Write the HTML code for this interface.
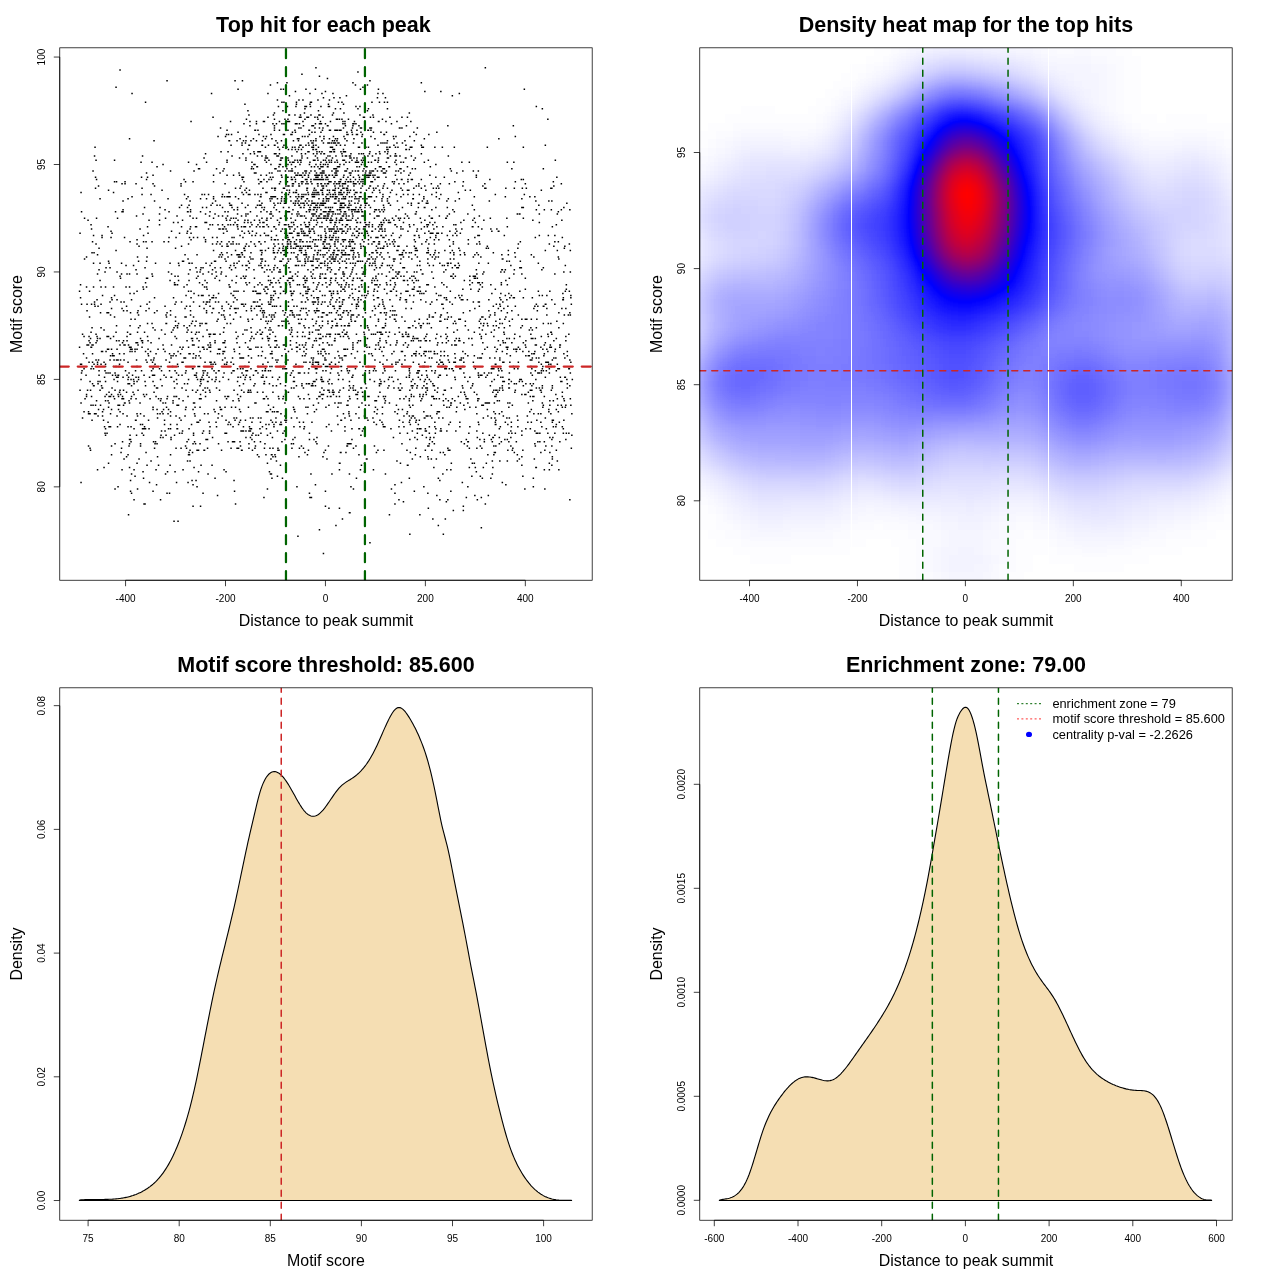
<!DOCTYPE html><html><head><meta charset="utf-8"><style>html,body{margin:0;padding:0;background:#fff}svg{display:block}text{font-family:"Liberation Sans",sans-serif}</style></head><body>
<svg width="1280" height="1280" viewBox="0 0 1280 1280" style="will-change:transform">
<defs>
<clipPath id="c0"><rect x="59.76" y="47.81" width="532.43" height="532.43"/></clipPath>
<clipPath id="c1"><rect x="699.76" y="47.81" width="532.43" height="532.43"/></clipPath>
<clipPath id="c2"><rect x="59.76" y="687.81" width="532.43" height="532.43"/></clipPath>
<clipPath id="c3"><rect x="699.76" y="687.81" width="532.43" height="532.43"/></clipPath>
<filter id="hm" x="0" y="0" width="1" height="1" color-interpolation-filters="sRGB"><feGaussianBlur stdDeviation="3.00"/><feComponentTransfer><feFuncR type="table" tableValues="1 0 1"/><feFuncG type="table" tableValues="1 0 0"/><feFuncB type="table" tableValues="1 1 0"/></feComponentTransfer></filter>
</defs>
<g clip-path="url(#c0)"><path d="M315.2 67.0h1.5v1.5h-1.5zM484.6 67.0h1.5v1.5h-1.5zM119.3 69.2h1.5v1.5h-1.5zM357.2 71.3h1.5v1.5h-1.5zM301.2 73.5h1.5v1.5h-1.5zM318.7 75.6h1.5v1.5h-1.5zM326.7 77.8h1.5v1.5h-1.5zM166.3 79.9h1.5v1.5h-1.5zM234.3 79.9h1.5v1.5h-1.5zM241.7 79.9h1.5v1.5h-1.5zM369.2 79.9h1.5v1.5h-1.5zM276.7 82.1h1.5v1.5h-1.5zM286.2 82.1h1.5v1.5h-1.5zM352.2 82.1h1.5v1.5h-1.5zM420.6 82.1h1.5v1.5h-1.5zM269.7 84.2h1.5v1.5h-1.5zM354.7 84.2h1.5v1.5h-1.5zM366.7 84.2h1.5v1.5h-1.5zM115.3 86.4h1.5v1.5h-1.5zM362.2 86.4h1.5v1.5h-1.5zM237.3 88.5h1.5v1.5h-1.5zM280.2 88.5h1.5v1.5h-1.5zM282.7 88.5h1.5v1.5h-1.5zM305.2 88.5h1.5v1.5h-1.5zM314.7 88.5h1.5v1.5h-1.5zM359.7 88.5h1.5v1.5h-1.5zM377.7 88.5h1.5v1.5h-1.5zM523.6 88.5h1.5v1.5h-1.5zM294.7 90.7h1.5v1.5h-1.5zM324.7 90.7h1.5v1.5h-1.5zM424.1 90.7h1.5v1.5h-1.5zM440.1 90.7h1.5v1.5h-1.5zM131.3 92.8h1.5v1.5h-1.5zM210.8 92.8h1.5v1.5h-1.5zM267.2 92.8h1.5v1.5h-1.5zM309.2 92.8h1.5v1.5h-1.5zM321.2 92.8h1.5v1.5h-1.5zM332.2 92.8h1.5v1.5h-1.5zM377.2 92.8h1.5v1.5h-1.5zM382.2 92.8h1.5v1.5h-1.5zM458.6 92.8h1.5v1.5h-1.5zM288.7 95.0h1.5v1.5h-1.5zM345.7 95.0h1.5v1.5h-1.5zM451.6 95.0h1.5v1.5h-1.5zM322.7 97.1h1.5v1.5h-1.5zM333.2 97.1h1.5v1.5h-1.5zM339.2 97.1h1.5v1.5h-1.5zM376.7 97.1h1.5v1.5h-1.5zM384.7 97.1h1.5v1.5h-1.5zM276.7 99.3h1.5v1.5h-1.5zM298.2 99.3h1.5v1.5h-1.5zM302.2 99.3h1.5v1.5h-1.5zM317.2 99.3h1.5v1.5h-1.5zM328.7 99.3h1.5v1.5h-1.5zM144.8 101.4h1.5v1.5h-1.5zM281.2 101.4h1.5v1.5h-1.5zM283.2 101.4h1.5v1.5h-1.5zM295.7 101.4h1.5v1.5h-1.5zM309.7 101.4h1.5v1.5h-1.5zM310.7 101.4h1.5v1.5h-1.5zM310.7 101.4h1.5v1.5h-1.5zM337.7 101.4h1.5v1.5h-1.5zM341.2 101.4h1.5v1.5h-1.5zM371.2 101.4h1.5v1.5h-1.5zM378.7 101.4h1.5v1.5h-1.5zM383.7 101.4h1.5v1.5h-1.5zM386.7 101.4h1.5v1.5h-1.5zM244.2 103.6h1.5v1.5h-1.5zM295.7 103.6h1.5v1.5h-1.5zM309.2 103.6h1.5v1.5h-1.5zM327.7 103.6h1.5v1.5h-1.5zM342.7 103.6h1.5v1.5h-1.5zM277.7 105.7h1.5v1.5h-1.5zM286.7 105.7h1.5v1.5h-1.5zM295.2 105.7h1.5v1.5h-1.5zM304.2 105.7h1.5v1.5h-1.5zM305.7 105.7h1.5v1.5h-1.5zM309.7 105.7h1.5v1.5h-1.5zM320.2 105.7h1.5v1.5h-1.5zM327.7 105.7h1.5v1.5h-1.5zM328.7 105.7h1.5v1.5h-1.5zM355.2 105.7h1.5v1.5h-1.5zM359.2 105.7h1.5v1.5h-1.5zM535.6 105.7h1.5v1.5h-1.5zM304.2 107.9h1.5v1.5h-1.5zM334.7 107.9h1.5v1.5h-1.5zM339.7 107.9h1.5v1.5h-1.5zM357.2 107.9h1.5v1.5h-1.5zM367.7 107.9h1.5v1.5h-1.5zM386.7 107.9h1.5v1.5h-1.5zM541.6 107.9h1.5v1.5h-1.5zM247.2 110.0h1.5v1.5h-1.5zM282.2 110.0h1.5v1.5h-1.5zM317.7 110.0h1.5v1.5h-1.5zM366.7 110.0h1.5v1.5h-1.5zM273.7 112.2h1.5v1.5h-1.5zM303.7 112.2h1.5v1.5h-1.5zM332.7 112.2h1.5v1.5h-1.5zM343.2 112.2h1.5v1.5h-1.5zM408.6 112.2h1.5v1.5h-1.5zM248.2 114.3h1.5v1.5h-1.5zM272.7 114.3h1.5v1.5h-1.5zM288.2 114.3h1.5v1.5h-1.5zM288.7 114.3h1.5v1.5h-1.5zM294.2 114.3h1.5v1.5h-1.5zM299.7 114.3h1.5v1.5h-1.5zM310.2 114.3h1.5v1.5h-1.5zM318.2 114.3h1.5v1.5h-1.5zM319.2 114.3h1.5v1.5h-1.5zM331.7 114.3h1.5v1.5h-1.5zM359.2 114.3h1.5v1.5h-1.5zM372.2 114.3h1.5v1.5h-1.5zM212.3 116.5h1.5v1.5h-1.5zM267.2 116.5h1.5v1.5h-1.5zM298.7 116.5h1.5v1.5h-1.5zM300.2 116.5h1.5v1.5h-1.5zM306.2 116.5h1.5v1.5h-1.5zM307.7 116.5h1.5v1.5h-1.5zM314.2 116.5h1.5v1.5h-1.5zM316.7 116.5h1.5v1.5h-1.5zM322.2 116.5h1.5v1.5h-1.5zM362.7 116.5h1.5v1.5h-1.5zM363.2 116.5h1.5v1.5h-1.5zM363.7 116.5h1.5v1.5h-1.5zM369.7 116.5h1.5v1.5h-1.5zM372.7 116.5h1.5v1.5h-1.5zM389.2 116.5h1.5v1.5h-1.5zM401.2 116.5h1.5v1.5h-1.5zM406.7 116.5h1.5v1.5h-1.5zM245.7 118.6h1.5v1.5h-1.5zM273.7 118.6h1.5v1.5h-1.5zM284.2 118.6h1.5v1.5h-1.5zM287.2 118.6h1.5v1.5h-1.5zM304.2 118.6h1.5v1.5h-1.5zM317.2 118.6h1.5v1.5h-1.5zM335.7 118.6h1.5v1.5h-1.5zM336.7 118.6h1.5v1.5h-1.5zM338.7 118.6h1.5v1.5h-1.5zM341.2 118.6h1.5v1.5h-1.5zM347.7 118.6h1.5v1.5h-1.5zM381.7 118.6h1.5v1.5h-1.5zM547.1 118.6h1.5v1.5h-1.5zM190.3 120.8h1.5v1.5h-1.5zM229.8 120.8h1.5v1.5h-1.5zM249.2 120.8h1.5v1.5h-1.5zM255.7 120.8h1.5v1.5h-1.5zM262.7 120.8h1.5v1.5h-1.5zM263.2 120.8h1.5v1.5h-1.5zM263.7 120.8h1.5v1.5h-1.5zM278.7 120.8h1.5v1.5h-1.5zM286.7 120.8h1.5v1.5h-1.5zM288.2 120.8h1.5v1.5h-1.5zM288.7 120.8h1.5v1.5h-1.5zM302.2 120.8h1.5v1.5h-1.5zM319.7 120.8h1.5v1.5h-1.5zM329.7 120.8h1.5v1.5h-1.5zM342.2 120.8h1.5v1.5h-1.5zM344.2 120.8h1.5v1.5h-1.5zM353.7 120.8h1.5v1.5h-1.5zM377.7 120.8h1.5v1.5h-1.5zM378.2 120.8h1.5v1.5h-1.5zM385.2 120.8h1.5v1.5h-1.5zM396.2 120.8h1.5v1.5h-1.5zM410.1 120.8h1.5v1.5h-1.5zM243.2 122.9h1.5v1.5h-1.5zM255.7 122.9h1.5v1.5h-1.5zM272.2 122.9h1.5v1.5h-1.5zM275.7 122.9h1.5v1.5h-1.5zM281.2 122.9h1.5v1.5h-1.5zM281.2 122.9h1.5v1.5h-1.5zM283.2 122.9h1.5v1.5h-1.5zM294.7 122.9h1.5v1.5h-1.5zM296.2 122.9h1.5v1.5h-1.5zM298.7 122.9h1.5v1.5h-1.5zM314.7 122.9h1.5v1.5h-1.5zM318.7 122.9h1.5v1.5h-1.5zM320.2 122.9h1.5v1.5h-1.5zM320.7 122.9h1.5v1.5h-1.5zM324.7 122.9h1.5v1.5h-1.5zM342.2 122.9h1.5v1.5h-1.5zM344.2 122.9h1.5v1.5h-1.5zM352.2 122.9h1.5v1.5h-1.5zM353.2 122.9h1.5v1.5h-1.5zM355.2 122.9h1.5v1.5h-1.5zM390.7 122.9h1.5v1.5h-1.5zM249.2 125.1h1.5v1.5h-1.5zM273.7 125.1h1.5v1.5h-1.5zM302.7 125.1h1.5v1.5h-1.5zM311.2 125.1h1.5v1.5h-1.5zM311.2 125.1h1.5v1.5h-1.5zM312.7 125.1h1.5v1.5h-1.5zM326.7 125.1h1.5v1.5h-1.5zM327.2 125.1h1.5v1.5h-1.5zM344.7 125.1h1.5v1.5h-1.5zM352.2 125.1h1.5v1.5h-1.5zM358.2 125.1h1.5v1.5h-1.5zM405.7 125.1h1.5v1.5h-1.5zM447.1 125.1h1.5v1.5h-1.5zM512.6 125.1h1.5v1.5h-1.5zM219.8 127.2h1.5v1.5h-1.5zM273.7 127.2h1.5v1.5h-1.5zM298.2 127.2h1.5v1.5h-1.5zM300.2 127.2h1.5v1.5h-1.5zM314.2 127.2h1.5v1.5h-1.5zM318.7 127.2h1.5v1.5h-1.5zM322.2 127.2h1.5v1.5h-1.5zM342.7 127.2h1.5v1.5h-1.5zM342.7 127.2h1.5v1.5h-1.5zM351.7 127.2h1.5v1.5h-1.5zM359.7 127.2h1.5v1.5h-1.5zM360.7 127.2h1.5v1.5h-1.5zM369.2 127.2h1.5v1.5h-1.5zM370.7 127.2h1.5v1.5h-1.5zM398.7 127.2h1.5v1.5h-1.5zM399.2 127.2h1.5v1.5h-1.5zM401.2 127.2h1.5v1.5h-1.5zM416.6 127.2h1.5v1.5h-1.5zM226.3 129.4h1.5v1.5h-1.5zM254.2 129.4h1.5v1.5h-1.5zM254.7 129.4h1.5v1.5h-1.5zM257.2 129.4h1.5v1.5h-1.5zM273.7 129.4h1.5v1.5h-1.5zM278.7 129.4h1.5v1.5h-1.5zM287.2 129.4h1.5v1.5h-1.5zM294.2 129.4h1.5v1.5h-1.5zM308.2 129.4h1.5v1.5h-1.5zM308.7 129.4h1.5v1.5h-1.5zM321.7 129.4h1.5v1.5h-1.5zM328.7 129.4h1.5v1.5h-1.5zM329.7 129.4h1.5v1.5h-1.5zM334.2 129.4h1.5v1.5h-1.5zM335.7 129.4h1.5v1.5h-1.5zM336.7 129.4h1.5v1.5h-1.5zM338.7 129.4h1.5v1.5h-1.5zM340.2 129.4h1.5v1.5h-1.5zM350.7 129.4h1.5v1.5h-1.5zM356.2 129.4h1.5v1.5h-1.5zM367.2 129.4h1.5v1.5h-1.5zM367.7 129.4h1.5v1.5h-1.5zM370.2 129.4h1.5v1.5h-1.5zM237.3 131.5h1.5v1.5h-1.5zM291.7 131.5h1.5v1.5h-1.5zM294.7 131.5h1.5v1.5h-1.5zM311.2 131.5h1.5v1.5h-1.5zM314.2 131.5h1.5v1.5h-1.5zM320.2 131.5h1.5v1.5h-1.5zM346.2 131.5h1.5v1.5h-1.5zM351.2 131.5h1.5v1.5h-1.5zM360.2 131.5h1.5v1.5h-1.5zM372.7 131.5h1.5v1.5h-1.5zM380.2 131.5h1.5v1.5h-1.5zM385.7 131.5h1.5v1.5h-1.5zM413.1 131.5h1.5v1.5h-1.5zM436.1 131.5h1.5v1.5h-1.5zM225.8 133.7h1.5v1.5h-1.5zM227.8 133.7h1.5v1.5h-1.5zM230.8 133.7h1.5v1.5h-1.5zM258.2 133.7h1.5v1.5h-1.5zM270.2 133.7h1.5v1.5h-1.5zM282.7 133.7h1.5v1.5h-1.5zM283.7 133.7h1.5v1.5h-1.5zM290.2 133.7h1.5v1.5h-1.5zM291.2 133.7h1.5v1.5h-1.5zM308.7 133.7h1.5v1.5h-1.5zM346.2 133.7h1.5v1.5h-1.5zM347.2 133.7h1.5v1.5h-1.5zM351.7 133.7h1.5v1.5h-1.5zM355.7 133.7h1.5v1.5h-1.5zM356.7 133.7h1.5v1.5h-1.5zM361.7 133.7h1.5v1.5h-1.5zM383.2 133.7h1.5v1.5h-1.5zM383.7 133.7h1.5v1.5h-1.5zM415.6 133.7h1.5v1.5h-1.5zM428.1 133.7h1.5v1.5h-1.5zM217.3 135.8h1.5v1.5h-1.5zM224.8 135.8h1.5v1.5h-1.5zM245.2 135.8h1.5v1.5h-1.5zM262.7 135.8h1.5v1.5h-1.5zM265.7 135.8h1.5v1.5h-1.5zM301.7 135.8h1.5v1.5h-1.5zM304.2 135.8h1.5v1.5h-1.5zM307.2 135.8h1.5v1.5h-1.5zM319.2 135.8h1.5v1.5h-1.5zM323.2 135.8h1.5v1.5h-1.5zM332.7 135.8h1.5v1.5h-1.5zM343.2 135.8h1.5v1.5h-1.5zM361.2 135.8h1.5v1.5h-1.5zM370.2 135.8h1.5v1.5h-1.5zM392.7 135.8h1.5v1.5h-1.5zM395.2 135.8h1.5v1.5h-1.5zM409.1 135.8h1.5v1.5h-1.5zM514.6 135.8h1.5v1.5h-1.5zM128.8 138.0h1.5v1.5h-1.5zM239.3 138.0h1.5v1.5h-1.5zM252.7 138.0h1.5v1.5h-1.5zM264.7 138.0h1.5v1.5h-1.5zM271.2 138.0h1.5v1.5h-1.5zM296.7 138.0h1.5v1.5h-1.5zM298.2 138.0h1.5v1.5h-1.5zM315.2 138.0h1.5v1.5h-1.5zM323.2 138.0h1.5v1.5h-1.5zM328.7 138.0h1.5v1.5h-1.5zM334.7 138.0h1.5v1.5h-1.5zM336.7 138.0h1.5v1.5h-1.5zM344.2 138.0h1.5v1.5h-1.5zM353.2 138.0h1.5v1.5h-1.5zM374.2 138.0h1.5v1.5h-1.5zM393.2 138.0h1.5v1.5h-1.5zM423.6 138.0h1.5v1.5h-1.5zM498.1 138.0h1.5v1.5h-1.5zM153.3 140.1h1.5v1.5h-1.5zM228.3 140.1h1.5v1.5h-1.5zM228.8 140.1h1.5v1.5h-1.5zM236.3 140.1h1.5v1.5h-1.5zM242.7 140.1h1.5v1.5h-1.5zM245.2 140.1h1.5v1.5h-1.5zM250.2 140.1h1.5v1.5h-1.5zM255.7 140.1h1.5v1.5h-1.5zM261.7 140.1h1.5v1.5h-1.5zM275.2 140.1h1.5v1.5h-1.5zM280.7 140.1h1.5v1.5h-1.5zM292.7 140.1h1.5v1.5h-1.5zM297.7 140.1h1.5v1.5h-1.5zM297.7 140.1h1.5v1.5h-1.5zM310.2 140.1h1.5v1.5h-1.5zM310.2 140.1h1.5v1.5h-1.5zM312.7 140.1h1.5v1.5h-1.5zM315.2 140.1h1.5v1.5h-1.5zM321.2 140.1h1.5v1.5h-1.5zM331.7 140.1h1.5v1.5h-1.5zM333.7 140.1h1.5v1.5h-1.5zM336.2 140.1h1.5v1.5h-1.5zM346.2 140.1h1.5v1.5h-1.5zM386.7 140.1h1.5v1.5h-1.5zM404.2 140.1h1.5v1.5h-1.5zM404.2 140.1h1.5v1.5h-1.5zM413.6 140.1h1.5v1.5h-1.5zM241.3 142.3h1.5v1.5h-1.5zM244.7 142.3h1.5v1.5h-1.5zM276.7 142.3h1.5v1.5h-1.5zM307.7 142.3h1.5v1.5h-1.5zM311.2 142.3h1.5v1.5h-1.5zM312.2 142.3h1.5v1.5h-1.5zM322.7 142.3h1.5v1.5h-1.5zM327.2 142.3h1.5v1.5h-1.5zM328.7 142.3h1.5v1.5h-1.5zM330.7 142.3h1.5v1.5h-1.5zM332.7 142.3h1.5v1.5h-1.5zM334.2 142.3h1.5v1.5h-1.5zM334.7 142.3h1.5v1.5h-1.5zM337.2 142.3h1.5v1.5h-1.5zM338.2 142.3h1.5v1.5h-1.5zM352.7 142.3h1.5v1.5h-1.5zM361.2 142.3h1.5v1.5h-1.5zM380.2 142.3h1.5v1.5h-1.5zM382.2 142.3h1.5v1.5h-1.5zM384.2 142.3h1.5v1.5h-1.5zM386.2 142.3h1.5v1.5h-1.5zM396.2 142.3h1.5v1.5h-1.5zM401.7 142.3h1.5v1.5h-1.5zM230.3 144.4h1.5v1.5h-1.5zM241.3 144.4h1.5v1.5h-1.5zM248.2 144.4h1.5v1.5h-1.5zM248.7 144.4h1.5v1.5h-1.5zM261.2 144.4h1.5v1.5h-1.5zM261.7 144.4h1.5v1.5h-1.5zM267.7 144.4h1.5v1.5h-1.5zM273.7 144.4h1.5v1.5h-1.5zM274.2 144.4h1.5v1.5h-1.5zM283.2 144.4h1.5v1.5h-1.5zM299.2 144.4h1.5v1.5h-1.5zM300.2 144.4h1.5v1.5h-1.5zM305.2 144.4h1.5v1.5h-1.5zM308.2 144.4h1.5v1.5h-1.5zM312.7 144.4h1.5v1.5h-1.5zM315.2 144.4h1.5v1.5h-1.5zM335.7 144.4h1.5v1.5h-1.5zM339.7 144.4h1.5v1.5h-1.5zM344.2 144.4h1.5v1.5h-1.5zM377.2 144.4h1.5v1.5h-1.5zM393.2 144.4h1.5v1.5h-1.5zM405.2 144.4h1.5v1.5h-1.5zM420.6 144.4h1.5v1.5h-1.5zM544.6 144.4h1.5v1.5h-1.5zM94.3 146.6h1.5v1.5h-1.5zM264.7 146.6h1.5v1.5h-1.5zM277.2 146.6h1.5v1.5h-1.5zM282.2 146.6h1.5v1.5h-1.5zM285.7 146.6h1.5v1.5h-1.5zM286.2 146.6h1.5v1.5h-1.5zM291.7 146.6h1.5v1.5h-1.5zM294.2 146.6h1.5v1.5h-1.5zM298.2 146.6h1.5v1.5h-1.5zM302.2 146.6h1.5v1.5h-1.5zM311.2 146.6h1.5v1.5h-1.5zM312.7 146.6h1.5v1.5h-1.5zM317.7 146.6h1.5v1.5h-1.5zM329.7 146.6h1.5v1.5h-1.5zM330.2 146.6h1.5v1.5h-1.5zM331.7 146.6h1.5v1.5h-1.5zM357.7 146.6h1.5v1.5h-1.5zM358.7 146.6h1.5v1.5h-1.5zM365.2 146.6h1.5v1.5h-1.5zM367.7 146.6h1.5v1.5h-1.5zM386.2 146.6h1.5v1.5h-1.5zM388.7 146.6h1.5v1.5h-1.5zM389.2 146.6h1.5v1.5h-1.5zM394.7 146.6h1.5v1.5h-1.5zM397.2 146.6h1.5v1.5h-1.5zM397.2 146.6h1.5v1.5h-1.5zM409.6 146.6h1.5v1.5h-1.5zM411.1 146.6h1.5v1.5h-1.5zM411.1 146.6h1.5v1.5h-1.5zM421.1 146.6h1.5v1.5h-1.5zM422.6 146.6h1.5v1.5h-1.5zM434.1 146.6h1.5v1.5h-1.5zM441.6 146.6h1.5v1.5h-1.5zM453.6 146.6h1.5v1.5h-1.5zM486.6 146.6h1.5v1.5h-1.5zM522.6 146.6h1.5v1.5h-1.5zM247.2 148.7h1.5v1.5h-1.5zM278.7 148.7h1.5v1.5h-1.5zM287.7 148.7h1.5v1.5h-1.5zM291.2 148.7h1.5v1.5h-1.5zM294.7 148.7h1.5v1.5h-1.5zM297.7 148.7h1.5v1.5h-1.5zM300.7 148.7h1.5v1.5h-1.5zM312.2 148.7h1.5v1.5h-1.5zM312.7 148.7h1.5v1.5h-1.5zM315.2 148.7h1.5v1.5h-1.5zM315.2 148.7h1.5v1.5h-1.5zM315.7 148.7h1.5v1.5h-1.5zM332.2 148.7h1.5v1.5h-1.5zM333.7 148.7h1.5v1.5h-1.5zM342.7 148.7h1.5v1.5h-1.5zM386.2 148.7h1.5v1.5h-1.5zM387.2 148.7h1.5v1.5h-1.5zM405.2 148.7h1.5v1.5h-1.5zM405.7 148.7h1.5v1.5h-1.5zM408.6 148.7h1.5v1.5h-1.5zM220.3 150.9h1.5v1.5h-1.5zM227.3 150.9h1.5v1.5h-1.5zM253.2 150.9h1.5v1.5h-1.5zM257.2 150.9h1.5v1.5h-1.5zM258.7 150.9h1.5v1.5h-1.5zM259.7 150.9h1.5v1.5h-1.5zM296.2 150.9h1.5v1.5h-1.5zM307.2 150.9h1.5v1.5h-1.5zM308.2 150.9h1.5v1.5h-1.5zM316.2 150.9h1.5v1.5h-1.5zM318.7 150.9h1.5v1.5h-1.5zM321.2 150.9h1.5v1.5h-1.5zM321.2 150.9h1.5v1.5h-1.5zM329.2 150.9h1.5v1.5h-1.5zM330.7 150.9h1.5v1.5h-1.5zM333.2 150.9h1.5v1.5h-1.5zM333.7 150.9h1.5v1.5h-1.5zM340.2 150.9h1.5v1.5h-1.5zM342.7 150.9h1.5v1.5h-1.5zM343.7 150.9h1.5v1.5h-1.5zM344.7 150.9h1.5v1.5h-1.5zM369.2 150.9h1.5v1.5h-1.5zM378.7 150.9h1.5v1.5h-1.5zM384.2 150.9h1.5v1.5h-1.5zM387.2 150.9h1.5v1.5h-1.5zM204.8 153.0h1.5v1.5h-1.5zM242.2 153.0h1.5v1.5h-1.5zM249.7 153.0h1.5v1.5h-1.5zM253.7 153.0h1.5v1.5h-1.5zM273.7 153.0h1.5v1.5h-1.5zM275.2 153.0h1.5v1.5h-1.5zM278.7 153.0h1.5v1.5h-1.5zM300.7 153.0h1.5v1.5h-1.5zM304.7 153.0h1.5v1.5h-1.5zM312.7 153.0h1.5v1.5h-1.5zM316.2 153.0h1.5v1.5h-1.5zM320.2 153.0h1.5v1.5h-1.5zM323.2 153.0h1.5v1.5h-1.5zM323.7 153.0h1.5v1.5h-1.5zM341.2 153.0h1.5v1.5h-1.5zM350.2 153.0h1.5v1.5h-1.5zM358.2 153.0h1.5v1.5h-1.5zM360.7 153.0h1.5v1.5h-1.5zM362.7 153.0h1.5v1.5h-1.5zM368.7 153.0h1.5v1.5h-1.5zM375.2 153.0h1.5v1.5h-1.5zM379.2 153.0h1.5v1.5h-1.5zM379.2 153.0h1.5v1.5h-1.5zM386.7 153.0h1.5v1.5h-1.5zM394.7 153.0h1.5v1.5h-1.5zM420.6 153.0h1.5v1.5h-1.5zM93.8 155.2h1.5v1.5h-1.5zM141.8 155.2h1.5v1.5h-1.5zM231.3 155.2h1.5v1.5h-1.5zM256.7 155.2h1.5v1.5h-1.5zM261.2 155.2h1.5v1.5h-1.5zM265.2 155.2h1.5v1.5h-1.5zM276.2 155.2h1.5v1.5h-1.5zM276.7 155.2h1.5v1.5h-1.5zM277.7 155.2h1.5v1.5h-1.5zM291.2 155.2h1.5v1.5h-1.5zM301.2 155.2h1.5v1.5h-1.5zM314.7 155.2h1.5v1.5h-1.5zM327.2 155.2h1.5v1.5h-1.5zM329.2 155.2h1.5v1.5h-1.5zM335.2 155.2h1.5v1.5h-1.5zM341.7 155.2h1.5v1.5h-1.5zM344.7 155.2h1.5v1.5h-1.5zM345.7 155.2h1.5v1.5h-1.5zM348.7 155.2h1.5v1.5h-1.5zM349.2 155.2h1.5v1.5h-1.5zM349.7 155.2h1.5v1.5h-1.5zM363.7 155.2h1.5v1.5h-1.5zM367.2 155.2h1.5v1.5h-1.5zM371.7 155.2h1.5v1.5h-1.5zM389.7 155.2h1.5v1.5h-1.5zM394.2 155.2h1.5v1.5h-1.5zM395.7 155.2h1.5v1.5h-1.5zM399.2 155.2h1.5v1.5h-1.5zM410.6 155.2h1.5v1.5h-1.5zM447.6 155.2h1.5v1.5h-1.5zM203.3 157.3h1.5v1.5h-1.5zM238.8 157.3h1.5v1.5h-1.5zM245.2 157.3h1.5v1.5h-1.5zM264.7 157.3h1.5v1.5h-1.5zM265.7 157.3h1.5v1.5h-1.5zM266.7 157.3h1.5v1.5h-1.5zM280.2 157.3h1.5v1.5h-1.5zM281.7 157.3h1.5v1.5h-1.5zM287.2 157.3h1.5v1.5h-1.5zM301.2 157.3h1.5v1.5h-1.5zM306.7 157.3h1.5v1.5h-1.5zM316.7 157.3h1.5v1.5h-1.5zM325.7 157.3h1.5v1.5h-1.5zM331.7 157.3h1.5v1.5h-1.5zM349.2 157.3h1.5v1.5h-1.5zM350.2 157.3h1.5v1.5h-1.5zM353.2 157.3h1.5v1.5h-1.5zM356.2 157.3h1.5v1.5h-1.5zM362.2 157.3h1.5v1.5h-1.5zM377.7 157.3h1.5v1.5h-1.5zM386.7 157.3h1.5v1.5h-1.5zM387.7 157.3h1.5v1.5h-1.5zM404.7 157.3h1.5v1.5h-1.5zM405.2 157.3h1.5v1.5h-1.5zM414.6 157.3h1.5v1.5h-1.5zM95.3 159.5h1.5v1.5h-1.5zM113.8 159.5h1.5v1.5h-1.5zM226.3 159.5h1.5v1.5h-1.5zM245.2 159.5h1.5v1.5h-1.5zM264.2 159.5h1.5v1.5h-1.5zM268.2 159.5h1.5v1.5h-1.5zM279.7 159.5h1.5v1.5h-1.5zM280.2 159.5h1.5v1.5h-1.5zM287.7 159.5h1.5v1.5h-1.5zM287.7 159.5h1.5v1.5h-1.5zM294.2 159.5h1.5v1.5h-1.5zM296.7 159.5h1.5v1.5h-1.5zM296.7 159.5h1.5v1.5h-1.5zM299.2 159.5h1.5v1.5h-1.5zM300.2 159.5h1.5v1.5h-1.5zM312.7 159.5h1.5v1.5h-1.5zM314.2 159.5h1.5v1.5h-1.5zM317.2 159.5h1.5v1.5h-1.5zM322.7 159.5h1.5v1.5h-1.5zM324.7 159.5h1.5v1.5h-1.5zM328.2 159.5h1.5v1.5h-1.5zM330.7 159.5h1.5v1.5h-1.5zM336.2 159.5h1.5v1.5h-1.5zM342.2 159.5h1.5v1.5h-1.5zM343.7 159.5h1.5v1.5h-1.5zM351.2 159.5h1.5v1.5h-1.5zM356.2 159.5h1.5v1.5h-1.5zM360.7 159.5h1.5v1.5h-1.5zM362.7 159.5h1.5v1.5h-1.5zM374.2 159.5h1.5v1.5h-1.5zM374.7 159.5h1.5v1.5h-1.5zM377.7 159.5h1.5v1.5h-1.5zM395.2 159.5h1.5v1.5h-1.5zM413.1 159.5h1.5v1.5h-1.5zM427.6 159.5h1.5v1.5h-1.5zM554.6 159.5h1.5v1.5h-1.5zM140.3 161.6h1.5v1.5h-1.5zM151.3 161.6h1.5v1.5h-1.5zM187.8 161.6h1.5v1.5h-1.5zM205.8 161.6h1.5v1.5h-1.5zM226.3 161.6h1.5v1.5h-1.5zM251.2 161.6h1.5v1.5h-1.5zM265.7 161.6h1.5v1.5h-1.5zM289.2 161.6h1.5v1.5h-1.5zM291.7 161.6h1.5v1.5h-1.5zM293.2 161.6h1.5v1.5h-1.5zM297.2 161.6h1.5v1.5h-1.5zM300.2 161.6h1.5v1.5h-1.5zM309.2 161.6h1.5v1.5h-1.5zM320.2 161.6h1.5v1.5h-1.5zM325.7 161.6h1.5v1.5h-1.5zM328.7 161.6h1.5v1.5h-1.5zM330.7 161.6h1.5v1.5h-1.5zM334.2 161.6h1.5v1.5h-1.5zM336.7 161.6h1.5v1.5h-1.5zM345.2 161.6h1.5v1.5h-1.5zM348.7 161.6h1.5v1.5h-1.5zM354.7 161.6h1.5v1.5h-1.5zM355.7 161.6h1.5v1.5h-1.5zM356.2 161.6h1.5v1.5h-1.5zM357.7 161.6h1.5v1.5h-1.5zM361.7 161.6h1.5v1.5h-1.5zM367.7 161.6h1.5v1.5h-1.5zM370.7 161.6h1.5v1.5h-1.5zM377.2 161.6h1.5v1.5h-1.5zM385.7 161.6h1.5v1.5h-1.5zM394.2 161.6h1.5v1.5h-1.5zM400.2 161.6h1.5v1.5h-1.5zM402.7 161.6h1.5v1.5h-1.5zM423.6 161.6h1.5v1.5h-1.5zM423.6 161.6h1.5v1.5h-1.5zM461.1 161.6h1.5v1.5h-1.5zM468.6 161.6h1.5v1.5h-1.5zM506.6 161.6h1.5v1.5h-1.5zM513.1 161.6h1.5v1.5h-1.5zM162.3 163.8h1.5v1.5h-1.5zM195.8 163.8h1.5v1.5h-1.5zM253.2 163.8h1.5v1.5h-1.5zM254.2 163.8h1.5v1.5h-1.5zM270.2 163.8h1.5v1.5h-1.5zM278.7 163.8h1.5v1.5h-1.5zM279.7 163.8h1.5v1.5h-1.5zM287.2 163.8h1.5v1.5h-1.5zM290.7 163.8h1.5v1.5h-1.5zM299.2 163.8h1.5v1.5h-1.5zM308.7 163.8h1.5v1.5h-1.5zM315.2 163.8h1.5v1.5h-1.5zM319.7 163.8h1.5v1.5h-1.5zM322.7 163.8h1.5v1.5h-1.5zM324.7 163.8h1.5v1.5h-1.5zM327.2 163.8h1.5v1.5h-1.5zM339.2 163.8h1.5v1.5h-1.5zM343.2 163.8h1.5v1.5h-1.5zM360.7 163.8h1.5v1.5h-1.5zM363.7 163.8h1.5v1.5h-1.5zM395.7 163.8h1.5v1.5h-1.5zM435.1 163.8h1.5v1.5h-1.5zM156.3 165.9h1.5v1.5h-1.5zM251.2 165.9h1.5v1.5h-1.5zM256.2 165.9h1.5v1.5h-1.5zM256.7 165.9h1.5v1.5h-1.5zM278.2 165.9h1.5v1.5h-1.5zM282.2 165.9h1.5v1.5h-1.5zM285.7 165.9h1.5v1.5h-1.5zM294.7 165.9h1.5v1.5h-1.5zM310.7 165.9h1.5v1.5h-1.5zM313.7 165.9h1.5v1.5h-1.5zM317.2 165.9h1.5v1.5h-1.5zM320.2 165.9h1.5v1.5h-1.5zM321.2 165.9h1.5v1.5h-1.5zM322.2 165.9h1.5v1.5h-1.5zM326.7 165.9h1.5v1.5h-1.5zM327.2 165.9h1.5v1.5h-1.5zM336.7 165.9h1.5v1.5h-1.5zM337.7 165.9h1.5v1.5h-1.5zM338.7 165.9h1.5v1.5h-1.5zM356.2 165.9h1.5v1.5h-1.5zM358.7 165.9h1.5v1.5h-1.5zM365.2 165.9h1.5v1.5h-1.5zM366.2 165.9h1.5v1.5h-1.5zM378.7 165.9h1.5v1.5h-1.5zM380.2 165.9h1.5v1.5h-1.5zM388.2 165.9h1.5v1.5h-1.5zM388.7 165.9h1.5v1.5h-1.5zM406.7 165.9h1.5v1.5h-1.5zM406.7 165.9h1.5v1.5h-1.5zM429.6 165.9h1.5v1.5h-1.5zM197.8 168.0h1.5v1.5h-1.5zM198.8 168.0h1.5v1.5h-1.5zM215.8 168.0h1.5v1.5h-1.5zM223.3 168.0h1.5v1.5h-1.5zM250.7 168.0h1.5v1.5h-1.5zM252.7 168.0h1.5v1.5h-1.5zM274.2 168.0h1.5v1.5h-1.5zM275.2 168.0h1.5v1.5h-1.5zM286.2 168.0h1.5v1.5h-1.5zM291.2 168.0h1.5v1.5h-1.5zM318.7 168.0h1.5v1.5h-1.5zM319.2 168.0h1.5v1.5h-1.5zM333.2 168.0h1.5v1.5h-1.5zM334.2 168.0h1.5v1.5h-1.5zM335.2 168.0h1.5v1.5h-1.5zM335.7 168.0h1.5v1.5h-1.5zM346.7 168.0h1.5v1.5h-1.5zM363.2 168.0h1.5v1.5h-1.5zM374.7 168.0h1.5v1.5h-1.5zM382.2 168.0h1.5v1.5h-1.5zM383.7 168.0h1.5v1.5h-1.5zM399.2 168.0h1.5v1.5h-1.5zM400.2 168.0h1.5v1.5h-1.5zM411.6 168.0h1.5v1.5h-1.5zM414.6 168.0h1.5v1.5h-1.5zM449.6 168.0h1.5v1.5h-1.5zM511.1 168.0h1.5v1.5h-1.5zM542.6 168.0h1.5v1.5h-1.5zM92.3 170.2h1.5v1.5h-1.5zM169.8 170.2h1.5v1.5h-1.5zM193.3 170.2h1.5v1.5h-1.5zM193.3 170.2h1.5v1.5h-1.5zM222.3 170.2h1.5v1.5h-1.5zM277.2 170.2h1.5v1.5h-1.5zM279.2 170.2h1.5v1.5h-1.5zM284.7 170.2h1.5v1.5h-1.5zM288.2 170.2h1.5v1.5h-1.5zM290.2 170.2h1.5v1.5h-1.5zM291.7 170.2h1.5v1.5h-1.5zM304.2 170.2h1.5v1.5h-1.5zM304.2 170.2h1.5v1.5h-1.5zM305.2 170.2h1.5v1.5h-1.5zM305.7 170.2h1.5v1.5h-1.5zM310.2 170.2h1.5v1.5h-1.5zM314.2 170.2h1.5v1.5h-1.5zM321.7 170.2h1.5v1.5h-1.5zM323.2 170.2h1.5v1.5h-1.5zM331.2 170.2h1.5v1.5h-1.5zM335.2 170.2h1.5v1.5h-1.5zM335.7 170.2h1.5v1.5h-1.5zM337.2 170.2h1.5v1.5h-1.5zM344.2 170.2h1.5v1.5h-1.5zM344.7 170.2h1.5v1.5h-1.5zM345.7 170.2h1.5v1.5h-1.5zM351.7 170.2h1.5v1.5h-1.5zM354.7 170.2h1.5v1.5h-1.5zM357.2 170.2h1.5v1.5h-1.5zM357.7 170.2h1.5v1.5h-1.5zM357.7 170.2h1.5v1.5h-1.5zM362.2 170.2h1.5v1.5h-1.5zM365.2 170.2h1.5v1.5h-1.5zM369.2 170.2h1.5v1.5h-1.5zM371.2 170.2h1.5v1.5h-1.5zM372.7 170.2h1.5v1.5h-1.5zM376.7 170.2h1.5v1.5h-1.5zM380.7 170.2h1.5v1.5h-1.5zM381.2 170.2h1.5v1.5h-1.5zM385.7 170.2h1.5v1.5h-1.5zM395.2 170.2h1.5v1.5h-1.5zM397.7 170.2h1.5v1.5h-1.5zM403.2 170.2h1.5v1.5h-1.5zM450.6 170.2h1.5v1.5h-1.5zM462.1 170.2h1.5v1.5h-1.5zM472.6 170.2h1.5v1.5h-1.5zM477.6 170.2h1.5v1.5h-1.5zM145.8 172.3h1.5v1.5h-1.5zM219.3 172.3h1.5v1.5h-1.5zM238.3 172.3h1.5v1.5h-1.5zM253.7 172.3h1.5v1.5h-1.5zM255.2 172.3h1.5v1.5h-1.5zM268.7 172.3h1.5v1.5h-1.5zM271.2 172.3h1.5v1.5h-1.5zM294.2 172.3h1.5v1.5h-1.5zM297.2 172.3h1.5v1.5h-1.5zM302.2 172.3h1.5v1.5h-1.5zM302.2 172.3h1.5v1.5h-1.5zM305.2 172.3h1.5v1.5h-1.5zM308.7 172.3h1.5v1.5h-1.5zM315.7 172.3h1.5v1.5h-1.5zM319.7 172.3h1.5v1.5h-1.5zM320.7 172.3h1.5v1.5h-1.5zM322.2 172.3h1.5v1.5h-1.5zM323.2 172.3h1.5v1.5h-1.5zM334.2 172.3h1.5v1.5h-1.5zM335.7 172.3h1.5v1.5h-1.5zM348.7 172.3h1.5v1.5h-1.5zM350.2 172.3h1.5v1.5h-1.5zM364.7 172.3h1.5v1.5h-1.5zM368.7 172.3h1.5v1.5h-1.5zM370.2 172.3h1.5v1.5h-1.5zM370.2 172.3h1.5v1.5h-1.5zM382.7 172.3h1.5v1.5h-1.5zM382.7 172.3h1.5v1.5h-1.5zM384.2 172.3h1.5v1.5h-1.5zM384.7 172.3h1.5v1.5h-1.5zM400.2 172.3h1.5v1.5h-1.5zM409.6 172.3h1.5v1.5h-1.5zM456.1 172.3h1.5v1.5h-1.5zM152.3 174.5h1.5v1.5h-1.5zM212.8 174.5h1.5v1.5h-1.5zM226.3 174.5h1.5v1.5h-1.5zM232.8 174.5h1.5v1.5h-1.5zM238.8 174.5h1.5v1.5h-1.5zM260.2 174.5h1.5v1.5h-1.5zM265.7 174.5h1.5v1.5h-1.5zM280.7 174.5h1.5v1.5h-1.5zM285.2 174.5h1.5v1.5h-1.5zM295.2 174.5h1.5v1.5h-1.5zM296.2 174.5h1.5v1.5h-1.5zM296.7 174.5h1.5v1.5h-1.5zM298.7 174.5h1.5v1.5h-1.5zM300.2 174.5h1.5v1.5h-1.5zM300.7 174.5h1.5v1.5h-1.5zM303.7 174.5h1.5v1.5h-1.5zM303.7 174.5h1.5v1.5h-1.5zM304.2 174.5h1.5v1.5h-1.5zM307.7 174.5h1.5v1.5h-1.5zM314.2 174.5h1.5v1.5h-1.5zM315.2 174.5h1.5v1.5h-1.5zM315.7 174.5h1.5v1.5h-1.5zM316.7 174.5h1.5v1.5h-1.5zM317.2 174.5h1.5v1.5h-1.5zM317.7 174.5h1.5v1.5h-1.5zM318.7 174.5h1.5v1.5h-1.5zM321.2 174.5h1.5v1.5h-1.5zM324.7 174.5h1.5v1.5h-1.5zM325.2 174.5h1.5v1.5h-1.5zM328.2 174.5h1.5v1.5h-1.5zM328.7 174.5h1.5v1.5h-1.5zM331.7 174.5h1.5v1.5h-1.5zM334.7 174.5h1.5v1.5h-1.5zM336.2 174.5h1.5v1.5h-1.5zM343.2 174.5h1.5v1.5h-1.5zM349.7 174.5h1.5v1.5h-1.5zM357.7 174.5h1.5v1.5h-1.5zM362.2 174.5h1.5v1.5h-1.5zM364.2 174.5h1.5v1.5h-1.5zM365.2 174.5h1.5v1.5h-1.5zM366.2 174.5h1.5v1.5h-1.5zM367.7 174.5h1.5v1.5h-1.5zM368.2 174.5h1.5v1.5h-1.5zM369.7 174.5h1.5v1.5h-1.5zM372.2 174.5h1.5v1.5h-1.5zM374.2 174.5h1.5v1.5h-1.5zM394.7 174.5h1.5v1.5h-1.5zM408.1 174.5h1.5v1.5h-1.5zM429.1 174.5h1.5v1.5h-1.5zM475.6 174.5h1.5v1.5h-1.5zM94.8 176.6h1.5v1.5h-1.5zM140.8 176.6h1.5v1.5h-1.5zM146.8 176.6h1.5v1.5h-1.5zM241.3 176.6h1.5v1.5h-1.5zM242.2 176.6h1.5v1.5h-1.5zM242.7 176.6h1.5v1.5h-1.5zM269.7 176.6h1.5v1.5h-1.5zM272.2 176.6h1.5v1.5h-1.5zM281.2 176.6h1.5v1.5h-1.5zM285.7 176.6h1.5v1.5h-1.5zM287.2 176.6h1.5v1.5h-1.5zM290.7 176.6h1.5v1.5h-1.5zM293.7 176.6h1.5v1.5h-1.5zM301.7 176.6h1.5v1.5h-1.5zM307.7 176.6h1.5v1.5h-1.5zM315.2 176.6h1.5v1.5h-1.5zM315.2 176.6h1.5v1.5h-1.5zM316.7 176.6h1.5v1.5h-1.5zM317.2 176.6h1.5v1.5h-1.5zM317.2 176.6h1.5v1.5h-1.5zM321.2 176.6h1.5v1.5h-1.5zM325.7 176.6h1.5v1.5h-1.5zM326.7 176.6h1.5v1.5h-1.5zM333.2 176.6h1.5v1.5h-1.5zM333.7 176.6h1.5v1.5h-1.5zM342.7 176.6h1.5v1.5h-1.5zM347.2 176.6h1.5v1.5h-1.5zM352.7 176.6h1.5v1.5h-1.5zM358.7 176.6h1.5v1.5h-1.5zM365.2 176.6h1.5v1.5h-1.5zM367.2 176.6h1.5v1.5h-1.5zM368.2 176.6h1.5v1.5h-1.5zM372.7 176.6h1.5v1.5h-1.5zM376.7 176.6h1.5v1.5h-1.5zM377.7 176.6h1.5v1.5h-1.5zM378.2 176.6h1.5v1.5h-1.5zM385.2 176.6h1.5v1.5h-1.5zM435.1 176.6h1.5v1.5h-1.5zM443.6 176.6h1.5v1.5h-1.5zM475.6 176.6h1.5v1.5h-1.5zM556.1 176.6h1.5v1.5h-1.5zM95.8 178.8h1.5v1.5h-1.5zM145.8 178.8h1.5v1.5h-1.5zM183.3 178.8h1.5v1.5h-1.5zM241.7 178.8h1.5v1.5h-1.5zM257.7 178.8h1.5v1.5h-1.5zM263.2 178.8h1.5v1.5h-1.5zM268.2 178.8h1.5v1.5h-1.5zM270.7 178.8h1.5v1.5h-1.5zM290.7 178.8h1.5v1.5h-1.5zM291.2 178.8h1.5v1.5h-1.5zM291.2 178.8h1.5v1.5h-1.5zM291.7 178.8h1.5v1.5h-1.5zM294.7 178.8h1.5v1.5h-1.5zM304.7 178.8h1.5v1.5h-1.5zM305.2 178.8h1.5v1.5h-1.5zM306.2 178.8h1.5v1.5h-1.5zM310.2 178.8h1.5v1.5h-1.5zM313.2 178.8h1.5v1.5h-1.5zM314.2 178.8h1.5v1.5h-1.5zM315.7 178.8h1.5v1.5h-1.5zM317.2 178.8h1.5v1.5h-1.5zM318.2 178.8h1.5v1.5h-1.5zM318.7 178.8h1.5v1.5h-1.5zM320.2 178.8h1.5v1.5h-1.5zM321.7 178.8h1.5v1.5h-1.5zM322.7 178.8h1.5v1.5h-1.5zM325.2 178.8h1.5v1.5h-1.5zM327.2 178.8h1.5v1.5h-1.5zM327.2 178.8h1.5v1.5h-1.5zM339.7 178.8h1.5v1.5h-1.5zM340.2 178.8h1.5v1.5h-1.5zM345.7 178.8h1.5v1.5h-1.5zM349.7 178.8h1.5v1.5h-1.5zM354.7 178.8h1.5v1.5h-1.5zM358.7 178.8h1.5v1.5h-1.5zM361.2 178.8h1.5v1.5h-1.5zM362.7 178.8h1.5v1.5h-1.5zM374.2 178.8h1.5v1.5h-1.5zM396.2 178.8h1.5v1.5h-1.5zM400.7 178.8h1.5v1.5h-1.5zM401.2 178.8h1.5v1.5h-1.5zM407.2 178.8h1.5v1.5h-1.5zM410.6 178.8h1.5v1.5h-1.5zM411.6 178.8h1.5v1.5h-1.5zM420.6 178.8h1.5v1.5h-1.5zM489.1 178.8h1.5v1.5h-1.5zM520.6 178.8h1.5v1.5h-1.5zM522.6 178.8h1.5v1.5h-1.5zM113.8 180.9h1.5v1.5h-1.5zM115.8 180.9h1.5v1.5h-1.5zM124.3 180.9h1.5v1.5h-1.5zM184.8 180.9h1.5v1.5h-1.5zM192.3 180.9h1.5v1.5h-1.5zM212.8 180.9h1.5v1.5h-1.5zM243.2 180.9h1.5v1.5h-1.5zM259.7 180.9h1.5v1.5h-1.5zM260.7 180.9h1.5v1.5h-1.5zM266.2 180.9h1.5v1.5h-1.5zM279.7 180.9h1.5v1.5h-1.5zM285.2 180.9h1.5v1.5h-1.5zM285.7 180.9h1.5v1.5h-1.5zM286.7 180.9h1.5v1.5h-1.5zM294.7 180.9h1.5v1.5h-1.5zM300.7 180.9h1.5v1.5h-1.5zM302.2 180.9h1.5v1.5h-1.5zM306.2 180.9h1.5v1.5h-1.5zM310.2 180.9h1.5v1.5h-1.5zM328.2 180.9h1.5v1.5h-1.5zM328.7 180.9h1.5v1.5h-1.5zM330.2 180.9h1.5v1.5h-1.5zM334.2 180.9h1.5v1.5h-1.5zM338.2 180.9h1.5v1.5h-1.5zM339.7 180.9h1.5v1.5h-1.5zM344.7 180.9h1.5v1.5h-1.5zM347.2 180.9h1.5v1.5h-1.5zM347.7 180.9h1.5v1.5h-1.5zM349.7 180.9h1.5v1.5h-1.5zM350.2 180.9h1.5v1.5h-1.5zM352.7 180.9h1.5v1.5h-1.5zM357.2 180.9h1.5v1.5h-1.5zM360.2 180.9h1.5v1.5h-1.5zM362.2 180.9h1.5v1.5h-1.5zM362.2 180.9h1.5v1.5h-1.5zM370.2 180.9h1.5v1.5h-1.5zM371.7 180.9h1.5v1.5h-1.5zM391.7 180.9h1.5v1.5h-1.5zM393.7 180.9h1.5v1.5h-1.5zM407.2 180.9h1.5v1.5h-1.5zM454.1 180.9h1.5v1.5h-1.5zM462.6 180.9h1.5v1.5h-1.5zM514.6 180.9h1.5v1.5h-1.5zM552.6 180.9h1.5v1.5h-1.5zM121.3 183.1h1.5v1.5h-1.5zM124.3 183.1h1.5v1.5h-1.5zM135.3 183.1h1.5v1.5h-1.5zM152.3 183.1h1.5v1.5h-1.5zM180.3 183.1h1.5v1.5h-1.5zM224.3 183.1h1.5v1.5h-1.5zM258.2 183.1h1.5v1.5h-1.5zM278.7 183.1h1.5v1.5h-1.5zM291.7 183.1h1.5v1.5h-1.5zM292.7 183.1h1.5v1.5h-1.5zM298.2 183.1h1.5v1.5h-1.5zM298.2 183.1h1.5v1.5h-1.5zM301.2 183.1h1.5v1.5h-1.5zM305.2 183.1h1.5v1.5h-1.5zM307.2 183.1h1.5v1.5h-1.5zM311.2 183.1h1.5v1.5h-1.5zM316.7 183.1h1.5v1.5h-1.5zM317.2 183.1h1.5v1.5h-1.5zM320.2 183.1h1.5v1.5h-1.5zM320.7 183.1h1.5v1.5h-1.5zM320.7 183.1h1.5v1.5h-1.5zM324.2 183.1h1.5v1.5h-1.5zM326.7 183.1h1.5v1.5h-1.5zM327.2 183.1h1.5v1.5h-1.5zM327.7 183.1h1.5v1.5h-1.5zM333.2 183.1h1.5v1.5h-1.5zM335.7 183.1h1.5v1.5h-1.5zM336.2 183.1h1.5v1.5h-1.5zM338.2 183.1h1.5v1.5h-1.5zM338.7 183.1h1.5v1.5h-1.5zM338.7 183.1h1.5v1.5h-1.5zM341.7 183.1h1.5v1.5h-1.5zM342.7 183.1h1.5v1.5h-1.5zM343.2 183.1h1.5v1.5h-1.5zM344.2 183.1h1.5v1.5h-1.5zM344.2 183.1h1.5v1.5h-1.5zM344.7 183.1h1.5v1.5h-1.5zM352.7 183.1h1.5v1.5h-1.5zM354.2 183.1h1.5v1.5h-1.5zM355.2 183.1h1.5v1.5h-1.5zM358.7 183.1h1.5v1.5h-1.5zM362.2 183.1h1.5v1.5h-1.5zM383.7 183.1h1.5v1.5h-1.5zM393.2 183.1h1.5v1.5h-1.5zM398.2 183.1h1.5v1.5h-1.5zM403.2 183.1h1.5v1.5h-1.5zM418.1 183.1h1.5v1.5h-1.5zM430.6 183.1h1.5v1.5h-1.5zM439.6 183.1h1.5v1.5h-1.5zM448.6 183.1h1.5v1.5h-1.5zM484.1 183.1h1.5v1.5h-1.5zM484.1 183.1h1.5v1.5h-1.5zM524.6 183.1h1.5v1.5h-1.5zM560.6 183.1h1.5v1.5h-1.5zM97.8 185.2h1.5v1.5h-1.5zM153.8 185.2h1.5v1.5h-1.5zM180.3 185.2h1.5v1.5h-1.5zM240.3 185.2h1.5v1.5h-1.5zM285.2 185.2h1.5v1.5h-1.5zM287.2 185.2h1.5v1.5h-1.5zM288.2 185.2h1.5v1.5h-1.5zM291.7 185.2h1.5v1.5h-1.5zM292.2 185.2h1.5v1.5h-1.5zM298.2 185.2h1.5v1.5h-1.5zM298.7 185.2h1.5v1.5h-1.5zM298.7 185.2h1.5v1.5h-1.5zM317.2 185.2h1.5v1.5h-1.5zM321.2 185.2h1.5v1.5h-1.5zM322.7 185.2h1.5v1.5h-1.5zM325.7 185.2h1.5v1.5h-1.5zM334.2 185.2h1.5v1.5h-1.5zM334.2 185.2h1.5v1.5h-1.5zM339.2 185.2h1.5v1.5h-1.5zM341.7 185.2h1.5v1.5h-1.5zM347.2 185.2h1.5v1.5h-1.5zM353.2 185.2h1.5v1.5h-1.5zM361.7 185.2h1.5v1.5h-1.5zM369.2 185.2h1.5v1.5h-1.5zM369.7 185.2h1.5v1.5h-1.5zM377.2 185.2h1.5v1.5h-1.5zM382.7 185.2h1.5v1.5h-1.5zM415.6 185.2h1.5v1.5h-1.5zM418.1 185.2h1.5v1.5h-1.5zM424.1 185.2h1.5v1.5h-1.5zM437.1 185.2h1.5v1.5h-1.5zM462.1 185.2h1.5v1.5h-1.5zM482.1 185.2h1.5v1.5h-1.5zM553.1 185.2h1.5v1.5h-1.5zM94.8 187.4h1.5v1.5h-1.5zM141.3 187.4h1.5v1.5h-1.5zM234.8 187.4h1.5v1.5h-1.5zM239.3 187.4h1.5v1.5h-1.5zM239.3 187.4h1.5v1.5h-1.5zM245.7 187.4h1.5v1.5h-1.5zM262.2 187.4h1.5v1.5h-1.5zM271.2 187.4h1.5v1.5h-1.5zM271.2 187.4h1.5v1.5h-1.5zM273.7 187.4h1.5v1.5h-1.5zM274.7 187.4h1.5v1.5h-1.5zM282.7 187.4h1.5v1.5h-1.5zM283.7 187.4h1.5v1.5h-1.5zM306.2 187.4h1.5v1.5h-1.5zM306.7 187.4h1.5v1.5h-1.5zM313.7 187.4h1.5v1.5h-1.5zM322.2 187.4h1.5v1.5h-1.5zM322.7 187.4h1.5v1.5h-1.5zM322.7 187.4h1.5v1.5h-1.5zM334.7 187.4h1.5v1.5h-1.5zM337.7 187.4h1.5v1.5h-1.5zM342.2 187.4h1.5v1.5h-1.5zM343.2 187.4h1.5v1.5h-1.5zM345.7 187.4h1.5v1.5h-1.5zM346.7 187.4h1.5v1.5h-1.5zM360.2 187.4h1.5v1.5h-1.5zM368.2 187.4h1.5v1.5h-1.5zM372.7 187.4h1.5v1.5h-1.5zM375.2 187.4h1.5v1.5h-1.5zM382.2 187.4h1.5v1.5h-1.5zM386.7 187.4h1.5v1.5h-1.5zM400.2 187.4h1.5v1.5h-1.5zM413.1 187.4h1.5v1.5h-1.5zM420.6 187.4h1.5v1.5h-1.5zM432.6 187.4h1.5v1.5h-1.5zM435.6 187.4h1.5v1.5h-1.5zM438.1 187.4h1.5v1.5h-1.5zM484.1 187.4h1.5v1.5h-1.5zM485.1 187.4h1.5v1.5h-1.5zM505.1 187.4h1.5v1.5h-1.5zM513.6 187.4h1.5v1.5h-1.5zM521.6 187.4h1.5v1.5h-1.5zM525.6 187.4h1.5v1.5h-1.5zM550.1 187.4h1.5v1.5h-1.5zM551.1 187.4h1.5v1.5h-1.5zM107.8 189.5h1.5v1.5h-1.5zM161.3 189.5h1.5v1.5h-1.5zM244.2 189.5h1.5v1.5h-1.5zM248.7 189.5h1.5v1.5h-1.5zM274.2 189.5h1.5v1.5h-1.5zM286.2 189.5h1.5v1.5h-1.5zM288.7 189.5h1.5v1.5h-1.5zM295.7 189.5h1.5v1.5h-1.5zM306.2 189.5h1.5v1.5h-1.5zM313.2 189.5h1.5v1.5h-1.5zM315.2 189.5h1.5v1.5h-1.5zM320.2 189.5h1.5v1.5h-1.5zM320.7 189.5h1.5v1.5h-1.5zM321.7 189.5h1.5v1.5h-1.5zM326.7 189.5h1.5v1.5h-1.5zM328.7 189.5h1.5v1.5h-1.5zM332.2 189.5h1.5v1.5h-1.5zM332.7 189.5h1.5v1.5h-1.5zM333.2 189.5h1.5v1.5h-1.5zM333.7 189.5h1.5v1.5h-1.5zM334.2 189.5h1.5v1.5h-1.5zM340.2 189.5h1.5v1.5h-1.5zM340.7 189.5h1.5v1.5h-1.5zM346.2 189.5h1.5v1.5h-1.5zM346.7 189.5h1.5v1.5h-1.5zM347.2 189.5h1.5v1.5h-1.5zM349.7 189.5h1.5v1.5h-1.5zM353.2 189.5h1.5v1.5h-1.5zM365.7 189.5h1.5v1.5h-1.5zM373.2 189.5h1.5v1.5h-1.5zM378.7 189.5h1.5v1.5h-1.5zM391.2 189.5h1.5v1.5h-1.5zM401.7 189.5h1.5v1.5h-1.5zM406.7 189.5h1.5v1.5h-1.5zM407.7 189.5h1.5v1.5h-1.5zM408.1 189.5h1.5v1.5h-1.5zM425.1 189.5h1.5v1.5h-1.5zM464.6 189.5h1.5v1.5h-1.5zM469.6 189.5h1.5v1.5h-1.5zM540.6 189.5h1.5v1.5h-1.5zM80.3 191.7h1.5v1.5h-1.5zM112.8 191.7h1.5v1.5h-1.5zM228.3 191.7h1.5v1.5h-1.5zM241.3 191.7h1.5v1.5h-1.5zM245.7 191.7h1.5v1.5h-1.5zM265.2 191.7h1.5v1.5h-1.5zM266.2 191.7h1.5v1.5h-1.5zM281.2 191.7h1.5v1.5h-1.5zM288.7 191.7h1.5v1.5h-1.5zM292.7 191.7h1.5v1.5h-1.5zM292.7 191.7h1.5v1.5h-1.5zM294.7 191.7h1.5v1.5h-1.5zM295.7 191.7h1.5v1.5h-1.5zM307.2 191.7h1.5v1.5h-1.5zM312.2 191.7h1.5v1.5h-1.5zM314.2 191.7h1.5v1.5h-1.5zM316.2 191.7h1.5v1.5h-1.5zM317.7 191.7h1.5v1.5h-1.5zM321.7 191.7h1.5v1.5h-1.5zM328.7 191.7h1.5v1.5h-1.5zM334.2 191.7h1.5v1.5h-1.5zM338.2 191.7h1.5v1.5h-1.5zM339.7 191.7h1.5v1.5h-1.5zM340.2 191.7h1.5v1.5h-1.5zM343.2 191.7h1.5v1.5h-1.5zM343.2 191.7h1.5v1.5h-1.5zM346.7 191.7h1.5v1.5h-1.5zM346.7 191.7h1.5v1.5h-1.5zM348.7 191.7h1.5v1.5h-1.5zM354.7 191.7h1.5v1.5h-1.5zM356.2 191.7h1.5v1.5h-1.5zM359.7 191.7h1.5v1.5h-1.5zM360.2 191.7h1.5v1.5h-1.5zM371.7 191.7h1.5v1.5h-1.5zM379.2 191.7h1.5v1.5h-1.5zM389.7 191.7h1.5v1.5h-1.5zM435.6 191.7h1.5v1.5h-1.5zM457.6 191.7h1.5v1.5h-1.5zM141.3 193.8h1.5v1.5h-1.5zM150.3 193.8h1.5v1.5h-1.5zM183.8 193.8h1.5v1.5h-1.5zM201.3 193.8h1.5v1.5h-1.5zM203.8 193.8h1.5v1.5h-1.5zM207.8 193.8h1.5v1.5h-1.5zM221.8 193.8h1.5v1.5h-1.5zM242.7 193.8h1.5v1.5h-1.5zM247.7 193.8h1.5v1.5h-1.5zM249.2 193.8h1.5v1.5h-1.5zM254.2 193.8h1.5v1.5h-1.5zM257.2 193.8h1.5v1.5h-1.5zM260.2 193.8h1.5v1.5h-1.5zM284.2 193.8h1.5v1.5h-1.5zM287.7 193.8h1.5v1.5h-1.5zM297.7 193.8h1.5v1.5h-1.5zM301.2 193.8h1.5v1.5h-1.5zM303.2 193.8h1.5v1.5h-1.5zM303.2 193.8h1.5v1.5h-1.5zM303.2 193.8h1.5v1.5h-1.5zM305.2 193.8h1.5v1.5h-1.5zM307.7 193.8h1.5v1.5h-1.5zM311.2 193.8h1.5v1.5h-1.5zM312.7 193.8h1.5v1.5h-1.5zM314.2 193.8h1.5v1.5h-1.5zM316.2 193.8h1.5v1.5h-1.5zM318.2 193.8h1.5v1.5h-1.5zM321.7 193.8h1.5v1.5h-1.5zM322.2 193.8h1.5v1.5h-1.5zM326.2 193.8h1.5v1.5h-1.5zM327.2 193.8h1.5v1.5h-1.5zM329.7 193.8h1.5v1.5h-1.5zM332.2 193.8h1.5v1.5h-1.5zM332.7 193.8h1.5v1.5h-1.5zM334.7 193.8h1.5v1.5h-1.5zM338.2 193.8h1.5v1.5h-1.5zM340.2 193.8h1.5v1.5h-1.5zM341.7 193.8h1.5v1.5h-1.5zM346.2 193.8h1.5v1.5h-1.5zM353.7 193.8h1.5v1.5h-1.5zM382.2 193.8h1.5v1.5h-1.5zM395.7 193.8h1.5v1.5h-1.5zM402.7 193.8h1.5v1.5h-1.5zM407.2 193.8h1.5v1.5h-1.5zM412.6 193.8h1.5v1.5h-1.5zM418.6 193.8h1.5v1.5h-1.5zM431.1 193.8h1.5v1.5h-1.5zM440.1 193.8h1.5v1.5h-1.5zM494.6 193.8h1.5v1.5h-1.5zM523.6 193.8h1.5v1.5h-1.5zM131.3 196.0h1.5v1.5h-1.5zM187.3 196.0h1.5v1.5h-1.5zM212.8 196.0h1.5v1.5h-1.5zM221.3 196.0h1.5v1.5h-1.5zM223.8 196.0h1.5v1.5h-1.5zM226.3 196.0h1.5v1.5h-1.5zM227.8 196.0h1.5v1.5h-1.5zM229.3 196.0h1.5v1.5h-1.5zM234.8 196.0h1.5v1.5h-1.5zM259.7 196.0h1.5v1.5h-1.5zM260.2 196.0h1.5v1.5h-1.5zM270.2 196.0h1.5v1.5h-1.5zM271.7 196.0h1.5v1.5h-1.5zM273.2 196.0h1.5v1.5h-1.5zM274.7 196.0h1.5v1.5h-1.5zM281.2 196.0h1.5v1.5h-1.5zM284.7 196.0h1.5v1.5h-1.5zM289.7 196.0h1.5v1.5h-1.5zM295.2 196.0h1.5v1.5h-1.5zM297.7 196.0h1.5v1.5h-1.5zM298.2 196.0h1.5v1.5h-1.5zM300.7 196.0h1.5v1.5h-1.5zM301.7 196.0h1.5v1.5h-1.5zM302.7 196.0h1.5v1.5h-1.5zM311.7 196.0h1.5v1.5h-1.5zM313.2 196.0h1.5v1.5h-1.5zM313.7 196.0h1.5v1.5h-1.5zM325.2 196.0h1.5v1.5h-1.5zM329.7 196.0h1.5v1.5h-1.5zM331.7 196.0h1.5v1.5h-1.5zM332.2 196.0h1.5v1.5h-1.5zM334.7 196.0h1.5v1.5h-1.5zM336.2 196.0h1.5v1.5h-1.5zM342.7 196.0h1.5v1.5h-1.5zM344.7 196.0h1.5v1.5h-1.5zM348.7 196.0h1.5v1.5h-1.5zM351.2 196.0h1.5v1.5h-1.5zM354.7 196.0h1.5v1.5h-1.5zM358.7 196.0h1.5v1.5h-1.5zM360.2 196.0h1.5v1.5h-1.5zM360.2 196.0h1.5v1.5h-1.5zM367.7 196.0h1.5v1.5h-1.5zM369.2 196.0h1.5v1.5h-1.5zM370.7 196.0h1.5v1.5h-1.5zM375.7 196.0h1.5v1.5h-1.5zM382.2 196.0h1.5v1.5h-1.5zM388.7 196.0h1.5v1.5h-1.5zM400.2 196.0h1.5v1.5h-1.5zM423.1 196.0h1.5v1.5h-1.5zM435.6 196.0h1.5v1.5h-1.5zM473.6 196.0h1.5v1.5h-1.5zM504.6 196.0h1.5v1.5h-1.5zM529.1 196.0h1.5v1.5h-1.5zM534.1 196.0h1.5v1.5h-1.5zM99.3 198.1h1.5v1.5h-1.5zM127.3 198.1h1.5v1.5h-1.5zM167.3 198.1h1.5v1.5h-1.5zM185.8 198.1h1.5v1.5h-1.5zM199.8 198.1h1.5v1.5h-1.5zM205.8 198.1h1.5v1.5h-1.5zM212.8 198.1h1.5v1.5h-1.5zM237.8 198.1h1.5v1.5h-1.5zM269.2 198.1h1.5v1.5h-1.5zM271.2 198.1h1.5v1.5h-1.5zM276.7 198.1h1.5v1.5h-1.5zM280.7 198.1h1.5v1.5h-1.5zM283.7 198.1h1.5v1.5h-1.5zM285.7 198.1h1.5v1.5h-1.5zM296.7 198.1h1.5v1.5h-1.5zM300.7 198.1h1.5v1.5h-1.5zM306.2 198.1h1.5v1.5h-1.5zM306.7 198.1h1.5v1.5h-1.5zM318.2 198.1h1.5v1.5h-1.5zM322.7 198.1h1.5v1.5h-1.5zM325.7 198.1h1.5v1.5h-1.5zM326.2 198.1h1.5v1.5h-1.5zM327.7 198.1h1.5v1.5h-1.5zM328.2 198.1h1.5v1.5h-1.5zM334.2 198.1h1.5v1.5h-1.5zM335.2 198.1h1.5v1.5h-1.5zM335.2 198.1h1.5v1.5h-1.5zM338.2 198.1h1.5v1.5h-1.5zM341.2 198.1h1.5v1.5h-1.5zM341.2 198.1h1.5v1.5h-1.5zM343.2 198.1h1.5v1.5h-1.5zM344.7 198.1h1.5v1.5h-1.5zM354.2 198.1h1.5v1.5h-1.5zM356.2 198.1h1.5v1.5h-1.5zM358.2 198.1h1.5v1.5h-1.5zM362.2 198.1h1.5v1.5h-1.5zM366.2 198.1h1.5v1.5h-1.5zM381.2 198.1h1.5v1.5h-1.5zM386.7 198.1h1.5v1.5h-1.5zM412.1 198.1h1.5v1.5h-1.5zM412.6 198.1h1.5v1.5h-1.5zM423.1 198.1h1.5v1.5h-1.5zM438.6 198.1h1.5v1.5h-1.5zM447.6 198.1h1.5v1.5h-1.5zM458.6 198.1h1.5v1.5h-1.5zM521.1 198.1h1.5v1.5h-1.5zM122.3 200.3h1.5v1.5h-1.5zM153.8 200.3h1.5v1.5h-1.5zM189.3 200.3h1.5v1.5h-1.5zM214.8 200.3h1.5v1.5h-1.5zM258.7 200.3h1.5v1.5h-1.5zM269.7 200.3h1.5v1.5h-1.5zM280.7 200.3h1.5v1.5h-1.5zM283.7 200.3h1.5v1.5h-1.5zM285.2 200.3h1.5v1.5h-1.5zM290.2 200.3h1.5v1.5h-1.5zM294.7 200.3h1.5v1.5h-1.5zM295.2 200.3h1.5v1.5h-1.5zM297.7 200.3h1.5v1.5h-1.5zM298.2 200.3h1.5v1.5h-1.5zM304.7 200.3h1.5v1.5h-1.5zM308.2 200.3h1.5v1.5h-1.5zM311.2 200.3h1.5v1.5h-1.5zM322.2 200.3h1.5v1.5h-1.5zM322.7 200.3h1.5v1.5h-1.5zM325.7 200.3h1.5v1.5h-1.5zM327.7 200.3h1.5v1.5h-1.5zM337.7 200.3h1.5v1.5h-1.5zM338.2 200.3h1.5v1.5h-1.5zM348.2 200.3h1.5v1.5h-1.5zM350.7 200.3h1.5v1.5h-1.5zM358.2 200.3h1.5v1.5h-1.5zM373.7 200.3h1.5v1.5h-1.5zM381.2 200.3h1.5v1.5h-1.5zM386.7 200.3h1.5v1.5h-1.5zM396.7 200.3h1.5v1.5h-1.5zM421.6 200.3h1.5v1.5h-1.5zM426.6 200.3h1.5v1.5h-1.5zM446.1 200.3h1.5v1.5h-1.5zM454.6 200.3h1.5v1.5h-1.5zM488.6 200.3h1.5v1.5h-1.5zM535.1 200.3h1.5v1.5h-1.5zM548.1 200.3h1.5v1.5h-1.5zM551.1 200.3h1.5v1.5h-1.5zM211.8 202.4h1.5v1.5h-1.5zM228.8 202.4h1.5v1.5h-1.5zM241.3 202.4h1.5v1.5h-1.5zM261.2 202.4h1.5v1.5h-1.5zM273.2 202.4h1.5v1.5h-1.5zM277.2 202.4h1.5v1.5h-1.5zM279.7 202.4h1.5v1.5h-1.5zM283.7 202.4h1.5v1.5h-1.5zM285.2 202.4h1.5v1.5h-1.5zM292.7 202.4h1.5v1.5h-1.5zM294.7 202.4h1.5v1.5h-1.5zM297.2 202.4h1.5v1.5h-1.5zM300.2 202.4h1.5v1.5h-1.5zM302.2 202.4h1.5v1.5h-1.5zM302.2 202.4h1.5v1.5h-1.5zM303.2 202.4h1.5v1.5h-1.5zM306.2 202.4h1.5v1.5h-1.5zM311.2 202.4h1.5v1.5h-1.5zM312.7 202.4h1.5v1.5h-1.5zM314.2 202.4h1.5v1.5h-1.5zM316.7 202.4h1.5v1.5h-1.5zM317.2 202.4h1.5v1.5h-1.5zM319.7 202.4h1.5v1.5h-1.5zM321.2 202.4h1.5v1.5h-1.5zM322.7 202.4h1.5v1.5h-1.5zM323.2 202.4h1.5v1.5h-1.5zM324.2 202.4h1.5v1.5h-1.5zM324.7 202.4h1.5v1.5h-1.5zM333.7 202.4h1.5v1.5h-1.5zM335.2 202.4h1.5v1.5h-1.5zM339.7 202.4h1.5v1.5h-1.5zM341.2 202.4h1.5v1.5h-1.5zM342.7 202.4h1.5v1.5h-1.5zM343.2 202.4h1.5v1.5h-1.5zM348.7 202.4h1.5v1.5h-1.5zM354.2 202.4h1.5v1.5h-1.5zM357.2 202.4h1.5v1.5h-1.5zM364.2 202.4h1.5v1.5h-1.5zM365.7 202.4h1.5v1.5h-1.5zM365.7 202.4h1.5v1.5h-1.5zM366.2 202.4h1.5v1.5h-1.5zM387.7 202.4h1.5v1.5h-1.5zM388.2 202.4h1.5v1.5h-1.5zM407.2 202.4h1.5v1.5h-1.5zM410.6 202.4h1.5v1.5h-1.5zM417.6 202.4h1.5v1.5h-1.5zM418.1 202.4h1.5v1.5h-1.5zM425.6 202.4h1.5v1.5h-1.5zM427.1 202.4h1.5v1.5h-1.5zM566.1 202.4h1.5v1.5h-1.5zM180.8 204.6h1.5v1.5h-1.5zM188.3 204.6h1.5v1.5h-1.5zM210.3 204.6h1.5v1.5h-1.5zM216.3 204.6h1.5v1.5h-1.5zM219.3 204.6h1.5v1.5h-1.5zM229.3 204.6h1.5v1.5h-1.5zM230.8 204.6h1.5v1.5h-1.5zM247.2 204.6h1.5v1.5h-1.5zM256.7 204.6h1.5v1.5h-1.5zM258.7 204.6h1.5v1.5h-1.5zM259.2 204.6h1.5v1.5h-1.5zM260.2 204.6h1.5v1.5h-1.5zM274.2 204.6h1.5v1.5h-1.5zM294.2 204.6h1.5v1.5h-1.5zM298.2 204.6h1.5v1.5h-1.5zM298.7 204.6h1.5v1.5h-1.5zM298.7 204.6h1.5v1.5h-1.5zM303.7 204.6h1.5v1.5h-1.5zM307.7 204.6h1.5v1.5h-1.5zM310.2 204.6h1.5v1.5h-1.5zM315.2 204.6h1.5v1.5h-1.5zM316.2 204.6h1.5v1.5h-1.5zM319.2 204.6h1.5v1.5h-1.5zM321.2 204.6h1.5v1.5h-1.5zM321.2 204.6h1.5v1.5h-1.5zM322.2 204.6h1.5v1.5h-1.5zM322.7 204.6h1.5v1.5h-1.5zM339.7 204.6h1.5v1.5h-1.5zM340.7 204.6h1.5v1.5h-1.5zM344.2 204.6h1.5v1.5h-1.5zM344.7 204.6h1.5v1.5h-1.5zM344.7 204.6h1.5v1.5h-1.5zM348.2 204.6h1.5v1.5h-1.5zM350.2 204.6h1.5v1.5h-1.5zM360.2 204.6h1.5v1.5h-1.5zM364.7 204.6h1.5v1.5h-1.5zM368.2 204.6h1.5v1.5h-1.5zM382.7 204.6h1.5v1.5h-1.5zM389.7 204.6h1.5v1.5h-1.5zM410.6 204.6h1.5v1.5h-1.5zM471.6 204.6h1.5v1.5h-1.5zM538.1 204.6h1.5v1.5h-1.5zM143.8 206.7h1.5v1.5h-1.5zM159.3 206.7h1.5v1.5h-1.5zM178.8 206.7h1.5v1.5h-1.5zM186.8 206.7h1.5v1.5h-1.5zM201.8 206.7h1.5v1.5h-1.5zM205.8 206.7h1.5v1.5h-1.5zM221.8 206.7h1.5v1.5h-1.5zM231.3 206.7h1.5v1.5h-1.5zM236.8 206.7h1.5v1.5h-1.5zM244.7 206.7h1.5v1.5h-1.5zM255.2 206.7h1.5v1.5h-1.5zM261.2 206.7h1.5v1.5h-1.5zM263.7 206.7h1.5v1.5h-1.5zM273.2 206.7h1.5v1.5h-1.5zM282.7 206.7h1.5v1.5h-1.5zM288.2 206.7h1.5v1.5h-1.5zM299.7 206.7h1.5v1.5h-1.5zM300.2 206.7h1.5v1.5h-1.5zM303.2 206.7h1.5v1.5h-1.5zM309.2 206.7h1.5v1.5h-1.5zM313.2 206.7h1.5v1.5h-1.5zM313.7 206.7h1.5v1.5h-1.5zM314.7 206.7h1.5v1.5h-1.5zM314.7 206.7h1.5v1.5h-1.5zM316.7 206.7h1.5v1.5h-1.5zM318.7 206.7h1.5v1.5h-1.5zM324.7 206.7h1.5v1.5h-1.5zM325.2 206.7h1.5v1.5h-1.5zM327.7 206.7h1.5v1.5h-1.5zM329.7 206.7h1.5v1.5h-1.5zM331.7 206.7h1.5v1.5h-1.5zM339.2 206.7h1.5v1.5h-1.5zM339.7 206.7h1.5v1.5h-1.5zM340.7 206.7h1.5v1.5h-1.5zM341.7 206.7h1.5v1.5h-1.5zM342.7 206.7h1.5v1.5h-1.5zM343.2 206.7h1.5v1.5h-1.5zM346.7 206.7h1.5v1.5h-1.5zM348.2 206.7h1.5v1.5h-1.5zM355.2 206.7h1.5v1.5h-1.5zM355.2 206.7h1.5v1.5h-1.5zM359.2 206.7h1.5v1.5h-1.5zM359.7 206.7h1.5v1.5h-1.5zM364.2 206.7h1.5v1.5h-1.5zM369.7 206.7h1.5v1.5h-1.5zM383.2 206.7h1.5v1.5h-1.5zM401.7 206.7h1.5v1.5h-1.5zM417.6 206.7h1.5v1.5h-1.5zM423.6 206.7h1.5v1.5h-1.5zM424.1 206.7h1.5v1.5h-1.5zM435.1 206.7h1.5v1.5h-1.5zM446.6 206.7h1.5v1.5h-1.5zM521.1 206.7h1.5v1.5h-1.5zM522.6 206.7h1.5v1.5h-1.5zM563.1 206.7h1.5v1.5h-1.5zM122.3 208.9h1.5v1.5h-1.5zM164.3 208.9h1.5v1.5h-1.5zM189.8 208.9h1.5v1.5h-1.5zM233.3 208.9h1.5v1.5h-1.5zM236.8 208.9h1.5v1.5h-1.5zM263.2 208.9h1.5v1.5h-1.5zM275.7 208.9h1.5v1.5h-1.5zM292.2 208.9h1.5v1.5h-1.5zM308.2 208.9h1.5v1.5h-1.5zM309.2 208.9h1.5v1.5h-1.5zM309.7 208.9h1.5v1.5h-1.5zM312.7 208.9h1.5v1.5h-1.5zM313.2 208.9h1.5v1.5h-1.5zM313.2 208.9h1.5v1.5h-1.5zM316.2 208.9h1.5v1.5h-1.5zM316.2 208.9h1.5v1.5h-1.5zM320.2 208.9h1.5v1.5h-1.5zM329.2 208.9h1.5v1.5h-1.5zM329.7 208.9h1.5v1.5h-1.5zM336.7 208.9h1.5v1.5h-1.5zM338.7 208.9h1.5v1.5h-1.5zM339.7 208.9h1.5v1.5h-1.5zM348.2 208.9h1.5v1.5h-1.5zM350.7 208.9h1.5v1.5h-1.5zM351.2 208.9h1.5v1.5h-1.5zM351.7 208.9h1.5v1.5h-1.5zM353.2 208.9h1.5v1.5h-1.5zM354.7 208.9h1.5v1.5h-1.5zM357.7 208.9h1.5v1.5h-1.5zM360.7 208.9h1.5v1.5h-1.5zM374.2 208.9h1.5v1.5h-1.5zM375.7 208.9h1.5v1.5h-1.5zM378.2 208.9h1.5v1.5h-1.5zM381.2 208.9h1.5v1.5h-1.5zM383.7 208.9h1.5v1.5h-1.5zM398.2 208.9h1.5v1.5h-1.5zM431.1 208.9h1.5v1.5h-1.5zM452.1 208.9h1.5v1.5h-1.5zM473.6 208.9h1.5v1.5h-1.5zM535.6 208.9h1.5v1.5h-1.5zM543.6 208.9h1.5v1.5h-1.5zM550.6 208.9h1.5v1.5h-1.5zM560.6 208.9h1.5v1.5h-1.5zM569.1 208.9h1.5v1.5h-1.5zM80.8 211.0h1.5v1.5h-1.5zM114.8 211.0h1.5v1.5h-1.5zM121.3 211.0h1.5v1.5h-1.5zM122.3 211.0h1.5v1.5h-1.5zM168.3 211.0h1.5v1.5h-1.5zM186.8 211.0h1.5v1.5h-1.5zM187.3 211.0h1.5v1.5h-1.5zM189.8 211.0h1.5v1.5h-1.5zM199.8 211.0h1.5v1.5h-1.5zM209.3 211.0h1.5v1.5h-1.5zM224.3 211.0h1.5v1.5h-1.5zM227.3 211.0h1.5v1.5h-1.5zM249.7 211.0h1.5v1.5h-1.5zM260.2 211.0h1.5v1.5h-1.5zM260.2 211.0h1.5v1.5h-1.5zM266.2 211.0h1.5v1.5h-1.5zM270.2 211.0h1.5v1.5h-1.5zM278.7 211.0h1.5v1.5h-1.5zM286.2 211.0h1.5v1.5h-1.5zM286.7 211.0h1.5v1.5h-1.5zM288.2 211.0h1.5v1.5h-1.5zM288.7 211.0h1.5v1.5h-1.5zM297.2 211.0h1.5v1.5h-1.5zM305.7 211.0h1.5v1.5h-1.5zM308.7 211.0h1.5v1.5h-1.5zM315.7 211.0h1.5v1.5h-1.5zM322.7 211.0h1.5v1.5h-1.5zM324.2 211.0h1.5v1.5h-1.5zM324.7 211.0h1.5v1.5h-1.5zM325.2 211.0h1.5v1.5h-1.5zM327.7 211.0h1.5v1.5h-1.5zM327.7 211.0h1.5v1.5h-1.5zM329.2 211.0h1.5v1.5h-1.5zM331.2 211.0h1.5v1.5h-1.5zM332.7 211.0h1.5v1.5h-1.5zM340.2 211.0h1.5v1.5h-1.5zM343.7 211.0h1.5v1.5h-1.5zM343.7 211.0h1.5v1.5h-1.5zM344.7 211.0h1.5v1.5h-1.5zM351.2 211.0h1.5v1.5h-1.5zM354.2 211.0h1.5v1.5h-1.5zM356.2 211.0h1.5v1.5h-1.5zM357.2 211.0h1.5v1.5h-1.5zM358.2 211.0h1.5v1.5h-1.5zM361.2 211.0h1.5v1.5h-1.5zM361.7 211.0h1.5v1.5h-1.5zM373.7 211.0h1.5v1.5h-1.5zM379.2 211.0h1.5v1.5h-1.5zM382.7 211.0h1.5v1.5h-1.5zM415.6 211.0h1.5v1.5h-1.5zM453.6 211.0h1.5v1.5h-1.5zM557.6 211.0h1.5v1.5h-1.5zM142.3 213.2h1.5v1.5h-1.5zM158.8 213.2h1.5v1.5h-1.5zM204.8 213.2h1.5v1.5h-1.5zM214.3 213.2h1.5v1.5h-1.5zM236.8 213.2h1.5v1.5h-1.5zM245.2 213.2h1.5v1.5h-1.5zM247.2 213.2h1.5v1.5h-1.5zM269.2 213.2h1.5v1.5h-1.5zM270.7 213.2h1.5v1.5h-1.5zM291.2 213.2h1.5v1.5h-1.5zM291.2 213.2h1.5v1.5h-1.5zM296.2 213.2h1.5v1.5h-1.5zM298.2 213.2h1.5v1.5h-1.5zM311.2 213.2h1.5v1.5h-1.5zM311.7 213.2h1.5v1.5h-1.5zM313.2 213.2h1.5v1.5h-1.5zM314.2 213.2h1.5v1.5h-1.5zM319.7 213.2h1.5v1.5h-1.5zM320.7 213.2h1.5v1.5h-1.5zM326.7 213.2h1.5v1.5h-1.5zM328.2 213.2h1.5v1.5h-1.5zM332.2 213.2h1.5v1.5h-1.5zM334.7 213.2h1.5v1.5h-1.5zM337.2 213.2h1.5v1.5h-1.5zM339.2 213.2h1.5v1.5h-1.5zM343.2 213.2h1.5v1.5h-1.5zM345.2 213.2h1.5v1.5h-1.5zM351.7 213.2h1.5v1.5h-1.5zM351.7 213.2h1.5v1.5h-1.5zM369.2 213.2h1.5v1.5h-1.5zM404.7 213.2h1.5v1.5h-1.5zM414.6 213.2h1.5v1.5h-1.5zM415.1 213.2h1.5v1.5h-1.5zM448.6 213.2h1.5v1.5h-1.5zM467.1 213.2h1.5v1.5h-1.5zM516.6 213.2h1.5v1.5h-1.5zM518.6 213.2h1.5v1.5h-1.5zM519.1 213.2h1.5v1.5h-1.5zM538.6 213.2h1.5v1.5h-1.5zM556.6 213.2h1.5v1.5h-1.5zM135.8 215.3h1.5v1.5h-1.5zM176.3 215.3h1.5v1.5h-1.5zM189.3 215.3h1.5v1.5h-1.5zM208.8 215.3h1.5v1.5h-1.5zM217.8 215.3h1.5v1.5h-1.5zM221.8 215.3h1.5v1.5h-1.5zM226.8 215.3h1.5v1.5h-1.5zM240.8 215.3h1.5v1.5h-1.5zM245.2 215.3h1.5v1.5h-1.5zM256.2 215.3h1.5v1.5h-1.5zM272.2 215.3h1.5v1.5h-1.5zM284.2 215.3h1.5v1.5h-1.5zM296.7 215.3h1.5v1.5h-1.5zM299.7 215.3h1.5v1.5h-1.5zM300.7 215.3h1.5v1.5h-1.5zM301.2 215.3h1.5v1.5h-1.5zM303.7 215.3h1.5v1.5h-1.5zM303.7 215.3h1.5v1.5h-1.5zM312.2 215.3h1.5v1.5h-1.5zM312.7 215.3h1.5v1.5h-1.5zM315.7 215.3h1.5v1.5h-1.5zM318.2 215.3h1.5v1.5h-1.5zM318.7 215.3h1.5v1.5h-1.5zM318.7 215.3h1.5v1.5h-1.5zM323.2 215.3h1.5v1.5h-1.5zM324.7 215.3h1.5v1.5h-1.5zM326.7 215.3h1.5v1.5h-1.5zM327.7 215.3h1.5v1.5h-1.5zM331.2 215.3h1.5v1.5h-1.5zM341.7 215.3h1.5v1.5h-1.5zM342.7 215.3h1.5v1.5h-1.5zM345.7 215.3h1.5v1.5h-1.5zM348.2 215.3h1.5v1.5h-1.5zM352.2 215.3h1.5v1.5h-1.5zM361.2 215.3h1.5v1.5h-1.5zM362.7 215.3h1.5v1.5h-1.5zM376.2 215.3h1.5v1.5h-1.5zM377.2 215.3h1.5v1.5h-1.5zM378.2 215.3h1.5v1.5h-1.5zM395.2 215.3h1.5v1.5h-1.5zM406.7 215.3h1.5v1.5h-1.5zM428.6 215.3h1.5v1.5h-1.5zM438.6 215.3h1.5v1.5h-1.5zM446.6 215.3h1.5v1.5h-1.5zM478.6 215.3h1.5v1.5h-1.5zM83.8 217.5h1.5v1.5h-1.5zM95.8 217.5h1.5v1.5h-1.5zM116.8 217.5h1.5v1.5h-1.5zM164.8 217.5h1.5v1.5h-1.5zM192.3 217.5h1.5v1.5h-1.5zM195.8 217.5h1.5v1.5h-1.5zM212.8 217.5h1.5v1.5h-1.5zM225.3 217.5h1.5v1.5h-1.5zM230.3 217.5h1.5v1.5h-1.5zM232.8 217.5h1.5v1.5h-1.5zM235.3 217.5h1.5v1.5h-1.5zM261.2 217.5h1.5v1.5h-1.5zM266.2 217.5h1.5v1.5h-1.5zM270.2 217.5h1.5v1.5h-1.5zM279.7 217.5h1.5v1.5h-1.5zM280.2 217.5h1.5v1.5h-1.5zM286.2 217.5h1.5v1.5h-1.5zM290.2 217.5h1.5v1.5h-1.5zM305.2 217.5h1.5v1.5h-1.5zM310.7 217.5h1.5v1.5h-1.5zM316.7 217.5h1.5v1.5h-1.5zM318.2 217.5h1.5v1.5h-1.5zM320.2 217.5h1.5v1.5h-1.5zM322.7 217.5h1.5v1.5h-1.5zM324.2 217.5h1.5v1.5h-1.5zM326.2 217.5h1.5v1.5h-1.5zM327.2 217.5h1.5v1.5h-1.5zM330.2 217.5h1.5v1.5h-1.5zM335.7 217.5h1.5v1.5h-1.5zM340.2 217.5h1.5v1.5h-1.5zM340.7 217.5h1.5v1.5h-1.5zM345.2 217.5h1.5v1.5h-1.5zM351.7 217.5h1.5v1.5h-1.5zM357.2 217.5h1.5v1.5h-1.5zM357.2 217.5h1.5v1.5h-1.5zM373.7 217.5h1.5v1.5h-1.5zM384.2 217.5h1.5v1.5h-1.5zM391.7 217.5h1.5v1.5h-1.5zM397.7 217.5h1.5v1.5h-1.5zM399.7 217.5h1.5v1.5h-1.5zM403.7 217.5h1.5v1.5h-1.5zM408.1 217.5h1.5v1.5h-1.5zM419.6 217.5h1.5v1.5h-1.5zM430.6 217.5h1.5v1.5h-1.5zM431.6 217.5h1.5v1.5h-1.5zM445.1 217.5h1.5v1.5h-1.5zM445.6 217.5h1.5v1.5h-1.5zM473.6 217.5h1.5v1.5h-1.5zM489.6 217.5h1.5v1.5h-1.5zM506.1 217.5h1.5v1.5h-1.5zM522.6 217.5h1.5v1.5h-1.5zM87.3 219.6h1.5v1.5h-1.5zM148.3 219.6h1.5v1.5h-1.5zM158.8 219.6h1.5v1.5h-1.5zM181.8 219.6h1.5v1.5h-1.5zM225.8 219.6h1.5v1.5h-1.5zM229.3 219.6h1.5v1.5h-1.5zM237.3 219.6h1.5v1.5h-1.5zM244.2 219.6h1.5v1.5h-1.5zM247.2 219.6h1.5v1.5h-1.5zM253.7 219.6h1.5v1.5h-1.5zM258.7 219.6h1.5v1.5h-1.5zM265.7 219.6h1.5v1.5h-1.5zM266.2 219.6h1.5v1.5h-1.5zM276.7 219.6h1.5v1.5h-1.5zM285.7 219.6h1.5v1.5h-1.5zM294.7 219.6h1.5v1.5h-1.5zM310.2 219.6h1.5v1.5h-1.5zM313.2 219.6h1.5v1.5h-1.5zM315.7 219.6h1.5v1.5h-1.5zM325.7 219.6h1.5v1.5h-1.5zM329.2 219.6h1.5v1.5h-1.5zM330.7 219.6h1.5v1.5h-1.5zM331.7 219.6h1.5v1.5h-1.5zM335.7 219.6h1.5v1.5h-1.5zM338.7 219.6h1.5v1.5h-1.5zM339.7 219.6h1.5v1.5h-1.5zM340.2 219.6h1.5v1.5h-1.5zM341.7 219.6h1.5v1.5h-1.5zM346.2 219.6h1.5v1.5h-1.5zM347.7 219.6h1.5v1.5h-1.5zM348.2 219.6h1.5v1.5h-1.5zM350.2 219.6h1.5v1.5h-1.5zM355.2 219.6h1.5v1.5h-1.5zM364.2 219.6h1.5v1.5h-1.5zM382.7 219.6h1.5v1.5h-1.5zM385.7 219.6h1.5v1.5h-1.5zM388.2 219.6h1.5v1.5h-1.5zM393.2 219.6h1.5v1.5h-1.5zM398.7 219.6h1.5v1.5h-1.5zM424.1 219.6h1.5v1.5h-1.5zM463.1 219.6h1.5v1.5h-1.5zM463.1 219.6h1.5v1.5h-1.5zM472.1 219.6h1.5v1.5h-1.5zM483.1 219.6h1.5v1.5h-1.5zM532.1 219.6h1.5v1.5h-1.5zM561.1 219.6h1.5v1.5h-1.5zM172.8 221.8h1.5v1.5h-1.5zM177.3 221.8h1.5v1.5h-1.5zM204.3 221.8h1.5v1.5h-1.5zM205.8 221.8h1.5v1.5h-1.5zM234.3 221.8h1.5v1.5h-1.5zM243.7 221.8h1.5v1.5h-1.5zM247.2 221.8h1.5v1.5h-1.5zM250.2 221.8h1.5v1.5h-1.5zM259.2 221.8h1.5v1.5h-1.5zM262.2 221.8h1.5v1.5h-1.5zM263.2 221.8h1.5v1.5h-1.5zM278.7 221.8h1.5v1.5h-1.5zM290.7 221.8h1.5v1.5h-1.5zM292.7 221.8h1.5v1.5h-1.5zM303.7 221.8h1.5v1.5h-1.5zM308.2 221.8h1.5v1.5h-1.5zM308.7 221.8h1.5v1.5h-1.5zM308.7 221.8h1.5v1.5h-1.5zM316.7 221.8h1.5v1.5h-1.5zM321.2 221.8h1.5v1.5h-1.5zM329.7 221.8h1.5v1.5h-1.5zM330.2 221.8h1.5v1.5h-1.5zM330.2 221.8h1.5v1.5h-1.5zM334.2 221.8h1.5v1.5h-1.5zM335.2 221.8h1.5v1.5h-1.5zM338.7 221.8h1.5v1.5h-1.5zM356.2 221.8h1.5v1.5h-1.5zM356.7 221.8h1.5v1.5h-1.5zM359.7 221.8h1.5v1.5h-1.5zM364.2 221.8h1.5v1.5h-1.5zM364.7 221.8h1.5v1.5h-1.5zM368.7 221.8h1.5v1.5h-1.5zM380.2 221.8h1.5v1.5h-1.5zM380.7 221.8h1.5v1.5h-1.5zM383.2 221.8h1.5v1.5h-1.5zM387.7 221.8h1.5v1.5h-1.5zM388.2 221.8h1.5v1.5h-1.5zM389.7 221.8h1.5v1.5h-1.5zM402.7 221.8h1.5v1.5h-1.5zM420.6 221.8h1.5v1.5h-1.5zM429.1 221.8h1.5v1.5h-1.5zM434.1 221.8h1.5v1.5h-1.5zM460.1 221.8h1.5v1.5h-1.5zM474.6 221.8h1.5v1.5h-1.5zM538.6 221.8h1.5v1.5h-1.5zM90.3 223.9h1.5v1.5h-1.5zM158.8 223.9h1.5v1.5h-1.5zM209.3 223.9h1.5v1.5h-1.5zM211.8 223.9h1.5v1.5h-1.5zM217.3 223.9h1.5v1.5h-1.5zM221.8 223.9h1.5v1.5h-1.5zM227.3 223.9h1.5v1.5h-1.5zM229.8 223.9h1.5v1.5h-1.5zM232.8 223.9h1.5v1.5h-1.5zM236.3 223.9h1.5v1.5h-1.5zM236.8 223.9h1.5v1.5h-1.5zM251.2 223.9h1.5v1.5h-1.5zM257.2 223.9h1.5v1.5h-1.5zM266.2 223.9h1.5v1.5h-1.5zM278.2 223.9h1.5v1.5h-1.5zM283.7 223.9h1.5v1.5h-1.5zM285.2 223.9h1.5v1.5h-1.5zM285.2 223.9h1.5v1.5h-1.5zM287.7 223.9h1.5v1.5h-1.5zM293.2 223.9h1.5v1.5h-1.5zM300.2 223.9h1.5v1.5h-1.5zM304.7 223.9h1.5v1.5h-1.5zM308.7 223.9h1.5v1.5h-1.5zM315.7 223.9h1.5v1.5h-1.5zM334.2 223.9h1.5v1.5h-1.5zM341.7 223.9h1.5v1.5h-1.5zM345.7 223.9h1.5v1.5h-1.5zM346.7 223.9h1.5v1.5h-1.5zM365.2 223.9h1.5v1.5h-1.5zM366.2 223.9h1.5v1.5h-1.5zM368.2 223.9h1.5v1.5h-1.5zM371.7 223.9h1.5v1.5h-1.5zM378.7 223.9h1.5v1.5h-1.5zM380.7 223.9h1.5v1.5h-1.5zM381.7 223.9h1.5v1.5h-1.5zM394.2 223.9h1.5v1.5h-1.5zM394.7 223.9h1.5v1.5h-1.5zM408.6 223.9h1.5v1.5h-1.5zM413.1 223.9h1.5v1.5h-1.5zM426.1 223.9h1.5v1.5h-1.5zM427.6 223.9h1.5v1.5h-1.5zM432.1 223.9h1.5v1.5h-1.5zM453.1 223.9h1.5v1.5h-1.5zM455.1 223.9h1.5v1.5h-1.5zM555.6 223.9h1.5v1.5h-1.5zM107.3 226.1h1.5v1.5h-1.5zM146.8 226.1h1.5v1.5h-1.5zM180.8 226.1h1.5v1.5h-1.5zM189.8 226.1h1.5v1.5h-1.5zM194.8 226.1h1.5v1.5h-1.5zM195.8 226.1h1.5v1.5h-1.5zM223.8 226.1h1.5v1.5h-1.5zM236.8 226.1h1.5v1.5h-1.5zM240.8 226.1h1.5v1.5h-1.5zM243.2 226.1h1.5v1.5h-1.5zM244.7 226.1h1.5v1.5h-1.5zM244.7 226.1h1.5v1.5h-1.5zM249.2 226.1h1.5v1.5h-1.5zM255.7 226.1h1.5v1.5h-1.5zM259.2 226.1h1.5v1.5h-1.5zM262.2 226.1h1.5v1.5h-1.5zM263.2 226.1h1.5v1.5h-1.5zM267.7 226.1h1.5v1.5h-1.5zM273.2 226.1h1.5v1.5h-1.5zM273.7 226.1h1.5v1.5h-1.5zM288.2 226.1h1.5v1.5h-1.5zM288.7 226.1h1.5v1.5h-1.5zM289.2 226.1h1.5v1.5h-1.5zM291.2 226.1h1.5v1.5h-1.5zM296.7 226.1h1.5v1.5h-1.5zM305.2 226.1h1.5v1.5h-1.5zM306.7 226.1h1.5v1.5h-1.5zM307.2 226.1h1.5v1.5h-1.5zM307.7 226.1h1.5v1.5h-1.5zM313.2 226.1h1.5v1.5h-1.5zM319.2 226.1h1.5v1.5h-1.5zM321.2 226.1h1.5v1.5h-1.5zM326.7 226.1h1.5v1.5h-1.5zM333.2 226.1h1.5v1.5h-1.5zM336.2 226.1h1.5v1.5h-1.5zM344.7 226.1h1.5v1.5h-1.5zM349.2 226.1h1.5v1.5h-1.5zM355.7 226.1h1.5v1.5h-1.5zM363.2 226.1h1.5v1.5h-1.5zM364.7 226.1h1.5v1.5h-1.5zM368.2 226.1h1.5v1.5h-1.5zM371.7 226.1h1.5v1.5h-1.5zM377.7 226.1h1.5v1.5h-1.5zM380.7 226.1h1.5v1.5h-1.5zM396.2 226.1h1.5v1.5h-1.5zM400.2 226.1h1.5v1.5h-1.5zM409.1 226.1h1.5v1.5h-1.5zM423.6 226.1h1.5v1.5h-1.5zM426.6 226.1h1.5v1.5h-1.5zM436.1 226.1h1.5v1.5h-1.5zM442.1 226.1h1.5v1.5h-1.5zM471.6 226.1h1.5v1.5h-1.5zM472.1 226.1h1.5v1.5h-1.5zM477.6 226.1h1.5v1.5h-1.5zM506.6 226.1h1.5v1.5h-1.5zM551.6 226.1h1.5v1.5h-1.5zM90.8 228.2h1.5v1.5h-1.5zM139.3 228.2h1.5v1.5h-1.5zM189.3 228.2h1.5v1.5h-1.5zM207.8 228.2h1.5v1.5h-1.5zM218.3 228.2h1.5v1.5h-1.5zM219.3 228.2h1.5v1.5h-1.5zM221.8 228.2h1.5v1.5h-1.5zM222.8 228.2h1.5v1.5h-1.5zM222.8 228.2h1.5v1.5h-1.5zM225.3 228.2h1.5v1.5h-1.5zM237.3 228.2h1.5v1.5h-1.5zM275.2 228.2h1.5v1.5h-1.5zM281.7 228.2h1.5v1.5h-1.5zM284.2 228.2h1.5v1.5h-1.5zM289.2 228.2h1.5v1.5h-1.5zM294.2 228.2h1.5v1.5h-1.5zM300.2 228.2h1.5v1.5h-1.5zM301.2 228.2h1.5v1.5h-1.5zM308.7 228.2h1.5v1.5h-1.5zM311.2 228.2h1.5v1.5h-1.5zM311.2 228.2h1.5v1.5h-1.5zM311.7 228.2h1.5v1.5h-1.5zM312.2 228.2h1.5v1.5h-1.5zM324.2 228.2h1.5v1.5h-1.5zM328.2 228.2h1.5v1.5h-1.5zM329.7 228.2h1.5v1.5h-1.5zM330.2 228.2h1.5v1.5h-1.5zM330.2 228.2h1.5v1.5h-1.5zM331.7 228.2h1.5v1.5h-1.5zM331.7 228.2h1.5v1.5h-1.5zM333.2 228.2h1.5v1.5h-1.5zM336.7 228.2h1.5v1.5h-1.5zM339.2 228.2h1.5v1.5h-1.5zM340.2 228.2h1.5v1.5h-1.5zM341.2 228.2h1.5v1.5h-1.5zM347.2 228.2h1.5v1.5h-1.5zM349.7 228.2h1.5v1.5h-1.5zM353.7 228.2h1.5v1.5h-1.5zM358.2 228.2h1.5v1.5h-1.5zM358.7 228.2h1.5v1.5h-1.5zM362.7 228.2h1.5v1.5h-1.5zM374.7 228.2h1.5v1.5h-1.5zM379.2 228.2h1.5v1.5h-1.5zM379.2 228.2h1.5v1.5h-1.5zM380.7 228.2h1.5v1.5h-1.5zM381.2 228.2h1.5v1.5h-1.5zM384.2 228.2h1.5v1.5h-1.5zM400.2 228.2h1.5v1.5h-1.5zM402.2 228.2h1.5v1.5h-1.5zM416.6 228.2h1.5v1.5h-1.5zM420.6 228.2h1.5v1.5h-1.5zM433.1 228.2h1.5v1.5h-1.5zM455.1 228.2h1.5v1.5h-1.5zM461.1 228.2h1.5v1.5h-1.5zM481.1 228.2h1.5v1.5h-1.5zM490.1 228.2h1.5v1.5h-1.5zM496.1 228.2h1.5v1.5h-1.5zM110.3 230.4h1.5v1.5h-1.5zM170.8 230.4h1.5v1.5h-1.5zM186.8 230.4h1.5v1.5h-1.5zM226.3 230.4h1.5v1.5h-1.5zM241.3 230.4h1.5v1.5h-1.5zM241.3 230.4h1.5v1.5h-1.5zM247.7 230.4h1.5v1.5h-1.5zM251.7 230.4h1.5v1.5h-1.5zM270.7 230.4h1.5v1.5h-1.5zM280.2 230.4h1.5v1.5h-1.5zM284.7 230.4h1.5v1.5h-1.5zM285.2 230.4h1.5v1.5h-1.5zM293.2 230.4h1.5v1.5h-1.5zM300.7 230.4h1.5v1.5h-1.5zM302.7 230.4h1.5v1.5h-1.5zM308.2 230.4h1.5v1.5h-1.5zM309.7 230.4h1.5v1.5h-1.5zM313.2 230.4h1.5v1.5h-1.5zM324.2 230.4h1.5v1.5h-1.5zM328.7 230.4h1.5v1.5h-1.5zM330.7 230.4h1.5v1.5h-1.5zM334.2 230.4h1.5v1.5h-1.5zM335.7 230.4h1.5v1.5h-1.5zM337.7 230.4h1.5v1.5h-1.5zM341.7 230.4h1.5v1.5h-1.5zM342.7 230.4h1.5v1.5h-1.5zM343.2 230.4h1.5v1.5h-1.5zM346.7 230.4h1.5v1.5h-1.5zM355.7 230.4h1.5v1.5h-1.5zM356.7 230.4h1.5v1.5h-1.5zM364.2 230.4h1.5v1.5h-1.5zM365.2 230.4h1.5v1.5h-1.5zM365.2 230.4h1.5v1.5h-1.5zM366.2 230.4h1.5v1.5h-1.5zM371.2 230.4h1.5v1.5h-1.5zM371.7 230.4h1.5v1.5h-1.5zM378.2 230.4h1.5v1.5h-1.5zM381.7 230.4h1.5v1.5h-1.5zM384.2 230.4h1.5v1.5h-1.5zM407.2 230.4h1.5v1.5h-1.5zM416.1 230.4h1.5v1.5h-1.5zM428.1 230.4h1.5v1.5h-1.5zM449.1 230.4h1.5v1.5h-1.5zM456.1 230.4h1.5v1.5h-1.5zM491.1 230.4h1.5v1.5h-1.5zM497.6 230.4h1.5v1.5h-1.5zM498.1 230.4h1.5v1.5h-1.5zM79.3 232.5h1.5v1.5h-1.5zM111.3 232.5h1.5v1.5h-1.5zM147.3 232.5h1.5v1.5h-1.5zM178.8 232.5h1.5v1.5h-1.5zM186.3 232.5h1.5v1.5h-1.5zM190.3 232.5h1.5v1.5h-1.5zM222.8 232.5h1.5v1.5h-1.5zM243.7 232.5h1.5v1.5h-1.5zM248.7 232.5h1.5v1.5h-1.5zM255.7 232.5h1.5v1.5h-1.5zM263.7 232.5h1.5v1.5h-1.5zM284.2 232.5h1.5v1.5h-1.5zM285.7 232.5h1.5v1.5h-1.5zM288.7 232.5h1.5v1.5h-1.5zM289.7 232.5h1.5v1.5h-1.5zM291.2 232.5h1.5v1.5h-1.5zM296.7 232.5h1.5v1.5h-1.5zM298.2 232.5h1.5v1.5h-1.5zM301.2 232.5h1.5v1.5h-1.5zM303.2 232.5h1.5v1.5h-1.5zM303.2 232.5h1.5v1.5h-1.5zM304.2 232.5h1.5v1.5h-1.5zM308.7 232.5h1.5v1.5h-1.5zM313.7 232.5h1.5v1.5h-1.5zM325.2 232.5h1.5v1.5h-1.5zM333.2 232.5h1.5v1.5h-1.5zM333.2 232.5h1.5v1.5h-1.5zM335.2 232.5h1.5v1.5h-1.5zM341.2 232.5h1.5v1.5h-1.5zM341.2 232.5h1.5v1.5h-1.5zM345.2 232.5h1.5v1.5h-1.5zM352.2 232.5h1.5v1.5h-1.5zM358.2 232.5h1.5v1.5h-1.5zM358.7 232.5h1.5v1.5h-1.5zM361.2 232.5h1.5v1.5h-1.5zM364.2 232.5h1.5v1.5h-1.5zM366.7 232.5h1.5v1.5h-1.5zM392.2 232.5h1.5v1.5h-1.5zM424.1 232.5h1.5v1.5h-1.5zM429.6 232.5h1.5v1.5h-1.5zM430.6 232.5h1.5v1.5h-1.5zM432.1 232.5h1.5v1.5h-1.5zM436.1 232.5h1.5v1.5h-1.5zM437.6 232.5h1.5v1.5h-1.5zM441.1 232.5h1.5v1.5h-1.5zM454.6 232.5h1.5v1.5h-1.5zM459.6 232.5h1.5v1.5h-1.5zM92.8 234.7h1.5v1.5h-1.5zM101.3 234.7h1.5v1.5h-1.5zM142.8 234.7h1.5v1.5h-1.5zM239.3 234.7h1.5v1.5h-1.5zM251.2 234.7h1.5v1.5h-1.5zM254.7 234.7h1.5v1.5h-1.5zM259.7 234.7h1.5v1.5h-1.5zM265.2 234.7h1.5v1.5h-1.5zM267.2 234.7h1.5v1.5h-1.5zM267.7 234.7h1.5v1.5h-1.5zM275.7 234.7h1.5v1.5h-1.5zM286.7 234.7h1.5v1.5h-1.5zM296.7 234.7h1.5v1.5h-1.5zM298.2 234.7h1.5v1.5h-1.5zM303.2 234.7h1.5v1.5h-1.5zM304.2 234.7h1.5v1.5h-1.5zM306.2 234.7h1.5v1.5h-1.5zM307.2 234.7h1.5v1.5h-1.5zM317.7 234.7h1.5v1.5h-1.5zM320.2 234.7h1.5v1.5h-1.5zM324.7 234.7h1.5v1.5h-1.5zM329.2 234.7h1.5v1.5h-1.5zM332.7 234.7h1.5v1.5h-1.5zM351.2 234.7h1.5v1.5h-1.5zM353.7 234.7h1.5v1.5h-1.5zM357.7 234.7h1.5v1.5h-1.5zM363.2 234.7h1.5v1.5h-1.5zM367.7 234.7h1.5v1.5h-1.5zM380.2 234.7h1.5v1.5h-1.5zM380.7 234.7h1.5v1.5h-1.5zM385.2 234.7h1.5v1.5h-1.5zM385.2 234.7h1.5v1.5h-1.5zM390.7 234.7h1.5v1.5h-1.5zM400.2 234.7h1.5v1.5h-1.5zM413.6 234.7h1.5v1.5h-1.5zM414.1 234.7h1.5v1.5h-1.5zM418.1 234.7h1.5v1.5h-1.5zM435.1 234.7h1.5v1.5h-1.5zM446.6 234.7h1.5v1.5h-1.5zM452.1 234.7h1.5v1.5h-1.5zM456.1 234.7h1.5v1.5h-1.5zM477.1 234.7h1.5v1.5h-1.5zM478.6 234.7h1.5v1.5h-1.5zM503.6 234.7h1.5v1.5h-1.5zM538.6 234.7h1.5v1.5h-1.5zM547.6 234.7h1.5v1.5h-1.5zM554.1 234.7h1.5v1.5h-1.5zM101.3 236.8h1.5v1.5h-1.5zM110.3 236.8h1.5v1.5h-1.5zM123.8 236.8h1.5v1.5h-1.5zM168.3 236.8h1.5v1.5h-1.5zM175.3 236.8h1.5v1.5h-1.5zM188.8 236.8h1.5v1.5h-1.5zM188.8 236.8h1.5v1.5h-1.5zM192.8 236.8h1.5v1.5h-1.5zM196.8 236.8h1.5v1.5h-1.5zM203.3 236.8h1.5v1.5h-1.5zM211.8 236.8h1.5v1.5h-1.5zM216.3 236.8h1.5v1.5h-1.5zM231.3 236.8h1.5v1.5h-1.5zM233.3 236.8h1.5v1.5h-1.5zM242.2 236.8h1.5v1.5h-1.5zM270.7 236.8h1.5v1.5h-1.5zM284.7 236.8h1.5v1.5h-1.5zM287.2 236.8h1.5v1.5h-1.5zM292.2 236.8h1.5v1.5h-1.5zM309.7 236.8h1.5v1.5h-1.5zM320.2 236.8h1.5v1.5h-1.5zM320.7 236.8h1.5v1.5h-1.5zM324.7 236.8h1.5v1.5h-1.5zM325.7 236.8h1.5v1.5h-1.5zM328.7 236.8h1.5v1.5h-1.5zM331.2 236.8h1.5v1.5h-1.5zM332.2 236.8h1.5v1.5h-1.5zM335.2 236.8h1.5v1.5h-1.5zM337.7 236.8h1.5v1.5h-1.5zM355.7 236.8h1.5v1.5h-1.5zM356.2 236.8h1.5v1.5h-1.5zM370.2 236.8h1.5v1.5h-1.5zM375.2 236.8h1.5v1.5h-1.5zM376.7 236.8h1.5v1.5h-1.5zM376.7 236.8h1.5v1.5h-1.5zM377.2 236.8h1.5v1.5h-1.5zM382.2 236.8h1.5v1.5h-1.5zM383.2 236.8h1.5v1.5h-1.5zM398.7 236.8h1.5v1.5h-1.5zM418.6 236.8h1.5v1.5h-1.5zM429.6 236.8h1.5v1.5h-1.5zM435.1 236.8h1.5v1.5h-1.5zM474.1 236.8h1.5v1.5h-1.5zM534.6 236.8h1.5v1.5h-1.5zM561.6 236.8h1.5v1.5h-1.5zM136.3 239.0h1.5v1.5h-1.5zM190.3 239.0h1.5v1.5h-1.5zM204.8 239.0h1.5v1.5h-1.5zM270.7 239.0h1.5v1.5h-1.5zM273.7 239.0h1.5v1.5h-1.5zM274.7 239.0h1.5v1.5h-1.5zM277.2 239.0h1.5v1.5h-1.5zM282.2 239.0h1.5v1.5h-1.5zM287.2 239.0h1.5v1.5h-1.5zM288.2 239.0h1.5v1.5h-1.5zM288.7 239.0h1.5v1.5h-1.5zM295.7 239.0h1.5v1.5h-1.5zM299.2 239.0h1.5v1.5h-1.5zM300.2 239.0h1.5v1.5h-1.5zM312.7 239.0h1.5v1.5h-1.5zM314.7 239.0h1.5v1.5h-1.5zM315.2 239.0h1.5v1.5h-1.5zM317.7 239.0h1.5v1.5h-1.5zM320.2 239.0h1.5v1.5h-1.5zM324.2 239.0h1.5v1.5h-1.5zM324.7 239.0h1.5v1.5h-1.5zM329.7 239.0h1.5v1.5h-1.5zM331.2 239.0h1.5v1.5h-1.5zM335.2 239.0h1.5v1.5h-1.5zM335.2 239.0h1.5v1.5h-1.5zM337.2 239.0h1.5v1.5h-1.5zM341.7 239.0h1.5v1.5h-1.5zM343.2 239.0h1.5v1.5h-1.5zM344.7 239.0h1.5v1.5h-1.5zM349.2 239.0h1.5v1.5h-1.5zM351.7 239.0h1.5v1.5h-1.5zM361.7 239.0h1.5v1.5h-1.5zM367.7 239.0h1.5v1.5h-1.5zM388.2 239.0h1.5v1.5h-1.5zM393.2 239.0h1.5v1.5h-1.5zM413.6 239.0h1.5v1.5h-1.5zM426.1 239.0h1.5v1.5h-1.5zM433.6 239.0h1.5v1.5h-1.5zM438.1 239.0h1.5v1.5h-1.5zM448.6 239.0h1.5v1.5h-1.5zM467.6 239.0h1.5v1.5h-1.5zM91.8 241.1h1.5v1.5h-1.5zM129.3 241.1h1.5v1.5h-1.5zM142.8 241.1h1.5v1.5h-1.5zM145.3 241.1h1.5v1.5h-1.5zM151.3 241.1h1.5v1.5h-1.5zM163.3 241.1h1.5v1.5h-1.5zM167.8 241.1h1.5v1.5h-1.5zM204.8 241.1h1.5v1.5h-1.5zM216.8 241.1h1.5v1.5h-1.5zM220.8 241.1h1.5v1.5h-1.5zM228.3 241.1h1.5v1.5h-1.5zM232.3 241.1h1.5v1.5h-1.5zM250.2 241.1h1.5v1.5h-1.5zM258.2 241.1h1.5v1.5h-1.5zM258.7 241.1h1.5v1.5h-1.5zM264.2 241.1h1.5v1.5h-1.5zM286.7 241.1h1.5v1.5h-1.5zM289.7 241.1h1.5v1.5h-1.5zM290.2 241.1h1.5v1.5h-1.5zM293.7 241.1h1.5v1.5h-1.5zM299.2 241.1h1.5v1.5h-1.5zM301.7 241.1h1.5v1.5h-1.5zM302.2 241.1h1.5v1.5h-1.5zM306.2 241.1h1.5v1.5h-1.5zM306.2 241.1h1.5v1.5h-1.5zM309.2 241.1h1.5v1.5h-1.5zM311.7 241.1h1.5v1.5h-1.5zM322.7 241.1h1.5v1.5h-1.5zM324.2 241.1h1.5v1.5h-1.5zM334.2 241.1h1.5v1.5h-1.5zM337.2 241.1h1.5v1.5h-1.5zM342.7 241.1h1.5v1.5h-1.5zM348.2 241.1h1.5v1.5h-1.5zM348.7 241.1h1.5v1.5h-1.5zM350.7 241.1h1.5v1.5h-1.5zM351.2 241.1h1.5v1.5h-1.5zM352.7 241.1h1.5v1.5h-1.5zM363.2 241.1h1.5v1.5h-1.5zM372.7 241.1h1.5v1.5h-1.5zM373.7 241.1h1.5v1.5h-1.5zM378.2 241.1h1.5v1.5h-1.5zM378.7 241.1h1.5v1.5h-1.5zM384.7 241.1h1.5v1.5h-1.5zM391.7 241.1h1.5v1.5h-1.5zM394.2 241.1h1.5v1.5h-1.5zM414.6 241.1h1.5v1.5h-1.5zM425.1 241.1h1.5v1.5h-1.5zM452.6 241.1h1.5v1.5h-1.5zM478.6 241.1h1.5v1.5h-1.5zM519.6 241.1h1.5v1.5h-1.5zM554.1 241.1h1.5v1.5h-1.5zM557.6 241.1h1.5v1.5h-1.5zM95.3 243.3h1.5v1.5h-1.5zM136.3 243.3h1.5v1.5h-1.5zM187.8 243.3h1.5v1.5h-1.5zM211.8 243.3h1.5v1.5h-1.5zM215.8 243.3h1.5v1.5h-1.5zM219.3 243.3h1.5v1.5h-1.5zM226.3 243.3h1.5v1.5h-1.5zM230.3 243.3h1.5v1.5h-1.5zM232.3 243.3h1.5v1.5h-1.5zM235.8 243.3h1.5v1.5h-1.5zM238.3 243.3h1.5v1.5h-1.5zM245.7 243.3h1.5v1.5h-1.5zM253.7 243.3h1.5v1.5h-1.5zM260.2 243.3h1.5v1.5h-1.5zM273.2 243.3h1.5v1.5h-1.5zM277.7 243.3h1.5v1.5h-1.5zM281.7 243.3h1.5v1.5h-1.5zM286.7 243.3h1.5v1.5h-1.5zM287.7 243.3h1.5v1.5h-1.5zM289.7 243.3h1.5v1.5h-1.5zM293.7 243.3h1.5v1.5h-1.5zM294.7 243.3h1.5v1.5h-1.5zM295.7 243.3h1.5v1.5h-1.5zM314.2 243.3h1.5v1.5h-1.5zM322.2 243.3h1.5v1.5h-1.5zM322.7 243.3h1.5v1.5h-1.5zM326.2 243.3h1.5v1.5h-1.5zM328.2 243.3h1.5v1.5h-1.5zM328.7 243.3h1.5v1.5h-1.5zM333.7 243.3h1.5v1.5h-1.5zM334.2 243.3h1.5v1.5h-1.5zM334.2 243.3h1.5v1.5h-1.5zM340.2 243.3h1.5v1.5h-1.5zM349.2 243.3h1.5v1.5h-1.5zM354.2 243.3h1.5v1.5h-1.5zM359.7 243.3h1.5v1.5h-1.5zM367.7 243.3h1.5v1.5h-1.5zM371.2 243.3h1.5v1.5h-1.5zM377.7 243.3h1.5v1.5h-1.5zM378.7 243.3h1.5v1.5h-1.5zM386.2 243.3h1.5v1.5h-1.5zM389.2 243.3h1.5v1.5h-1.5zM392.7 243.3h1.5v1.5h-1.5zM421.1 243.3h1.5v1.5h-1.5zM428.1 243.3h1.5v1.5h-1.5zM433.6 243.3h1.5v1.5h-1.5zM452.6 243.3h1.5v1.5h-1.5zM467.6 243.3h1.5v1.5h-1.5zM476.1 243.3h1.5v1.5h-1.5zM479.1 243.3h1.5v1.5h-1.5zM517.6 243.3h1.5v1.5h-1.5zM548.6 243.3h1.5v1.5h-1.5zM568.6 243.3h1.5v1.5h-1.5zM138.3 245.4h1.5v1.5h-1.5zM180.8 245.4h1.5v1.5h-1.5zM221.3 245.4h1.5v1.5h-1.5zM226.3 245.4h1.5v1.5h-1.5zM227.3 245.4h1.5v1.5h-1.5zM244.7 245.4h1.5v1.5h-1.5zM248.2 245.4h1.5v1.5h-1.5zM254.7 245.4h1.5v1.5h-1.5zM274.2 245.4h1.5v1.5h-1.5zM282.7 245.4h1.5v1.5h-1.5zM286.7 245.4h1.5v1.5h-1.5zM290.2 245.4h1.5v1.5h-1.5zM295.7 245.4h1.5v1.5h-1.5zM297.2 245.4h1.5v1.5h-1.5zM297.7 245.4h1.5v1.5h-1.5zM299.7 245.4h1.5v1.5h-1.5zM302.7 245.4h1.5v1.5h-1.5zM304.7 245.4h1.5v1.5h-1.5zM306.7 245.4h1.5v1.5h-1.5zM308.2 245.4h1.5v1.5h-1.5zM309.7 245.4h1.5v1.5h-1.5zM314.2 245.4h1.5v1.5h-1.5zM316.2 245.4h1.5v1.5h-1.5zM316.7 245.4h1.5v1.5h-1.5zM323.7 245.4h1.5v1.5h-1.5zM329.7 245.4h1.5v1.5h-1.5zM334.2 245.4h1.5v1.5h-1.5zM334.2 245.4h1.5v1.5h-1.5zM342.2 245.4h1.5v1.5h-1.5zM345.7 245.4h1.5v1.5h-1.5zM348.2 245.4h1.5v1.5h-1.5zM349.7 245.4h1.5v1.5h-1.5zM360.2 245.4h1.5v1.5h-1.5zM362.7 245.4h1.5v1.5h-1.5zM375.7 245.4h1.5v1.5h-1.5zM383.2 245.4h1.5v1.5h-1.5zM386.7 245.4h1.5v1.5h-1.5zM393.7 245.4h1.5v1.5h-1.5zM397.2 245.4h1.5v1.5h-1.5zM398.2 245.4h1.5v1.5h-1.5zM406.2 245.4h1.5v1.5h-1.5zM413.6 245.4h1.5v1.5h-1.5zM449.1 245.4h1.5v1.5h-1.5zM486.6 245.4h1.5v1.5h-1.5zM553.1 245.4h1.5v1.5h-1.5zM564.1 245.4h1.5v1.5h-1.5zM98.3 247.6h1.5v1.5h-1.5zM146.3 247.6h1.5v1.5h-1.5zM174.8 247.6h1.5v1.5h-1.5zM243.2 247.6h1.5v1.5h-1.5zM243.7 247.6h1.5v1.5h-1.5zM267.7 247.6h1.5v1.5h-1.5zM272.7 247.6h1.5v1.5h-1.5zM278.7 247.6h1.5v1.5h-1.5zM282.2 247.6h1.5v1.5h-1.5zM286.7 247.6h1.5v1.5h-1.5zM290.2 247.6h1.5v1.5h-1.5zM292.7 247.6h1.5v1.5h-1.5zM294.7 247.6h1.5v1.5h-1.5zM299.2 247.6h1.5v1.5h-1.5zM301.2 247.6h1.5v1.5h-1.5zM307.2 247.6h1.5v1.5h-1.5zM307.2 247.6h1.5v1.5h-1.5zM310.7 247.6h1.5v1.5h-1.5zM322.7 247.6h1.5v1.5h-1.5zM324.2 247.6h1.5v1.5h-1.5zM325.2 247.6h1.5v1.5h-1.5zM326.7 247.6h1.5v1.5h-1.5zM329.2 247.6h1.5v1.5h-1.5zM336.2 247.6h1.5v1.5h-1.5zM345.2 247.6h1.5v1.5h-1.5zM351.7 247.6h1.5v1.5h-1.5zM353.7 247.6h1.5v1.5h-1.5zM360.2 247.6h1.5v1.5h-1.5zM377.2 247.6h1.5v1.5h-1.5zM379.7 247.6h1.5v1.5h-1.5zM381.7 247.6h1.5v1.5h-1.5zM382.7 247.6h1.5v1.5h-1.5zM414.6 247.6h1.5v1.5h-1.5zM415.6 247.6h1.5v1.5h-1.5zM427.1 247.6h1.5v1.5h-1.5zM458.1 247.6h1.5v1.5h-1.5zM485.6 247.6h1.5v1.5h-1.5zM487.6 247.6h1.5v1.5h-1.5zM517.1 247.6h1.5v1.5h-1.5zM563.6 247.6h1.5v1.5h-1.5zM115.3 249.7h1.5v1.5h-1.5zM212.8 249.7h1.5v1.5h-1.5zM234.8 249.7h1.5v1.5h-1.5zM243.7 249.7h1.5v1.5h-1.5zM244.2 249.7h1.5v1.5h-1.5zM259.7 249.7h1.5v1.5h-1.5zM261.2 249.7h1.5v1.5h-1.5zM264.7 249.7h1.5v1.5h-1.5zM272.7 249.7h1.5v1.5h-1.5zM277.7 249.7h1.5v1.5h-1.5zM282.2 249.7h1.5v1.5h-1.5zM283.7 249.7h1.5v1.5h-1.5zM284.7 249.7h1.5v1.5h-1.5zM298.7 249.7h1.5v1.5h-1.5zM300.2 249.7h1.5v1.5h-1.5zM300.7 249.7h1.5v1.5h-1.5zM304.7 249.7h1.5v1.5h-1.5zM314.2 249.7h1.5v1.5h-1.5zM317.7 249.7h1.5v1.5h-1.5zM319.7 249.7h1.5v1.5h-1.5zM328.2 249.7h1.5v1.5h-1.5zM328.2 249.7h1.5v1.5h-1.5zM333.2 249.7h1.5v1.5h-1.5zM333.7 249.7h1.5v1.5h-1.5zM337.2 249.7h1.5v1.5h-1.5zM338.2 249.7h1.5v1.5h-1.5zM341.2 249.7h1.5v1.5h-1.5zM343.2 249.7h1.5v1.5h-1.5zM350.2 249.7h1.5v1.5h-1.5zM350.7 249.7h1.5v1.5h-1.5zM351.7 249.7h1.5v1.5h-1.5zM352.7 249.7h1.5v1.5h-1.5zM364.2 249.7h1.5v1.5h-1.5zM375.2 249.7h1.5v1.5h-1.5zM375.7 249.7h1.5v1.5h-1.5zM396.2 249.7h1.5v1.5h-1.5zM396.7 249.7h1.5v1.5h-1.5zM397.2 249.7h1.5v1.5h-1.5zM402.7 249.7h1.5v1.5h-1.5zM403.2 249.7h1.5v1.5h-1.5zM414.6 249.7h1.5v1.5h-1.5zM415.1 249.7h1.5v1.5h-1.5zM416.6 249.7h1.5v1.5h-1.5zM427.6 249.7h1.5v1.5h-1.5zM434.6 249.7h1.5v1.5h-1.5zM444.1 249.7h1.5v1.5h-1.5zM451.6 249.7h1.5v1.5h-1.5zM459.1 249.7h1.5v1.5h-1.5zM507.6 249.7h1.5v1.5h-1.5zM544.6 249.7h1.5v1.5h-1.5zM556.6 249.7h1.5v1.5h-1.5zM569.6 249.7h1.5v1.5h-1.5zM91.3 251.9h1.5v1.5h-1.5zM93.3 251.9h1.5v1.5h-1.5zM220.8 251.9h1.5v1.5h-1.5zM226.3 251.9h1.5v1.5h-1.5zM240.8 251.9h1.5v1.5h-1.5zM241.3 251.9h1.5v1.5h-1.5zM241.3 251.9h1.5v1.5h-1.5zM250.2 251.9h1.5v1.5h-1.5zM261.2 251.9h1.5v1.5h-1.5zM272.7 251.9h1.5v1.5h-1.5zM273.7 251.9h1.5v1.5h-1.5zM276.7 251.9h1.5v1.5h-1.5zM280.2 251.9h1.5v1.5h-1.5zM284.7 251.9h1.5v1.5h-1.5zM285.2 251.9h1.5v1.5h-1.5zM286.7 251.9h1.5v1.5h-1.5zM290.7 251.9h1.5v1.5h-1.5zM293.2 251.9h1.5v1.5h-1.5zM300.7 251.9h1.5v1.5h-1.5zM305.2 251.9h1.5v1.5h-1.5zM316.7 251.9h1.5v1.5h-1.5zM317.2 251.9h1.5v1.5h-1.5zM326.2 251.9h1.5v1.5h-1.5zM332.2 251.9h1.5v1.5h-1.5zM332.7 251.9h1.5v1.5h-1.5zM332.7 251.9h1.5v1.5h-1.5zM333.2 251.9h1.5v1.5h-1.5zM340.7 251.9h1.5v1.5h-1.5zM341.2 251.9h1.5v1.5h-1.5zM344.7 251.9h1.5v1.5h-1.5zM353.2 251.9h1.5v1.5h-1.5zM357.2 251.9h1.5v1.5h-1.5zM365.2 251.9h1.5v1.5h-1.5zM371.2 251.9h1.5v1.5h-1.5zM372.2 251.9h1.5v1.5h-1.5zM376.2 251.9h1.5v1.5h-1.5zM376.7 251.9h1.5v1.5h-1.5zM380.2 251.9h1.5v1.5h-1.5zM387.2 251.9h1.5v1.5h-1.5zM401.7 251.9h1.5v1.5h-1.5zM405.2 251.9h1.5v1.5h-1.5zM408.6 251.9h1.5v1.5h-1.5zM410.6 251.9h1.5v1.5h-1.5zM426.1 251.9h1.5v1.5h-1.5zM427.6 251.9h1.5v1.5h-1.5zM434.1 251.9h1.5v1.5h-1.5zM438.1 251.9h1.5v1.5h-1.5zM449.6 251.9h1.5v1.5h-1.5zM453.1 251.9h1.5v1.5h-1.5zM463.6 251.9h1.5v1.5h-1.5zM476.1 251.9h1.5v1.5h-1.5zM492.6 251.9h1.5v1.5h-1.5zM514.1 251.9h1.5v1.5h-1.5zM96.8 254.0h1.5v1.5h-1.5zM184.3 254.0h1.5v1.5h-1.5zM196.3 254.0h1.5v1.5h-1.5zM219.3 254.0h1.5v1.5h-1.5zM221.8 254.0h1.5v1.5h-1.5zM230.8 254.0h1.5v1.5h-1.5zM236.3 254.0h1.5v1.5h-1.5zM237.3 254.0h1.5v1.5h-1.5zM238.3 254.0h1.5v1.5h-1.5zM238.8 254.0h1.5v1.5h-1.5zM241.7 254.0h1.5v1.5h-1.5zM260.7 254.0h1.5v1.5h-1.5zM283.2 254.0h1.5v1.5h-1.5zM284.7 254.0h1.5v1.5h-1.5zM297.2 254.0h1.5v1.5h-1.5zM303.2 254.0h1.5v1.5h-1.5zM304.7 254.0h1.5v1.5h-1.5zM305.7 254.0h1.5v1.5h-1.5zM313.2 254.0h1.5v1.5h-1.5zM316.7 254.0h1.5v1.5h-1.5zM319.7 254.0h1.5v1.5h-1.5zM322.2 254.0h1.5v1.5h-1.5zM324.2 254.0h1.5v1.5h-1.5zM330.2 254.0h1.5v1.5h-1.5zM332.7 254.0h1.5v1.5h-1.5zM335.7 254.0h1.5v1.5h-1.5zM337.2 254.0h1.5v1.5h-1.5zM341.7 254.0h1.5v1.5h-1.5zM342.7 254.0h1.5v1.5h-1.5zM343.7 254.0h1.5v1.5h-1.5zM345.2 254.0h1.5v1.5h-1.5zM347.2 254.0h1.5v1.5h-1.5zM348.7 254.0h1.5v1.5h-1.5zM352.7 254.0h1.5v1.5h-1.5zM358.2 254.0h1.5v1.5h-1.5zM368.7 254.0h1.5v1.5h-1.5zM379.2 254.0h1.5v1.5h-1.5zM398.7 254.0h1.5v1.5h-1.5zM399.2 254.0h1.5v1.5h-1.5zM400.7 254.0h1.5v1.5h-1.5zM401.7 254.0h1.5v1.5h-1.5zM414.6 254.0h1.5v1.5h-1.5zM429.6 254.0h1.5v1.5h-1.5zM433.1 254.0h1.5v1.5h-1.5zM453.1 254.0h1.5v1.5h-1.5zM459.6 254.0h1.5v1.5h-1.5zM464.1 254.0h1.5v1.5h-1.5zM474.1 254.0h1.5v1.5h-1.5zM477.6 254.0h1.5v1.5h-1.5zM501.1 254.0h1.5v1.5h-1.5zM507.6 254.0h1.5v1.5h-1.5zM530.6 254.0h1.5v1.5h-1.5zM85.8 256.2h1.5v1.5h-1.5zM136.8 256.2h1.5v1.5h-1.5zM146.3 256.2h1.5v1.5h-1.5zM218.3 256.2h1.5v1.5h-1.5zM220.8 256.2h1.5v1.5h-1.5zM227.3 256.2h1.5v1.5h-1.5zM237.8 256.2h1.5v1.5h-1.5zM239.3 256.2h1.5v1.5h-1.5zM239.8 256.2h1.5v1.5h-1.5zM243.7 256.2h1.5v1.5h-1.5zM249.2 256.2h1.5v1.5h-1.5zM274.7 256.2h1.5v1.5h-1.5zM295.2 256.2h1.5v1.5h-1.5zM296.2 256.2h1.5v1.5h-1.5zM305.7 256.2h1.5v1.5h-1.5zM305.7 256.2h1.5v1.5h-1.5zM308.2 256.2h1.5v1.5h-1.5zM312.7 256.2h1.5v1.5h-1.5zM322.7 256.2h1.5v1.5h-1.5zM328.7 256.2h1.5v1.5h-1.5zM329.2 256.2h1.5v1.5h-1.5zM331.7 256.2h1.5v1.5h-1.5zM331.7 256.2h1.5v1.5h-1.5zM331.7 256.2h1.5v1.5h-1.5zM332.2 256.2h1.5v1.5h-1.5zM335.2 256.2h1.5v1.5h-1.5zM340.7 256.2h1.5v1.5h-1.5zM352.2 256.2h1.5v1.5h-1.5zM354.7 256.2h1.5v1.5h-1.5zM358.2 256.2h1.5v1.5h-1.5zM370.7 256.2h1.5v1.5h-1.5zM376.2 256.2h1.5v1.5h-1.5zM381.2 256.2h1.5v1.5h-1.5zM388.7 256.2h1.5v1.5h-1.5zM402.7 256.2h1.5v1.5h-1.5zM408.1 256.2h1.5v1.5h-1.5zM416.6 256.2h1.5v1.5h-1.5zM431.6 256.2h1.5v1.5h-1.5zM435.1 256.2h1.5v1.5h-1.5zM435.1 256.2h1.5v1.5h-1.5zM437.6 256.2h1.5v1.5h-1.5zM472.6 256.2h1.5v1.5h-1.5zM480.1 256.2h1.5v1.5h-1.5zM514.6 256.2h1.5v1.5h-1.5zM533.1 256.2h1.5v1.5h-1.5zM557.6 256.2h1.5v1.5h-1.5zM83.8 258.3h1.5v1.5h-1.5zM187.3 258.3h1.5v1.5h-1.5zM224.3 258.3h1.5v1.5h-1.5zM250.2 258.3h1.5v1.5h-1.5zM252.2 258.3h1.5v1.5h-1.5zM260.2 258.3h1.5v1.5h-1.5zM260.7 258.3h1.5v1.5h-1.5zM261.7 258.3h1.5v1.5h-1.5zM273.7 258.3h1.5v1.5h-1.5zM282.2 258.3h1.5v1.5h-1.5zM287.2 258.3h1.5v1.5h-1.5zM289.7 258.3h1.5v1.5h-1.5zM296.7 258.3h1.5v1.5h-1.5zM304.2 258.3h1.5v1.5h-1.5zM307.2 258.3h1.5v1.5h-1.5zM312.7 258.3h1.5v1.5h-1.5zM312.7 258.3h1.5v1.5h-1.5zM315.2 258.3h1.5v1.5h-1.5zM316.2 258.3h1.5v1.5h-1.5zM318.2 258.3h1.5v1.5h-1.5zM326.7 258.3h1.5v1.5h-1.5zM330.7 258.3h1.5v1.5h-1.5zM331.7 258.3h1.5v1.5h-1.5zM333.2 258.3h1.5v1.5h-1.5zM334.7 258.3h1.5v1.5h-1.5zM339.2 258.3h1.5v1.5h-1.5zM345.7 258.3h1.5v1.5h-1.5zM348.2 258.3h1.5v1.5h-1.5zM352.7 258.3h1.5v1.5h-1.5zM367.2 258.3h1.5v1.5h-1.5zM368.7 258.3h1.5v1.5h-1.5zM372.2 258.3h1.5v1.5h-1.5zM374.7 258.3h1.5v1.5h-1.5zM383.2 258.3h1.5v1.5h-1.5zM392.7 258.3h1.5v1.5h-1.5zM394.2 258.3h1.5v1.5h-1.5zM400.2 258.3h1.5v1.5h-1.5zM411.1 258.3h1.5v1.5h-1.5zM427.1 258.3h1.5v1.5h-1.5zM434.1 258.3h1.5v1.5h-1.5zM449.6 258.3h1.5v1.5h-1.5zM453.1 258.3h1.5v1.5h-1.5zM501.6 258.3h1.5v1.5h-1.5zM502.1 258.3h1.5v1.5h-1.5zM558.1 258.3h1.5v1.5h-1.5zM107.8 260.5h1.5v1.5h-1.5zM137.8 260.5h1.5v1.5h-1.5zM145.8 260.5h1.5v1.5h-1.5zM181.8 260.5h1.5v1.5h-1.5zM182.8 260.5h1.5v1.5h-1.5zM213.8 260.5h1.5v1.5h-1.5zM214.8 260.5h1.5v1.5h-1.5zM225.3 260.5h1.5v1.5h-1.5zM238.3 260.5h1.5v1.5h-1.5zM247.7 260.5h1.5v1.5h-1.5zM261.2 260.5h1.5v1.5h-1.5zM264.7 260.5h1.5v1.5h-1.5zM279.2 260.5h1.5v1.5h-1.5zM280.7 260.5h1.5v1.5h-1.5zM287.7 260.5h1.5v1.5h-1.5zM297.2 260.5h1.5v1.5h-1.5zM299.2 260.5h1.5v1.5h-1.5zM304.2 260.5h1.5v1.5h-1.5zM304.7 260.5h1.5v1.5h-1.5zM307.2 260.5h1.5v1.5h-1.5zM309.7 260.5h1.5v1.5h-1.5zM311.2 260.5h1.5v1.5h-1.5zM312.2 260.5h1.5v1.5h-1.5zM316.7 260.5h1.5v1.5h-1.5zM324.2 260.5h1.5v1.5h-1.5zM324.2 260.5h1.5v1.5h-1.5zM329.2 260.5h1.5v1.5h-1.5zM333.2 260.5h1.5v1.5h-1.5zM333.2 260.5h1.5v1.5h-1.5zM334.2 260.5h1.5v1.5h-1.5zM337.2 260.5h1.5v1.5h-1.5zM341.7 260.5h1.5v1.5h-1.5zM341.7 260.5h1.5v1.5h-1.5zM344.2 260.5h1.5v1.5h-1.5zM344.2 260.5h1.5v1.5h-1.5zM356.7 260.5h1.5v1.5h-1.5zM357.7 260.5h1.5v1.5h-1.5zM359.7 260.5h1.5v1.5h-1.5zM359.7 260.5h1.5v1.5h-1.5zM359.7 260.5h1.5v1.5h-1.5zM361.7 260.5h1.5v1.5h-1.5zM366.2 260.5h1.5v1.5h-1.5zM374.2 260.5h1.5v1.5h-1.5zM393.2 260.5h1.5v1.5h-1.5zM419.1 260.5h1.5v1.5h-1.5zM506.1 260.5h1.5v1.5h-1.5zM508.6 260.5h1.5v1.5h-1.5zM519.6 260.5h1.5v1.5h-1.5zM92.8 262.6h1.5v1.5h-1.5zM99.3 262.6h1.5v1.5h-1.5zM108.3 262.6h1.5v1.5h-1.5zM120.8 262.6h1.5v1.5h-1.5zM154.8 262.6h1.5v1.5h-1.5zM169.3 262.6h1.5v1.5h-1.5zM177.8 262.6h1.5v1.5h-1.5zM188.3 262.6h1.5v1.5h-1.5zM188.8 262.6h1.5v1.5h-1.5zM191.3 262.6h1.5v1.5h-1.5zM205.3 262.6h1.5v1.5h-1.5zM210.8 262.6h1.5v1.5h-1.5zM233.3 262.6h1.5v1.5h-1.5zM236.3 262.6h1.5v1.5h-1.5zM248.7 262.6h1.5v1.5h-1.5zM260.2 262.6h1.5v1.5h-1.5zM260.2 262.6h1.5v1.5h-1.5zM286.2 262.6h1.5v1.5h-1.5zM304.7 262.6h1.5v1.5h-1.5zM319.7 262.6h1.5v1.5h-1.5zM320.2 262.6h1.5v1.5h-1.5zM321.2 262.6h1.5v1.5h-1.5zM323.7 262.6h1.5v1.5h-1.5zM327.2 262.6h1.5v1.5h-1.5zM330.7 262.6h1.5v1.5h-1.5zM338.7 262.6h1.5v1.5h-1.5zM345.7 262.6h1.5v1.5h-1.5zM349.7 262.6h1.5v1.5h-1.5zM352.2 262.6h1.5v1.5h-1.5zM354.7 262.6h1.5v1.5h-1.5zM364.7 262.6h1.5v1.5h-1.5zM369.2 262.6h1.5v1.5h-1.5zM372.2 262.6h1.5v1.5h-1.5zM374.2 262.6h1.5v1.5h-1.5zM381.7 262.6h1.5v1.5h-1.5zM399.7 262.6h1.5v1.5h-1.5zM427.1 262.6h1.5v1.5h-1.5zM439.1 262.6h1.5v1.5h-1.5zM446.6 262.6h1.5v1.5h-1.5zM447.6 262.6h1.5v1.5h-1.5zM450.1 262.6h1.5v1.5h-1.5zM457.6 262.6h1.5v1.5h-1.5zM478.1 262.6h1.5v1.5h-1.5zM487.6 262.6h1.5v1.5h-1.5zM537.6 262.6h1.5v1.5h-1.5zM125.3 264.8h1.5v1.5h-1.5zM132.8 264.8h1.5v1.5h-1.5zM178.3 264.8h1.5v1.5h-1.5zM209.3 264.8h1.5v1.5h-1.5zM229.8 264.8h1.5v1.5h-1.5zM233.3 264.8h1.5v1.5h-1.5zM241.7 264.8h1.5v1.5h-1.5zM245.2 264.8h1.5v1.5h-1.5zM246.2 264.8h1.5v1.5h-1.5zM258.2 264.8h1.5v1.5h-1.5zM260.2 264.8h1.5v1.5h-1.5zM264.2 264.8h1.5v1.5h-1.5zM267.7 264.8h1.5v1.5h-1.5zM274.2 264.8h1.5v1.5h-1.5zM283.2 264.8h1.5v1.5h-1.5zM294.7 264.8h1.5v1.5h-1.5zM295.7 264.8h1.5v1.5h-1.5zM297.7 264.8h1.5v1.5h-1.5zM301.2 264.8h1.5v1.5h-1.5zM303.7 264.8h1.5v1.5h-1.5zM303.7 264.8h1.5v1.5h-1.5zM311.2 264.8h1.5v1.5h-1.5zM311.7 264.8h1.5v1.5h-1.5zM312.2 264.8h1.5v1.5h-1.5zM318.2 264.8h1.5v1.5h-1.5zM324.2 264.8h1.5v1.5h-1.5zM326.7 264.8h1.5v1.5h-1.5zM354.2 264.8h1.5v1.5h-1.5zM368.7 264.8h1.5v1.5h-1.5zM371.2 264.8h1.5v1.5h-1.5zM374.7 264.8h1.5v1.5h-1.5zM380.7 264.8h1.5v1.5h-1.5zM381.2 264.8h1.5v1.5h-1.5zM386.7 264.8h1.5v1.5h-1.5zM386.7 264.8h1.5v1.5h-1.5zM388.7 264.8h1.5v1.5h-1.5zM391.7 264.8h1.5v1.5h-1.5zM416.6 264.8h1.5v1.5h-1.5zM419.1 264.8h1.5v1.5h-1.5zM428.6 264.8h1.5v1.5h-1.5zM432.6 264.8h1.5v1.5h-1.5zM441.6 264.8h1.5v1.5h-1.5zM443.6 264.8h1.5v1.5h-1.5zM447.1 264.8h1.5v1.5h-1.5zM454.1 264.8h1.5v1.5h-1.5zM454.1 264.8h1.5v1.5h-1.5zM454.6 264.8h1.5v1.5h-1.5zM458.6 264.8h1.5v1.5h-1.5zM510.1 264.8h1.5v1.5h-1.5zM564.6 264.8h1.5v1.5h-1.5zM105.3 266.9h1.5v1.5h-1.5zM109.3 266.9h1.5v1.5h-1.5zM144.3 266.9h1.5v1.5h-1.5zM195.3 266.9h1.5v1.5h-1.5zM200.3 266.9h1.5v1.5h-1.5zM202.3 266.9h1.5v1.5h-1.5zM214.3 266.9h1.5v1.5h-1.5zM219.8 266.9h1.5v1.5h-1.5zM228.8 266.9h1.5v1.5h-1.5zM234.8 266.9h1.5v1.5h-1.5zM248.2 266.9h1.5v1.5h-1.5zM248.2 266.9h1.5v1.5h-1.5zM261.2 266.9h1.5v1.5h-1.5zM261.7 266.9h1.5v1.5h-1.5zM273.2 266.9h1.5v1.5h-1.5zM276.7 266.9h1.5v1.5h-1.5zM288.2 266.9h1.5v1.5h-1.5zM315.2 266.9h1.5v1.5h-1.5zM316.7 266.9h1.5v1.5h-1.5zM320.2 266.9h1.5v1.5h-1.5zM327.2 266.9h1.5v1.5h-1.5zM329.2 266.9h1.5v1.5h-1.5zM339.2 266.9h1.5v1.5h-1.5zM339.2 266.9h1.5v1.5h-1.5zM345.2 266.9h1.5v1.5h-1.5zM345.7 266.9h1.5v1.5h-1.5zM352.2 266.9h1.5v1.5h-1.5zM361.2 266.9h1.5v1.5h-1.5zM375.7 266.9h1.5v1.5h-1.5zM379.2 266.9h1.5v1.5h-1.5zM390.2 266.9h1.5v1.5h-1.5zM402.2 266.9h1.5v1.5h-1.5zM403.7 266.9h1.5v1.5h-1.5zM451.6 266.9h1.5v1.5h-1.5zM456.1 266.9h1.5v1.5h-1.5zM457.6 266.9h1.5v1.5h-1.5zM519.1 266.9h1.5v1.5h-1.5zM520.6 266.9h1.5v1.5h-1.5zM542.6 266.9h1.5v1.5h-1.5zM98.3 269.1h1.5v1.5h-1.5zM135.3 269.1h1.5v1.5h-1.5zM189.3 269.1h1.5v1.5h-1.5zM199.8 269.1h1.5v1.5h-1.5zM211.8 269.1h1.5v1.5h-1.5zM230.8 269.1h1.5v1.5h-1.5zM245.7 269.1h1.5v1.5h-1.5zM253.2 269.1h1.5v1.5h-1.5zM266.2 269.1h1.5v1.5h-1.5zM269.2 269.1h1.5v1.5h-1.5zM273.2 269.1h1.5v1.5h-1.5zM279.2 269.1h1.5v1.5h-1.5zM285.2 269.1h1.5v1.5h-1.5zM307.2 269.1h1.5v1.5h-1.5zM312.7 269.1h1.5v1.5h-1.5zM326.7 269.1h1.5v1.5h-1.5zM330.7 269.1h1.5v1.5h-1.5zM338.2 269.1h1.5v1.5h-1.5zM351.7 269.1h1.5v1.5h-1.5zM364.7 269.1h1.5v1.5h-1.5zM373.7 269.1h1.5v1.5h-1.5zM392.2 269.1h1.5v1.5h-1.5zM420.1 269.1h1.5v1.5h-1.5zM445.1 269.1h1.5v1.5h-1.5zM475.6 269.1h1.5v1.5h-1.5zM501.1 269.1h1.5v1.5h-1.5zM501.6 269.1h1.5v1.5h-1.5zM504.6 269.1h1.5v1.5h-1.5zM513.6 269.1h1.5v1.5h-1.5zM541.1 269.1h1.5v1.5h-1.5zM104.3 271.2h1.5v1.5h-1.5zM116.3 271.2h1.5v1.5h-1.5zM167.8 271.2h1.5v1.5h-1.5zM196.3 271.2h1.5v1.5h-1.5zM196.3 271.2h1.5v1.5h-1.5zM199.3 271.2h1.5v1.5h-1.5zM207.8 271.2h1.5v1.5h-1.5zM215.3 271.2h1.5v1.5h-1.5zM220.8 271.2h1.5v1.5h-1.5zM263.7 271.2h1.5v1.5h-1.5zM271.2 271.2h1.5v1.5h-1.5zM278.2 271.2h1.5v1.5h-1.5zM279.7 271.2h1.5v1.5h-1.5zM289.2 271.2h1.5v1.5h-1.5zM289.7 271.2h1.5v1.5h-1.5zM297.2 271.2h1.5v1.5h-1.5zM310.2 271.2h1.5v1.5h-1.5zM329.7 271.2h1.5v1.5h-1.5zM342.2 271.2h1.5v1.5h-1.5zM342.7 271.2h1.5v1.5h-1.5zM342.7 271.2h1.5v1.5h-1.5zM351.2 271.2h1.5v1.5h-1.5zM362.7 271.2h1.5v1.5h-1.5zM388.7 271.2h1.5v1.5h-1.5zM395.2 271.2h1.5v1.5h-1.5zM397.7 271.2h1.5v1.5h-1.5zM398.7 271.2h1.5v1.5h-1.5zM406.2 271.2h1.5v1.5h-1.5zM413.6 271.2h1.5v1.5h-1.5zM416.1 271.2h1.5v1.5h-1.5zM431.1 271.2h1.5v1.5h-1.5zM443.1 271.2h1.5v1.5h-1.5zM483.1 271.2h1.5v1.5h-1.5zM500.1 271.2h1.5v1.5h-1.5zM503.6 271.2h1.5v1.5h-1.5zM563.1 271.2h1.5v1.5h-1.5zM569.6 271.2h1.5v1.5h-1.5zM96.8 273.3h1.5v1.5h-1.5zM120.8 273.3h1.5v1.5h-1.5zM126.3 273.3h1.5v1.5h-1.5zM128.8 273.3h1.5v1.5h-1.5zM136.3 273.3h1.5v1.5h-1.5zM151.3 273.3h1.5v1.5h-1.5zM170.8 273.3h1.5v1.5h-1.5zM187.8 273.3h1.5v1.5h-1.5zM202.3 273.3h1.5v1.5h-1.5zM211.3 273.3h1.5v1.5h-1.5zM220.3 273.3h1.5v1.5h-1.5zM285.2 273.3h1.5v1.5h-1.5zM294.7 273.3h1.5v1.5h-1.5zM312.2 273.3h1.5v1.5h-1.5zM319.7 273.3h1.5v1.5h-1.5zM319.7 273.3h1.5v1.5h-1.5zM321.7 273.3h1.5v1.5h-1.5zM324.7 273.3h1.5v1.5h-1.5zM334.2 273.3h1.5v1.5h-1.5zM335.2 273.3h1.5v1.5h-1.5zM342.2 273.3h1.5v1.5h-1.5zM343.7 273.3h1.5v1.5h-1.5zM350.2 273.3h1.5v1.5h-1.5zM355.7 273.3h1.5v1.5h-1.5zM361.7 273.3h1.5v1.5h-1.5zM362.7 273.3h1.5v1.5h-1.5zM377.7 273.3h1.5v1.5h-1.5zM381.2 273.3h1.5v1.5h-1.5zM396.7 273.3h1.5v1.5h-1.5zM397.7 273.3h1.5v1.5h-1.5zM421.6 273.3h1.5v1.5h-1.5zM422.1 273.3h1.5v1.5h-1.5zM452.6 273.3h1.5v1.5h-1.5zM476.1 273.3h1.5v1.5h-1.5zM482.1 273.3h1.5v1.5h-1.5zM513.1 273.3h1.5v1.5h-1.5zM521.1 273.3h1.5v1.5h-1.5zM554.1 273.3h1.5v1.5h-1.5zM119.3 275.5h1.5v1.5h-1.5zM151.8 275.5h1.5v1.5h-1.5zM174.3 275.5h1.5v1.5h-1.5zM177.3 275.5h1.5v1.5h-1.5zM197.3 275.5h1.5v1.5h-1.5zM215.8 275.5h1.5v1.5h-1.5zM225.3 275.5h1.5v1.5h-1.5zM235.8 275.5h1.5v1.5h-1.5zM242.7 275.5h1.5v1.5h-1.5zM242.7 275.5h1.5v1.5h-1.5zM245.2 275.5h1.5v1.5h-1.5zM267.7 275.5h1.5v1.5h-1.5zM282.7 275.5h1.5v1.5h-1.5zM291.7 275.5h1.5v1.5h-1.5zM296.7 275.5h1.5v1.5h-1.5zM304.2 275.5h1.5v1.5h-1.5zM310.7 275.5h1.5v1.5h-1.5zM319.2 275.5h1.5v1.5h-1.5zM343.2 275.5h1.5v1.5h-1.5zM349.2 275.5h1.5v1.5h-1.5zM364.2 275.5h1.5v1.5h-1.5zM375.2 275.5h1.5v1.5h-1.5zM385.7 275.5h1.5v1.5h-1.5zM395.2 275.5h1.5v1.5h-1.5zM400.2 275.5h1.5v1.5h-1.5zM403.2 275.5h1.5v1.5h-1.5zM411.1 275.5h1.5v1.5h-1.5zM413.1 275.5h1.5v1.5h-1.5zM450.1 275.5h1.5v1.5h-1.5zM451.1 275.5h1.5v1.5h-1.5zM454.6 275.5h1.5v1.5h-1.5zM469.1 275.5h1.5v1.5h-1.5zM472.6 275.5h1.5v1.5h-1.5zM474.1 275.5h1.5v1.5h-1.5zM474.6 275.5h1.5v1.5h-1.5zM119.8 277.6h1.5v1.5h-1.5zM145.8 277.6h1.5v1.5h-1.5zM146.8 277.6h1.5v1.5h-1.5zM195.8 277.6h1.5v1.5h-1.5zM214.3 277.6h1.5v1.5h-1.5zM240.3 277.6h1.5v1.5h-1.5zM243.7 277.6h1.5v1.5h-1.5zM244.2 277.6h1.5v1.5h-1.5zM253.7 277.6h1.5v1.5h-1.5zM273.2 277.6h1.5v1.5h-1.5zM279.7 277.6h1.5v1.5h-1.5zM288.2 277.6h1.5v1.5h-1.5zM289.7 277.6h1.5v1.5h-1.5zM291.2 277.6h1.5v1.5h-1.5zM302.7 277.6h1.5v1.5h-1.5zM303.2 277.6h1.5v1.5h-1.5zM306.2 277.6h1.5v1.5h-1.5zM311.7 277.6h1.5v1.5h-1.5zM314.2 277.6h1.5v1.5h-1.5zM319.2 277.6h1.5v1.5h-1.5zM319.7 277.6h1.5v1.5h-1.5zM323.7 277.6h1.5v1.5h-1.5zM323.7 277.6h1.5v1.5h-1.5zM325.2 277.6h1.5v1.5h-1.5zM330.2 277.6h1.5v1.5h-1.5zM330.7 277.6h1.5v1.5h-1.5zM335.2 277.6h1.5v1.5h-1.5zM340.7 277.6h1.5v1.5h-1.5zM346.7 277.6h1.5v1.5h-1.5zM352.7 277.6h1.5v1.5h-1.5zM356.7 277.6h1.5v1.5h-1.5zM359.2 277.6h1.5v1.5h-1.5zM372.2 277.6h1.5v1.5h-1.5zM375.2 277.6h1.5v1.5h-1.5zM391.7 277.6h1.5v1.5h-1.5zM393.2 277.6h1.5v1.5h-1.5zM396.7 277.6h1.5v1.5h-1.5zM409.1 277.6h1.5v1.5h-1.5zM414.6 277.6h1.5v1.5h-1.5zM432.6 277.6h1.5v1.5h-1.5zM452.6 277.6h1.5v1.5h-1.5zM473.6 277.6h1.5v1.5h-1.5zM474.6 277.6h1.5v1.5h-1.5zM476.6 277.6h1.5v1.5h-1.5zM508.6 277.6h1.5v1.5h-1.5zM524.6 277.6h1.5v1.5h-1.5zM99.3 279.8h1.5v1.5h-1.5zM169.3 279.8h1.5v1.5h-1.5zM177.8 279.8h1.5v1.5h-1.5zM188.3 279.8h1.5v1.5h-1.5zM204.3 279.8h1.5v1.5h-1.5zM218.8 279.8h1.5v1.5h-1.5zM231.3 279.8h1.5v1.5h-1.5zM267.7 279.8h1.5v1.5h-1.5zM269.7 279.8h1.5v1.5h-1.5zM277.7 279.8h1.5v1.5h-1.5zM286.7 279.8h1.5v1.5h-1.5zM287.2 279.8h1.5v1.5h-1.5zM287.2 279.8h1.5v1.5h-1.5zM292.2 279.8h1.5v1.5h-1.5zM292.7 279.8h1.5v1.5h-1.5zM304.2 279.8h1.5v1.5h-1.5zM305.2 279.8h1.5v1.5h-1.5zM306.2 279.8h1.5v1.5h-1.5zM306.2 279.8h1.5v1.5h-1.5zM329.7 279.8h1.5v1.5h-1.5zM334.7 279.8h1.5v1.5h-1.5zM343.2 279.8h1.5v1.5h-1.5zM351.7 279.8h1.5v1.5h-1.5zM352.2 279.8h1.5v1.5h-1.5zM360.7 279.8h1.5v1.5h-1.5zM361.7 279.8h1.5v1.5h-1.5zM371.2 279.8h1.5v1.5h-1.5zM373.7 279.8h1.5v1.5h-1.5zM376.7 279.8h1.5v1.5h-1.5zM389.7 279.8h1.5v1.5h-1.5zM402.7 279.8h1.5v1.5h-1.5zM403.7 279.8h1.5v1.5h-1.5zM406.7 279.8h1.5v1.5h-1.5zM411.6 279.8h1.5v1.5h-1.5zM415.6 279.8h1.5v1.5h-1.5zM417.6 279.8h1.5v1.5h-1.5zM463.6 279.8h1.5v1.5h-1.5zM469.1 279.8h1.5v1.5h-1.5zM505.1 279.8h1.5v1.5h-1.5zM144.8 281.9h1.5v1.5h-1.5zM173.8 281.9h1.5v1.5h-1.5zM198.8 281.9h1.5v1.5h-1.5zM206.3 281.9h1.5v1.5h-1.5zM235.3 281.9h1.5v1.5h-1.5zM245.2 281.9h1.5v1.5h-1.5zM248.7 281.9h1.5v1.5h-1.5zM259.2 281.9h1.5v1.5h-1.5zM270.2 281.9h1.5v1.5h-1.5zM271.2 281.9h1.5v1.5h-1.5zM271.2 281.9h1.5v1.5h-1.5zM275.2 281.9h1.5v1.5h-1.5zM278.7 281.9h1.5v1.5h-1.5zM284.7 281.9h1.5v1.5h-1.5zM288.7 281.9h1.5v1.5h-1.5zM289.2 281.9h1.5v1.5h-1.5zM304.7 281.9h1.5v1.5h-1.5zM312.7 281.9h1.5v1.5h-1.5zM318.2 281.9h1.5v1.5h-1.5zM325.2 281.9h1.5v1.5h-1.5zM330.2 281.9h1.5v1.5h-1.5zM336.7 281.9h1.5v1.5h-1.5zM345.7 281.9h1.5v1.5h-1.5zM371.2 281.9h1.5v1.5h-1.5zM385.7 281.9h1.5v1.5h-1.5zM394.2 281.9h1.5v1.5h-1.5zM413.1 281.9h1.5v1.5h-1.5zM441.1 281.9h1.5v1.5h-1.5zM471.6 281.9h1.5v1.5h-1.5zM477.1 281.9h1.5v1.5h-1.5zM478.6 281.9h1.5v1.5h-1.5zM481.6 281.9h1.5v1.5h-1.5zM500.6 281.9h1.5v1.5h-1.5zM79.8 284.1h1.5v1.5h-1.5zM173.8 284.1h1.5v1.5h-1.5zM174.8 284.1h1.5v1.5h-1.5zM176.8 284.1h1.5v1.5h-1.5zM186.3 284.1h1.5v1.5h-1.5zM201.8 284.1h1.5v1.5h-1.5zM228.3 284.1h1.5v1.5h-1.5zM246.2 284.1h1.5v1.5h-1.5zM257.2 284.1h1.5v1.5h-1.5zM261.2 284.1h1.5v1.5h-1.5zM269.2 284.1h1.5v1.5h-1.5zM285.7 284.1h1.5v1.5h-1.5zM289.2 284.1h1.5v1.5h-1.5zM296.7 284.1h1.5v1.5h-1.5zM298.7 284.1h1.5v1.5h-1.5zM298.7 284.1h1.5v1.5h-1.5zM302.7 284.1h1.5v1.5h-1.5zM317.2 284.1h1.5v1.5h-1.5zM321.7 284.1h1.5v1.5h-1.5zM328.7 284.1h1.5v1.5h-1.5zM329.2 284.1h1.5v1.5h-1.5zM338.2 284.1h1.5v1.5h-1.5zM340.7 284.1h1.5v1.5h-1.5zM345.2 284.1h1.5v1.5h-1.5zM348.2 284.1h1.5v1.5h-1.5zM351.7 284.1h1.5v1.5h-1.5zM360.7 284.1h1.5v1.5h-1.5zM374.2 284.1h1.5v1.5h-1.5zM375.7 284.1h1.5v1.5h-1.5zM376.2 284.1h1.5v1.5h-1.5zM379.2 284.1h1.5v1.5h-1.5zM386.2 284.1h1.5v1.5h-1.5zM389.7 284.1h1.5v1.5h-1.5zM394.7 284.1h1.5v1.5h-1.5zM407.2 284.1h1.5v1.5h-1.5zM426.1 284.1h1.5v1.5h-1.5zM427.6 284.1h1.5v1.5h-1.5zM443.1 284.1h1.5v1.5h-1.5zM469.1 284.1h1.5v1.5h-1.5zM479.6 284.1h1.5v1.5h-1.5zM490.1 284.1h1.5v1.5h-1.5zM500.6 284.1h1.5v1.5h-1.5zM506.6 284.1h1.5v1.5h-1.5zM565.6 284.1h1.5v1.5h-1.5zM85.8 286.2h1.5v1.5h-1.5zM92.8 286.2h1.5v1.5h-1.5zM100.3 286.2h1.5v1.5h-1.5zM104.8 286.2h1.5v1.5h-1.5zM112.8 286.2h1.5v1.5h-1.5zM125.3 286.2h1.5v1.5h-1.5zM128.8 286.2h1.5v1.5h-1.5zM142.3 286.2h1.5v1.5h-1.5zM142.3 286.2h1.5v1.5h-1.5zM145.8 286.2h1.5v1.5h-1.5zM183.3 286.2h1.5v1.5h-1.5zM203.8 286.2h1.5v1.5h-1.5zM205.8 286.2h1.5v1.5h-1.5zM228.8 286.2h1.5v1.5h-1.5zM229.3 286.2h1.5v1.5h-1.5zM253.7 286.2h1.5v1.5h-1.5zM264.7 286.2h1.5v1.5h-1.5zM266.2 286.2h1.5v1.5h-1.5zM272.2 286.2h1.5v1.5h-1.5zM279.7 286.2h1.5v1.5h-1.5zM280.2 286.2h1.5v1.5h-1.5zM289.7 286.2h1.5v1.5h-1.5zM303.2 286.2h1.5v1.5h-1.5zM303.7 286.2h1.5v1.5h-1.5zM304.7 286.2h1.5v1.5h-1.5zM307.2 286.2h1.5v1.5h-1.5zM316.2 286.2h1.5v1.5h-1.5zM326.2 286.2h1.5v1.5h-1.5zM340.2 286.2h1.5v1.5h-1.5zM340.7 286.2h1.5v1.5h-1.5zM344.2 286.2h1.5v1.5h-1.5zM348.2 286.2h1.5v1.5h-1.5zM358.2 286.2h1.5v1.5h-1.5zM361.2 286.2h1.5v1.5h-1.5zM361.2 286.2h1.5v1.5h-1.5zM367.7 286.2h1.5v1.5h-1.5zM377.7 286.2h1.5v1.5h-1.5zM393.7 286.2h1.5v1.5h-1.5zM413.6 286.2h1.5v1.5h-1.5zM418.6 286.2h1.5v1.5h-1.5zM419.1 286.2h1.5v1.5h-1.5zM434.1 286.2h1.5v1.5h-1.5zM446.1 286.2h1.5v1.5h-1.5zM481.6 286.2h1.5v1.5h-1.5zM142.8 288.4h1.5v1.5h-1.5zM206.3 288.4h1.5v1.5h-1.5zM263.2 288.4h1.5v1.5h-1.5zM267.2 288.4h1.5v1.5h-1.5zM284.7 288.4h1.5v1.5h-1.5zM285.2 288.4h1.5v1.5h-1.5zM307.2 288.4h1.5v1.5h-1.5zM307.2 288.4h1.5v1.5h-1.5zM308.7 288.4h1.5v1.5h-1.5zM315.7 288.4h1.5v1.5h-1.5zM342.2 288.4h1.5v1.5h-1.5zM343.2 288.4h1.5v1.5h-1.5zM351.2 288.4h1.5v1.5h-1.5zM354.7 288.4h1.5v1.5h-1.5zM363.7 288.4h1.5v1.5h-1.5zM373.7 288.4h1.5v1.5h-1.5zM383.7 288.4h1.5v1.5h-1.5zM392.7 288.4h1.5v1.5h-1.5zM411.6 288.4h1.5v1.5h-1.5zM413.1 288.4h1.5v1.5h-1.5zM462.1 288.4h1.5v1.5h-1.5zM470.1 288.4h1.5v1.5h-1.5zM478.6 288.4h1.5v1.5h-1.5zM494.6 288.4h1.5v1.5h-1.5zM524.6 288.4h1.5v1.5h-1.5zM565.6 288.4h1.5v1.5h-1.5zM78.8 290.5h1.5v1.5h-1.5zM88.8 290.5h1.5v1.5h-1.5zM136.3 290.5h1.5v1.5h-1.5zM187.8 290.5h1.5v1.5h-1.5zM190.3 290.5h1.5v1.5h-1.5zM233.3 290.5h1.5v1.5h-1.5zM235.3 290.5h1.5v1.5h-1.5zM237.3 290.5h1.5v1.5h-1.5zM243.2 290.5h1.5v1.5h-1.5zM252.2 290.5h1.5v1.5h-1.5zM252.7 290.5h1.5v1.5h-1.5zM254.7 290.5h1.5v1.5h-1.5zM255.2 290.5h1.5v1.5h-1.5zM255.2 290.5h1.5v1.5h-1.5zM264.2 290.5h1.5v1.5h-1.5zM273.2 290.5h1.5v1.5h-1.5zM274.2 290.5h1.5v1.5h-1.5zM282.7 290.5h1.5v1.5h-1.5zM283.2 290.5h1.5v1.5h-1.5zM289.7 290.5h1.5v1.5h-1.5zM290.2 290.5h1.5v1.5h-1.5zM293.2 290.5h1.5v1.5h-1.5zM305.2 290.5h1.5v1.5h-1.5zM307.2 290.5h1.5v1.5h-1.5zM312.7 290.5h1.5v1.5h-1.5zM319.2 290.5h1.5v1.5h-1.5zM328.7 290.5h1.5v1.5h-1.5zM329.7 290.5h1.5v1.5h-1.5zM332.7 290.5h1.5v1.5h-1.5zM336.7 290.5h1.5v1.5h-1.5zM340.2 290.5h1.5v1.5h-1.5zM344.2 290.5h1.5v1.5h-1.5zM358.2 290.5h1.5v1.5h-1.5zM358.7 290.5h1.5v1.5h-1.5zM367.2 290.5h1.5v1.5h-1.5zM373.2 290.5h1.5v1.5h-1.5zM376.7 290.5h1.5v1.5h-1.5zM389.7 290.5h1.5v1.5h-1.5zM390.2 290.5h1.5v1.5h-1.5zM390.7 290.5h1.5v1.5h-1.5zM395.7 290.5h1.5v1.5h-1.5zM405.2 290.5h1.5v1.5h-1.5zM405.7 290.5h1.5v1.5h-1.5zM407.2 290.5h1.5v1.5h-1.5zM416.6 290.5h1.5v1.5h-1.5zM417.6 290.5h1.5v1.5h-1.5zM419.6 290.5h1.5v1.5h-1.5zM425.1 290.5h1.5v1.5h-1.5zM449.6 290.5h1.5v1.5h-1.5zM477.6 290.5h1.5v1.5h-1.5zM519.1 290.5h1.5v1.5h-1.5zM537.6 290.5h1.5v1.5h-1.5zM549.1 290.5h1.5v1.5h-1.5zM564.6 290.5h1.5v1.5h-1.5zM568.6 290.5h1.5v1.5h-1.5zM129.3 292.7h1.5v1.5h-1.5zM133.3 292.7h1.5v1.5h-1.5zM193.3 292.7h1.5v1.5h-1.5zM217.8 292.7h1.5v1.5h-1.5zM230.3 292.7h1.5v1.5h-1.5zM256.2 292.7h1.5v1.5h-1.5zM256.7 292.7h1.5v1.5h-1.5zM258.2 292.7h1.5v1.5h-1.5zM258.7 292.7h1.5v1.5h-1.5zM259.7 292.7h1.5v1.5h-1.5zM265.7 292.7h1.5v1.5h-1.5zM266.2 292.7h1.5v1.5h-1.5zM274.7 292.7h1.5v1.5h-1.5zM279.7 292.7h1.5v1.5h-1.5zM284.7 292.7h1.5v1.5h-1.5zM290.7 292.7h1.5v1.5h-1.5zM292.2 292.7h1.5v1.5h-1.5zM299.7 292.7h1.5v1.5h-1.5zM305.2 292.7h1.5v1.5h-1.5zM306.7 292.7h1.5v1.5h-1.5zM330.7 292.7h1.5v1.5h-1.5zM332.7 292.7h1.5v1.5h-1.5zM336.7 292.7h1.5v1.5h-1.5zM337.2 292.7h1.5v1.5h-1.5zM351.7 292.7h1.5v1.5h-1.5zM367.2 292.7h1.5v1.5h-1.5zM386.2 292.7h1.5v1.5h-1.5zM400.2 292.7h1.5v1.5h-1.5zM419.1 292.7h1.5v1.5h-1.5zM421.1 292.7h1.5v1.5h-1.5zM423.1 292.7h1.5v1.5h-1.5zM435.6 292.7h1.5v1.5h-1.5zM491.1 292.7h1.5v1.5h-1.5zM500.1 292.7h1.5v1.5h-1.5zM508.1 292.7h1.5v1.5h-1.5zM562.1 292.7h1.5v1.5h-1.5zM101.8 294.8h1.5v1.5h-1.5zM113.8 294.8h1.5v1.5h-1.5zM185.3 294.8h1.5v1.5h-1.5zM197.8 294.8h1.5v1.5h-1.5zM200.8 294.8h1.5v1.5h-1.5zM202.3 294.8h1.5v1.5h-1.5zM208.3 294.8h1.5v1.5h-1.5zM212.8 294.8h1.5v1.5h-1.5zM232.3 294.8h1.5v1.5h-1.5zM232.8 294.8h1.5v1.5h-1.5zM270.2 294.8h1.5v1.5h-1.5zM270.2 294.8h1.5v1.5h-1.5zM272.7 294.8h1.5v1.5h-1.5zM290.7 294.8h1.5v1.5h-1.5zM302.2 294.8h1.5v1.5h-1.5zM310.7 294.8h1.5v1.5h-1.5zM321.7 294.8h1.5v1.5h-1.5zM324.2 294.8h1.5v1.5h-1.5zM330.7 294.8h1.5v1.5h-1.5zM349.2 294.8h1.5v1.5h-1.5zM361.2 294.8h1.5v1.5h-1.5zM363.7 294.8h1.5v1.5h-1.5zM365.7 294.8h1.5v1.5h-1.5zM372.7 294.8h1.5v1.5h-1.5zM395.7 294.8h1.5v1.5h-1.5zM409.1 294.8h1.5v1.5h-1.5zM413.1 294.8h1.5v1.5h-1.5zM438.1 294.8h1.5v1.5h-1.5zM440.1 294.8h1.5v1.5h-1.5zM458.1 294.8h1.5v1.5h-1.5zM461.1 294.8h1.5v1.5h-1.5zM504.6 294.8h1.5v1.5h-1.5zM510.6 294.8h1.5v1.5h-1.5zM538.6 294.8h1.5v1.5h-1.5zM541.6 294.8h1.5v1.5h-1.5zM546.1 294.8h1.5v1.5h-1.5zM570.1 294.8h1.5v1.5h-1.5zM79.8 297.0h1.5v1.5h-1.5zM110.8 297.0h1.5v1.5h-1.5zM153.8 297.0h1.5v1.5h-1.5zM172.8 297.0h1.5v1.5h-1.5zM190.3 297.0h1.5v1.5h-1.5zM211.3 297.0h1.5v1.5h-1.5zM212.8 297.0h1.5v1.5h-1.5zM215.3 297.0h1.5v1.5h-1.5zM234.3 297.0h1.5v1.5h-1.5zM270.2 297.0h1.5v1.5h-1.5zM271.2 297.0h1.5v1.5h-1.5zM277.7 297.0h1.5v1.5h-1.5zM306.2 297.0h1.5v1.5h-1.5zM313.2 297.0h1.5v1.5h-1.5zM316.2 297.0h1.5v1.5h-1.5zM317.2 297.0h1.5v1.5h-1.5zM317.2 297.0h1.5v1.5h-1.5zM317.7 297.0h1.5v1.5h-1.5zM331.7 297.0h1.5v1.5h-1.5zM338.7 297.0h1.5v1.5h-1.5zM348.2 297.0h1.5v1.5h-1.5zM352.2 297.0h1.5v1.5h-1.5zM357.7 297.0h1.5v1.5h-1.5zM364.7 297.0h1.5v1.5h-1.5zM376.7 297.0h1.5v1.5h-1.5zM377.7 297.0h1.5v1.5h-1.5zM399.7 297.0h1.5v1.5h-1.5zM443.6 297.0h1.5v1.5h-1.5zM445.6 297.0h1.5v1.5h-1.5zM454.6 297.0h1.5v1.5h-1.5zM459.1 297.0h1.5v1.5h-1.5zM499.1 297.0h1.5v1.5h-1.5zM509.1 297.0h1.5v1.5h-1.5zM512.6 297.0h1.5v1.5h-1.5zM513.6 297.0h1.5v1.5h-1.5zM522.6 297.0h1.5v1.5h-1.5zM531.6 297.0h1.5v1.5h-1.5zM562.6 297.0h1.5v1.5h-1.5zM570.1 297.0h1.5v1.5h-1.5zM96.3 299.1h1.5v1.5h-1.5zM111.3 299.1h1.5v1.5h-1.5zM116.3 299.1h1.5v1.5h-1.5zM130.8 299.1h1.5v1.5h-1.5zM209.3 299.1h1.5v1.5h-1.5zM236.3 299.1h1.5v1.5h-1.5zM259.2 299.1h1.5v1.5h-1.5zM270.2 299.1h1.5v1.5h-1.5zM272.7 299.1h1.5v1.5h-1.5zM291.7 299.1h1.5v1.5h-1.5zM307.2 299.1h1.5v1.5h-1.5zM317.2 299.1h1.5v1.5h-1.5zM330.2 299.1h1.5v1.5h-1.5zM336.2 299.1h1.5v1.5h-1.5zM342.2 299.1h1.5v1.5h-1.5zM343.2 299.1h1.5v1.5h-1.5zM353.7 299.1h1.5v1.5h-1.5zM357.2 299.1h1.5v1.5h-1.5zM360.2 299.1h1.5v1.5h-1.5zM373.2 299.1h1.5v1.5h-1.5zM381.7 299.1h1.5v1.5h-1.5zM389.2 299.1h1.5v1.5h-1.5zM399.2 299.1h1.5v1.5h-1.5zM404.7 299.1h1.5v1.5h-1.5zM405.2 299.1h1.5v1.5h-1.5zM405.7 299.1h1.5v1.5h-1.5zM420.1 299.1h1.5v1.5h-1.5zM436.1 299.1h1.5v1.5h-1.5zM445.6 299.1h1.5v1.5h-1.5zM446.1 299.1h1.5v1.5h-1.5zM460.6 299.1h1.5v1.5h-1.5zM462.1 299.1h1.5v1.5h-1.5zM466.6 299.1h1.5v1.5h-1.5zM488.1 299.1h1.5v1.5h-1.5zM500.1 299.1h1.5v1.5h-1.5zM506.1 299.1h1.5v1.5h-1.5zM551.1 299.1h1.5v1.5h-1.5zM562.1 299.1h1.5v1.5h-1.5zM562.6 299.1h1.5v1.5h-1.5zM93.8 301.3h1.5v1.5h-1.5zM109.3 301.3h1.5v1.5h-1.5zM120.3 301.3h1.5v1.5h-1.5zM123.3 301.3h1.5v1.5h-1.5zM148.8 301.3h1.5v1.5h-1.5zM175.3 301.3h1.5v1.5h-1.5zM180.8 301.3h1.5v1.5h-1.5zM192.8 301.3h1.5v1.5h-1.5zM202.8 301.3h1.5v1.5h-1.5zM205.8 301.3h1.5v1.5h-1.5zM206.8 301.3h1.5v1.5h-1.5zM208.8 301.3h1.5v1.5h-1.5zM214.8 301.3h1.5v1.5h-1.5zM217.8 301.3h1.5v1.5h-1.5zM225.8 301.3h1.5v1.5h-1.5zM232.8 301.3h1.5v1.5h-1.5zM252.7 301.3h1.5v1.5h-1.5zM254.2 301.3h1.5v1.5h-1.5zM256.7 301.3h1.5v1.5h-1.5zM256.7 301.3h1.5v1.5h-1.5zM267.7 301.3h1.5v1.5h-1.5zM270.2 301.3h1.5v1.5h-1.5zM287.7 301.3h1.5v1.5h-1.5zM300.7 301.3h1.5v1.5h-1.5zM301.2 301.3h1.5v1.5h-1.5zM301.2 301.3h1.5v1.5h-1.5zM304.7 301.3h1.5v1.5h-1.5zM311.7 301.3h1.5v1.5h-1.5zM313.2 301.3h1.5v1.5h-1.5zM314.7 301.3h1.5v1.5h-1.5zM317.7 301.3h1.5v1.5h-1.5zM321.7 301.3h1.5v1.5h-1.5zM324.2 301.3h1.5v1.5h-1.5zM329.2 301.3h1.5v1.5h-1.5zM335.2 301.3h1.5v1.5h-1.5zM338.7 301.3h1.5v1.5h-1.5zM341.7 301.3h1.5v1.5h-1.5zM357.7 301.3h1.5v1.5h-1.5zM363.2 301.3h1.5v1.5h-1.5zM382.2 301.3h1.5v1.5h-1.5zM405.7 301.3h1.5v1.5h-1.5zM412.6 301.3h1.5v1.5h-1.5zM425.1 301.3h1.5v1.5h-1.5zM431.1 301.3h1.5v1.5h-1.5zM449.1 301.3h1.5v1.5h-1.5zM472.6 301.3h1.5v1.5h-1.5zM477.6 301.3h1.5v1.5h-1.5zM478.6 301.3h1.5v1.5h-1.5zM502.1 301.3h1.5v1.5h-1.5zM80.8 303.4h1.5v1.5h-1.5zM86.3 303.4h1.5v1.5h-1.5zM90.8 303.4h1.5v1.5h-1.5zM93.8 303.4h1.5v1.5h-1.5zM100.3 303.4h1.5v1.5h-1.5zM146.3 303.4h1.5v1.5h-1.5zM174.3 303.4h1.5v1.5h-1.5zM205.3 303.4h1.5v1.5h-1.5zM227.8 303.4h1.5v1.5h-1.5zM240.8 303.4h1.5v1.5h-1.5zM241.3 303.4h1.5v1.5h-1.5zM242.2 303.4h1.5v1.5h-1.5zM242.2 303.4h1.5v1.5h-1.5zM244.7 303.4h1.5v1.5h-1.5zM261.2 303.4h1.5v1.5h-1.5zM268.2 303.4h1.5v1.5h-1.5zM269.7 303.4h1.5v1.5h-1.5zM312.7 303.4h1.5v1.5h-1.5zM317.2 303.4h1.5v1.5h-1.5zM317.2 303.4h1.5v1.5h-1.5zM320.7 303.4h1.5v1.5h-1.5zM329.7 303.4h1.5v1.5h-1.5zM329.7 303.4h1.5v1.5h-1.5zM341.7 303.4h1.5v1.5h-1.5zM351.2 303.4h1.5v1.5h-1.5zM355.7 303.4h1.5v1.5h-1.5zM356.7 303.4h1.5v1.5h-1.5zM378.7 303.4h1.5v1.5h-1.5zM382.2 303.4h1.5v1.5h-1.5zM429.6 303.4h1.5v1.5h-1.5zM441.1 303.4h1.5v1.5h-1.5zM442.1 303.4h1.5v1.5h-1.5zM451.6 303.4h1.5v1.5h-1.5zM495.6 303.4h1.5v1.5h-1.5zM499.1 303.4h1.5v1.5h-1.5zM535.6 303.4h1.5v1.5h-1.5zM544.6 303.4h1.5v1.5h-1.5zM545.1 303.4h1.5v1.5h-1.5zM554.1 303.4h1.5v1.5h-1.5zM570.6 303.4h1.5v1.5h-1.5zM94.3 305.6h1.5v1.5h-1.5zM97.3 305.6h1.5v1.5h-1.5zM125.8 305.6h1.5v1.5h-1.5zM139.8 305.6h1.5v1.5h-1.5zM164.3 305.6h1.5v1.5h-1.5zM185.8 305.6h1.5v1.5h-1.5zM189.3 305.6h1.5v1.5h-1.5zM198.8 305.6h1.5v1.5h-1.5zM209.3 305.6h1.5v1.5h-1.5zM221.3 305.6h1.5v1.5h-1.5zM230.3 305.6h1.5v1.5h-1.5zM243.2 305.6h1.5v1.5h-1.5zM250.7 305.6h1.5v1.5h-1.5zM255.7 305.6h1.5v1.5h-1.5zM257.7 305.6h1.5v1.5h-1.5zM259.2 305.6h1.5v1.5h-1.5zM271.7 305.6h1.5v1.5h-1.5zM273.7 305.6h1.5v1.5h-1.5zM275.7 305.6h1.5v1.5h-1.5zM279.7 305.6h1.5v1.5h-1.5zM287.7 305.6h1.5v1.5h-1.5zM293.2 305.6h1.5v1.5h-1.5zM296.2 305.6h1.5v1.5h-1.5zM327.2 305.6h1.5v1.5h-1.5zM332.2 305.6h1.5v1.5h-1.5zM333.2 305.6h1.5v1.5h-1.5zM338.7 305.6h1.5v1.5h-1.5zM340.2 305.6h1.5v1.5h-1.5zM355.7 305.6h1.5v1.5h-1.5zM357.7 305.6h1.5v1.5h-1.5zM357.7 305.6h1.5v1.5h-1.5zM373.7 305.6h1.5v1.5h-1.5zM377.7 305.6h1.5v1.5h-1.5zM383.2 305.6h1.5v1.5h-1.5zM391.7 305.6h1.5v1.5h-1.5zM478.6 305.6h1.5v1.5h-1.5zM492.6 305.6h1.5v1.5h-1.5zM499.6 305.6h1.5v1.5h-1.5zM507.1 305.6h1.5v1.5h-1.5zM514.6 305.6h1.5v1.5h-1.5zM534.1 305.6h1.5v1.5h-1.5zM537.1 305.6h1.5v1.5h-1.5zM542.6 305.6h1.5v1.5h-1.5zM543.1 305.6h1.5v1.5h-1.5zM110.8 307.7h1.5v1.5h-1.5zM121.3 307.7h1.5v1.5h-1.5zM148.3 307.7h1.5v1.5h-1.5zM184.3 307.7h1.5v1.5h-1.5zM203.3 307.7h1.5v1.5h-1.5zM212.3 307.7h1.5v1.5h-1.5zM212.8 307.7h1.5v1.5h-1.5zM221.3 307.7h1.5v1.5h-1.5zM229.3 307.7h1.5v1.5h-1.5zM233.8 307.7h1.5v1.5h-1.5zM235.3 307.7h1.5v1.5h-1.5zM237.3 307.7h1.5v1.5h-1.5zM250.2 307.7h1.5v1.5h-1.5zM253.7 307.7h1.5v1.5h-1.5zM260.7 307.7h1.5v1.5h-1.5zM300.7 307.7h1.5v1.5h-1.5zM302.7 307.7h1.5v1.5h-1.5zM305.2 307.7h1.5v1.5h-1.5zM316.2 307.7h1.5v1.5h-1.5zM333.7 307.7h1.5v1.5h-1.5zM338.7 307.7h1.5v1.5h-1.5zM339.2 307.7h1.5v1.5h-1.5zM355.7 307.7h1.5v1.5h-1.5zM363.2 307.7h1.5v1.5h-1.5zM374.7 307.7h1.5v1.5h-1.5zM383.7 307.7h1.5v1.5h-1.5zM384.2 307.7h1.5v1.5h-1.5zM405.2 307.7h1.5v1.5h-1.5zM410.6 307.7h1.5v1.5h-1.5zM442.6 307.7h1.5v1.5h-1.5zM474.1 307.7h1.5v1.5h-1.5zM497.6 307.7h1.5v1.5h-1.5zM503.1 307.7h1.5v1.5h-1.5zM533.1 307.7h1.5v1.5h-1.5zM546.1 307.7h1.5v1.5h-1.5zM561.1 307.7h1.5v1.5h-1.5zM565.1 307.7h1.5v1.5h-1.5zM86.3 309.9h1.5v1.5h-1.5zM122.8 309.9h1.5v1.5h-1.5zM126.3 309.9h1.5v1.5h-1.5zM137.3 309.9h1.5v1.5h-1.5zM145.3 309.9h1.5v1.5h-1.5zM156.3 309.9h1.5v1.5h-1.5zM169.8 309.9h1.5v1.5h-1.5zM189.8 309.9h1.5v1.5h-1.5zM205.8 309.9h1.5v1.5h-1.5zM223.3 309.9h1.5v1.5h-1.5zM245.7 309.9h1.5v1.5h-1.5zM250.7 309.9h1.5v1.5h-1.5zM259.7 309.9h1.5v1.5h-1.5zM262.2 309.9h1.5v1.5h-1.5zM263.2 309.9h1.5v1.5h-1.5zM282.2 309.9h1.5v1.5h-1.5zM289.7 309.9h1.5v1.5h-1.5zM291.2 309.9h1.5v1.5h-1.5zM299.7 309.9h1.5v1.5h-1.5zM308.2 309.9h1.5v1.5h-1.5zM313.7 309.9h1.5v1.5h-1.5zM315.7 309.9h1.5v1.5h-1.5zM316.7 309.9h1.5v1.5h-1.5zM318.2 309.9h1.5v1.5h-1.5zM336.7 309.9h1.5v1.5h-1.5zM343.2 309.9h1.5v1.5h-1.5zM345.7 309.9h1.5v1.5h-1.5zM346.2 309.9h1.5v1.5h-1.5zM349.7 309.9h1.5v1.5h-1.5zM371.7 309.9h1.5v1.5h-1.5zM389.7 309.9h1.5v1.5h-1.5zM392.2 309.9h1.5v1.5h-1.5zM394.2 309.9h1.5v1.5h-1.5zM469.1 309.9h1.5v1.5h-1.5zM488.1 309.9h1.5v1.5h-1.5zM500.6 309.9h1.5v1.5h-1.5zM511.1 309.9h1.5v1.5h-1.5zM536.6 309.9h1.5v1.5h-1.5zM99.8 312.0h1.5v1.5h-1.5zM106.3 312.0h1.5v1.5h-1.5zM107.8 312.0h1.5v1.5h-1.5zM129.8 312.0h1.5v1.5h-1.5zM136.8 312.0h1.5v1.5h-1.5zM153.8 312.0h1.5v1.5h-1.5zM166.3 312.0h1.5v1.5h-1.5zM205.8 312.0h1.5v1.5h-1.5zM211.3 312.0h1.5v1.5h-1.5zM218.3 312.0h1.5v1.5h-1.5zM234.8 312.0h1.5v1.5h-1.5zM235.3 312.0h1.5v1.5h-1.5zM261.7 312.0h1.5v1.5h-1.5zM263.7 312.0h1.5v1.5h-1.5zM274.7 312.0h1.5v1.5h-1.5zM284.7 312.0h1.5v1.5h-1.5zM291.7 312.0h1.5v1.5h-1.5zM305.7 312.0h1.5v1.5h-1.5zM314.7 312.0h1.5v1.5h-1.5zM321.7 312.0h1.5v1.5h-1.5zM323.2 312.0h1.5v1.5h-1.5zM328.7 312.0h1.5v1.5h-1.5zM330.7 312.0h1.5v1.5h-1.5zM335.7 312.0h1.5v1.5h-1.5zM342.2 312.0h1.5v1.5h-1.5zM342.2 312.0h1.5v1.5h-1.5zM342.7 312.0h1.5v1.5h-1.5zM347.7 312.0h1.5v1.5h-1.5zM364.7 312.0h1.5v1.5h-1.5zM379.7 312.0h1.5v1.5h-1.5zM380.2 312.0h1.5v1.5h-1.5zM383.7 312.0h1.5v1.5h-1.5zM385.7 312.0h1.5v1.5h-1.5zM434.6 312.0h1.5v1.5h-1.5zM446.6 312.0h1.5v1.5h-1.5zM462.6 312.0h1.5v1.5h-1.5zM494.1 312.0h1.5v1.5h-1.5zM506.6 312.0h1.5v1.5h-1.5zM558.1 312.0h1.5v1.5h-1.5zM569.1 312.0h1.5v1.5h-1.5zM109.8 314.2h1.5v1.5h-1.5zM137.8 314.2h1.5v1.5h-1.5zM165.3 314.2h1.5v1.5h-1.5zM169.8 314.2h1.5v1.5h-1.5zM189.8 314.2h1.5v1.5h-1.5zM220.8 314.2h1.5v1.5h-1.5zM222.8 314.2h1.5v1.5h-1.5zM229.3 314.2h1.5v1.5h-1.5zM256.2 314.2h1.5v1.5h-1.5zM262.7 314.2h1.5v1.5h-1.5zM268.7 314.2h1.5v1.5h-1.5zM271.2 314.2h1.5v1.5h-1.5zM273.2 314.2h1.5v1.5h-1.5zM283.7 314.2h1.5v1.5h-1.5zM289.2 314.2h1.5v1.5h-1.5zM291.7 314.2h1.5v1.5h-1.5zM293.2 314.2h1.5v1.5h-1.5zM296.2 314.2h1.5v1.5h-1.5zM298.2 314.2h1.5v1.5h-1.5zM299.2 314.2h1.5v1.5h-1.5zM306.7 314.2h1.5v1.5h-1.5zM325.7 314.2h1.5v1.5h-1.5zM326.7 314.2h1.5v1.5h-1.5zM337.7 314.2h1.5v1.5h-1.5zM339.7 314.2h1.5v1.5h-1.5zM347.2 314.2h1.5v1.5h-1.5zM350.7 314.2h1.5v1.5h-1.5zM351.7 314.2h1.5v1.5h-1.5zM352.7 314.2h1.5v1.5h-1.5zM357.7 314.2h1.5v1.5h-1.5zM358.2 314.2h1.5v1.5h-1.5zM358.2 314.2h1.5v1.5h-1.5zM374.2 314.2h1.5v1.5h-1.5zM385.2 314.2h1.5v1.5h-1.5zM391.7 314.2h1.5v1.5h-1.5zM393.7 314.2h1.5v1.5h-1.5zM395.7 314.2h1.5v1.5h-1.5zM428.6 314.2h1.5v1.5h-1.5zM440.1 314.2h1.5v1.5h-1.5zM440.6 314.2h1.5v1.5h-1.5zM489.6 314.2h1.5v1.5h-1.5zM494.1 314.2h1.5v1.5h-1.5zM517.6 314.2h1.5v1.5h-1.5zM546.1 314.2h1.5v1.5h-1.5zM563.6 314.2h1.5v1.5h-1.5zM567.6 314.2h1.5v1.5h-1.5zM569.6 314.2h1.5v1.5h-1.5zM88.8 316.3h1.5v1.5h-1.5zM113.8 316.3h1.5v1.5h-1.5zM165.8 316.3h1.5v1.5h-1.5zM165.8 316.3h1.5v1.5h-1.5zM174.8 316.3h1.5v1.5h-1.5zM184.3 316.3h1.5v1.5h-1.5zM185.3 316.3h1.5v1.5h-1.5zM192.8 316.3h1.5v1.5h-1.5zM223.8 316.3h1.5v1.5h-1.5zM239.8 316.3h1.5v1.5h-1.5zM262.7 316.3h1.5v1.5h-1.5zM265.7 316.3h1.5v1.5h-1.5zM270.7 316.3h1.5v1.5h-1.5zM273.7 316.3h1.5v1.5h-1.5zM286.7 316.3h1.5v1.5h-1.5zM293.7 316.3h1.5v1.5h-1.5zM317.7 316.3h1.5v1.5h-1.5zM320.7 316.3h1.5v1.5h-1.5zM321.2 316.3h1.5v1.5h-1.5zM321.7 316.3h1.5v1.5h-1.5zM341.2 316.3h1.5v1.5h-1.5zM350.2 316.3h1.5v1.5h-1.5zM356.2 316.3h1.5v1.5h-1.5zM362.2 316.3h1.5v1.5h-1.5zM369.7 316.3h1.5v1.5h-1.5zM389.2 316.3h1.5v1.5h-1.5zM401.2 316.3h1.5v1.5h-1.5zM428.6 316.3h1.5v1.5h-1.5zM431.6 316.3h1.5v1.5h-1.5zM432.6 316.3h1.5v1.5h-1.5zM439.6 316.3h1.5v1.5h-1.5zM447.6 316.3h1.5v1.5h-1.5zM450.6 316.3h1.5v1.5h-1.5zM481.1 316.3h1.5v1.5h-1.5zM482.1 316.3h1.5v1.5h-1.5zM488.6 316.3h1.5v1.5h-1.5zM505.1 316.3h1.5v1.5h-1.5zM130.3 318.5h1.5v1.5h-1.5zM134.3 318.5h1.5v1.5h-1.5zM217.3 318.5h1.5v1.5h-1.5zM224.3 318.5h1.5v1.5h-1.5zM232.8 318.5h1.5v1.5h-1.5zM247.2 318.5h1.5v1.5h-1.5zM251.7 318.5h1.5v1.5h-1.5zM260.2 318.5h1.5v1.5h-1.5zM271.7 318.5h1.5v1.5h-1.5zM297.7 318.5h1.5v1.5h-1.5zM300.7 318.5h1.5v1.5h-1.5zM304.7 318.5h1.5v1.5h-1.5zM304.7 318.5h1.5v1.5h-1.5zM311.7 318.5h1.5v1.5h-1.5zM334.7 318.5h1.5v1.5h-1.5zM339.2 318.5h1.5v1.5h-1.5zM340.2 318.5h1.5v1.5h-1.5zM350.2 318.5h1.5v1.5h-1.5zM377.7 318.5h1.5v1.5h-1.5zM385.2 318.5h1.5v1.5h-1.5zM393.7 318.5h1.5v1.5h-1.5zM394.2 318.5h1.5v1.5h-1.5zM418.6 318.5h1.5v1.5h-1.5zM426.6 318.5h1.5v1.5h-1.5zM444.1 318.5h1.5v1.5h-1.5zM446.6 318.5h1.5v1.5h-1.5zM458.1 318.5h1.5v1.5h-1.5zM459.6 318.5h1.5v1.5h-1.5zM479.6 318.5h1.5v1.5h-1.5zM484.6 318.5h1.5v1.5h-1.5zM499.1 318.5h1.5v1.5h-1.5zM504.1 318.5h1.5v1.5h-1.5zM511.6 318.5h1.5v1.5h-1.5zM521.1 318.5h1.5v1.5h-1.5zM524.6 318.5h1.5v1.5h-1.5zM526.1 318.5h1.5v1.5h-1.5zM530.6 318.5h1.5v1.5h-1.5zM530.6 318.5h1.5v1.5h-1.5zM536.1 318.5h1.5v1.5h-1.5zM536.1 318.5h1.5v1.5h-1.5zM174.8 320.6h1.5v1.5h-1.5zM191.8 320.6h1.5v1.5h-1.5zM195.3 320.6h1.5v1.5h-1.5zM216.3 320.6h1.5v1.5h-1.5zM247.7 320.6h1.5v1.5h-1.5zM265.2 320.6h1.5v1.5h-1.5zM267.7 320.6h1.5v1.5h-1.5zM270.2 320.6h1.5v1.5h-1.5zM281.2 320.6h1.5v1.5h-1.5zM283.2 320.6h1.5v1.5h-1.5zM287.2 320.6h1.5v1.5h-1.5zM315.7 320.6h1.5v1.5h-1.5zM321.7 320.6h1.5v1.5h-1.5zM327.2 320.6h1.5v1.5h-1.5zM331.2 320.6h1.5v1.5h-1.5zM331.7 320.6h1.5v1.5h-1.5zM350.7 320.6h1.5v1.5h-1.5zM354.2 320.6h1.5v1.5h-1.5zM354.7 320.6h1.5v1.5h-1.5zM377.7 320.6h1.5v1.5h-1.5zM395.2 320.6h1.5v1.5h-1.5zM404.2 320.6h1.5v1.5h-1.5zM414.1 320.6h1.5v1.5h-1.5zM439.1 320.6h1.5v1.5h-1.5zM440.1 320.6h1.5v1.5h-1.5zM454.1 320.6h1.5v1.5h-1.5zM464.6 320.6h1.5v1.5h-1.5zM478.6 320.6h1.5v1.5h-1.5zM495.1 320.6h1.5v1.5h-1.5zM508.6 320.6h1.5v1.5h-1.5zM556.1 320.6h1.5v1.5h-1.5zM146.8 322.8h1.5v1.5h-1.5zM151.3 322.8h1.5v1.5h-1.5zM165.3 322.8h1.5v1.5h-1.5zM165.8 322.8h1.5v1.5h-1.5zM177.8 322.8h1.5v1.5h-1.5zM190.8 322.8h1.5v1.5h-1.5zM199.3 322.8h1.5v1.5h-1.5zM199.3 322.8h1.5v1.5h-1.5zM201.3 322.8h1.5v1.5h-1.5zM204.8 322.8h1.5v1.5h-1.5zM205.8 322.8h1.5v1.5h-1.5zM226.3 322.8h1.5v1.5h-1.5zM229.8 322.8h1.5v1.5h-1.5zM266.7 322.8h1.5v1.5h-1.5zM288.2 322.8h1.5v1.5h-1.5zM298.2 322.8h1.5v1.5h-1.5zM299.2 322.8h1.5v1.5h-1.5zM315.2 322.8h1.5v1.5h-1.5zM327.2 322.8h1.5v1.5h-1.5zM336.2 322.8h1.5v1.5h-1.5zM348.2 322.8h1.5v1.5h-1.5zM384.7 322.8h1.5v1.5h-1.5zM418.1 322.8h1.5v1.5h-1.5zM422.6 322.8h1.5v1.5h-1.5zM422.6 322.8h1.5v1.5h-1.5zM426.6 322.8h1.5v1.5h-1.5zM428.6 322.8h1.5v1.5h-1.5zM452.6 322.8h1.5v1.5h-1.5zM452.6 322.8h1.5v1.5h-1.5zM455.1 322.8h1.5v1.5h-1.5zM480.1 322.8h1.5v1.5h-1.5zM483.1 322.8h1.5v1.5h-1.5zM486.6 322.8h1.5v1.5h-1.5zM499.1 322.8h1.5v1.5h-1.5zM501.6 322.8h1.5v1.5h-1.5zM542.6 322.8h1.5v1.5h-1.5zM547.6 322.8h1.5v1.5h-1.5zM550.1 322.8h1.5v1.5h-1.5zM562.6 322.8h1.5v1.5h-1.5zM115.8 324.9h1.5v1.5h-1.5zM129.3 324.9h1.5v1.5h-1.5zM139.3 324.9h1.5v1.5h-1.5zM174.8 324.9h1.5v1.5h-1.5zM176.8 324.9h1.5v1.5h-1.5zM183.3 324.9h1.5v1.5h-1.5zM188.8 324.9h1.5v1.5h-1.5zM194.3 324.9h1.5v1.5h-1.5zM199.3 324.9h1.5v1.5h-1.5zM277.7 324.9h1.5v1.5h-1.5zM278.2 324.9h1.5v1.5h-1.5zM281.7 324.9h1.5v1.5h-1.5zM303.2 324.9h1.5v1.5h-1.5zM312.7 324.9h1.5v1.5h-1.5zM318.7 324.9h1.5v1.5h-1.5zM321.7 324.9h1.5v1.5h-1.5zM331.7 324.9h1.5v1.5h-1.5zM335.2 324.9h1.5v1.5h-1.5zM336.7 324.9h1.5v1.5h-1.5zM340.7 324.9h1.5v1.5h-1.5zM343.7 324.9h1.5v1.5h-1.5zM344.2 324.9h1.5v1.5h-1.5zM347.2 324.9h1.5v1.5h-1.5zM347.7 324.9h1.5v1.5h-1.5zM348.7 324.9h1.5v1.5h-1.5zM360.2 324.9h1.5v1.5h-1.5zM366.7 324.9h1.5v1.5h-1.5zM375.2 324.9h1.5v1.5h-1.5zM384.7 324.9h1.5v1.5h-1.5zM412.1 324.9h1.5v1.5h-1.5zM419.6 324.9h1.5v1.5h-1.5zM420.6 324.9h1.5v1.5h-1.5zM464.6 324.9h1.5v1.5h-1.5zM482.6 324.9h1.5v1.5h-1.5zM487.1 324.9h1.5v1.5h-1.5zM492.6 324.9h1.5v1.5h-1.5zM495.6 324.9h1.5v1.5h-1.5zM509.1 324.9h1.5v1.5h-1.5zM521.6 324.9h1.5v1.5h-1.5zM91.3 327.1h1.5v1.5h-1.5zM100.3 327.1h1.5v1.5h-1.5zM137.8 327.1h1.5v1.5h-1.5zM152.3 327.1h1.5v1.5h-1.5zM173.3 327.1h1.5v1.5h-1.5zM176.8 327.1h1.5v1.5h-1.5zM186.3 327.1h1.5v1.5h-1.5zM223.3 327.1h1.5v1.5h-1.5zM250.2 327.1h1.5v1.5h-1.5zM264.7 327.1h1.5v1.5h-1.5zM269.2 327.1h1.5v1.5h-1.5zM290.7 327.1h1.5v1.5h-1.5zM304.2 327.1h1.5v1.5h-1.5zM308.2 327.1h1.5v1.5h-1.5zM320.2 327.1h1.5v1.5h-1.5zM330.7 327.1h1.5v1.5h-1.5zM367.2 327.1h1.5v1.5h-1.5zM381.7 327.1h1.5v1.5h-1.5zM383.2 327.1h1.5v1.5h-1.5zM398.2 327.1h1.5v1.5h-1.5zM407.7 327.1h1.5v1.5h-1.5zM409.1 327.1h1.5v1.5h-1.5zM415.1 327.1h1.5v1.5h-1.5zM420.1 327.1h1.5v1.5h-1.5zM420.1 327.1h1.5v1.5h-1.5zM430.6 327.1h1.5v1.5h-1.5zM446.6 327.1h1.5v1.5h-1.5zM478.6 327.1h1.5v1.5h-1.5zM498.1 327.1h1.5v1.5h-1.5zM503.6 327.1h1.5v1.5h-1.5zM520.1 327.1h1.5v1.5h-1.5zM530.1 327.1h1.5v1.5h-1.5zM535.6 327.1h1.5v1.5h-1.5zM558.1 327.1h1.5v1.5h-1.5zM103.3 329.2h1.5v1.5h-1.5zM154.3 329.2h1.5v1.5h-1.5zM160.8 329.2h1.5v1.5h-1.5zM172.3 329.2h1.5v1.5h-1.5zM187.3 329.2h1.5v1.5h-1.5zM206.3 329.2h1.5v1.5h-1.5zM244.2 329.2h1.5v1.5h-1.5zM246.2 329.2h1.5v1.5h-1.5zM259.2 329.2h1.5v1.5h-1.5zM268.2 329.2h1.5v1.5h-1.5zM270.2 329.2h1.5v1.5h-1.5zM288.7 329.2h1.5v1.5h-1.5zM291.2 329.2h1.5v1.5h-1.5zM315.2 329.2h1.5v1.5h-1.5zM317.2 329.2h1.5v1.5h-1.5zM318.2 329.2h1.5v1.5h-1.5zM343.2 329.2h1.5v1.5h-1.5zM368.2 329.2h1.5v1.5h-1.5zM456.6 329.2h1.5v1.5h-1.5zM467.6 329.2h1.5v1.5h-1.5zM481.6 329.2h1.5v1.5h-1.5zM493.6 329.2h1.5v1.5h-1.5zM528.6 329.2h1.5v1.5h-1.5zM531.6 329.2h1.5v1.5h-1.5zM90.3 331.4h1.5v1.5h-1.5zM115.3 331.4h1.5v1.5h-1.5zM126.8 331.4h1.5v1.5h-1.5zM136.8 331.4h1.5v1.5h-1.5zM143.8 331.4h1.5v1.5h-1.5zM170.8 331.4h1.5v1.5h-1.5zM186.3 331.4h1.5v1.5h-1.5zM190.8 331.4h1.5v1.5h-1.5zM195.8 331.4h1.5v1.5h-1.5zM198.3 331.4h1.5v1.5h-1.5zM198.3 331.4h1.5v1.5h-1.5zM222.8 331.4h1.5v1.5h-1.5zM235.3 331.4h1.5v1.5h-1.5zM250.7 331.4h1.5v1.5h-1.5zM256.7 331.4h1.5v1.5h-1.5zM261.7 331.4h1.5v1.5h-1.5zM272.2 331.4h1.5v1.5h-1.5zM290.7 331.4h1.5v1.5h-1.5zM296.7 331.4h1.5v1.5h-1.5zM302.2 331.4h1.5v1.5h-1.5zM308.7 331.4h1.5v1.5h-1.5zM311.7 331.4h1.5v1.5h-1.5zM341.7 331.4h1.5v1.5h-1.5zM346.2 331.4h1.5v1.5h-1.5zM363.2 331.4h1.5v1.5h-1.5zM376.7 331.4h1.5v1.5h-1.5zM378.7 331.4h1.5v1.5h-1.5zM380.2 331.4h1.5v1.5h-1.5zM385.2 331.4h1.5v1.5h-1.5zM388.7 331.4h1.5v1.5h-1.5zM398.7 331.4h1.5v1.5h-1.5zM405.2 331.4h1.5v1.5h-1.5zM453.1 331.4h1.5v1.5h-1.5zM473.6 331.4h1.5v1.5h-1.5zM490.6 331.4h1.5v1.5h-1.5zM503.1 331.4h1.5v1.5h-1.5zM550.1 331.4h1.5v1.5h-1.5zM550.6 331.4h1.5v1.5h-1.5zM550.6 331.4h1.5v1.5h-1.5zM81.8 333.5h1.5v1.5h-1.5zM95.3 333.5h1.5v1.5h-1.5zM129.3 333.5h1.5v1.5h-1.5zM129.8 333.5h1.5v1.5h-1.5zM164.3 333.5h1.5v1.5h-1.5zM194.8 333.5h1.5v1.5h-1.5zM208.3 333.5h1.5v1.5h-1.5zM209.8 333.5h1.5v1.5h-1.5zM212.8 333.5h1.5v1.5h-1.5zM214.3 333.5h1.5v1.5h-1.5zM219.3 333.5h1.5v1.5h-1.5zM242.2 333.5h1.5v1.5h-1.5zM255.2 333.5h1.5v1.5h-1.5zM259.7 333.5h1.5v1.5h-1.5zM260.7 333.5h1.5v1.5h-1.5zM269.2 333.5h1.5v1.5h-1.5zM289.7 333.5h1.5v1.5h-1.5zM308.7 333.5h1.5v1.5h-1.5zM317.7 333.5h1.5v1.5h-1.5zM317.7 333.5h1.5v1.5h-1.5zM319.7 333.5h1.5v1.5h-1.5zM326.2 333.5h1.5v1.5h-1.5zM328.2 333.5h1.5v1.5h-1.5zM329.7 333.5h1.5v1.5h-1.5zM334.7 333.5h1.5v1.5h-1.5zM337.2 333.5h1.5v1.5h-1.5zM338.7 333.5h1.5v1.5h-1.5zM344.2 333.5h1.5v1.5h-1.5zM345.7 333.5h1.5v1.5h-1.5zM355.7 333.5h1.5v1.5h-1.5zM363.7 333.5h1.5v1.5h-1.5zM370.7 333.5h1.5v1.5h-1.5zM372.7 333.5h1.5v1.5h-1.5zM374.7 333.5h1.5v1.5h-1.5zM380.2 333.5h1.5v1.5h-1.5zM381.7 333.5h1.5v1.5h-1.5zM394.2 333.5h1.5v1.5h-1.5zM401.7 333.5h1.5v1.5h-1.5zM405.2 333.5h1.5v1.5h-1.5zM407.7 333.5h1.5v1.5h-1.5zM426.1 333.5h1.5v1.5h-1.5zM436.1 333.5h1.5v1.5h-1.5zM445.1 333.5h1.5v1.5h-1.5zM479.1 333.5h1.5v1.5h-1.5zM485.1 333.5h1.5v1.5h-1.5zM503.6 333.5h1.5v1.5h-1.5zM514.1 333.5h1.5v1.5h-1.5zM530.1 333.5h1.5v1.5h-1.5zM547.1 333.5h1.5v1.5h-1.5zM551.1 333.5h1.5v1.5h-1.5zM568.1 333.5h1.5v1.5h-1.5zM83.3 335.7h1.5v1.5h-1.5zM88.3 335.7h1.5v1.5h-1.5zM96.3 335.7h1.5v1.5h-1.5zM106.3 335.7h1.5v1.5h-1.5zM107.8 335.7h1.5v1.5h-1.5zM112.8 335.7h1.5v1.5h-1.5zM126.3 335.7h1.5v1.5h-1.5zM146.8 335.7h1.5v1.5h-1.5zM174.3 335.7h1.5v1.5h-1.5zM202.3 335.7h1.5v1.5h-1.5zM208.8 335.7h1.5v1.5h-1.5zM237.3 335.7h1.5v1.5h-1.5zM251.2 335.7h1.5v1.5h-1.5zM266.7 335.7h1.5v1.5h-1.5zM274.7 335.7h1.5v1.5h-1.5zM291.7 335.7h1.5v1.5h-1.5zM296.7 335.7h1.5v1.5h-1.5zM301.7 335.7h1.5v1.5h-1.5zM304.2 335.7h1.5v1.5h-1.5zM322.2 335.7h1.5v1.5h-1.5zM325.2 335.7h1.5v1.5h-1.5zM329.2 335.7h1.5v1.5h-1.5zM339.7 335.7h1.5v1.5h-1.5zM342.7 335.7h1.5v1.5h-1.5zM347.2 335.7h1.5v1.5h-1.5zM363.7 335.7h1.5v1.5h-1.5zM387.7 335.7h1.5v1.5h-1.5zM401.7 335.7h1.5v1.5h-1.5zM402.7 335.7h1.5v1.5h-1.5zM406.7 335.7h1.5v1.5h-1.5zM408.1 335.7h1.5v1.5h-1.5zM412.6 335.7h1.5v1.5h-1.5zM425.1 335.7h1.5v1.5h-1.5zM440.1 335.7h1.5v1.5h-1.5zM446.6 335.7h1.5v1.5h-1.5zM480.6 335.7h1.5v1.5h-1.5zM493.1 335.7h1.5v1.5h-1.5zM519.1 335.7h1.5v1.5h-1.5zM540.6 335.7h1.5v1.5h-1.5zM547.6 335.7h1.5v1.5h-1.5zM565.1 335.7h1.5v1.5h-1.5zM89.8 337.8h1.5v1.5h-1.5zM96.8 337.8h1.5v1.5h-1.5zM99.3 337.8h1.5v1.5h-1.5zM109.8 337.8h1.5v1.5h-1.5zM139.8 337.8h1.5v1.5h-1.5zM158.3 337.8h1.5v1.5h-1.5zM175.8 337.8h1.5v1.5h-1.5zM190.8 337.8h1.5v1.5h-1.5zM191.8 337.8h1.5v1.5h-1.5zM196.3 337.8h1.5v1.5h-1.5zM235.8 337.8h1.5v1.5h-1.5zM250.2 337.8h1.5v1.5h-1.5zM253.2 337.8h1.5v1.5h-1.5zM261.7 337.8h1.5v1.5h-1.5zM261.7 337.8h1.5v1.5h-1.5zM267.2 337.8h1.5v1.5h-1.5zM268.7 337.8h1.5v1.5h-1.5zM307.7 337.8h1.5v1.5h-1.5zM308.7 337.8h1.5v1.5h-1.5zM315.2 337.8h1.5v1.5h-1.5zM318.7 337.8h1.5v1.5h-1.5zM320.2 337.8h1.5v1.5h-1.5zM334.2 337.8h1.5v1.5h-1.5zM348.2 337.8h1.5v1.5h-1.5zM366.7 337.8h1.5v1.5h-1.5zM379.2 337.8h1.5v1.5h-1.5zM412.1 337.8h1.5v1.5h-1.5zM414.1 337.8h1.5v1.5h-1.5zM416.1 337.8h1.5v1.5h-1.5zM417.1 337.8h1.5v1.5h-1.5zM423.6 337.8h1.5v1.5h-1.5zM435.1 337.8h1.5v1.5h-1.5zM445.6 337.8h1.5v1.5h-1.5zM455.6 337.8h1.5v1.5h-1.5zM458.6 337.8h1.5v1.5h-1.5zM468.1 337.8h1.5v1.5h-1.5zM471.1 337.8h1.5v1.5h-1.5zM480.6 337.8h1.5v1.5h-1.5zM506.1 337.8h1.5v1.5h-1.5zM508.6 337.8h1.5v1.5h-1.5zM513.6 337.8h1.5v1.5h-1.5zM530.6 337.8h1.5v1.5h-1.5zM532.1 337.8h1.5v1.5h-1.5zM534.6 337.8h1.5v1.5h-1.5zM555.6 337.8h1.5v1.5h-1.5zM88.3 340.0h1.5v1.5h-1.5zM96.3 340.0h1.5v1.5h-1.5zM115.8 340.0h1.5v1.5h-1.5zM118.3 340.0h1.5v1.5h-1.5zM122.8 340.0h1.5v1.5h-1.5zM126.3 340.0h1.5v1.5h-1.5zM140.8 340.0h1.5v1.5h-1.5zM141.8 340.0h1.5v1.5h-1.5zM147.3 340.0h1.5v1.5h-1.5zM186.3 340.0h1.5v1.5h-1.5zM191.8 340.0h1.5v1.5h-1.5zM198.3 340.0h1.5v1.5h-1.5zM214.3 340.0h1.5v1.5h-1.5zM214.3 340.0h1.5v1.5h-1.5zM224.3 340.0h1.5v1.5h-1.5zM249.2 340.0h1.5v1.5h-1.5zM267.7 340.0h1.5v1.5h-1.5zM274.2 340.0h1.5v1.5h-1.5zM275.7 340.0h1.5v1.5h-1.5zM289.7 340.0h1.5v1.5h-1.5zM313.7 340.0h1.5v1.5h-1.5zM315.7 340.0h1.5v1.5h-1.5zM333.7 340.0h1.5v1.5h-1.5zM334.2 340.0h1.5v1.5h-1.5zM357.7 340.0h1.5v1.5h-1.5zM359.7 340.0h1.5v1.5h-1.5zM379.2 340.0h1.5v1.5h-1.5zM385.2 340.0h1.5v1.5h-1.5zM396.2 340.0h1.5v1.5h-1.5zM410.6 340.0h1.5v1.5h-1.5zM412.6 340.0h1.5v1.5h-1.5zM418.1 340.0h1.5v1.5h-1.5zM420.1 340.0h1.5v1.5h-1.5zM424.6 340.0h1.5v1.5h-1.5zM425.6 340.0h1.5v1.5h-1.5zM429.1 340.0h1.5v1.5h-1.5zM447.6 340.0h1.5v1.5h-1.5zM454.1 340.0h1.5v1.5h-1.5zM458.1 340.0h1.5v1.5h-1.5zM459.1 340.0h1.5v1.5h-1.5zM497.6 340.0h1.5v1.5h-1.5zM502.1 340.0h1.5v1.5h-1.5zM525.1 340.0h1.5v1.5h-1.5zM553.1 340.0h1.5v1.5h-1.5zM565.1 340.0h1.5v1.5h-1.5zM89.3 342.1h1.5v1.5h-1.5zM95.3 342.1h1.5v1.5h-1.5zM121.8 342.1h1.5v1.5h-1.5zM135.3 342.1h1.5v1.5h-1.5zM136.8 342.1h1.5v1.5h-1.5zM141.8 342.1h1.5v1.5h-1.5zM150.3 342.1h1.5v1.5h-1.5zM209.3 342.1h1.5v1.5h-1.5zM214.3 342.1h1.5v1.5h-1.5zM222.3 342.1h1.5v1.5h-1.5zM223.8 342.1h1.5v1.5h-1.5zM236.3 342.1h1.5v1.5h-1.5zM244.7 342.1h1.5v1.5h-1.5zM295.7 342.1h1.5v1.5h-1.5zM305.2 342.1h1.5v1.5h-1.5zM322.2 342.1h1.5v1.5h-1.5zM326.7 342.1h1.5v1.5h-1.5zM352.2 342.1h1.5v1.5h-1.5zM356.7 342.1h1.5v1.5h-1.5zM377.7 342.1h1.5v1.5h-1.5zM385.7 342.1h1.5v1.5h-1.5zM396.2 342.1h1.5v1.5h-1.5zM404.7 342.1h1.5v1.5h-1.5zM437.1 342.1h1.5v1.5h-1.5zM441.6 342.1h1.5v1.5h-1.5zM445.6 342.1h1.5v1.5h-1.5zM463.1 342.1h1.5v1.5h-1.5zM482.1 342.1h1.5v1.5h-1.5zM502.6 342.1h1.5v1.5h-1.5zM504.6 342.1h1.5v1.5h-1.5zM511.1 342.1h1.5v1.5h-1.5zM522.6 342.1h1.5v1.5h-1.5zM544.6 342.1h1.5v1.5h-1.5zM86.3 344.3h1.5v1.5h-1.5zM87.8 344.3h1.5v1.5h-1.5zM91.3 344.3h1.5v1.5h-1.5zM92.3 344.3h1.5v1.5h-1.5zM119.3 344.3h1.5v1.5h-1.5zM123.3 344.3h1.5v1.5h-1.5zM124.3 344.3h1.5v1.5h-1.5zM127.8 344.3h1.5v1.5h-1.5zM137.3 344.3h1.5v1.5h-1.5zM162.3 344.3h1.5v1.5h-1.5zM170.8 344.3h1.5v1.5h-1.5zM191.8 344.3h1.5v1.5h-1.5zM193.3 344.3h1.5v1.5h-1.5zM207.3 344.3h1.5v1.5h-1.5zM209.8 344.3h1.5v1.5h-1.5zM268.2 344.3h1.5v1.5h-1.5zM276.2 344.3h1.5v1.5h-1.5zM276.2 344.3h1.5v1.5h-1.5zM282.7 344.3h1.5v1.5h-1.5zM284.2 344.3h1.5v1.5h-1.5zM289.7 344.3h1.5v1.5h-1.5zM298.7 344.3h1.5v1.5h-1.5zM301.7 344.3h1.5v1.5h-1.5zM304.7 344.3h1.5v1.5h-1.5zM312.2 344.3h1.5v1.5h-1.5zM318.7 344.3h1.5v1.5h-1.5zM328.2 344.3h1.5v1.5h-1.5zM328.7 344.3h1.5v1.5h-1.5zM331.2 344.3h1.5v1.5h-1.5zM352.2 344.3h1.5v1.5h-1.5zM365.7 344.3h1.5v1.5h-1.5zM375.2 344.3h1.5v1.5h-1.5zM377.7 344.3h1.5v1.5h-1.5zM389.7 344.3h1.5v1.5h-1.5zM395.2 344.3h1.5v1.5h-1.5zM402.7 344.3h1.5v1.5h-1.5zM407.7 344.3h1.5v1.5h-1.5zM436.6 344.3h1.5v1.5h-1.5zM451.1 344.3h1.5v1.5h-1.5zM454.1 344.3h1.5v1.5h-1.5zM455.6 344.3h1.5v1.5h-1.5zM471.6 344.3h1.5v1.5h-1.5zM471.6 344.3h1.5v1.5h-1.5zM499.6 344.3h1.5v1.5h-1.5zM524.6 344.3h1.5v1.5h-1.5zM534.6 344.3h1.5v1.5h-1.5zM535.6 344.3h1.5v1.5h-1.5zM543.6 344.3h1.5v1.5h-1.5zM543.6 344.3h1.5v1.5h-1.5zM549.6 344.3h1.5v1.5h-1.5zM559.1 344.3h1.5v1.5h-1.5zM559.6 344.3h1.5v1.5h-1.5zM78.8 346.4h1.5v1.5h-1.5zM90.3 346.4h1.5v1.5h-1.5zM90.8 346.4h1.5v1.5h-1.5zM128.8 346.4h1.5v1.5h-1.5zM130.3 346.4h1.5v1.5h-1.5zM141.3 346.4h1.5v1.5h-1.5zM179.3 346.4h1.5v1.5h-1.5zM182.3 346.4h1.5v1.5h-1.5zM182.3 346.4h1.5v1.5h-1.5zM187.8 346.4h1.5v1.5h-1.5zM197.8 346.4h1.5v1.5h-1.5zM201.8 346.4h1.5v1.5h-1.5zM202.8 346.4h1.5v1.5h-1.5zM208.3 346.4h1.5v1.5h-1.5zM209.8 346.4h1.5v1.5h-1.5zM224.8 346.4h1.5v1.5h-1.5zM238.8 346.4h1.5v1.5h-1.5zM247.2 346.4h1.5v1.5h-1.5zM255.2 346.4h1.5v1.5h-1.5zM257.2 346.4h1.5v1.5h-1.5zM260.7 346.4h1.5v1.5h-1.5zM269.7 346.4h1.5v1.5h-1.5zM274.2 346.4h1.5v1.5h-1.5zM275.2 346.4h1.5v1.5h-1.5zM278.2 346.4h1.5v1.5h-1.5zM295.7 346.4h1.5v1.5h-1.5zM295.7 346.4h1.5v1.5h-1.5zM296.7 346.4h1.5v1.5h-1.5zM303.2 346.4h1.5v1.5h-1.5zM311.7 346.4h1.5v1.5h-1.5zM352.2 346.4h1.5v1.5h-1.5zM366.2 346.4h1.5v1.5h-1.5zM368.7 346.4h1.5v1.5h-1.5zM379.7 346.4h1.5v1.5h-1.5zM383.2 346.4h1.5v1.5h-1.5zM406.7 346.4h1.5v1.5h-1.5zM419.6 346.4h1.5v1.5h-1.5zM486.6 346.4h1.5v1.5h-1.5zM494.1 346.4h1.5v1.5h-1.5zM505.6 346.4h1.5v1.5h-1.5zM506.6 346.4h1.5v1.5h-1.5zM507.1 346.4h1.5v1.5h-1.5zM517.6 346.4h1.5v1.5h-1.5zM525.1 346.4h1.5v1.5h-1.5zM540.1 346.4h1.5v1.5h-1.5zM549.1 346.4h1.5v1.5h-1.5zM549.6 346.4h1.5v1.5h-1.5zM550.6 346.4h1.5v1.5h-1.5zM559.1 346.4h1.5v1.5h-1.5zM106.8 348.6h1.5v1.5h-1.5zM107.8 348.6h1.5v1.5h-1.5zM110.8 348.6h1.5v1.5h-1.5zM116.3 348.6h1.5v1.5h-1.5zM129.8 348.6h1.5v1.5h-1.5zM130.3 348.6h1.5v1.5h-1.5zM131.3 348.6h1.5v1.5h-1.5zM134.3 348.6h1.5v1.5h-1.5zM136.3 348.6h1.5v1.5h-1.5zM147.3 348.6h1.5v1.5h-1.5zM157.3 348.6h1.5v1.5h-1.5zM162.8 348.6h1.5v1.5h-1.5zM181.3 348.6h1.5v1.5h-1.5zM203.3 348.6h1.5v1.5h-1.5zM206.3 348.6h1.5v1.5h-1.5zM217.8 348.6h1.5v1.5h-1.5zM219.3 348.6h1.5v1.5h-1.5zM233.3 348.6h1.5v1.5h-1.5zM248.7 348.6h1.5v1.5h-1.5zM250.2 348.6h1.5v1.5h-1.5zM284.2 348.6h1.5v1.5h-1.5zM291.2 348.6h1.5v1.5h-1.5zM299.2 348.6h1.5v1.5h-1.5zM305.7 348.6h1.5v1.5h-1.5zM321.7 348.6h1.5v1.5h-1.5zM323.2 348.6h1.5v1.5h-1.5zM343.2 348.6h1.5v1.5h-1.5zM344.2 348.6h1.5v1.5h-1.5zM344.7 348.6h1.5v1.5h-1.5zM346.7 348.6h1.5v1.5h-1.5zM352.2 348.6h1.5v1.5h-1.5zM374.7 348.6h1.5v1.5h-1.5zM378.7 348.6h1.5v1.5h-1.5zM484.1 348.6h1.5v1.5h-1.5zM496.6 348.6h1.5v1.5h-1.5zM506.6 348.6h1.5v1.5h-1.5zM513.1 348.6h1.5v1.5h-1.5zM515.1 348.6h1.5v1.5h-1.5zM516.1 348.6h1.5v1.5h-1.5zM519.1 348.6h1.5v1.5h-1.5zM542.1 348.6h1.5v1.5h-1.5zM546.1 348.6h1.5v1.5h-1.5zM554.6 348.6h1.5v1.5h-1.5zM100.8 350.7h1.5v1.5h-1.5zM101.8 350.7h1.5v1.5h-1.5zM105.3 350.7h1.5v1.5h-1.5zM129.3 350.7h1.5v1.5h-1.5zM131.3 350.7h1.5v1.5h-1.5zM134.3 350.7h1.5v1.5h-1.5zM144.8 350.7h1.5v1.5h-1.5zM149.8 350.7h1.5v1.5h-1.5zM164.3 350.7h1.5v1.5h-1.5zM164.3 350.7h1.5v1.5h-1.5zM177.3 350.7h1.5v1.5h-1.5zM199.3 350.7h1.5v1.5h-1.5zM209.8 350.7h1.5v1.5h-1.5zM222.3 350.7h1.5v1.5h-1.5zM223.8 350.7h1.5v1.5h-1.5zM233.8 350.7h1.5v1.5h-1.5zM261.7 350.7h1.5v1.5h-1.5zM271.2 350.7h1.5v1.5h-1.5zM287.7 350.7h1.5v1.5h-1.5zM296.2 350.7h1.5v1.5h-1.5zM303.2 350.7h1.5v1.5h-1.5zM317.2 350.7h1.5v1.5h-1.5zM320.2 350.7h1.5v1.5h-1.5zM324.2 350.7h1.5v1.5h-1.5zM337.2 350.7h1.5v1.5h-1.5zM356.7 350.7h1.5v1.5h-1.5zM363.7 350.7h1.5v1.5h-1.5zM381.2 350.7h1.5v1.5h-1.5zM393.2 350.7h1.5v1.5h-1.5zM400.7 350.7h1.5v1.5h-1.5zM401.7 350.7h1.5v1.5h-1.5zM415.6 350.7h1.5v1.5h-1.5zM423.6 350.7h1.5v1.5h-1.5zM425.1 350.7h1.5v1.5h-1.5zM425.6 350.7h1.5v1.5h-1.5zM428.1 350.7h1.5v1.5h-1.5zM430.1 350.7h1.5v1.5h-1.5zM433.6 350.7h1.5v1.5h-1.5zM440.1 350.7h1.5v1.5h-1.5zM443.6 350.7h1.5v1.5h-1.5zM462.1 350.7h1.5v1.5h-1.5zM495.6 350.7h1.5v1.5h-1.5zM501.6 350.7h1.5v1.5h-1.5zM515.6 350.7h1.5v1.5h-1.5zM522.1 350.7h1.5v1.5h-1.5zM528.1 350.7h1.5v1.5h-1.5zM534.1 350.7h1.5v1.5h-1.5zM547.1 350.7h1.5v1.5h-1.5zM554.1 350.7h1.5v1.5h-1.5zM566.6 350.7h1.5v1.5h-1.5zM82.8 352.9h1.5v1.5h-1.5zM91.8 352.9h1.5v1.5h-1.5zM111.8 352.9h1.5v1.5h-1.5zM118.8 352.9h1.5v1.5h-1.5zM123.3 352.9h1.5v1.5h-1.5zM147.3 352.9h1.5v1.5h-1.5zM155.3 352.9h1.5v1.5h-1.5zM168.8 352.9h1.5v1.5h-1.5zM173.3 352.9h1.5v1.5h-1.5zM179.8 352.9h1.5v1.5h-1.5zM188.3 352.9h1.5v1.5h-1.5zM189.3 352.9h1.5v1.5h-1.5zM192.8 352.9h1.5v1.5h-1.5zM216.8 352.9h1.5v1.5h-1.5zM218.8 352.9h1.5v1.5h-1.5zM222.3 352.9h1.5v1.5h-1.5zM238.8 352.9h1.5v1.5h-1.5zM269.7 352.9h1.5v1.5h-1.5zM271.2 352.9h1.5v1.5h-1.5zM285.2 352.9h1.5v1.5h-1.5zM305.2 352.9h1.5v1.5h-1.5zM317.7 352.9h1.5v1.5h-1.5zM320.2 352.9h1.5v1.5h-1.5zM325.2 352.9h1.5v1.5h-1.5zM328.2 352.9h1.5v1.5h-1.5zM350.7 352.9h1.5v1.5h-1.5zM368.2 352.9h1.5v1.5h-1.5zM370.7 352.9h1.5v1.5h-1.5zM391.2 352.9h1.5v1.5h-1.5zM413.1 352.9h1.5v1.5h-1.5zM414.6 352.9h1.5v1.5h-1.5zM415.1 352.9h1.5v1.5h-1.5zM418.6 352.9h1.5v1.5h-1.5zM423.1 352.9h1.5v1.5h-1.5zM433.6 352.9h1.5v1.5h-1.5zM434.1 352.9h1.5v1.5h-1.5zM436.6 352.9h1.5v1.5h-1.5zM454.1 352.9h1.5v1.5h-1.5zM464.6 352.9h1.5v1.5h-1.5zM481.6 352.9h1.5v1.5h-1.5zM506.1 352.9h1.5v1.5h-1.5zM531.1 352.9h1.5v1.5h-1.5zM533.1 352.9h1.5v1.5h-1.5zM533.6 352.9h1.5v1.5h-1.5zM543.6 352.9h1.5v1.5h-1.5zM563.1 352.9h1.5v1.5h-1.5zM563.1 352.9h1.5v1.5h-1.5zM109.8 355.0h1.5v1.5h-1.5zM111.8 355.0h1.5v1.5h-1.5zM113.3 355.0h1.5v1.5h-1.5zM147.8 355.0h1.5v1.5h-1.5zM170.3 355.0h1.5v1.5h-1.5zM172.3 355.0h1.5v1.5h-1.5zM175.3 355.0h1.5v1.5h-1.5zM195.3 355.0h1.5v1.5h-1.5zM198.3 355.0h1.5v1.5h-1.5zM247.7 355.0h1.5v1.5h-1.5zM257.7 355.0h1.5v1.5h-1.5zM260.7 355.0h1.5v1.5h-1.5zM281.2 355.0h1.5v1.5h-1.5zM301.7 355.0h1.5v1.5h-1.5zM304.2 355.0h1.5v1.5h-1.5zM322.2 355.0h1.5v1.5h-1.5zM338.2 355.0h1.5v1.5h-1.5zM343.7 355.0h1.5v1.5h-1.5zM345.2 355.0h1.5v1.5h-1.5zM371.7 355.0h1.5v1.5h-1.5zM382.7 355.0h1.5v1.5h-1.5zM404.2 355.0h1.5v1.5h-1.5zM411.1 355.0h1.5v1.5h-1.5zM415.1 355.0h1.5v1.5h-1.5zM420.6 355.0h1.5v1.5h-1.5zM424.6 355.0h1.5v1.5h-1.5zM440.1 355.0h1.5v1.5h-1.5zM443.6 355.0h1.5v1.5h-1.5zM447.1 355.0h1.5v1.5h-1.5zM467.1 355.0h1.5v1.5h-1.5zM473.6 355.0h1.5v1.5h-1.5zM509.6 355.0h1.5v1.5h-1.5zM525.1 355.0h1.5v1.5h-1.5zM527.6 355.0h1.5v1.5h-1.5zM528.6 355.0h1.5v1.5h-1.5zM543.1 355.0h1.5v1.5h-1.5zM566.6 355.0h1.5v1.5h-1.5zM85.8 357.2h1.5v1.5h-1.5zM153.3 357.2h1.5v1.5h-1.5zM170.3 357.2h1.5v1.5h-1.5zM183.3 357.2h1.5v1.5h-1.5zM184.8 357.2h1.5v1.5h-1.5zM192.3 357.2h1.5v1.5h-1.5zM194.8 357.2h1.5v1.5h-1.5zM199.8 357.2h1.5v1.5h-1.5zM224.3 357.2h1.5v1.5h-1.5zM231.8 357.2h1.5v1.5h-1.5zM239.3 357.2h1.5v1.5h-1.5zM239.8 357.2h1.5v1.5h-1.5zM241.3 357.2h1.5v1.5h-1.5zM242.7 357.2h1.5v1.5h-1.5zM250.7 357.2h1.5v1.5h-1.5zM264.7 357.2h1.5v1.5h-1.5zM271.7 357.2h1.5v1.5h-1.5zM310.7 357.2h1.5v1.5h-1.5zM312.7 357.2h1.5v1.5h-1.5zM324.2 357.2h1.5v1.5h-1.5zM334.2 357.2h1.5v1.5h-1.5zM339.2 357.2h1.5v1.5h-1.5zM341.2 357.2h1.5v1.5h-1.5zM354.2 357.2h1.5v1.5h-1.5zM428.6 357.2h1.5v1.5h-1.5zM431.1 357.2h1.5v1.5h-1.5zM454.6 357.2h1.5v1.5h-1.5zM460.6 357.2h1.5v1.5h-1.5zM462.6 357.2h1.5v1.5h-1.5zM477.1 357.2h1.5v1.5h-1.5zM479.1 357.2h1.5v1.5h-1.5zM480.6 357.2h1.5v1.5h-1.5zM489.1 357.2h1.5v1.5h-1.5zM494.1 357.2h1.5v1.5h-1.5zM499.1 357.2h1.5v1.5h-1.5zM531.6 357.2h1.5v1.5h-1.5zM535.6 357.2h1.5v1.5h-1.5zM538.1 357.2h1.5v1.5h-1.5zM553.1 357.2h1.5v1.5h-1.5zM553.1 357.2h1.5v1.5h-1.5zM555.1 357.2h1.5v1.5h-1.5zM564.1 357.2h1.5v1.5h-1.5zM95.3 359.3h1.5v1.5h-1.5zM97.8 359.3h1.5v1.5h-1.5zM109.3 359.3h1.5v1.5h-1.5zM113.3 359.3h1.5v1.5h-1.5zM115.8 359.3h1.5v1.5h-1.5zM117.3 359.3h1.5v1.5h-1.5zM119.8 359.3h1.5v1.5h-1.5zM123.3 359.3h1.5v1.5h-1.5zM135.8 359.3h1.5v1.5h-1.5zM145.3 359.3h1.5v1.5h-1.5zM150.3 359.3h1.5v1.5h-1.5zM152.8 359.3h1.5v1.5h-1.5zM165.3 359.3h1.5v1.5h-1.5zM221.8 359.3h1.5v1.5h-1.5zM275.2 359.3h1.5v1.5h-1.5zM277.2 359.3h1.5v1.5h-1.5zM287.2 359.3h1.5v1.5h-1.5zM312.2 359.3h1.5v1.5h-1.5zM324.2 359.3h1.5v1.5h-1.5zM325.2 359.3h1.5v1.5h-1.5zM341.7 359.3h1.5v1.5h-1.5zM374.2 359.3h1.5v1.5h-1.5zM386.2 359.3h1.5v1.5h-1.5zM398.7 359.3h1.5v1.5h-1.5zM404.2 359.3h1.5v1.5h-1.5zM439.1 359.3h1.5v1.5h-1.5zM447.6 359.3h1.5v1.5h-1.5zM459.1 359.3h1.5v1.5h-1.5zM460.6 359.3h1.5v1.5h-1.5zM499.1 359.3h1.5v1.5h-1.5zM529.6 359.3h1.5v1.5h-1.5zM531.1 359.3h1.5v1.5h-1.5zM551.6 359.3h1.5v1.5h-1.5zM569.1 359.3h1.5v1.5h-1.5zM88.3 361.5h1.5v1.5h-1.5zM91.8 361.5h1.5v1.5h-1.5zM96.8 361.5h1.5v1.5h-1.5zM103.3 361.5h1.5v1.5h-1.5zM127.3 361.5h1.5v1.5h-1.5zM146.3 361.5h1.5v1.5h-1.5zM151.8 361.5h1.5v1.5h-1.5zM168.8 361.5h1.5v1.5h-1.5zM181.3 361.5h1.5v1.5h-1.5zM182.3 361.5h1.5v1.5h-1.5zM204.3 361.5h1.5v1.5h-1.5zM209.3 361.5h1.5v1.5h-1.5zM210.3 361.5h1.5v1.5h-1.5zM213.8 361.5h1.5v1.5h-1.5zM226.3 361.5h1.5v1.5h-1.5zM230.3 361.5h1.5v1.5h-1.5zM248.2 361.5h1.5v1.5h-1.5zM267.2 361.5h1.5v1.5h-1.5zM276.2 361.5h1.5v1.5h-1.5zM284.7 361.5h1.5v1.5h-1.5zM303.2 361.5h1.5v1.5h-1.5zM305.2 361.5h1.5v1.5h-1.5zM309.2 361.5h1.5v1.5h-1.5zM312.2 361.5h1.5v1.5h-1.5zM312.2 361.5h1.5v1.5h-1.5zM314.7 361.5h1.5v1.5h-1.5zM316.2 361.5h1.5v1.5h-1.5zM317.7 361.5h1.5v1.5h-1.5zM330.7 361.5h1.5v1.5h-1.5zM338.2 361.5h1.5v1.5h-1.5zM359.2 361.5h1.5v1.5h-1.5zM379.2 361.5h1.5v1.5h-1.5zM395.2 361.5h1.5v1.5h-1.5zM397.2 361.5h1.5v1.5h-1.5zM412.6 361.5h1.5v1.5h-1.5zM424.1 361.5h1.5v1.5h-1.5zM436.1 361.5h1.5v1.5h-1.5zM440.1 361.5h1.5v1.5h-1.5zM440.1 361.5h1.5v1.5h-1.5zM441.6 361.5h1.5v1.5h-1.5zM448.6 361.5h1.5v1.5h-1.5zM453.1 361.5h1.5v1.5h-1.5zM454.6 361.5h1.5v1.5h-1.5zM463.1 361.5h1.5v1.5h-1.5zM472.6 361.5h1.5v1.5h-1.5zM502.1 361.5h1.5v1.5h-1.5zM503.1 361.5h1.5v1.5h-1.5zM509.1 361.5h1.5v1.5h-1.5zM517.6 361.5h1.5v1.5h-1.5zM538.1 361.5h1.5v1.5h-1.5zM545.1 361.5h1.5v1.5h-1.5zM546.6 361.5h1.5v1.5h-1.5zM547.6 361.5h1.5v1.5h-1.5zM570.1 361.5h1.5v1.5h-1.5zM570.1 361.5h1.5v1.5h-1.5zM79.8 363.6h1.5v1.5h-1.5zM80.3 363.6h1.5v1.5h-1.5zM80.8 363.6h1.5v1.5h-1.5zM93.3 363.6h1.5v1.5h-1.5zM96.8 363.6h1.5v1.5h-1.5zM100.3 363.6h1.5v1.5h-1.5zM104.8 363.6h1.5v1.5h-1.5zM118.8 363.6h1.5v1.5h-1.5zM154.3 363.6h1.5v1.5h-1.5zM176.8 363.6h1.5v1.5h-1.5zM210.3 363.6h1.5v1.5h-1.5zM212.3 363.6h1.5v1.5h-1.5zM214.8 363.6h1.5v1.5h-1.5zM223.8 363.6h1.5v1.5h-1.5zM225.8 363.6h1.5v1.5h-1.5zM232.8 363.6h1.5v1.5h-1.5zM262.2 363.6h1.5v1.5h-1.5zM295.2 363.6h1.5v1.5h-1.5zM311.7 363.6h1.5v1.5h-1.5zM312.2 363.6h1.5v1.5h-1.5zM317.7 363.6h1.5v1.5h-1.5zM322.7 363.6h1.5v1.5h-1.5zM328.7 363.6h1.5v1.5h-1.5zM329.2 363.6h1.5v1.5h-1.5zM334.7 363.6h1.5v1.5h-1.5zM382.2 363.6h1.5v1.5h-1.5zM391.2 363.6h1.5v1.5h-1.5zM395.2 363.6h1.5v1.5h-1.5zM401.2 363.6h1.5v1.5h-1.5zM418.1 363.6h1.5v1.5h-1.5zM438.1 363.6h1.5v1.5h-1.5zM442.6 363.6h1.5v1.5h-1.5zM494.6 363.6h1.5v1.5h-1.5zM495.1 363.6h1.5v1.5h-1.5zM540.6 363.6h1.5v1.5h-1.5zM548.1 363.6h1.5v1.5h-1.5zM550.1 363.6h1.5v1.5h-1.5zM556.6 363.6h1.5v1.5h-1.5zM91.3 365.8h1.5v1.5h-1.5zM104.8 365.8h1.5v1.5h-1.5zM112.8 365.8h1.5v1.5h-1.5zM115.3 365.8h1.5v1.5h-1.5zM118.3 365.8h1.5v1.5h-1.5zM118.3 365.8h1.5v1.5h-1.5zM136.3 365.8h1.5v1.5h-1.5zM153.3 365.8h1.5v1.5h-1.5zM160.3 365.8h1.5v1.5h-1.5zM171.8 365.8h1.5v1.5h-1.5zM177.3 365.8h1.5v1.5h-1.5zM197.3 365.8h1.5v1.5h-1.5zM198.8 365.8h1.5v1.5h-1.5zM244.2 365.8h1.5v1.5h-1.5zM257.2 365.8h1.5v1.5h-1.5zM269.2 365.8h1.5v1.5h-1.5zM271.2 365.8h1.5v1.5h-1.5zM279.7 365.8h1.5v1.5h-1.5zM282.7 365.8h1.5v1.5h-1.5zM294.2 365.8h1.5v1.5h-1.5zM298.2 365.8h1.5v1.5h-1.5zM312.7 365.8h1.5v1.5h-1.5zM314.2 365.8h1.5v1.5h-1.5zM320.7 365.8h1.5v1.5h-1.5zM324.7 365.8h1.5v1.5h-1.5zM326.2 365.8h1.5v1.5h-1.5zM327.2 365.8h1.5v1.5h-1.5zM327.2 365.8h1.5v1.5h-1.5zM340.2 365.8h1.5v1.5h-1.5zM340.2 365.8h1.5v1.5h-1.5zM340.7 365.8h1.5v1.5h-1.5zM362.2 365.8h1.5v1.5h-1.5zM367.7 365.8h1.5v1.5h-1.5zM422.1 365.8h1.5v1.5h-1.5zM423.6 365.8h1.5v1.5h-1.5zM430.1 365.8h1.5v1.5h-1.5zM440.6 365.8h1.5v1.5h-1.5zM441.6 365.8h1.5v1.5h-1.5zM444.6 365.8h1.5v1.5h-1.5zM455.6 365.8h1.5v1.5h-1.5zM462.1 365.8h1.5v1.5h-1.5zM473.6 365.8h1.5v1.5h-1.5zM512.6 365.8h1.5v1.5h-1.5zM530.1 365.8h1.5v1.5h-1.5zM542.1 365.8h1.5v1.5h-1.5zM547.6 365.8h1.5v1.5h-1.5zM550.6 365.8h1.5v1.5h-1.5zM83.3 367.9h1.5v1.5h-1.5zM90.3 367.9h1.5v1.5h-1.5zM92.8 367.9h1.5v1.5h-1.5zM152.3 367.9h1.5v1.5h-1.5zM158.8 367.9h1.5v1.5h-1.5zM191.8 367.9h1.5v1.5h-1.5zM192.3 367.9h1.5v1.5h-1.5zM211.3 367.9h1.5v1.5h-1.5zM236.8 367.9h1.5v1.5h-1.5zM239.8 367.9h1.5v1.5h-1.5zM242.2 367.9h1.5v1.5h-1.5zM250.2 367.9h1.5v1.5h-1.5zM250.2 367.9h1.5v1.5h-1.5zM264.7 367.9h1.5v1.5h-1.5zM282.2 367.9h1.5v1.5h-1.5zM284.2 367.9h1.5v1.5h-1.5zM285.7 367.9h1.5v1.5h-1.5zM308.2 367.9h1.5v1.5h-1.5zM314.7 367.9h1.5v1.5h-1.5zM316.2 367.9h1.5v1.5h-1.5zM330.7 367.9h1.5v1.5h-1.5zM346.2 367.9h1.5v1.5h-1.5zM354.7 367.9h1.5v1.5h-1.5zM373.7 367.9h1.5v1.5h-1.5zM383.7 367.9h1.5v1.5h-1.5zM408.6 367.9h1.5v1.5h-1.5zM444.1 367.9h1.5v1.5h-1.5zM445.6 367.9h1.5v1.5h-1.5zM448.6 367.9h1.5v1.5h-1.5zM451.1 367.9h1.5v1.5h-1.5zM451.6 367.9h1.5v1.5h-1.5zM459.1 367.9h1.5v1.5h-1.5zM460.1 367.9h1.5v1.5h-1.5zM474.6 367.9h1.5v1.5h-1.5zM490.6 367.9h1.5v1.5h-1.5zM491.6 367.9h1.5v1.5h-1.5zM493.1 367.9h1.5v1.5h-1.5zM497.6 367.9h1.5v1.5h-1.5zM500.1 367.9h1.5v1.5h-1.5zM513.6 367.9h1.5v1.5h-1.5zM517.1 367.9h1.5v1.5h-1.5zM531.1 367.9h1.5v1.5h-1.5zM541.6 367.9h1.5v1.5h-1.5zM548.6 367.9h1.5v1.5h-1.5zM557.1 367.9h1.5v1.5h-1.5zM558.6 367.9h1.5v1.5h-1.5zM568.1 367.9h1.5v1.5h-1.5zM568.6 367.9h1.5v1.5h-1.5zM81.3 370.1h1.5v1.5h-1.5zM98.3 370.1h1.5v1.5h-1.5zM104.3 370.1h1.5v1.5h-1.5zM124.8 370.1h1.5v1.5h-1.5zM134.8 370.1h1.5v1.5h-1.5zM140.8 370.1h1.5v1.5h-1.5zM150.8 370.1h1.5v1.5h-1.5zM160.8 370.1h1.5v1.5h-1.5zM168.8 370.1h1.5v1.5h-1.5zM174.3 370.1h1.5v1.5h-1.5zM185.3 370.1h1.5v1.5h-1.5zM202.3 370.1h1.5v1.5h-1.5zM204.3 370.1h1.5v1.5h-1.5zM213.3 370.1h1.5v1.5h-1.5zM217.8 370.1h1.5v1.5h-1.5zM218.3 370.1h1.5v1.5h-1.5zM232.3 370.1h1.5v1.5h-1.5zM233.3 370.1h1.5v1.5h-1.5zM245.2 370.1h1.5v1.5h-1.5zM246.7 370.1h1.5v1.5h-1.5zM254.7 370.1h1.5v1.5h-1.5zM255.7 370.1h1.5v1.5h-1.5zM261.7 370.1h1.5v1.5h-1.5zM264.2 370.1h1.5v1.5h-1.5zM264.7 370.1h1.5v1.5h-1.5zM267.7 370.1h1.5v1.5h-1.5zM269.7 370.1h1.5v1.5h-1.5zM292.2 370.1h1.5v1.5h-1.5zM322.2 370.1h1.5v1.5h-1.5zM325.2 370.1h1.5v1.5h-1.5zM340.7 370.1h1.5v1.5h-1.5zM346.7 370.1h1.5v1.5h-1.5zM348.7 370.1h1.5v1.5h-1.5zM364.7 370.1h1.5v1.5h-1.5zM368.7 370.1h1.5v1.5h-1.5zM372.7 370.1h1.5v1.5h-1.5zM375.2 370.1h1.5v1.5h-1.5zM384.2 370.1h1.5v1.5h-1.5zM394.7 370.1h1.5v1.5h-1.5zM408.6 370.1h1.5v1.5h-1.5zM417.1 370.1h1.5v1.5h-1.5zM418.6 370.1h1.5v1.5h-1.5zM425.6 370.1h1.5v1.5h-1.5zM431.1 370.1h1.5v1.5h-1.5zM434.6 370.1h1.5v1.5h-1.5zM452.6 370.1h1.5v1.5h-1.5zM498.1 370.1h1.5v1.5h-1.5zM501.1 370.1h1.5v1.5h-1.5zM534.6 370.1h1.5v1.5h-1.5zM540.6 370.1h1.5v1.5h-1.5zM542.6 370.1h1.5v1.5h-1.5zM545.6 370.1h1.5v1.5h-1.5zM555.6 370.1h1.5v1.5h-1.5zM80.8 372.2h1.5v1.5h-1.5zM105.3 372.2h1.5v1.5h-1.5zM107.3 372.2h1.5v1.5h-1.5zM109.3 372.2h1.5v1.5h-1.5zM114.3 372.2h1.5v1.5h-1.5zM128.3 372.2h1.5v1.5h-1.5zM175.8 372.2h1.5v1.5h-1.5zM184.8 372.2h1.5v1.5h-1.5zM195.8 372.2h1.5v1.5h-1.5zM202.8 372.2h1.5v1.5h-1.5zM206.8 372.2h1.5v1.5h-1.5zM215.3 372.2h1.5v1.5h-1.5zM223.3 372.2h1.5v1.5h-1.5zM230.8 372.2h1.5v1.5h-1.5zM241.3 372.2h1.5v1.5h-1.5zM257.2 372.2h1.5v1.5h-1.5zM286.2 372.2h1.5v1.5h-1.5zM290.7 372.2h1.5v1.5h-1.5zM297.7 372.2h1.5v1.5h-1.5zM298.2 372.2h1.5v1.5h-1.5zM299.2 372.2h1.5v1.5h-1.5zM303.7 372.2h1.5v1.5h-1.5zM307.7 372.2h1.5v1.5h-1.5zM307.7 372.2h1.5v1.5h-1.5zM315.7 372.2h1.5v1.5h-1.5zM329.7 372.2h1.5v1.5h-1.5zM337.2 372.2h1.5v1.5h-1.5zM347.7 372.2h1.5v1.5h-1.5zM368.7 372.2h1.5v1.5h-1.5zM382.2 372.2h1.5v1.5h-1.5zM409.1 372.2h1.5v1.5h-1.5zM416.1 372.2h1.5v1.5h-1.5zM417.6 372.2h1.5v1.5h-1.5zM434.1 372.2h1.5v1.5h-1.5zM463.1 372.2h1.5v1.5h-1.5zM477.6 372.2h1.5v1.5h-1.5zM483.6 372.2h1.5v1.5h-1.5zM488.1 372.2h1.5v1.5h-1.5zM488.1 372.2h1.5v1.5h-1.5zM490.6 372.2h1.5v1.5h-1.5zM508.6 372.2h1.5v1.5h-1.5zM530.1 372.2h1.5v1.5h-1.5zM537.1 372.2h1.5v1.5h-1.5zM537.6 372.2h1.5v1.5h-1.5zM538.6 372.2h1.5v1.5h-1.5zM540.6 372.2h1.5v1.5h-1.5zM548.6 372.2h1.5v1.5h-1.5zM569.6 372.2h1.5v1.5h-1.5zM85.3 374.4h1.5v1.5h-1.5zM98.3 374.4h1.5v1.5h-1.5zM111.8 374.4h1.5v1.5h-1.5zM114.8 374.4h1.5v1.5h-1.5zM117.3 374.4h1.5v1.5h-1.5zM117.3 374.4h1.5v1.5h-1.5zM117.8 374.4h1.5v1.5h-1.5zM126.3 374.4h1.5v1.5h-1.5zM131.8 374.4h1.5v1.5h-1.5zM143.3 374.4h1.5v1.5h-1.5zM151.8 374.4h1.5v1.5h-1.5zM152.8 374.4h1.5v1.5h-1.5zM153.8 374.4h1.5v1.5h-1.5zM163.3 374.4h1.5v1.5h-1.5zM177.8 374.4h1.5v1.5h-1.5zM181.3 374.4h1.5v1.5h-1.5zM193.8 374.4h1.5v1.5h-1.5zM195.3 374.4h1.5v1.5h-1.5zM202.3 374.4h1.5v1.5h-1.5zM206.3 374.4h1.5v1.5h-1.5zM242.7 374.4h1.5v1.5h-1.5zM245.7 374.4h1.5v1.5h-1.5zM252.7 374.4h1.5v1.5h-1.5zM262.2 374.4h1.5v1.5h-1.5zM289.7 374.4h1.5v1.5h-1.5zM338.2 374.4h1.5v1.5h-1.5zM352.2 374.4h1.5v1.5h-1.5zM362.2 374.4h1.5v1.5h-1.5zM408.6 374.4h1.5v1.5h-1.5zM421.1 374.4h1.5v1.5h-1.5zM426.1 374.4h1.5v1.5h-1.5zM438.6 374.4h1.5v1.5h-1.5zM439.6 374.4h1.5v1.5h-1.5zM446.1 374.4h1.5v1.5h-1.5zM477.6 374.4h1.5v1.5h-1.5zM479.6 374.4h1.5v1.5h-1.5zM481.1 374.4h1.5v1.5h-1.5zM486.6 374.4h1.5v1.5h-1.5zM497.1 374.4h1.5v1.5h-1.5zM531.6 374.4h1.5v1.5h-1.5zM103.8 376.5h1.5v1.5h-1.5zM103.8 376.5h1.5v1.5h-1.5zM115.8 376.5h1.5v1.5h-1.5zM117.3 376.5h1.5v1.5h-1.5zM122.3 376.5h1.5v1.5h-1.5zM127.8 376.5h1.5v1.5h-1.5zM135.3 376.5h1.5v1.5h-1.5zM137.8 376.5h1.5v1.5h-1.5zM148.8 376.5h1.5v1.5h-1.5zM165.3 376.5h1.5v1.5h-1.5zM170.3 376.5h1.5v1.5h-1.5zM170.8 376.5h1.5v1.5h-1.5zM195.8 376.5h1.5v1.5h-1.5zM201.3 376.5h1.5v1.5h-1.5zM208.3 376.5h1.5v1.5h-1.5zM215.3 376.5h1.5v1.5h-1.5zM222.3 376.5h1.5v1.5h-1.5zM237.3 376.5h1.5v1.5h-1.5zM239.8 376.5h1.5v1.5h-1.5zM244.7 376.5h1.5v1.5h-1.5zM249.2 376.5h1.5v1.5h-1.5zM260.7 376.5h1.5v1.5h-1.5zM261.2 376.5h1.5v1.5h-1.5zM262.2 376.5h1.5v1.5h-1.5zM265.7 376.5h1.5v1.5h-1.5zM271.7 376.5h1.5v1.5h-1.5zM278.7 376.5h1.5v1.5h-1.5zM293.2 376.5h1.5v1.5h-1.5zM320.7 376.5h1.5v1.5h-1.5zM351.2 376.5h1.5v1.5h-1.5zM351.7 376.5h1.5v1.5h-1.5zM388.7 376.5h1.5v1.5h-1.5zM391.2 376.5h1.5v1.5h-1.5zM405.7 376.5h1.5v1.5h-1.5zM408.6 376.5h1.5v1.5h-1.5zM417.6 376.5h1.5v1.5h-1.5zM426.6 376.5h1.5v1.5h-1.5zM437.6 376.5h1.5v1.5h-1.5zM454.1 376.5h1.5v1.5h-1.5zM464.1 376.5h1.5v1.5h-1.5zM469.1 376.5h1.5v1.5h-1.5zM478.1 376.5h1.5v1.5h-1.5zM485.1 376.5h1.5v1.5h-1.5zM500.1 376.5h1.5v1.5h-1.5zM502.1 376.5h1.5v1.5h-1.5zM544.6 376.5h1.5v1.5h-1.5zM559.6 376.5h1.5v1.5h-1.5zM564.1 376.5h1.5v1.5h-1.5zM564.6 376.5h1.5v1.5h-1.5zM80.3 378.7h1.5v1.5h-1.5zM113.3 378.7h1.5v1.5h-1.5zM127.3 378.7h1.5v1.5h-1.5zM130.3 378.7h1.5v1.5h-1.5zM132.8 378.7h1.5v1.5h-1.5zM137.8 378.7h1.5v1.5h-1.5zM159.8 378.7h1.5v1.5h-1.5zM175.8 378.7h1.5v1.5h-1.5zM187.8 378.7h1.5v1.5h-1.5zM196.8 378.7h1.5v1.5h-1.5zM199.8 378.7h1.5v1.5h-1.5zM200.8 378.7h1.5v1.5h-1.5zM202.8 378.7h1.5v1.5h-1.5zM211.3 378.7h1.5v1.5h-1.5zM215.3 378.7h1.5v1.5h-1.5zM227.8 378.7h1.5v1.5h-1.5zM244.2 378.7h1.5v1.5h-1.5zM249.7 378.7h1.5v1.5h-1.5zM277.2 378.7h1.5v1.5h-1.5zM315.7 378.7h1.5v1.5h-1.5zM320.2 378.7h1.5v1.5h-1.5zM321.2 378.7h1.5v1.5h-1.5zM328.7 378.7h1.5v1.5h-1.5zM337.7 378.7h1.5v1.5h-1.5zM342.2 378.7h1.5v1.5h-1.5zM369.2 378.7h1.5v1.5h-1.5zM379.2 378.7h1.5v1.5h-1.5zM387.7 378.7h1.5v1.5h-1.5zM397.2 378.7h1.5v1.5h-1.5zM412.1 378.7h1.5v1.5h-1.5zM419.6 378.7h1.5v1.5h-1.5zM424.6 378.7h1.5v1.5h-1.5zM428.6 378.7h1.5v1.5h-1.5zM454.6 378.7h1.5v1.5h-1.5zM493.6 378.7h1.5v1.5h-1.5zM508.1 378.7h1.5v1.5h-1.5zM508.6 378.7h1.5v1.5h-1.5zM519.1 378.7h1.5v1.5h-1.5zM520.6 378.7h1.5v1.5h-1.5zM535.1 378.7h1.5v1.5h-1.5zM566.1 378.7h1.5v1.5h-1.5zM571.6 378.7h1.5v1.5h-1.5zM89.3 380.8h1.5v1.5h-1.5zM97.3 380.8h1.5v1.5h-1.5zM99.3 380.8h1.5v1.5h-1.5zM104.8 380.8h1.5v1.5h-1.5zM116.8 380.8h1.5v1.5h-1.5zM133.3 380.8h1.5v1.5h-1.5zM136.3 380.8h1.5v1.5h-1.5zM144.3 380.8h1.5v1.5h-1.5zM152.3 380.8h1.5v1.5h-1.5zM173.3 380.8h1.5v1.5h-1.5zM199.8 380.8h1.5v1.5h-1.5zM206.8 380.8h1.5v1.5h-1.5zM207.3 380.8h1.5v1.5h-1.5zM214.3 380.8h1.5v1.5h-1.5zM218.8 380.8h1.5v1.5h-1.5zM236.8 380.8h1.5v1.5h-1.5zM263.7 380.8h1.5v1.5h-1.5zM292.7 380.8h1.5v1.5h-1.5zM293.7 380.8h1.5v1.5h-1.5zM312.7 380.8h1.5v1.5h-1.5zM314.2 380.8h1.5v1.5h-1.5zM321.2 380.8h1.5v1.5h-1.5zM322.7 380.8h1.5v1.5h-1.5zM327.2 380.8h1.5v1.5h-1.5zM348.7 380.8h1.5v1.5h-1.5zM373.7 380.8h1.5v1.5h-1.5zM380.2 380.8h1.5v1.5h-1.5zM383.7 380.8h1.5v1.5h-1.5zM392.7 380.8h1.5v1.5h-1.5zM410.6 380.8h1.5v1.5h-1.5zM423.6 380.8h1.5v1.5h-1.5zM430.1 380.8h1.5v1.5h-1.5zM467.1 380.8h1.5v1.5h-1.5zM491.1 380.8h1.5v1.5h-1.5zM502.1 380.8h1.5v1.5h-1.5zM503.6 380.8h1.5v1.5h-1.5zM510.6 380.8h1.5v1.5h-1.5zM518.6 380.8h1.5v1.5h-1.5zM521.6 380.8h1.5v1.5h-1.5zM560.1 380.8h1.5v1.5h-1.5zM561.1 380.8h1.5v1.5h-1.5zM91.8 382.9h1.5v1.5h-1.5zM97.3 382.9h1.5v1.5h-1.5zM97.3 382.9h1.5v1.5h-1.5zM127.3 382.9h1.5v1.5h-1.5zM128.3 382.9h1.5v1.5h-1.5zM128.8 382.9h1.5v1.5h-1.5zM133.3 382.9h1.5v1.5h-1.5zM176.3 382.9h1.5v1.5h-1.5zM183.8 382.9h1.5v1.5h-1.5zM186.8 382.9h1.5v1.5h-1.5zM200.3 382.9h1.5v1.5h-1.5zM242.7 382.9h1.5v1.5h-1.5zM254.2 382.9h1.5v1.5h-1.5zM263.2 382.9h1.5v1.5h-1.5zM263.7 382.9h1.5v1.5h-1.5zM268.7 382.9h1.5v1.5h-1.5zM279.7 382.9h1.5v1.5h-1.5zM301.2 382.9h1.5v1.5h-1.5zM305.7 382.9h1.5v1.5h-1.5zM307.7 382.9h1.5v1.5h-1.5zM308.7 382.9h1.5v1.5h-1.5zM311.7 382.9h1.5v1.5h-1.5zM311.7 382.9h1.5v1.5h-1.5zM328.2 382.9h1.5v1.5h-1.5zM331.2 382.9h1.5v1.5h-1.5zM364.7 382.9h1.5v1.5h-1.5zM378.7 382.9h1.5v1.5h-1.5zM380.2 382.9h1.5v1.5h-1.5zM399.7 382.9h1.5v1.5h-1.5zM414.1 382.9h1.5v1.5h-1.5zM426.1 382.9h1.5v1.5h-1.5zM432.1 382.9h1.5v1.5h-1.5zM472.1 382.9h1.5v1.5h-1.5zM508.1 382.9h1.5v1.5h-1.5zM513.6 382.9h1.5v1.5h-1.5zM515.6 382.9h1.5v1.5h-1.5zM525.1 382.9h1.5v1.5h-1.5zM529.6 382.9h1.5v1.5h-1.5zM532.6 382.9h1.5v1.5h-1.5zM566.6 382.9h1.5v1.5h-1.5zM92.8 385.1h1.5v1.5h-1.5zM93.3 385.1h1.5v1.5h-1.5zM100.8 385.1h1.5v1.5h-1.5zM130.8 385.1h1.5v1.5h-1.5zM144.8 385.1h1.5v1.5h-1.5zM153.8 385.1h1.5v1.5h-1.5zM161.3 385.1h1.5v1.5h-1.5zM199.3 385.1h1.5v1.5h-1.5zM238.8 385.1h1.5v1.5h-1.5zM253.2 385.1h1.5v1.5h-1.5zM272.2 385.1h1.5v1.5h-1.5zM275.7 385.1h1.5v1.5h-1.5zM284.7 385.1h1.5v1.5h-1.5zM295.7 385.1h1.5v1.5h-1.5zM301.2 385.1h1.5v1.5h-1.5zM310.7 385.1h1.5v1.5h-1.5zM310.7 385.1h1.5v1.5h-1.5zM312.2 385.1h1.5v1.5h-1.5zM314.7 385.1h1.5v1.5h-1.5zM348.7 385.1h1.5v1.5h-1.5zM352.7 385.1h1.5v1.5h-1.5zM378.7 385.1h1.5v1.5h-1.5zM388.2 385.1h1.5v1.5h-1.5zM410.6 385.1h1.5v1.5h-1.5zM412.1 385.1h1.5v1.5h-1.5zM416.6 385.1h1.5v1.5h-1.5zM423.1 385.1h1.5v1.5h-1.5zM432.6 385.1h1.5v1.5h-1.5zM433.6 385.1h1.5v1.5h-1.5zM433.6 385.1h1.5v1.5h-1.5zM461.6 385.1h1.5v1.5h-1.5zM471.6 385.1h1.5v1.5h-1.5zM489.6 385.1h1.5v1.5h-1.5zM501.6 385.1h1.5v1.5h-1.5zM522.6 385.1h1.5v1.5h-1.5zM531.1 385.1h1.5v1.5h-1.5zM541.6 385.1h1.5v1.5h-1.5zM551.6 385.1h1.5v1.5h-1.5zM569.1 385.1h1.5v1.5h-1.5zM101.3 387.2h1.5v1.5h-1.5zM101.8 387.2h1.5v1.5h-1.5zM111.3 387.2h1.5v1.5h-1.5zM155.8 387.2h1.5v1.5h-1.5zM156.8 387.2h1.5v1.5h-1.5zM173.8 387.2h1.5v1.5h-1.5zM181.3 387.2h1.5v1.5h-1.5zM204.3 387.2h1.5v1.5h-1.5zM206.8 387.2h1.5v1.5h-1.5zM215.8 387.2h1.5v1.5h-1.5zM290.7 387.2h1.5v1.5h-1.5zM293.2 387.2h1.5v1.5h-1.5zM302.7 387.2h1.5v1.5h-1.5zM321.2 387.2h1.5v1.5h-1.5zM342.7 387.2h1.5v1.5h-1.5zM349.7 387.2h1.5v1.5h-1.5zM352.2 387.2h1.5v1.5h-1.5zM360.2 387.2h1.5v1.5h-1.5zM360.7 387.2h1.5v1.5h-1.5zM365.7 387.2h1.5v1.5h-1.5zM387.2 387.2h1.5v1.5h-1.5zM393.2 387.2h1.5v1.5h-1.5zM397.7 387.2h1.5v1.5h-1.5zM401.2 387.2h1.5v1.5h-1.5zM411.6 387.2h1.5v1.5h-1.5zM416.1 387.2h1.5v1.5h-1.5zM421.6 387.2h1.5v1.5h-1.5zM421.6 387.2h1.5v1.5h-1.5zM425.1 387.2h1.5v1.5h-1.5zM426.6 387.2h1.5v1.5h-1.5zM437.1 387.2h1.5v1.5h-1.5zM450.6 387.2h1.5v1.5h-1.5zM462.1 387.2h1.5v1.5h-1.5zM470.1 387.2h1.5v1.5h-1.5zM499.1 387.2h1.5v1.5h-1.5zM501.6 387.2h1.5v1.5h-1.5zM508.1 387.2h1.5v1.5h-1.5zM508.6 387.2h1.5v1.5h-1.5zM535.6 387.2h1.5v1.5h-1.5zM538.6 387.2h1.5v1.5h-1.5zM541.6 387.2h1.5v1.5h-1.5zM551.6 387.2h1.5v1.5h-1.5zM566.6 387.2h1.5v1.5h-1.5zM79.3 389.4h1.5v1.5h-1.5zM86.8 389.4h1.5v1.5h-1.5zM89.8 389.4h1.5v1.5h-1.5zM99.3 389.4h1.5v1.5h-1.5zM114.3 389.4h1.5v1.5h-1.5zM119.3 389.4h1.5v1.5h-1.5zM122.8 389.4h1.5v1.5h-1.5zM137.3 389.4h1.5v1.5h-1.5zM185.3 389.4h1.5v1.5h-1.5zM191.8 389.4h1.5v1.5h-1.5zM196.8 389.4h1.5v1.5h-1.5zM202.3 389.4h1.5v1.5h-1.5zM208.8 389.4h1.5v1.5h-1.5zM218.8 389.4h1.5v1.5h-1.5zM233.3 389.4h1.5v1.5h-1.5zM240.8 389.4h1.5v1.5h-1.5zM247.7 389.4h1.5v1.5h-1.5zM249.7 389.4h1.5v1.5h-1.5zM284.7 389.4h1.5v1.5h-1.5zM323.2 389.4h1.5v1.5h-1.5zM327.2 389.4h1.5v1.5h-1.5zM328.2 389.4h1.5v1.5h-1.5zM332.2 389.4h1.5v1.5h-1.5zM339.2 389.4h1.5v1.5h-1.5zM348.2 389.4h1.5v1.5h-1.5zM352.7 389.4h1.5v1.5h-1.5zM354.7 389.4h1.5v1.5h-1.5zM398.7 389.4h1.5v1.5h-1.5zM399.7 389.4h1.5v1.5h-1.5zM399.7 389.4h1.5v1.5h-1.5zM409.1 389.4h1.5v1.5h-1.5zM426.6 389.4h1.5v1.5h-1.5zM434.1 389.4h1.5v1.5h-1.5zM443.6 389.4h1.5v1.5h-1.5zM444.6 389.4h1.5v1.5h-1.5zM493.1 389.4h1.5v1.5h-1.5zM495.1 389.4h1.5v1.5h-1.5zM496.1 389.4h1.5v1.5h-1.5zM498.6 389.4h1.5v1.5h-1.5zM502.1 389.4h1.5v1.5h-1.5zM514.6 389.4h1.5v1.5h-1.5zM529.6 389.4h1.5v1.5h-1.5zM531.1 389.4h1.5v1.5h-1.5zM539.6 389.4h1.5v1.5h-1.5zM540.1 389.4h1.5v1.5h-1.5zM550.6 389.4h1.5v1.5h-1.5zM108.3 391.5h1.5v1.5h-1.5zM118.8 391.5h1.5v1.5h-1.5zM125.8 391.5h1.5v1.5h-1.5zM132.3 391.5h1.5v1.5h-1.5zM132.3 391.5h1.5v1.5h-1.5zM153.3 391.5h1.5v1.5h-1.5zM195.3 391.5h1.5v1.5h-1.5zM204.8 391.5h1.5v1.5h-1.5zM209.3 391.5h1.5v1.5h-1.5zM243.2 391.5h1.5v1.5h-1.5zM247.2 391.5h1.5v1.5h-1.5zM248.2 391.5h1.5v1.5h-1.5zM250.2 391.5h1.5v1.5h-1.5zM256.7 391.5h1.5v1.5h-1.5zM262.2 391.5h1.5v1.5h-1.5zM272.2 391.5h1.5v1.5h-1.5zM285.7 391.5h1.5v1.5h-1.5zM287.7 391.5h1.5v1.5h-1.5zM319.2 391.5h1.5v1.5h-1.5zM328.7 391.5h1.5v1.5h-1.5zM331.7 391.5h1.5v1.5h-1.5zM333.2 391.5h1.5v1.5h-1.5zM338.2 391.5h1.5v1.5h-1.5zM357.2 391.5h1.5v1.5h-1.5zM361.7 391.5h1.5v1.5h-1.5zM379.2 391.5h1.5v1.5h-1.5zM425.1 391.5h1.5v1.5h-1.5zM436.6 391.5h1.5v1.5h-1.5zM460.1 391.5h1.5v1.5h-1.5zM463.6 391.5h1.5v1.5h-1.5zM473.6 391.5h1.5v1.5h-1.5zM492.1 391.5h1.5v1.5h-1.5zM497.1 391.5h1.5v1.5h-1.5zM514.1 391.5h1.5v1.5h-1.5zM527.6 391.5h1.5v1.5h-1.5zM540.6 391.5h1.5v1.5h-1.5zM561.6 391.5h1.5v1.5h-1.5zM85.8 393.7h1.5v1.5h-1.5zM105.8 393.7h1.5v1.5h-1.5zM110.8 393.7h1.5v1.5h-1.5zM117.3 393.7h1.5v1.5h-1.5zM119.8 393.7h1.5v1.5h-1.5zM133.3 393.7h1.5v1.5h-1.5zM142.8 393.7h1.5v1.5h-1.5zM142.8 393.7h1.5v1.5h-1.5zM145.8 393.7h1.5v1.5h-1.5zM199.8 393.7h1.5v1.5h-1.5zM236.8 393.7h1.5v1.5h-1.5zM284.7 393.7h1.5v1.5h-1.5zM307.7 393.7h1.5v1.5h-1.5zM320.7 393.7h1.5v1.5h-1.5zM322.2 393.7h1.5v1.5h-1.5zM322.7 393.7h1.5v1.5h-1.5zM332.7 393.7h1.5v1.5h-1.5zM355.2 393.7h1.5v1.5h-1.5zM356.7 393.7h1.5v1.5h-1.5zM364.2 393.7h1.5v1.5h-1.5zM410.6 393.7h1.5v1.5h-1.5zM419.1 393.7h1.5v1.5h-1.5zM422.6 393.7h1.5v1.5h-1.5zM425.6 393.7h1.5v1.5h-1.5zM442.6 393.7h1.5v1.5h-1.5zM464.1 393.7h1.5v1.5h-1.5zM476.1 393.7h1.5v1.5h-1.5zM495.6 393.7h1.5v1.5h-1.5zM521.1 393.7h1.5v1.5h-1.5zM524.1 393.7h1.5v1.5h-1.5zM524.1 393.7h1.5v1.5h-1.5zM525.1 393.7h1.5v1.5h-1.5zM555.1 393.7h1.5v1.5h-1.5zM85.8 395.8h1.5v1.5h-1.5zM90.8 395.8h1.5v1.5h-1.5zM104.3 395.8h1.5v1.5h-1.5zM108.3 395.8h1.5v1.5h-1.5zM109.8 395.8h1.5v1.5h-1.5zM112.8 395.8h1.5v1.5h-1.5zM117.8 395.8h1.5v1.5h-1.5zM121.8 395.8h1.5v1.5h-1.5zM121.8 395.8h1.5v1.5h-1.5zM130.8 395.8h1.5v1.5h-1.5zM143.8 395.8h1.5v1.5h-1.5zM155.3 395.8h1.5v1.5h-1.5zM166.8 395.8h1.5v1.5h-1.5zM173.3 395.8h1.5v1.5h-1.5zM175.3 395.8h1.5v1.5h-1.5zM175.8 395.8h1.5v1.5h-1.5zM187.3 395.8h1.5v1.5h-1.5zM204.8 395.8h1.5v1.5h-1.5zM224.3 395.8h1.5v1.5h-1.5zM226.8 395.8h1.5v1.5h-1.5zM227.8 395.8h1.5v1.5h-1.5zM239.8 395.8h1.5v1.5h-1.5zM265.7 395.8h1.5v1.5h-1.5zM277.7 395.8h1.5v1.5h-1.5zM282.7 395.8h1.5v1.5h-1.5zM297.7 395.8h1.5v1.5h-1.5zM318.2 395.8h1.5v1.5h-1.5zM319.2 395.8h1.5v1.5h-1.5zM326.7 395.8h1.5v1.5h-1.5zM329.7 395.8h1.5v1.5h-1.5zM330.2 395.8h1.5v1.5h-1.5zM335.7 395.8h1.5v1.5h-1.5zM338.7 395.8h1.5v1.5h-1.5zM348.7 395.8h1.5v1.5h-1.5zM362.2 395.8h1.5v1.5h-1.5zM367.2 395.8h1.5v1.5h-1.5zM368.2 395.8h1.5v1.5h-1.5zM377.7 395.8h1.5v1.5h-1.5zM382.7 395.8h1.5v1.5h-1.5zM384.7 395.8h1.5v1.5h-1.5zM405.2 395.8h1.5v1.5h-1.5zM410.6 395.8h1.5v1.5h-1.5zM413.1 395.8h1.5v1.5h-1.5zM419.1 395.8h1.5v1.5h-1.5zM422.1 395.8h1.5v1.5h-1.5zM431.1 395.8h1.5v1.5h-1.5zM432.6 395.8h1.5v1.5h-1.5zM457.6 395.8h1.5v1.5h-1.5zM465.1 395.8h1.5v1.5h-1.5zM494.1 395.8h1.5v1.5h-1.5zM495.1 395.8h1.5v1.5h-1.5zM529.6 395.8h1.5v1.5h-1.5zM532.1 395.8h1.5v1.5h-1.5zM533.1 395.8h1.5v1.5h-1.5zM543.6 395.8h1.5v1.5h-1.5zM561.6 395.8h1.5v1.5h-1.5zM84.3 398.0h1.5v1.5h-1.5zM113.8 398.0h1.5v1.5h-1.5zM121.3 398.0h1.5v1.5h-1.5zM122.3 398.0h1.5v1.5h-1.5zM122.8 398.0h1.5v1.5h-1.5zM130.3 398.0h1.5v1.5h-1.5zM135.3 398.0h1.5v1.5h-1.5zM149.3 398.0h1.5v1.5h-1.5zM157.8 398.0h1.5v1.5h-1.5zM160.3 398.0h1.5v1.5h-1.5zM166.3 398.0h1.5v1.5h-1.5zM178.3 398.0h1.5v1.5h-1.5zM198.8 398.0h1.5v1.5h-1.5zM200.3 398.0h1.5v1.5h-1.5zM225.8 398.0h1.5v1.5h-1.5zM237.8 398.0h1.5v1.5h-1.5zM262.7 398.0h1.5v1.5h-1.5zM263.7 398.0h1.5v1.5h-1.5zM267.2 398.0h1.5v1.5h-1.5zM278.2 398.0h1.5v1.5h-1.5zM282.2 398.0h1.5v1.5h-1.5zM299.2 398.0h1.5v1.5h-1.5zM303.2 398.0h1.5v1.5h-1.5zM308.7 398.0h1.5v1.5h-1.5zM316.2 398.0h1.5v1.5h-1.5zM321.7 398.0h1.5v1.5h-1.5zM349.2 398.0h1.5v1.5h-1.5zM356.7 398.0h1.5v1.5h-1.5zM383.7 398.0h1.5v1.5h-1.5zM399.2 398.0h1.5v1.5h-1.5zM403.2 398.0h1.5v1.5h-1.5zM408.6 398.0h1.5v1.5h-1.5zM421.1 398.0h1.5v1.5h-1.5zM433.1 398.0h1.5v1.5h-1.5zM433.6 398.0h1.5v1.5h-1.5zM435.6 398.0h1.5v1.5h-1.5zM438.6 398.0h1.5v1.5h-1.5zM445.1 398.0h1.5v1.5h-1.5zM451.6 398.0h1.5v1.5h-1.5zM465.6 398.0h1.5v1.5h-1.5zM467.1 398.0h1.5v1.5h-1.5zM477.1 398.0h1.5v1.5h-1.5zM478.1 398.0h1.5v1.5h-1.5zM556.6 398.0h1.5v1.5h-1.5zM563.1 398.0h1.5v1.5h-1.5zM569.6 398.0h1.5v1.5h-1.5zM95.8 400.1h1.5v1.5h-1.5zM104.8 400.1h1.5v1.5h-1.5zM107.3 400.1h1.5v1.5h-1.5zM107.3 400.1h1.5v1.5h-1.5zM128.3 400.1h1.5v1.5h-1.5zM159.8 400.1h1.5v1.5h-1.5zM172.3 400.1h1.5v1.5h-1.5zM182.3 400.1h1.5v1.5h-1.5zM215.8 400.1h1.5v1.5h-1.5zM232.3 400.1h1.5v1.5h-1.5zM238.3 400.1h1.5v1.5h-1.5zM347.2 400.1h1.5v1.5h-1.5zM374.2 400.1h1.5v1.5h-1.5zM374.7 400.1h1.5v1.5h-1.5zM374.7 400.1h1.5v1.5h-1.5zM375.7 400.1h1.5v1.5h-1.5zM384.7 400.1h1.5v1.5h-1.5zM408.6 400.1h1.5v1.5h-1.5zM420.1 400.1h1.5v1.5h-1.5zM442.6 400.1h1.5v1.5h-1.5zM447.6 400.1h1.5v1.5h-1.5zM454.1 400.1h1.5v1.5h-1.5zM477.1 400.1h1.5v1.5h-1.5zM496.6 400.1h1.5v1.5h-1.5zM498.6 400.1h1.5v1.5h-1.5zM532.1 400.1h1.5v1.5h-1.5zM549.1 400.1h1.5v1.5h-1.5zM552.6 400.1h1.5v1.5h-1.5zM563.6 400.1h1.5v1.5h-1.5zM80.3 402.3h1.5v1.5h-1.5zM108.3 402.3h1.5v1.5h-1.5zM123.8 402.3h1.5v1.5h-1.5zM124.3 402.3h1.5v1.5h-1.5zM128.8 402.3h1.5v1.5h-1.5zM139.3 402.3h1.5v1.5h-1.5zM162.3 402.3h1.5v1.5h-1.5zM164.8 402.3h1.5v1.5h-1.5zM172.3 402.3h1.5v1.5h-1.5zM192.8 402.3h1.5v1.5h-1.5zM193.8 402.3h1.5v1.5h-1.5zM254.2 402.3h1.5v1.5h-1.5zM255.2 402.3h1.5v1.5h-1.5zM284.2 402.3h1.5v1.5h-1.5zM317.7 402.3h1.5v1.5h-1.5zM334.2 402.3h1.5v1.5h-1.5zM337.7 402.3h1.5v1.5h-1.5zM338.2 402.3h1.5v1.5h-1.5zM340.2 402.3h1.5v1.5h-1.5zM361.2 402.3h1.5v1.5h-1.5zM384.2 402.3h1.5v1.5h-1.5zM388.7 402.3h1.5v1.5h-1.5zM450.1 402.3h1.5v1.5h-1.5zM450.6 402.3h1.5v1.5h-1.5zM459.6 402.3h1.5v1.5h-1.5zM467.1 402.3h1.5v1.5h-1.5zM484.6 402.3h1.5v1.5h-1.5zM486.1 402.3h1.5v1.5h-1.5zM487.1 402.3h1.5v1.5h-1.5zM488.6 402.3h1.5v1.5h-1.5zM493.6 402.3h1.5v1.5h-1.5zM507.1 402.3h1.5v1.5h-1.5zM509.1 402.3h1.5v1.5h-1.5zM527.6 402.3h1.5v1.5h-1.5zM541.6 402.3h1.5v1.5h-1.5zM90.3 404.4h1.5v1.5h-1.5zM92.3 404.4h1.5v1.5h-1.5zM94.8 404.4h1.5v1.5h-1.5zM99.8 404.4h1.5v1.5h-1.5zM117.3 404.4h1.5v1.5h-1.5zM118.8 404.4h1.5v1.5h-1.5zM122.8 404.4h1.5v1.5h-1.5zM122.8 404.4h1.5v1.5h-1.5zM176.3 404.4h1.5v1.5h-1.5zM177.8 404.4h1.5v1.5h-1.5zM267.7 404.4h1.5v1.5h-1.5zM312.7 404.4h1.5v1.5h-1.5zM328.2 404.4h1.5v1.5h-1.5zM346.2 404.4h1.5v1.5h-1.5zM347.2 404.4h1.5v1.5h-1.5zM364.7 404.4h1.5v1.5h-1.5zM364.7 404.4h1.5v1.5h-1.5zM368.2 404.4h1.5v1.5h-1.5zM395.7 404.4h1.5v1.5h-1.5zM408.6 404.4h1.5v1.5h-1.5zM412.1 404.4h1.5v1.5h-1.5zM430.6 404.4h1.5v1.5h-1.5zM443.1 404.4h1.5v1.5h-1.5zM450.1 404.4h1.5v1.5h-1.5zM463.1 404.4h1.5v1.5h-1.5zM481.1 404.4h1.5v1.5h-1.5zM482.6 404.4h1.5v1.5h-1.5zM511.6 404.4h1.5v1.5h-1.5zM542.6 404.4h1.5v1.5h-1.5zM549.1 404.4h1.5v1.5h-1.5zM557.1 404.4h1.5v1.5h-1.5zM560.6 404.4h1.5v1.5h-1.5zM565.1 404.4h1.5v1.5h-1.5zM570.1 404.4h1.5v1.5h-1.5zM107.8 406.6h1.5v1.5h-1.5zM107.8 406.6h1.5v1.5h-1.5zM152.3 406.6h1.5v1.5h-1.5zM165.8 406.6h1.5v1.5h-1.5zM185.3 406.6h1.5v1.5h-1.5zM194.3 406.6h1.5v1.5h-1.5zM199.3 406.6h1.5v1.5h-1.5zM219.3 406.6h1.5v1.5h-1.5zM224.3 406.6h1.5v1.5h-1.5zM230.8 406.6h1.5v1.5h-1.5zM234.8 406.6h1.5v1.5h-1.5zM247.7 406.6h1.5v1.5h-1.5zM272.7 406.6h1.5v1.5h-1.5zM292.7 406.6h1.5v1.5h-1.5zM305.2 406.6h1.5v1.5h-1.5zM307.2 406.6h1.5v1.5h-1.5zM325.2 406.6h1.5v1.5h-1.5zM337.2 406.6h1.5v1.5h-1.5zM358.2 406.6h1.5v1.5h-1.5zM374.7 406.6h1.5v1.5h-1.5zM381.7 406.6h1.5v1.5h-1.5zM409.6 406.6h1.5v1.5h-1.5zM446.1 406.6h1.5v1.5h-1.5zM448.6 406.6h1.5v1.5h-1.5zM456.1 406.6h1.5v1.5h-1.5zM469.1 406.6h1.5v1.5h-1.5zM475.1 406.6h1.5v1.5h-1.5zM508.1 406.6h1.5v1.5h-1.5zM542.1 406.6h1.5v1.5h-1.5zM561.6 406.6h1.5v1.5h-1.5zM564.6 406.6h1.5v1.5h-1.5zM97.8 408.7h1.5v1.5h-1.5zM102.8 408.7h1.5v1.5h-1.5zM110.8 408.7h1.5v1.5h-1.5zM117.8 408.7h1.5v1.5h-1.5zM152.3 408.7h1.5v1.5h-1.5zM156.3 408.7h1.5v1.5h-1.5zM162.8 408.7h1.5v1.5h-1.5zM167.8 408.7h1.5v1.5h-1.5zM167.8 408.7h1.5v1.5h-1.5zM184.8 408.7h1.5v1.5h-1.5zM192.3 408.7h1.5v1.5h-1.5zM213.3 408.7h1.5v1.5h-1.5zM219.8 408.7h1.5v1.5h-1.5zM220.8 408.7h1.5v1.5h-1.5zM238.8 408.7h1.5v1.5h-1.5zM269.7 408.7h1.5v1.5h-1.5zM293.2 408.7h1.5v1.5h-1.5zM293.7 408.7h1.5v1.5h-1.5zM315.7 408.7h1.5v1.5h-1.5zM376.7 408.7h1.5v1.5h-1.5zM397.7 408.7h1.5v1.5h-1.5zM401.7 408.7h1.5v1.5h-1.5zM464.1 408.7h1.5v1.5h-1.5zM486.6 408.7h1.5v1.5h-1.5zM530.6 408.7h1.5v1.5h-1.5zM548.1 408.7h1.5v1.5h-1.5zM555.6 408.7h1.5v1.5h-1.5zM83.3 410.9h1.5v1.5h-1.5zM87.8 410.9h1.5v1.5h-1.5zM101.8 410.9h1.5v1.5h-1.5zM119.3 410.9h1.5v1.5h-1.5zM161.3 410.9h1.5v1.5h-1.5zM169.8 410.9h1.5v1.5h-1.5zM214.3 410.9h1.5v1.5h-1.5zM239.8 410.9h1.5v1.5h-1.5zM265.7 410.9h1.5v1.5h-1.5zM267.2 410.9h1.5v1.5h-1.5zM271.7 410.9h1.5v1.5h-1.5zM273.7 410.9h1.5v1.5h-1.5zM276.2 410.9h1.5v1.5h-1.5zM277.2 410.9h1.5v1.5h-1.5zM294.2 410.9h1.5v1.5h-1.5zM313.7 410.9h1.5v1.5h-1.5zM348.2 410.9h1.5v1.5h-1.5zM373.7 410.9h1.5v1.5h-1.5zM394.2 410.9h1.5v1.5h-1.5zM406.7 410.9h1.5v1.5h-1.5zM423.1 410.9h1.5v1.5h-1.5zM436.6 410.9h1.5v1.5h-1.5zM437.6 410.9h1.5v1.5h-1.5zM438.6 410.9h1.5v1.5h-1.5zM438.6 410.9h1.5v1.5h-1.5zM455.6 410.9h1.5v1.5h-1.5zM493.1 410.9h1.5v1.5h-1.5zM501.1 410.9h1.5v1.5h-1.5zM529.1 410.9h1.5v1.5h-1.5zM548.1 410.9h1.5v1.5h-1.5zM557.6 410.9h1.5v1.5h-1.5zM87.8 413.0h1.5v1.5h-1.5zM89.3 413.0h1.5v1.5h-1.5zM93.8 413.0h1.5v1.5h-1.5zM95.3 413.0h1.5v1.5h-1.5zM109.8 413.0h1.5v1.5h-1.5zM122.3 413.0h1.5v1.5h-1.5zM136.3 413.0h1.5v1.5h-1.5zM139.8 413.0h1.5v1.5h-1.5zM156.8 413.0h1.5v1.5h-1.5zM159.3 413.0h1.5v1.5h-1.5zM162.3 413.0h1.5v1.5h-1.5zM167.3 413.0h1.5v1.5h-1.5zM193.8 413.0h1.5v1.5h-1.5zM203.8 413.0h1.5v1.5h-1.5zM207.3 413.0h1.5v1.5h-1.5zM217.8 413.0h1.5v1.5h-1.5zM280.2 413.0h1.5v1.5h-1.5zM306.7 413.0h1.5v1.5h-1.5zM342.7 413.0h1.5v1.5h-1.5zM348.2 413.0h1.5v1.5h-1.5zM355.2 413.0h1.5v1.5h-1.5zM376.2 413.0h1.5v1.5h-1.5zM381.7 413.0h1.5v1.5h-1.5zM396.7 413.0h1.5v1.5h-1.5zM406.2 413.0h1.5v1.5h-1.5zM436.1 413.0h1.5v1.5h-1.5zM476.1 413.0h1.5v1.5h-1.5zM494.6 413.0h1.5v1.5h-1.5zM498.6 413.0h1.5v1.5h-1.5zM533.1 413.0h1.5v1.5h-1.5zM537.6 413.0h1.5v1.5h-1.5zM540.1 413.0h1.5v1.5h-1.5zM550.1 413.0h1.5v1.5h-1.5zM571.1 413.0h1.5v1.5h-1.5zM97.3 415.2h1.5v1.5h-1.5zM101.8 415.2h1.5v1.5h-1.5zM116.3 415.2h1.5v1.5h-1.5zM126.3 415.2h1.5v1.5h-1.5zM136.8 415.2h1.5v1.5h-1.5zM143.3 415.2h1.5v1.5h-1.5zM169.8 415.2h1.5v1.5h-1.5zM175.3 415.2h1.5v1.5h-1.5zM184.3 415.2h1.5v1.5h-1.5zM194.3 415.2h1.5v1.5h-1.5zM221.3 415.2h1.5v1.5h-1.5zM284.2 415.2h1.5v1.5h-1.5zM336.7 415.2h1.5v1.5h-1.5zM348.7 415.2h1.5v1.5h-1.5zM363.7 415.2h1.5v1.5h-1.5zM403.2 415.2h1.5v1.5h-1.5zM408.6 415.2h1.5v1.5h-1.5zM411.6 415.2h1.5v1.5h-1.5zM412.6 415.2h1.5v1.5h-1.5zM425.6 415.2h1.5v1.5h-1.5zM427.1 415.2h1.5v1.5h-1.5zM429.6 415.2h1.5v1.5h-1.5zM487.1 415.2h1.5v1.5h-1.5zM502.6 415.2h1.5v1.5h-1.5zM516.6 415.2h1.5v1.5h-1.5zM526.6 415.2h1.5v1.5h-1.5zM81.8 417.3h1.5v1.5h-1.5zM156.8 417.3h1.5v1.5h-1.5zM178.8 417.3h1.5v1.5h-1.5zM217.3 417.3h1.5v1.5h-1.5zM233.3 417.3h1.5v1.5h-1.5zM235.8 417.3h1.5v1.5h-1.5zM249.7 417.3h1.5v1.5h-1.5zM252.2 417.3h1.5v1.5h-1.5zM257.7 417.3h1.5v1.5h-1.5zM260.2 417.3h1.5v1.5h-1.5zM275.2 417.3h1.5v1.5h-1.5zM290.7 417.3h1.5v1.5h-1.5zM296.2 417.3h1.5v1.5h-1.5zM344.2 417.3h1.5v1.5h-1.5zM358.2 417.3h1.5v1.5h-1.5zM366.2 417.3h1.5v1.5h-1.5zM366.2 417.3h1.5v1.5h-1.5zM372.2 417.3h1.5v1.5h-1.5zM410.6 417.3h1.5v1.5h-1.5zM414.1 417.3h1.5v1.5h-1.5zM423.6 417.3h1.5v1.5h-1.5zM424.1 417.3h1.5v1.5h-1.5zM431.1 417.3h1.5v1.5h-1.5zM438.1 417.3h1.5v1.5h-1.5zM442.1 417.3h1.5v1.5h-1.5zM482.6 417.3h1.5v1.5h-1.5zM490.6 417.3h1.5v1.5h-1.5zM494.1 417.3h1.5v1.5h-1.5zM506.1 417.3h1.5v1.5h-1.5zM508.6 417.3h1.5v1.5h-1.5zM544.6 417.3h1.5v1.5h-1.5zM91.3 419.5h1.5v1.5h-1.5zM102.8 419.5h1.5v1.5h-1.5zM134.8 419.5h1.5v1.5h-1.5zM135.3 419.5h1.5v1.5h-1.5zM147.8 419.5h1.5v1.5h-1.5zM163.8 419.5h1.5v1.5h-1.5zM180.3 419.5h1.5v1.5h-1.5zM199.3 419.5h1.5v1.5h-1.5zM225.3 419.5h1.5v1.5h-1.5zM234.3 419.5h1.5v1.5h-1.5zM239.8 419.5h1.5v1.5h-1.5zM244.7 419.5h1.5v1.5h-1.5zM270.2 419.5h1.5v1.5h-1.5zM284.2 419.5h1.5v1.5h-1.5zM285.7 419.5h1.5v1.5h-1.5zM340.2 419.5h1.5v1.5h-1.5zM340.7 419.5h1.5v1.5h-1.5zM350.2 419.5h1.5v1.5h-1.5zM367.2 419.5h1.5v1.5h-1.5zM379.2 419.5h1.5v1.5h-1.5zM398.7 419.5h1.5v1.5h-1.5zM409.1 419.5h1.5v1.5h-1.5zM415.6 419.5h1.5v1.5h-1.5zM418.6 419.5h1.5v1.5h-1.5zM495.1 419.5h1.5v1.5h-1.5zM517.1 419.5h1.5v1.5h-1.5zM536.1 419.5h1.5v1.5h-1.5zM551.6 419.5h1.5v1.5h-1.5zM552.6 419.5h1.5v1.5h-1.5zM563.1 419.5h1.5v1.5h-1.5zM107.3 421.6h1.5v1.5h-1.5zM196.3 421.6h1.5v1.5h-1.5zM197.8 421.6h1.5v1.5h-1.5zM208.3 421.6h1.5v1.5h-1.5zM215.3 421.6h1.5v1.5h-1.5zM228.3 421.6h1.5v1.5h-1.5zM238.8 421.6h1.5v1.5h-1.5zM251.2 421.6h1.5v1.5h-1.5zM259.7 421.6h1.5v1.5h-1.5zM271.7 421.6h1.5v1.5h-1.5zM275.2 421.6h1.5v1.5h-1.5zM280.2 421.6h1.5v1.5h-1.5zM285.2 421.6h1.5v1.5h-1.5zM298.7 421.6h1.5v1.5h-1.5zM302.7 421.6h1.5v1.5h-1.5zM311.2 421.6h1.5v1.5h-1.5zM373.2 421.6h1.5v1.5h-1.5zM381.2 421.6h1.5v1.5h-1.5zM402.2 421.6h1.5v1.5h-1.5zM408.6 421.6h1.5v1.5h-1.5zM415.1 421.6h1.5v1.5h-1.5zM434.1 421.6h1.5v1.5h-1.5zM449.6 421.6h1.5v1.5h-1.5zM459.1 421.6h1.5v1.5h-1.5zM477.6 421.6h1.5v1.5h-1.5zM494.6 421.6h1.5v1.5h-1.5zM504.6 421.6h1.5v1.5h-1.5zM510.6 421.6h1.5v1.5h-1.5zM527.1 421.6h1.5v1.5h-1.5zM530.6 421.6h1.5v1.5h-1.5zM540.1 421.6h1.5v1.5h-1.5zM551.6 421.6h1.5v1.5h-1.5zM558.6 421.6h1.5v1.5h-1.5zM119.3 423.8h1.5v1.5h-1.5zM139.8 423.8h1.5v1.5h-1.5zM141.8 423.8h1.5v1.5h-1.5zM163.8 423.8h1.5v1.5h-1.5zM169.8 423.8h1.5v1.5h-1.5zM176.3 423.8h1.5v1.5h-1.5zM190.8 423.8h1.5v1.5h-1.5zM227.3 423.8h1.5v1.5h-1.5zM229.8 423.8h1.5v1.5h-1.5zM237.8 423.8h1.5v1.5h-1.5zM265.2 423.8h1.5v1.5h-1.5zM268.2 423.8h1.5v1.5h-1.5zM273.2 423.8h1.5v1.5h-1.5zM279.2 423.8h1.5v1.5h-1.5zM280.7 423.8h1.5v1.5h-1.5zM328.2 423.8h1.5v1.5h-1.5zM337.2 423.8h1.5v1.5h-1.5zM375.7 423.8h1.5v1.5h-1.5zM382.2 423.8h1.5v1.5h-1.5zM409.6 423.8h1.5v1.5h-1.5zM417.6 423.8h1.5v1.5h-1.5zM448.1 423.8h1.5v1.5h-1.5zM478.1 423.8h1.5v1.5h-1.5zM494.6 423.8h1.5v1.5h-1.5zM495.1 423.8h1.5v1.5h-1.5zM507.1 423.8h1.5v1.5h-1.5zM555.6 423.8h1.5v1.5h-1.5zM103.8 425.9h1.5v1.5h-1.5zM108.3 425.9h1.5v1.5h-1.5zM109.8 425.9h1.5v1.5h-1.5zM116.8 425.9h1.5v1.5h-1.5zM127.3 425.9h1.5v1.5h-1.5zM130.3 425.9h1.5v1.5h-1.5zM143.8 425.9h1.5v1.5h-1.5zM209.3 425.9h1.5v1.5h-1.5zM215.8 425.9h1.5v1.5h-1.5zM232.3 425.9h1.5v1.5h-1.5zM242.7 425.9h1.5v1.5h-1.5zM248.7 425.9h1.5v1.5h-1.5zM261.7 425.9h1.5v1.5h-1.5zM273.2 425.9h1.5v1.5h-1.5zM293.2 425.9h1.5v1.5h-1.5zM299.2 425.9h1.5v1.5h-1.5zM303.7 425.9h1.5v1.5h-1.5zM325.7 425.9h1.5v1.5h-1.5zM344.2 425.9h1.5v1.5h-1.5zM382.7 425.9h1.5v1.5h-1.5zM384.2 425.9h1.5v1.5h-1.5zM398.2 425.9h1.5v1.5h-1.5zM403.2 425.9h1.5v1.5h-1.5zM428.6 425.9h1.5v1.5h-1.5zM434.1 425.9h1.5v1.5h-1.5zM459.1 425.9h1.5v1.5h-1.5zM469.1 425.9h1.5v1.5h-1.5zM499.6 425.9h1.5v1.5h-1.5zM510.6 425.9h1.5v1.5h-1.5zM517.1 425.9h1.5v1.5h-1.5zM541.1 425.9h1.5v1.5h-1.5zM552.6 425.9h1.5v1.5h-1.5zM555.1 425.9h1.5v1.5h-1.5zM561.6 425.9h1.5v1.5h-1.5zM104.8 428.1h1.5v1.5h-1.5zM133.3 428.1h1.5v1.5h-1.5zM141.8 428.1h1.5v1.5h-1.5zM143.3 428.1h1.5v1.5h-1.5zM144.8 428.1h1.5v1.5h-1.5zM148.3 428.1h1.5v1.5h-1.5zM167.8 428.1h1.5v1.5h-1.5zM169.8 428.1h1.5v1.5h-1.5zM176.3 428.1h1.5v1.5h-1.5zM176.8 428.1h1.5v1.5h-1.5zM188.3 428.1h1.5v1.5h-1.5zM249.2 428.1h1.5v1.5h-1.5zM250.7 428.1h1.5v1.5h-1.5zM259.2 428.1h1.5v1.5h-1.5zM265.7 428.1h1.5v1.5h-1.5zM303.2 428.1h1.5v1.5h-1.5zM351.2 428.1h1.5v1.5h-1.5zM358.2 428.1h1.5v1.5h-1.5zM358.7 428.1h1.5v1.5h-1.5zM362.7 428.1h1.5v1.5h-1.5zM390.2 428.1h1.5v1.5h-1.5zM416.6 428.1h1.5v1.5h-1.5zM418.6 428.1h1.5v1.5h-1.5zM420.1 428.1h1.5v1.5h-1.5zM424.6 428.1h1.5v1.5h-1.5zM435.1 428.1h1.5v1.5h-1.5zM440.1 428.1h1.5v1.5h-1.5zM498.6 428.1h1.5v1.5h-1.5zM525.1 428.1h1.5v1.5h-1.5zM529.6 428.1h1.5v1.5h-1.5zM545.6 428.1h1.5v1.5h-1.5zM562.6 428.1h1.5v1.5h-1.5zM160.8 430.2h1.5v1.5h-1.5zM164.3 430.2h1.5v1.5h-1.5zM181.8 430.2h1.5v1.5h-1.5zM202.8 430.2h1.5v1.5h-1.5zM208.8 430.2h1.5v1.5h-1.5zM240.3 430.2h1.5v1.5h-1.5zM241.3 430.2h1.5v1.5h-1.5zM242.7 430.2h1.5v1.5h-1.5zM245.2 430.2h1.5v1.5h-1.5zM248.2 430.2h1.5v1.5h-1.5zM249.7 430.2h1.5v1.5h-1.5zM276.7 430.2h1.5v1.5h-1.5zM283.7 430.2h1.5v1.5h-1.5zM330.7 430.2h1.5v1.5h-1.5zM344.2 430.2h1.5v1.5h-1.5zM361.7 430.2h1.5v1.5h-1.5zM411.6 430.2h1.5v1.5h-1.5zM424.6 430.2h1.5v1.5h-1.5zM425.6 430.2h1.5v1.5h-1.5zM439.6 430.2h1.5v1.5h-1.5zM440.6 430.2h1.5v1.5h-1.5zM446.1 430.2h1.5v1.5h-1.5zM455.1 430.2h1.5v1.5h-1.5zM476.1 430.2h1.5v1.5h-1.5zM510.1 430.2h1.5v1.5h-1.5zM521.1 430.2h1.5v1.5h-1.5zM534.1 430.2h1.5v1.5h-1.5zM104.3 432.4h1.5v1.5h-1.5zM106.3 432.4h1.5v1.5h-1.5zM141.3 432.4h1.5v1.5h-1.5zM178.8 432.4h1.5v1.5h-1.5zM181.3 432.4h1.5v1.5h-1.5zM192.8 432.4h1.5v1.5h-1.5zM201.8 432.4h1.5v1.5h-1.5zM208.8 432.4h1.5v1.5h-1.5zM224.3 432.4h1.5v1.5h-1.5zM225.8 432.4h1.5v1.5h-1.5zM252.2 432.4h1.5v1.5h-1.5zM260.2 432.4h1.5v1.5h-1.5zM269.7 432.4h1.5v1.5h-1.5zM282.2 432.4h1.5v1.5h-1.5zM308.7 432.4h1.5v1.5h-1.5zM364.2 432.4h1.5v1.5h-1.5zM399.2 432.4h1.5v1.5h-1.5zM406.7 432.4h1.5v1.5h-1.5zM416.6 432.4h1.5v1.5h-1.5zM428.6 432.4h1.5v1.5h-1.5zM434.6 432.4h1.5v1.5h-1.5zM468.1 432.4h1.5v1.5h-1.5zM482.1 432.4h1.5v1.5h-1.5zM508.1 432.4h1.5v1.5h-1.5zM511.1 432.4h1.5v1.5h-1.5zM514.6 432.4h1.5v1.5h-1.5zM535.6 432.4h1.5v1.5h-1.5zM536.6 432.4h1.5v1.5h-1.5zM537.1 432.4h1.5v1.5h-1.5zM539.1 432.4h1.5v1.5h-1.5zM547.1 432.4h1.5v1.5h-1.5zM554.1 432.4h1.5v1.5h-1.5zM562.6 432.4h1.5v1.5h-1.5zM565.6 432.4h1.5v1.5h-1.5zM568.1 432.4h1.5v1.5h-1.5zM104.8 434.5h1.5v1.5h-1.5zM129.3 434.5h1.5v1.5h-1.5zM135.8 434.5h1.5v1.5h-1.5zM142.8 434.5h1.5v1.5h-1.5zM160.3 434.5h1.5v1.5h-1.5zM165.3 434.5h1.5v1.5h-1.5zM173.8 434.5h1.5v1.5h-1.5zM192.8 434.5h1.5v1.5h-1.5zM251.2 434.5h1.5v1.5h-1.5zM255.2 434.5h1.5v1.5h-1.5zM257.7 434.5h1.5v1.5h-1.5zM266.7 434.5h1.5v1.5h-1.5zM360.2 434.5h1.5v1.5h-1.5zM421.6 434.5h1.5v1.5h-1.5zM488.6 434.5h1.5v1.5h-1.5zM494.1 434.5h1.5v1.5h-1.5zM521.1 434.5h1.5v1.5h-1.5zM571.1 434.5h1.5v1.5h-1.5zM159.8 436.7h1.5v1.5h-1.5zM162.3 436.7h1.5v1.5h-1.5zM170.3 436.7h1.5v1.5h-1.5zM211.8 436.7h1.5v1.5h-1.5zM245.2 436.7h1.5v1.5h-1.5zM249.7 436.7h1.5v1.5h-1.5zM271.7 436.7h1.5v1.5h-1.5zM294.2 436.7h1.5v1.5h-1.5zM316.2 436.7h1.5v1.5h-1.5zM392.7 436.7h1.5v1.5h-1.5zM414.1 436.7h1.5v1.5h-1.5zM425.6 436.7h1.5v1.5h-1.5zM429.6 436.7h1.5v1.5h-1.5zM433.1 436.7h1.5v1.5h-1.5zM476.6 436.7h1.5v1.5h-1.5zM492.1 436.7h1.5v1.5h-1.5zM492.6 436.7h1.5v1.5h-1.5zM498.6 436.7h1.5v1.5h-1.5zM510.1 436.7h1.5v1.5h-1.5zM549.1 436.7h1.5v1.5h-1.5zM552.1 436.7h1.5v1.5h-1.5zM128.8 438.8h1.5v1.5h-1.5zM129.8 438.8h1.5v1.5h-1.5zM170.3 438.8h1.5v1.5h-1.5zM187.8 438.8h1.5v1.5h-1.5zM205.3 438.8h1.5v1.5h-1.5zM206.8 438.8h1.5v1.5h-1.5zM251.2 438.8h1.5v1.5h-1.5zM284.2 438.8h1.5v1.5h-1.5zM292.2 438.8h1.5v1.5h-1.5zM308.7 438.8h1.5v1.5h-1.5zM313.2 438.8h1.5v1.5h-1.5zM351.2 438.8h1.5v1.5h-1.5zM409.1 438.8h1.5v1.5h-1.5zM416.6 438.8h1.5v1.5h-1.5zM429.1 438.8h1.5v1.5h-1.5zM465.6 438.8h1.5v1.5h-1.5zM479.1 438.8h1.5v1.5h-1.5zM483.6 438.8h1.5v1.5h-1.5zM490.6 438.8h1.5v1.5h-1.5zM504.1 438.8h1.5v1.5h-1.5zM506.6 438.8h1.5v1.5h-1.5zM551.1 438.8h1.5v1.5h-1.5zM565.1 438.8h1.5v1.5h-1.5zM121.8 441.0h1.5v1.5h-1.5zM130.3 441.0h1.5v1.5h-1.5zM152.8 441.0h1.5v1.5h-1.5zM154.8 441.0h1.5v1.5h-1.5zM186.3 441.0h1.5v1.5h-1.5zM193.8 441.0h1.5v1.5h-1.5zM227.3 441.0h1.5v1.5h-1.5zM231.8 441.0h1.5v1.5h-1.5zM233.3 441.0h1.5v1.5h-1.5zM233.8 441.0h1.5v1.5h-1.5zM239.3 441.0h1.5v1.5h-1.5zM253.7 441.0h1.5v1.5h-1.5zM259.7 441.0h1.5v1.5h-1.5zM281.2 441.0h1.5v1.5h-1.5zM315.2 441.0h1.5v1.5h-1.5zM431.6 441.0h1.5v1.5h-1.5zM460.6 441.0h1.5v1.5h-1.5zM467.1 441.0h1.5v1.5h-1.5zM467.6 441.0h1.5v1.5h-1.5zM483.6 441.0h1.5v1.5h-1.5zM491.6 441.0h1.5v1.5h-1.5zM500.6 441.0h1.5v1.5h-1.5zM508.1 441.0h1.5v1.5h-1.5zM515.6 441.0h1.5v1.5h-1.5zM537.1 441.0h1.5v1.5h-1.5zM539.1 441.0h1.5v1.5h-1.5zM543.6 441.0h1.5v1.5h-1.5zM559.1 441.0h1.5v1.5h-1.5zM114.3 443.1h1.5v1.5h-1.5zM128.8 443.1h1.5v1.5h-1.5zM139.8 443.1h1.5v1.5h-1.5zM154.3 443.1h1.5v1.5h-1.5zM156.3 443.1h1.5v1.5h-1.5zM192.3 443.1h1.5v1.5h-1.5zM194.8 443.1h1.5v1.5h-1.5zM199.3 443.1h1.5v1.5h-1.5zM217.8 443.1h1.5v1.5h-1.5zM248.2 443.1h1.5v1.5h-1.5zM264.2 443.1h1.5v1.5h-1.5zM290.7 443.1h1.5v1.5h-1.5zM292.7 443.1h1.5v1.5h-1.5zM316.2 443.1h1.5v1.5h-1.5zM346.7 443.1h1.5v1.5h-1.5zM347.7 443.1h1.5v1.5h-1.5zM349.2 443.1h1.5v1.5h-1.5zM350.2 443.1h1.5v1.5h-1.5zM401.2 443.1h1.5v1.5h-1.5zM428.6 443.1h1.5v1.5h-1.5zM433.6 443.1h1.5v1.5h-1.5zM463.6 443.1h1.5v1.5h-1.5zM498.6 443.1h1.5v1.5h-1.5zM534.1 443.1h1.5v1.5h-1.5zM87.8 445.3h1.5v1.5h-1.5zM110.8 445.3h1.5v1.5h-1.5zM128.3 445.3h1.5v1.5h-1.5zM139.8 445.3h1.5v1.5h-1.5zM184.8 445.3h1.5v1.5h-1.5zM239.8 445.3h1.5v1.5h-1.5zM254.7 445.3h1.5v1.5h-1.5zM300.7 445.3h1.5v1.5h-1.5zM327.7 445.3h1.5v1.5h-1.5zM346.2 445.3h1.5v1.5h-1.5zM346.7 445.3h1.5v1.5h-1.5zM355.2 445.3h1.5v1.5h-1.5zM373.7 445.3h1.5v1.5h-1.5zM427.1 445.3h1.5v1.5h-1.5zM428.1 445.3h1.5v1.5h-1.5zM466.6 445.3h1.5v1.5h-1.5zM479.6 445.3h1.5v1.5h-1.5zM493.1 445.3h1.5v1.5h-1.5zM495.1 445.3h1.5v1.5h-1.5zM510.1 445.3h1.5v1.5h-1.5zM534.6 445.3h1.5v1.5h-1.5zM545.1 445.3h1.5v1.5h-1.5zM551.1 445.3h1.5v1.5h-1.5zM89.3 447.4h1.5v1.5h-1.5zM120.8 447.4h1.5v1.5h-1.5zM153.8 447.4h1.5v1.5h-1.5zM175.3 447.4h1.5v1.5h-1.5zM180.3 447.4h1.5v1.5h-1.5zM185.8 447.4h1.5v1.5h-1.5zM206.8 447.4h1.5v1.5h-1.5zM230.3 447.4h1.5v1.5h-1.5zM236.3 447.4h1.5v1.5h-1.5zM237.8 447.4h1.5v1.5h-1.5zM248.2 447.4h1.5v1.5h-1.5zM254.2 447.4h1.5v1.5h-1.5zM263.7 447.4h1.5v1.5h-1.5zM269.2 447.4h1.5v1.5h-1.5zM272.2 447.4h1.5v1.5h-1.5zM277.2 447.4h1.5v1.5h-1.5zM291.2 447.4h1.5v1.5h-1.5zM298.7 447.4h1.5v1.5h-1.5zM302.7 447.4h1.5v1.5h-1.5zM352.7 447.4h1.5v1.5h-1.5zM415.1 447.4h1.5v1.5h-1.5zM447.1 447.4h1.5v1.5h-1.5zM468.6 447.4h1.5v1.5h-1.5zM476.1 447.4h1.5v1.5h-1.5zM481.1 447.4h1.5v1.5h-1.5zM512.1 447.4h1.5v1.5h-1.5zM570.6 447.4h1.5v1.5h-1.5zM89.8 449.6h1.5v1.5h-1.5zM189.3 449.6h1.5v1.5h-1.5zM196.3 449.6h1.5v1.5h-1.5zM197.8 449.6h1.5v1.5h-1.5zM203.3 449.6h1.5v1.5h-1.5zM203.8 449.6h1.5v1.5h-1.5zM220.8 449.6h1.5v1.5h-1.5zM240.8 449.6h1.5v1.5h-1.5zM241.3 449.6h1.5v1.5h-1.5zM251.7 449.6h1.5v1.5h-1.5zM277.2 449.6h1.5v1.5h-1.5zM278.2 449.6h1.5v1.5h-1.5zM307.7 449.6h1.5v1.5h-1.5zM324.7 449.6h1.5v1.5h-1.5zM377.2 449.6h1.5v1.5h-1.5zM383.2 449.6h1.5v1.5h-1.5zM406.2 449.6h1.5v1.5h-1.5zM424.6 449.6h1.5v1.5h-1.5zM431.1 449.6h1.5v1.5h-1.5zM447.6 449.6h1.5v1.5h-1.5zM449.1 449.6h1.5v1.5h-1.5zM507.1 449.6h1.5v1.5h-1.5zM511.6 449.6h1.5v1.5h-1.5zM522.1 449.6h1.5v1.5h-1.5zM544.1 449.6h1.5v1.5h-1.5zM555.6 449.6h1.5v1.5h-1.5zM120.3 451.7h1.5v1.5h-1.5zM145.3 451.7h1.5v1.5h-1.5zM188.3 451.7h1.5v1.5h-1.5zM191.8 451.7h1.5v1.5h-1.5zM304.2 451.7h1.5v1.5h-1.5zM304.2 451.7h1.5v1.5h-1.5zM323.2 451.7h1.5v1.5h-1.5zM339.7 451.7h1.5v1.5h-1.5zM340.2 451.7h1.5v1.5h-1.5zM345.2 451.7h1.5v1.5h-1.5zM375.7 451.7h1.5v1.5h-1.5zM409.6 451.7h1.5v1.5h-1.5zM439.6 451.7h1.5v1.5h-1.5zM442.6 451.7h1.5v1.5h-1.5zM493.6 451.7h1.5v1.5h-1.5zM494.6 451.7h1.5v1.5h-1.5zM513.6 451.7h1.5v1.5h-1.5zM540.1 451.7h1.5v1.5h-1.5zM549.1 451.7h1.5v1.5h-1.5zM110.8 453.9h1.5v1.5h-1.5zM127.3 453.9h1.5v1.5h-1.5zM169.8 453.9h1.5v1.5h-1.5zM187.8 453.9h1.5v1.5h-1.5zM188.8 453.9h1.5v1.5h-1.5zM256.7 453.9h1.5v1.5h-1.5zM265.2 453.9h1.5v1.5h-1.5zM270.7 453.9h1.5v1.5h-1.5zM271.2 453.9h1.5v1.5h-1.5zM274.2 453.9h1.5v1.5h-1.5zM306.7 453.9h1.5v1.5h-1.5zM358.2 453.9h1.5v1.5h-1.5zM364.2 453.9h1.5v1.5h-1.5zM414.6 453.9h1.5v1.5h-1.5zM444.1 453.9h1.5v1.5h-1.5zM487.1 453.9h1.5v1.5h-1.5zM493.1 453.9h1.5v1.5h-1.5zM516.6 453.9h1.5v1.5h-1.5zM125.8 456.0h1.5v1.5h-1.5zM156.8 456.0h1.5v1.5h-1.5zM258.2 456.0h1.5v1.5h-1.5zM272.2 456.0h1.5v1.5h-1.5zM274.7 456.0h1.5v1.5h-1.5zM298.2 456.0h1.5v1.5h-1.5zM322.2 456.0h1.5v1.5h-1.5zM419.6 456.0h1.5v1.5h-1.5zM427.1 456.0h1.5v1.5h-1.5zM521.1 456.0h1.5v1.5h-1.5zM551.6 456.0h1.5v1.5h-1.5zM123.3 458.2h1.5v1.5h-1.5zM138.3 458.2h1.5v1.5h-1.5zM270.2 458.2h1.5v1.5h-1.5zM326.2 458.2h1.5v1.5h-1.5zM365.7 458.2h1.5v1.5h-1.5zM366.2 458.2h1.5v1.5h-1.5zM411.6 458.2h1.5v1.5h-1.5zM427.6 458.2h1.5v1.5h-1.5zM430.6 458.2h1.5v1.5h-1.5zM435.6 458.2h1.5v1.5h-1.5zM470.1 458.2h1.5v1.5h-1.5zM518.6 458.2h1.5v1.5h-1.5zM533.6 458.2h1.5v1.5h-1.5zM551.6 458.2h1.5v1.5h-1.5zM150.3 460.3h1.5v1.5h-1.5zM186.8 460.3h1.5v1.5h-1.5zM189.3 460.3h1.5v1.5h-1.5zM275.7 460.3h1.5v1.5h-1.5zM396.2 460.3h1.5v1.5h-1.5zM491.6 460.3h1.5v1.5h-1.5zM499.1 460.3h1.5v1.5h-1.5zM506.6 460.3h1.5v1.5h-1.5zM516.6 460.3h1.5v1.5h-1.5zM556.6 460.3h1.5v1.5h-1.5zM107.8 462.5h1.5v1.5h-1.5zM136.3 462.5h1.5v1.5h-1.5zM266.7 462.5h1.5v1.5h-1.5zM338.7 462.5h1.5v1.5h-1.5zM339.2 462.5h1.5v1.5h-1.5zM363.7 462.5h1.5v1.5h-1.5zM399.7 462.5h1.5v1.5h-1.5zM450.6 462.5h1.5v1.5h-1.5zM471.6 462.5h1.5v1.5h-1.5zM473.6 462.5h1.5v1.5h-1.5zM485.6 462.5h1.5v1.5h-1.5zM548.6 462.5h1.5v1.5h-1.5zM146.3 464.6h1.5v1.5h-1.5zM157.8 464.6h1.5v1.5h-1.5zM169.3 464.6h1.5v1.5h-1.5zM200.3 464.6h1.5v1.5h-1.5zM211.3 464.6h1.5v1.5h-1.5zM279.7 464.6h1.5v1.5h-1.5zM360.7 464.6h1.5v1.5h-1.5zM406.7 464.6h1.5v1.5h-1.5zM407.2 464.6h1.5v1.5h-1.5zM521.1 464.6h1.5v1.5h-1.5zM551.1 464.6h1.5v1.5h-1.5zM103.3 466.8h1.5v1.5h-1.5zM128.8 466.8h1.5v1.5h-1.5zM193.3 466.8h1.5v1.5h-1.5zM433.1 466.8h1.5v1.5h-1.5zM468.6 466.8h1.5v1.5h-1.5zM474.6 466.8h1.5v1.5h-1.5zM482.6 466.8h1.5v1.5h-1.5zM492.1 466.8h1.5v1.5h-1.5zM535.1 466.8h1.5v1.5h-1.5zM535.6 466.8h1.5v1.5h-1.5zM96.8 468.9h1.5v1.5h-1.5zM121.3 468.9h1.5v1.5h-1.5zM133.3 468.9h1.5v1.5h-1.5zM155.3 468.9h1.5v1.5h-1.5zM182.3 468.9h1.5v1.5h-1.5zM223.3 468.9h1.5v1.5h-1.5zM338.7 468.9h1.5v1.5h-1.5zM359.7 468.9h1.5v1.5h-1.5zM372.7 468.9h1.5v1.5h-1.5zM446.1 468.9h1.5v1.5h-1.5zM450.1 468.9h1.5v1.5h-1.5zM543.6 468.9h1.5v1.5h-1.5zM548.6 468.9h1.5v1.5h-1.5zM558.1 468.9h1.5v1.5h-1.5zM142.3 471.1h1.5v1.5h-1.5zM166.8 471.1h1.5v1.5h-1.5zM174.3 471.1h1.5v1.5h-1.5zM197.8 471.1h1.5v1.5h-1.5zM225.3 471.1h1.5v1.5h-1.5zM268.7 471.1h1.5v1.5h-1.5zM363.7 471.1h1.5v1.5h-1.5zM475.6 471.1h1.5v1.5h-1.5zM130.8 473.2h1.5v1.5h-1.5zM164.8 473.2h1.5v1.5h-1.5zM207.3 473.2h1.5v1.5h-1.5zM269.7 473.2h1.5v1.5h-1.5zM270.7 473.2h1.5v1.5h-1.5zM310.2 473.2h1.5v1.5h-1.5zM331.2 473.2h1.5v1.5h-1.5zM348.7 473.2h1.5v1.5h-1.5zM384.7 473.2h1.5v1.5h-1.5zM442.1 473.2h1.5v1.5h-1.5zM491.6 473.2h1.5v1.5h-1.5zM134.3 475.4h1.5v1.5h-1.5zM276.7 475.4h1.5v1.5h-1.5zM471.1 475.4h1.5v1.5h-1.5zM479.6 475.4h1.5v1.5h-1.5zM522.1 475.4h1.5v1.5h-1.5zM142.8 477.5h1.5v1.5h-1.5zM214.3 477.5h1.5v1.5h-1.5zM271.2 477.5h1.5v1.5h-1.5zM281.7 477.5h1.5v1.5h-1.5zM355.7 477.5h1.5v1.5h-1.5zM408.6 477.5h1.5v1.5h-1.5zM437.6 477.5h1.5v1.5h-1.5zM481.6 477.5h1.5v1.5h-1.5zM490.1 477.5h1.5v1.5h-1.5zM532.6 477.5h1.5v1.5h-1.5zM129.8 479.7h1.5v1.5h-1.5zM191.3 479.7h1.5v1.5h-1.5zM195.3 479.7h1.5v1.5h-1.5zM233.3 479.7h1.5v1.5h-1.5zM439.1 479.7h1.5v1.5h-1.5zM80.3 481.8h1.5v1.5h-1.5zM148.8 481.8h1.5v1.5h-1.5zM175.8 481.8h1.5v1.5h-1.5zM187.3 481.8h1.5v1.5h-1.5zM400.7 481.8h1.5v1.5h-1.5zM461.6 481.8h1.5v1.5h-1.5zM501.6 481.8h1.5v1.5h-1.5zM155.8 484.0h1.5v1.5h-1.5zM192.3 484.0h1.5v1.5h-1.5zM314.7 484.0h1.5v1.5h-1.5zM394.2 484.0h1.5v1.5h-1.5zM505.1 484.0h1.5v1.5h-1.5zM117.3 486.1h1.5v1.5h-1.5zM196.3 486.1h1.5v1.5h-1.5zM296.2 486.1h1.5v1.5h-1.5zM350.2 486.1h1.5v1.5h-1.5zM423.1 486.1h1.5v1.5h-1.5zM467.1 486.1h1.5v1.5h-1.5zM532.6 486.1h1.5v1.5h-1.5zM114.3 488.2h1.5v1.5h-1.5zM136.8 488.2h1.5v1.5h-1.5zM266.7 488.2h1.5v1.5h-1.5zM352.7 488.2h1.5v1.5h-1.5zM390.7 488.2h1.5v1.5h-1.5zM524.1 488.2h1.5v1.5h-1.5zM544.1 488.2h1.5v1.5h-1.5zM129.8 490.4h1.5v1.5h-1.5zM152.3 490.4h1.5v1.5h-1.5zM233.8 490.4h1.5v1.5h-1.5zM324.7 490.4h1.5v1.5h-1.5zM413.6 490.4h1.5v1.5h-1.5zM450.1 490.4h1.5v1.5h-1.5zM130.8 492.5h1.5v1.5h-1.5zM166.3 492.5h1.5v1.5h-1.5zM168.8 492.5h1.5v1.5h-1.5zM202.3 492.5h1.5v1.5h-1.5zM308.7 492.5h1.5v1.5h-1.5zM394.2 492.5h1.5v1.5h-1.5zM427.1 492.5h1.5v1.5h-1.5zM427.1 492.5h1.5v1.5h-1.5zM216.8 494.7h1.5v1.5h-1.5zM436.1 494.7h1.5v1.5h-1.5zM474.1 494.7h1.5v1.5h-1.5zM487.6 494.7h1.5v1.5h-1.5zM263.2 496.8h1.5v1.5h-1.5zM309.2 496.8h1.5v1.5h-1.5zM310.7 496.8h1.5v1.5h-1.5zM465.6 496.8h1.5v1.5h-1.5zM480.6 496.8h1.5v1.5h-1.5zM133.3 499.0h1.5v1.5h-1.5zM159.8 499.0h1.5v1.5h-1.5zM398.2 499.0h1.5v1.5h-1.5zM439.1 499.0h1.5v1.5h-1.5zM447.1 499.0h1.5v1.5h-1.5zM476.6 499.0h1.5v1.5h-1.5zM569.1 499.0h1.5v1.5h-1.5zM402.7 501.1h1.5v1.5h-1.5zM445.6 501.1h1.5v1.5h-1.5zM143.3 503.3h1.5v1.5h-1.5zM144.3 503.3h1.5v1.5h-1.5zM234.8 503.3h1.5v1.5h-1.5zM394.2 503.3h1.5v1.5h-1.5zM484.6 503.3h1.5v1.5h-1.5zM192.3 505.4h1.5v1.5h-1.5zM199.8 505.4h1.5v1.5h-1.5zM324.7 505.4h1.5v1.5h-1.5zM462.6 505.4h1.5v1.5h-1.5zM328.2 507.6h1.5v1.5h-1.5zM338.7 507.6h1.5v1.5h-1.5zM427.6 507.6h1.5v1.5h-1.5zM452.6 509.7h1.5v1.5h-1.5zM462.6 509.7h1.5v1.5h-1.5zM348.7 511.9h1.5v1.5h-1.5zM349.2 511.9h1.5v1.5h-1.5zM127.8 514.0h1.5v1.5h-1.5zM388.7 514.0h1.5v1.5h-1.5zM419.1 514.0h1.5v1.5h-1.5zM341.7 518.3h1.5v1.5h-1.5zM432.1 518.3h1.5v1.5h-1.5zM444.6 518.3h1.5v1.5h-1.5zM173.3 520.5h1.5v1.5h-1.5zM177.3 520.5h1.5v1.5h-1.5zM335.2 524.8h1.5v1.5h-1.5zM437.6 524.8h1.5v1.5h-1.5zM480.6 526.9h1.5v1.5h-1.5zM318.7 529.1h1.5v1.5h-1.5zM409.1 533.4h1.5v1.5h-1.5zM442.6 533.4h1.5v1.5h-1.5zM297.2 535.5h1.5v1.5h-1.5zM369.2 542.0h1.5v1.5h-1.5zM322.7 552.7h1.5v1.5h-1.5z" fill="#000"/>
<path d="M59.76 366.51H592.19" stroke="#CD2626" stroke-width="2.25" stroke-dasharray="9 9" stroke-linecap="round" fill="none"/>
<path d="M285.97 580.24V47.81" stroke="#006400" stroke-width="2.25" stroke-dasharray="9 9" stroke-linecap="round" fill="none"/>
<path d="M364.93 580.24V47.81" stroke="#006400" stroke-width="2.25" stroke-dasharray="9 9" stroke-linecap="round" fill="none"/>
</g>
<rect x="59.76" y="47.81" width="532.43" height="532.43" fill="none" stroke="#000" stroke-width="0.75"/>
<path d="M125.57 580.24v5.98M225.51 580.24v5.98M325.45 580.24v5.98M425.39 580.24v5.98M525.33 580.24v5.98M125.57 580.24H525.33" stroke="#000" stroke-width="0.75" fill="none"/>
<text x="125.57" y="601.80" font-size="10" text-anchor="middle">-400</text>
<text x="225.51" y="601.80" font-size="10" text-anchor="middle">-200</text>
<text x="325.45" y="601.80" font-size="10" text-anchor="middle">0</text>
<text x="425.39" y="601.80" font-size="10" text-anchor="middle">200</text>
<text x="525.33" y="601.80" font-size="10" text-anchor="middle">400</text>
<path d="M59.76 486.85h-5.98M59.76 379.40h-5.98M59.76 271.95h-5.98M59.76 164.50h-5.98M59.76 57.05h-5.98M59.76 486.85V57.05" stroke="#000" stroke-width="0.75" fill="none"/>
<text transform="translate(44.60 486.85) rotate(-90)" font-size="10" text-anchor="middle">80</text>
<text transform="translate(44.60 379.40) rotate(-90)" font-size="10" text-anchor="middle">85</text>
<text transform="translate(44.60 271.95) rotate(-90)" font-size="10" text-anchor="middle">90</text>
<text transform="translate(44.60 164.50) rotate(-90)" font-size="10" text-anchor="middle">95</text>
<text transform="translate(44.60 57.05) rotate(-90)" font-size="10" text-anchor="middle">100</text>
<text x="216.10" y="31.70" font-size="21.5" font-weight="bold">Top hit for each peak</text>
<text x="325.98" y="625.90" font-size="15.95" text-anchor="middle">Distance to peak summit</text>
<text transform="translate(22.00 314.02) rotate(-90)" font-size="15.95" text-anchor="middle">Motif score</text>
<g clip-path="url(#c1)"><g filter="url(#hm)"><g transform="translate(683.122 31.172) scale(8.3192 8.3192)" shape-rendering="crispEdges">
<path fill="#000000" d="M0 0h25v1h-25zM52 0h16v1h-16zM0 1h24v1h-24zM53 1h15v1h-15zM0 2h23v1h-23zM54 2h14v1h-14zM0 3h22v1h-22zM55 3h13v1h-13zM0 4h20v1h-20zM55 4h13v1h-13zM0 5h19v1h-19zM55 5h13v1h-13zM0 6h18v1h-18zM55 6h13v1h-13zM0 7h17v1h-17zM55 7h13v1h-13zM0 8h16v1h-16zM55 8h13v1h-13zM0 9h7v1h-7zM11 9h4v1h-4zM55 9h13v1h-13zM0 10h5v1h-5zM57 10h1v1h-1zM63 10h5v1h-5zM0 11h3v1h-3zM66 11h2v1h-2zM0 12h2v1h-2zM67 12h1v1h-1zM0 13h1v1h-1zM0 57h1v1h-1zM0 58h2v1h-2zM67 58h1v1h-1zM0 59h2v1h-2zM66 59h2v1h-2zM0 60h3v1h-3zM64 60h4v1h-4zM0 61h4v1h-4zM22 61h3v1h-3zM63 61h5v1h-5zM0 62h6v1h-6zM20 62h6v1h-6zM60 62h8v1h-8zM0 63h8v1h-8zM13 63h13v1h-13zM42 63h2v1h-2zM56 63h12v1h-12zM0 64h26v1h-26zM42 64h5v1h-5zM53 64h15v1h-15zM0 65h26v1h-26zM41 65h27v1h-27zM0 66h27v1h-27zM41 66h27v1h-27zM0 67h28v1h-28zM40 67h28v1h-28z"/>
<path fill="#010101" d="M25 0h3v1h-3zM40 0h12v1h-12zM24 1h2v1h-2zM44 1h3v1h-3zM49 1h4v1h-4zM23 2h2v1h-2zM52 2h2v1h-2zM22 3h2v1h-2zM53 3h2v1h-2zM20 4h2v1h-2zM53 4h2v1h-2zM19 5h2v1h-2zM53 5h2v1h-2zM18 6h2v1h-2zM53 6h2v1h-2zM17 7h2v1h-2zM53 7h2v1h-2zM16 8h2v1h-2zM53 8h2v1h-2zM7 9h4v1h-4zM15 9h2v1h-2zM53 9h2v1h-2zM5 10h11v1h-11zM54 10h3v1h-3zM58 10h5v1h-5zM3 11h3v1h-3zM55 11h11v1h-11zM2 12h2v1h-2zM65 12h2v1h-2zM1 13h2v1h-2zM66 13h2v1h-2zM0 14h2v1h-2zM67 14h1v1h-1zM0 15h1v1h-1zM0 55h1v1h-1zM0 56h2v1h-2zM67 56h1v1h-1zM1 57h2v1h-2zM66 57h2v1h-2zM2 58h2v1h-2zM65 58h2v1h-2zM2 59h2v1h-2zM23 59h1v1h-1zM63 59h3v1h-3zM3 60h2v1h-2zM20 60h7v1h-7zM41 60h1v1h-1zM61 60h3v1h-3zM4 61h3v1h-3zM18 61h4v1h-4zM25 61h3v1h-3zM40 61h4v1h-4zM58 61h5v1h-5zM6 62h14v1h-14zM26 62h2v1h-2zM40 62h5v1h-5zM54 62h6v1h-6zM8 63h5v1h-5zM26 63h2v1h-2zM40 63h2v1h-2zM44 63h12v1h-12zM26 64h2v1h-2zM40 64h2v1h-2zM47 64h6v1h-6zM26 65h2v1h-2zM39 65h2v1h-2zM27 66h2v1h-2zM39 66h2v1h-2zM28 67h2v1h-2zM38 67h2v1h-2z"/>
<path fill="#020202" d="M28 0h4v1h-4zM33 0h7v1h-7zM26 1h1v1h-1zM42 1h2v1h-2zM47 1h2v1h-2zM25 2h1v1h-1zM45 2h2v1h-2zM49 2h3v1h-3zM24 3h1v1h-1zM51 3h2v1h-2zM22 4h1v1h-1zM52 4h1v1h-1zM21 5h1v1h-1zM52 5h1v1h-1zM20 6h1v1h-1zM52 6h1v1h-1zM52 7h1v1h-1zM52 8h1v1h-1zM17 9h1v1h-1zM52 9h1v1h-1zM16 10h1v1h-1zM53 10h1v1h-1zM6 11h10v1h-10zM54 11h1v1h-1zM4 12h2v1h-2zM56 12h3v1h-3zM63 12h2v1h-2zM3 13h1v1h-1zM65 13h1v1h-1zM2 14h1v1h-1zM66 14h1v1h-1zM1 15h1v1h-1zM67 15h1v1h-1zM0 16h1v1h-1zM67 16h1v1h-1zM1 55h1v1h-1zM67 55h1v1h-1zM2 56h1v1h-1zM66 56h1v1h-1zM3 57h1v1h-1zM65 57h1v1h-1zM4 58h1v1h-1zM63 58h2v1h-2zM4 59h2v1h-2zM20 59h3v1h-3zM24 59h3v1h-3zM40 59h2v1h-2zM61 59h2v1h-2zM5 60h2v1h-2zM18 60h2v1h-2zM27 60h2v1h-2zM39 60h2v1h-2zM42 60h2v1h-2zM58 60h3v1h-3zM7 61h11v1h-11zM28 61h1v1h-1zM39 61h1v1h-1zM44 61h1v1h-1zM55 61h3v1h-3zM28 62h1v1h-1zM39 62h1v1h-1zM45 62h3v1h-3zM51 62h3v1h-3zM28 63h1v1h-1zM39 63h1v1h-1zM28 64h1v1h-1zM38 64h2v1h-2zM28 65h2v1h-2zM38 65h1v1h-1zM29 66h1v1h-1zM37 66h2v1h-2zM30 67h3v1h-3zM35 67h3v1h-3z"/>
<path fill="#030303" d="M32 0h1v1h-1zM27 1h2v1h-2zM39 1h3v1h-3zM26 2h1v1h-1zM43 2h2v1h-2zM47 2h2v1h-2zM49 3h2v1h-2zM23 4h1v1h-1zM51 4h1v1h-1zM22 5h1v1h-1zM51 5h1v1h-1zM51 6h1v1h-1zM19 7h1v1h-1zM51 7h1v1h-1zM18 8h1v1h-1zM51 8h1v1h-1zM51 9h1v1h-1zM52 10h1v1h-1zM16 11h1v1h-1zM53 11h1v1h-1zM6 12h1v1h-1zM12 12h3v1h-3zM55 12h1v1h-1zM59 12h4v1h-4zM4 13h1v1h-1zM64 13h1v1h-1zM3 14h1v1h-1zM65 14h1v1h-1zM2 15h1v1h-1zM66 15h1v1h-1zM1 16h1v1h-1zM0 17h1v1h-1zM67 17h1v1h-1zM0 54h1v1h-1zM2 55h1v1h-1zM3 56h1v1h-1zM65 56h1v1h-1zM4 57h1v1h-1zM64 57h1v1h-1zM21 58h5v1h-5zM40 58h2v1h-2zM62 58h1v1h-1zM6 59h1v1h-1zM19 59h1v1h-1zM27 59h3v1h-3zM38 59h2v1h-2zM42 59h2v1h-2zM59 59h2v1h-2zM7 60h1v1h-1zM13 60h5v1h-5zM29 60h2v1h-2zM38 60h1v1h-1zM44 60h1v1h-1zM56 60h2v1h-2zM29 61h2v1h-2zM37 61h2v1h-2zM45 61h2v1h-2zM53 61h2v1h-2zM29 62h1v1h-1zM37 62h2v1h-2zM48 62h3v1h-3zM29 63h1v1h-1zM38 63h1v1h-1zM29 64h1v1h-1zM37 64h1v1h-1zM30 65h1v1h-1zM37 65h1v1h-1zM30 66h2v1h-2zM36 66h1v1h-1zM33 67h2v1h-2z"/>
<path fill="#040404" d="M29 1h1v1h-1zM36 1h3v1h-3zM42 2h1v1h-1zM25 3h1v1h-1zM44 3h5v1h-5zM24 4h1v1h-1zM49 4h2v1h-2zM50 5h1v1h-1zM21 6h1v1h-1zM50 6h1v1h-1zM20 7h1v1h-1zM50 7h1v1h-1zM19 8h1v1h-1zM50 8h1v1h-1zM18 9h1v1h-1zM17 10h1v1h-1zM7 12h5v1h-5zM15 12h1v1h-1zM54 12h1v1h-1zM5 13h1v1h-1zM55 13h5v1h-5zM63 13h1v1h-1zM4 14h1v1h-1zM3 15h1v1h-1zM2 16h1v1h-1zM66 16h1v1h-1zM1 17h1v1h-1zM67 18h1v1h-1zM0 53h1v1h-1zM1 54h1v1h-1zM67 54h1v1h-1zM66 55h1v1h-1zM22 57h1v1h-1zM63 57h1v1h-1zM5 58h1v1h-1zM20 58h1v1h-1zM26 58h2v1h-2zM38 58h2v1h-2zM42 58h1v1h-1zM61 58h1v1h-1zM7 59h1v1h-1zM17 59h2v1h-2zM30 59h1v1h-1zM37 59h1v1h-1zM44 59h1v1h-1zM57 59h2v1h-2zM8 60h5v1h-5zM31 60h1v1h-1zM36 60h2v1h-2zM45 60h1v1h-1zM54 60h2v1h-2zM31 61h1v1h-1zM36 61h1v1h-1zM47 61h6v1h-6zM30 62h1v1h-1zM36 62h1v1h-1zM30 63h1v1h-1zM37 63h1v1h-1zM30 64h1v1h-1zM31 65h1v1h-1zM36 65h1v1h-1zM32 66h4v1h-4z"/>
<path fill="#050505" d="M30 1h6v1h-6zM27 2h1v1h-1zM40 2h2v1h-2zM43 3h1v1h-1zM45 4h4v1h-4zM23 5h1v1h-1zM47 5h3v1h-3zM48 6h2v1h-2zM49 7h1v1h-1zM49 8h1v1h-1zM50 9h1v1h-1zM51 10h1v1h-1zM17 11h1v1h-1zM52 11h1v1h-1zM16 12h1v1h-1zM53 12h1v1h-1zM6 13h1v1h-1zM13 13h1v1h-1zM60 13h3v1h-3zM5 14h1v1h-1zM64 14h1v1h-1zM65 15h1v1h-1zM66 17h1v1h-1zM0 18h1v1h-1zM67 19h1v1h-1zM67 20h1v1h-1zM3 55h1v1h-1zM65 55h1v1h-1zM4 56h1v1h-1zM64 56h1v1h-1zM5 57h1v1h-1zM20 57h2v1h-2zM23 57h2v1h-2zM39 57h3v1h-3zM62 57h1v1h-1zM6 58h1v1h-1zM19 58h1v1h-1zM28 58h3v1h-3zM37 58h1v1h-1zM43 58h1v1h-1zM59 58h2v1h-2zM8 59h1v1h-1zM12 59h5v1h-5zM31 59h2v1h-2zM36 59h1v1h-1zM56 59h1v1h-1zM32 60h4v1h-4zM46 60h1v1h-1zM53 60h1v1h-1zM32 61h4v1h-4zM31 62h2v1h-2zM35 62h1v1h-1zM31 63h1v1h-1zM36 63h1v1h-1zM31 64h1v1h-1zM35 64h2v1h-2zM32 65h4v1h-4z"/>
<path fill="#060606" d="M28 2h1v1h-1zM39 2h1v1h-1zM26 3h1v1h-1zM42 3h1v1h-1zM25 4h1v1h-1zM44 4h1v1h-1zM46 5h1v1h-1zM22 6h1v1h-1zM47 6h1v1h-1zM48 7h1v1h-1zM18 10h1v1h-1zM7 13h6v1h-6zM14 13h2v1h-2zM54 13h1v1h-1zM56 14h3v1h-3zM63 14h1v1h-1zM4 15h1v1h-1zM3 16h1v1h-1zM65 16h1v1h-1zM2 17h1v1h-1zM66 18h1v1h-1zM0 19h1v1h-1zM67 21h1v1h-1zM0 52h1v1h-1zM1 53h1v1h-1zM67 53h1v1h-1zM2 54h1v1h-1zM66 54h1v1h-1zM63 56h1v1h-1zM6 57h1v1h-1zM19 57h1v1h-1zM25 57h2v1h-2zM38 57h1v1h-1zM42 57h1v1h-1zM61 57h1v1h-1zM7 58h1v1h-1zM17 58h2v1h-2zM31 58h2v1h-2zM36 58h1v1h-1zM44 58h1v1h-1zM57 58h2v1h-2zM9 59h3v1h-3zM33 59h3v1h-3zM45 59h1v1h-1zM54 59h2v1h-2zM47 60h6v1h-6zM33 62h2v1h-2zM32 63h4v1h-4zM32 64h3v1h-3z"/>
<path fill="#070707" d="M37 2h2v1h-2zM43 4h1v1h-1zM24 5h1v1h-1zM45 5h1v1h-1zM46 6h1v1h-1zM21 7h1v1h-1zM20 8h1v1h-1zM48 8h1v1h-1zM19 9h1v1h-1zM49 9h1v1h-1zM50 10h1v1h-1zM51 11h1v1h-1zM52 12h1v1h-1zM6 14h1v1h-1zM55 14h1v1h-1zM59 14h1v1h-1zM62 14h1v1h-1zM5 15h1v1h-1zM64 15h1v1h-1zM65 17h1v1h-1zM1 18h1v1h-1zM66 19h1v1h-1zM67 22h1v1h-1zM67 23h1v1h-1zM0 25h1v1h-1zM0 26h1v1h-1zM0 27h1v1h-1zM4 55h1v1h-1zM64 55h1v1h-1zM5 56h1v1h-1zM21 56h3v1h-3zM39 56h3v1h-3zM27 57h4v1h-4zM37 57h1v1h-1zM43 57h1v1h-1zM59 57h2v1h-2zM8 58h1v1h-1zM12 58h5v1h-5zM33 58h3v1h-3zM56 58h1v1h-1zM46 59h1v1h-1zM53 59h1v1h-1z"/>
<path fill="#080808" d="M29 2h1v1h-1zM36 2h1v1h-1zM27 3h1v1h-1zM41 3h1v1h-1zM23 6h1v1h-1zM47 7h1v1h-1zM17 12h1v1h-1zM16 13h1v1h-1zM53 13h1v1h-1zM7 14h1v1h-1zM12 14h2v1h-2zM54 14h1v1h-1zM60 14h2v1h-2zM56 15h2v1h-2zM63 15h1v1h-1zM4 16h1v1h-1zM3 17h1v1h-1zM0 20h1v1h-1zM66 20h1v1h-1zM0 24h1v1h-1zM67 24h1v1h-1zM67 25h1v1h-1zM67 52h1v1h-1zM3 54h1v1h-1zM65 54h1v1h-1zM20 56h1v1h-1zM24 56h1v1h-1zM38 56h1v1h-1zM42 56h1v1h-1zM62 56h1v1h-1zM7 57h1v1h-1zM18 57h1v1h-1zM31 57h3v1h-3zM35 57h2v1h-2zM57 57h2v1h-2zM9 58h3v1h-3zM45 58h1v1h-1zM54 58h2v1h-2zM47 59h2v1h-2zM51 59h2v1h-2z"/>
<path fill="#090909" d="M30 2h2v1h-2zM34 2h2v1h-2zM40 3h1v1h-1zM26 4h1v1h-1zM42 4h1v1h-1zM44 5h1v1h-1zM45 6h1v1h-1zM49 10h1v1h-1zM18 11h1v1h-1zM50 11h1v1h-1zM8 14h4v1h-4zM14 14h1v1h-1zM6 15h1v1h-1zM55 15h1v1h-1zM58 15h1v1h-1zM64 16h1v1h-1zM2 18h1v1h-1zM65 18h1v1h-1zM1 19h1v1h-1zM0 21h1v1h-1zM66 21h1v1h-1zM0 22h1v1h-1zM0 23h1v1h-1zM1 26h1v1h-1zM67 26h1v1h-1zM0 28h1v1h-1zM0 51h1v1h-1zM1 52h1v1h-1zM2 53h1v1h-1zM66 53h1v1h-1zM5 55h1v1h-1zM63 55h1v1h-1zM6 56h1v1h-1zM19 56h1v1h-1zM25 56h1v1h-1zM37 56h1v1h-1zM61 56h1v1h-1zM8 57h1v1h-1zM13 57h5v1h-5zM34 57h1v1h-1zM44 57h1v1h-1zM56 57h1v1h-1zM46 58h1v1h-1zM53 58h1v1h-1zM49 59h2v1h-2z"/>
<path fill="#0a0a0a" d="M32 2h2v1h-2zM28 3h1v1h-1zM39 3h1v1h-1zM25 5h1v1h-1zM22 7h1v1h-1zM46 7h1v1h-1zM47 8h1v1h-1zM48 9h1v1h-1zM19 10h1v1h-1zM51 12h1v1h-1zM52 13h1v1h-1zM15 14h1v1h-1zM59 15h2v1h-2zM62 15h1v1h-1zM5 16h1v1h-1zM4 17h1v1h-1zM64 17h1v1h-1zM65 19h1v1h-1zM66 22h1v1h-1zM1 25h1v1h-1zM1 27h1v1h-1zM67 27h1v1h-1zM4 54h1v1h-1zM21 55h2v1h-2zM39 55h3v1h-3zM7 56h1v1h-1zM18 56h1v1h-1zM26 56h8v1h-8zM35 56h2v1h-2zM43 56h1v1h-1zM59 56h2v1h-2zM9 57h4v1h-4zM45 57h1v1h-1zM54 57h2v1h-2zM47 58h1v1h-1zM52 58h1v1h-1z"/>
<path fill="#0b0b0b" d="M38 3h1v1h-1zM43 5h1v1h-1zM21 8h1v1h-1zM20 9h1v1h-1zM18 12h1v1h-1zM17 13h1v1h-1zM16 14h1v1h-1zM53 14h1v1h-1zM7 15h1v1h-1zM54 15h1v1h-1zM61 15h1v1h-1zM6 16h1v1h-1zM56 16h3v1h-3zM63 16h1v1h-1zM3 18h1v1h-1zM1 20h1v1h-1zM66 23h1v1h-1zM1 24h1v1h-1zM66 24h1v1h-1zM66 25h1v1h-1zM0 29h1v1h-1zM0 50h1v1h-1zM67 51h1v1h-1zM3 53h1v1h-1zM64 54h1v1h-1zM6 55h1v1h-1zM20 55h1v1h-1zM23 55h1v1h-1zM38 55h1v1h-1zM42 55h1v1h-1zM62 55h1v1h-1zM17 56h1v1h-1zM34 56h1v1h-1zM56 56h3v1h-3zM53 57h1v1h-1zM48 58h4v1h-4z"/>
<path fill="#0c0c0c" d="M27 4h1v1h-1zM41 4h1v1h-1zM24 6h1v1h-1zM44 6h1v1h-1zM8 15h7v1h-7zM55 16h1v1h-1zM59 16h1v1h-1zM5 17h1v1h-1zM64 18h1v1h-1zM2 19h1v1h-1zM65 20h1v1h-1zM1 21h1v1h-1zM1 23h1v1h-1zM66 26h1v1h-1zM67 28h1v1h-1zM66 52h1v1h-1zM65 53h1v1h-1zM19 55h1v1h-1zM24 55h1v1h-1zM31 55h2v1h-2zM36 55h2v1h-2zM61 55h1v1h-1zM8 56h1v1h-1zM12 56h5v1h-5zM44 56h1v1h-1zM55 56h1v1h-1zM46 57h1v1h-1zM52 57h1v1h-1z"/>
<path fill="#0d0d0d" d="M29 3h1v1h-1zM36 3h2v1h-2zM45 7h1v1h-1zM48 10h1v1h-1zM19 11h1v1h-1zM49 11h1v1h-1zM50 12h1v1h-1zM15 15h1v1h-1zM7 16h1v1h-1zM60 16h1v1h-1zM62 16h1v1h-1zM56 17h2v1h-2zM63 17h1v1h-1zM4 18h1v1h-1zM65 21h1v1h-1zM1 22h1v1h-1zM65 22h1v1h-1zM2 25h1v1h-1zM2 26h1v1h-1zM1 28h1v1h-1zM1 51h1v1h-1zM2 52h1v1h-1zM5 54h1v1h-1zM39 54h2v1h-2zM63 54h1v1h-1zM7 55h1v1h-1zM25 55h1v1h-1zM29 55h2v1h-2zM33 55h3v1h-3zM43 55h1v1h-1zM60 55h1v1h-1zM9 56h3v1h-3zM45 56h1v1h-1zM54 56h1v1h-1zM47 57h2v1h-2zM50 57h2v1h-2z"/>
<path fill="#0e0e0e" d="M30 3h1v1h-1zM35 3h1v1h-1zM40 4h1v1h-1zM26 5h1v1h-1zM42 5h1v1h-1zM23 7h1v1h-1zM46 8h1v1h-1zM47 9h1v1h-1zM51 13h1v1h-1zM17 14h1v1h-1zM52 14h1v1h-1zM8 16h2v1h-2zM61 16h1v1h-1zM6 17h1v1h-1zM58 17h1v1h-1zM3 19h1v1h-1zM64 19h1v1h-1zM2 20h1v1h-1zM65 23h1v1h-1zM2 24h1v1h-1zM65 24h1v1h-1zM65 25h1v1h-1zM2 27h1v1h-1zM66 27h1v1h-1zM67 29h1v1h-1zM0 30h1v1h-1zM0 49h1v1h-1zM67 50h1v1h-1zM4 53h1v1h-1zM21 54h2v1h-2zM37 54h2v1h-2zM41 54h1v1h-1zM18 55h1v1h-1zM26 55h3v1h-3zM57 55h3v1h-3zM52 56h2v1h-2zM49 57h1v1h-1z"/>
<path fill="#0f0f0f" d="M34 3h1v1h-1zM22 8h1v1h-1zM20 10h1v1h-1zM18 13h1v1h-1zM53 15h1v1h-1zM10 16h4v1h-4zM54 16h1v1h-1zM7 17h1v1h-1zM55 17h1v1h-1zM59 17h1v1h-1zM62 17h1v1h-1zM5 18h1v1h-1zM57 18h1v1h-1zM63 18h1v1h-1zM64 20h1v1h-1zM65 26h1v1h-1zM67 30h1v1h-1zM0 31h1v1h-1zM0 34h1v1h-1zM0 35h1v1h-1zM64 53h1v1h-1zM6 54h1v1h-1zM20 54h1v1h-1zM23 54h1v1h-1zM31 54h6v1h-6zM42 54h1v1h-1zM62 54h1v1h-1zM8 55h1v1h-1zM17 55h1v1h-1zM44 55h1v1h-1zM55 55h2v1h-2zM46 56h1v1h-1zM51 56h1v1h-1z"/>
<path fill="#101010" d="M31 3h3v1h-3zM28 4h1v1h-1zM39 4h1v1h-1zM25 6h1v1h-1zM43 6h1v1h-1zM21 9h1v1h-1zM16 15h1v1h-1zM14 16h1v1h-1zM8 17h2v1h-2zM60 17h2v1h-2zM6 18h1v1h-1zM56 18h1v1h-1zM58 18h1v1h-1zM4 19h1v1h-1zM2 21h1v1h-1zM64 21h1v1h-1zM64 22h1v1h-1zM2 23h1v1h-1zM64 23h1v1h-1zM64 24h1v1h-1zM3 25h1v1h-1zM64 25h1v1h-1zM3 26h1v1h-1zM66 28h1v1h-1zM1 29h1v1h-1zM0 32h1v1h-1zM0 33h1v1h-1zM0 36h1v1h-1zM0 48h1v1h-1zM67 49h1v1h-1zM1 50h1v1h-1zM66 51h1v1h-1zM3 52h1v1h-1zM65 52h1v1h-1zM19 54h1v1h-1zM30 54h1v1h-1zM9 55h8v1h-8zM53 55h2v1h-2zM47 56h4v1h-4z"/>
<path fill="#111111" d="M41 5h1v1h-1zM19 12h1v1h-1zM49 12h1v1h-1zM50 13h1v1h-1zM10 17h3v1h-3zM7 18h1v1h-1zM55 18h1v1h-1zM59 18h1v1h-1zM62 18h1v1h-1zM63 19h1v1h-1zM3 20h1v1h-1zM2 22h1v1h-1zM63 25h1v1h-1zM64 26h1v1h-1zM3 27h1v1h-1zM65 27h1v1h-1zM2 28h1v1h-1zM67 31h1v1h-1zM2 51h1v1h-1zM5 53h1v1h-1zM38 53h3v1h-3zM7 54h1v1h-1zM24 54h1v1h-1zM29 54h1v1h-1zM43 54h1v1h-1zM61 54h1v1h-1zM45 55h1v1h-1zM52 55h1v1h-1z"/>
<path fill="#121212" d="M38 4h1v1h-1zM24 7h1v1h-1zM44 7h1v1h-1zM48 11h1v1h-1zM18 14h1v1h-1zM51 14h1v1h-1zM52 15h1v1h-1zM15 16h1v1h-1zM53 16h1v1h-1zM13 17h1v1h-1zM54 17h1v1h-1zM8 18h3v1h-3zM60 18h2v1h-2zM5 19h1v1h-1zM56 19h3v1h-3zM63 20h1v1h-1zM63 21h1v1h-1zM63 23h1v1h-1zM3 24h1v1h-1zM63 24h1v1h-1zM4 25h1v1h-1zM61 25h2v1h-2zM4 26h1v1h-1zM61 26h3v1h-3zM64 27h1v1h-1zM66 29h1v1h-1zM0 37h1v1h-1zM67 48h1v1h-1zM32 53h6v1h-6zM41 53h1v1h-1zM63 53h1v1h-1zM18 54h1v1h-1zM25 54h1v1h-1zM28 54h1v1h-1zM60 54h1v1h-1zM51 55h1v1h-1z"/>
<path fill="#131313" d="M29 4h1v1h-1zM37 4h1v1h-1zM27 5h1v1h-1zM45 8h1v1h-1zM46 9h1v1h-1zM47 10h1v1h-1zM17 15h1v1h-1zM11 18h1v1h-1zM6 19h5v1h-5zM59 19h1v1h-1zM62 19h1v1h-1zM4 20h1v1h-1zM3 21h1v1h-1zM63 22h1v1h-1zM3 23h1v1h-1zM61 24h2v1h-2zM60 25h1v1h-1zM60 26h1v1h-1zM61 27h3v1h-3zM65 28h1v1h-1zM1 30h1v1h-1zM67 32h1v1h-1zM0 47h1v1h-1zM66 50h1v1h-1zM4 52h1v1h-1zM21 53h1v1h-1zM31 53h1v1h-1zM8 54h1v1h-1zM17 54h1v1h-1zM26 54h2v1h-2zM54 54h6v1h-6zM46 55h1v1h-1zM50 55h1v1h-1z"/>
<path fill="#141414" d="M40 5h1v1h-1zM42 6h1v1h-1zM20 11h1v1h-1zM19 13h1v1h-1zM14 17h1v1h-1zM12 18h1v1h-1zM54 18h1v1h-1zM11 19h1v1h-1zM55 19h1v1h-1zM60 19h2v1h-2zM5 20h1v1h-1zM9 20h2v1h-2zM57 20h3v1h-3zM62 20h1v1h-1zM62 21h1v1h-1zM3 22h1v1h-1zM62 22h1v1h-1zM62 23h1v1h-1zM4 24h1v1h-1zM60 24h1v1h-1zM5 25h1v1h-1zM5 26h1v1h-1zM4 27h1v1h-1zM60 27h1v1h-1zM0 38h1v1h-1zM67 47h1v1h-1zM1 49h1v1h-1zM64 52h1v1h-1zM6 53h1v1h-1zM20 53h1v1h-1zM22 53h1v1h-1zM30 53h1v1h-1zM42 53h1v1h-1zM9 54h5v1h-5zM16 54h1v1h-1zM44 54h1v1h-1zM53 54h1v1h-1zM47 55h3v1h-3z"/>
<path fill="#151515" d="M36 4h1v1h-1zM26 6h1v1h-1zM23 8h1v1h-1zM16 16h1v1h-1zM53 17h1v1h-1zM6 20h3v1h-3zM11 20h1v1h-1zM56 20h1v1h-1zM60 20h2v1h-2zM4 21h1v1h-1zM9 21h2v1h-2zM61 21h1v1h-1zM61 22h1v1h-1zM4 23h1v1h-1zM60 23h2v1h-2zM5 24h1v1h-1zM9 24h1v1h-1zM6 25h3v1h-3zM59 25h1v1h-1zM6 26h1v1h-1zM59 26h1v1h-1zM3 28h1v1h-1zM61 28h4v1h-4zM2 29h1v1h-1zM66 30h1v1h-1zM1 31h1v1h-1zM67 33h1v1h-1zM1 34h1v1h-1zM1 35h1v1h-1zM0 46h1v1h-1zM2 50h1v1h-1zM3 51h1v1h-1zM65 51h1v1h-1zM32 52h4v1h-4zM37 52h4v1h-4zM19 53h1v1h-1zM23 53h1v1h-1zM29 53h1v1h-1zM62 53h1v1h-1zM14 54h2v1h-2zM52 54h1v1h-1z"/>
<path fill="#161616" d="M30 4h1v1h-1zM22 9h1v1h-1zM21 10h1v1h-1zM49 13h1v1h-1zM50 14h1v1h-1zM52 16h1v1h-1zM13 18h1v1h-1zM12 19h1v1h-1zM5 21h1v1h-1zM7 21h2v1h-2zM11 21h1v1h-1zM57 21h4v1h-4zM4 22h1v1h-1zM8 22h3v1h-3zM59 22h2v1h-2zM8 23h3v1h-3zM59 23h1v1h-1zM6 24h3v1h-3zM10 24h1v1h-1zM59 24h1v1h-1zM9 25h2v1h-2zM7 26h2v1h-2zM5 27h1v1h-1zM59 27h1v1h-1zM60 28h1v1h-1zM65 29h1v1h-1zM1 32h1v1h-1zM1 33h1v1h-1zM67 34h1v1h-1zM1 36h1v1h-1zM67 46h1v1h-1zM66 49h1v1h-1zM31 52h1v1h-1zM36 52h1v1h-1zM41 52h1v1h-1zM7 53h1v1h-1zM24 53h1v1h-1zM43 53h1v1h-1zM61 53h1v1h-1zM45 54h1v1h-1zM51 54h1v1h-1z"/>
<path fill="#171717" d="M35 4h1v1h-1zM28 5h1v1h-1zM39 5h1v1h-1zM43 7h1v1h-1zM48 12h1v1h-1zM18 15h1v1h-1zM51 15h1v1h-1zM15 17h1v1h-1zM54 19h1v1h-1zM12 20h1v1h-1zM55 20h1v1h-1zM6 21h1v1h-1zM5 22h3v1h-3zM11 22h1v1h-1zM58 22h1v1h-1zM5 23h3v1h-3zM11 23h1v1h-1zM9 26h1v1h-1zM6 27h1v1h-1zM61 29h1v1h-1zM66 31h1v1h-1zM67 35h1v1h-1zM0 39h1v1h-1zM1 48h1v1h-1zM5 52h1v1h-1zM18 53h1v1h-1zM25 53h1v1h-1zM28 53h1v1h-1zM46 54h1v1h-1zM50 54h1v1h-1z"/>
<path fill="#181818" d="M31 4h1v1h-1zM34 4h1v1h-1zM25 7h1v1h-1zM20 12h1v1h-1zM19 14h1v1h-1zM17 16h1v1h-1zM14 18h1v1h-1zM53 18h1v1h-1zM13 19h1v1h-1zM56 21h1v1h-1zM58 23h1v1h-1zM11 24h1v1h-1zM58 24h1v1h-1zM11 25h1v1h-1zM58 25h1v1h-1zM10 26h1v1h-1zM7 27h1v1h-1zM4 28h1v1h-1zM59 28h1v1h-1zM60 29h1v1h-1zM62 29h3v1h-3zM67 36h1v1h-1zM67 37h1v1h-1zM0 45h1v1h-1zM67 45h1v1h-1zM30 52h1v1h-1zM42 52h1v1h-1zM63 52h1v1h-1zM8 53h1v1h-1zM26 53h2v1h-2zM44 53h1v1h-1zM54 53h7v1h-7zM47 54h3v1h-3z"/>
<path fill="#191919" d="M32 4h2v1h-2zM41 6h1v1h-1zM47 11h1v1h-1zM12 21h1v1h-1zM57 22h1v1h-1zM58 26h1v1h-1zM8 27h2v1h-2zM3 29h1v1h-1zM2 30h1v1h-1zM65 30h1v1h-1zM1 37h1v1h-1zM67 38h1v1h-1zM66 48h1v1h-1zM65 50h1v1h-1zM4 51h1v1h-1zM32 51h4v1h-4zM64 51h1v1h-1zM6 52h1v1h-1zM20 52h3v1h-3zM29 52h1v1h-1zM9 53h1v1h-1zM17 53h1v1h-1zM53 53h1v1h-1z"/>
<path fill="#1a1a1a" d="M38 5h1v1h-1zM44 8h1v1h-1zM46 10h1v1h-1zM16 17h1v1h-1zM52 17h1v1h-1zM54 20h1v1h-1zM55 21h1v1h-1zM12 22h1v1h-1zM12 23h1v1h-1zM57 23h1v1h-1zM11 26h1v1h-1zM10 27h1v1h-1zM58 27h1v1h-1zM5 28h1v1h-1zM66 32h1v1h-1zM67 39h1v1h-1zM0 40h1v1h-1zM67 40h1v1h-1zM0 44h1v1h-1zM67 44h1v1h-1zM1 47h1v1h-1zM2 49h1v1h-1zM3 50h1v1h-1zM31 51h1v1h-1zM36 51h5v1h-5zM23 52h1v1h-1zM62 52h1v1h-1zM10 53h7v1h-7zM52 53h1v1h-1z"/>
<path fill="#1b1b1b" d="M27 6h1v1h-1zM24 8h1v1h-1zM45 9h1v1h-1zM21 11h1v1h-1zM20 13h1v1h-1zM49 14h1v1h-1zM50 15h1v1h-1zM51 16h1v1h-1zM53 19h1v1h-1zM13 20h1v1h-1zM56 22h1v1h-1zM12 24h1v1h-1zM57 24h1v1h-1zM12 25h1v1h-1zM6 28h1v1h-1zM59 29h1v1h-1zM61 30h2v1h-2zM64 30h1v1h-1zM0 41h1v1h-1zM67 41h1v1h-1zM67 42h1v1h-1zM0 43h1v1h-1zM67 43h1v1h-1zM41 51h1v1h-1zM19 52h1v1h-1zM28 52h1v1h-1zM43 52h1v1h-1zM45 53h1v1h-1zM51 53h1v1h-1z"/>
<path fill="#1c1c1c" d="M29 5h1v1h-1zM48 13h1v1h-1zM19 15h1v1h-1zM15 18h1v1h-1zM14 19h1v1h-1zM57 25h1v1h-1zM11 27h1v1h-1zM7 28h2v1h-2zM58 28h1v1h-1zM60 30h1v1h-1zM63 30h1v1h-1zM2 31h1v1h-1zM65 31h1v1h-1zM66 33h1v1h-1zM2 34h1v1h-1zM2 35h1v1h-1zM0 42h1v1h-1zM66 47h1v1h-1zM5 51h1v1h-1zM30 51h1v1h-1zM7 52h1v1h-1zM24 52h1v1h-1zM61 52h1v1h-1zM46 53h1v1h-1zM50 53h1v1h-1z"/>
<path fill="#1d1d1d" d="M37 5h1v1h-1zM40 6h1v1h-1zM42 7h1v1h-1zM23 9h1v1h-1zM22 10h1v1h-1zM18 16h1v1h-1zM52 18h1v1h-1zM13 21h1v1h-1zM54 21h1v1h-1zM55 22h1v1h-1zM56 23h1v1h-1zM12 26h1v1h-1zM57 26h1v1h-1zM9 28h1v1h-1zM4 29h1v1h-1zM2 32h1v1h-1zM2 33h1v1h-1zM1 38h1v1h-1zM65 49h1v1h-1zM33 50h1v1h-1zM42 51h1v1h-1zM63 51h1v1h-1zM8 52h1v1h-1zM18 52h1v1h-1zM25 52h3v1h-3zM44 52h1v1h-1zM60 52h1v1h-1zM47 53h3v1h-3z"/>
<path fill="#1e1e1e" d="M26 7h1v1h-1zM53 20h1v1h-1zM13 22h1v1h-1zM56 24h1v1h-1zM57 27h1v1h-1zM10 28h1v1h-1zM3 30h1v1h-1zM66 34h1v1h-1zM2 36h1v1h-1zM1 46h1v1h-1zM2 48h1v1h-1zM4 50h1v1h-1zM32 50h1v1h-1zM34 50h3v1h-3zM38 50h1v1h-1zM64 50h1v1h-1zM21 51h1v1h-1zM29 51h1v1h-1zM17 52h1v1h-1zM53 52h7v1h-7z"/>
<path fill="#1f1f1f" d="M36 5h1v1h-1zM47 12h1v1h-1zM20 14h1v1h-1zM17 17h1v1h-1zM51 17h1v1h-1zM52 19h1v1h-1zM13 23h1v1h-1zM56 25h1v1h-1zM12 27h1v1h-1zM11 28h1v1h-1zM5 29h1v1h-1zM58 29h1v1h-1zM59 30h1v1h-1zM60 31h3v1h-3zM64 31h1v1h-1zM65 32h1v1h-1zM66 35h1v1h-1zM66 46h1v1h-1zM3 49h1v1h-1zM31 50h1v1h-1zM37 50h1v1h-1zM39 50h2v1h-2zM6 51h1v1h-1zM20 51h1v1h-1zM22 51h1v1h-1zM9 52h4v1h-4zM16 52h1v1h-1zM52 52h1v1h-1z"/>
<path fill="#202020" d="M30 5h1v1h-1zM21 12h1v1h-1zM49 15h1v1h-1zM50 16h1v1h-1zM14 20h1v1h-1zM54 22h1v1h-1zM55 23h1v1h-1zM13 24h1v1h-1zM13 25h1v1h-1zM6 29h1v1h-1zM63 31h1v1h-1zM41 50h1v1h-1zM19 51h1v1h-1zM23 51h1v1h-1zM28 51h1v1h-1zM43 51h1v1h-1zM62 51h1v1h-1zM13 52h3v1h-3zM45 52h1v1h-1zM51 52h1v1h-1z"/>
<path fill="#212121" d="M35 5h1v1h-1zM28 6h1v1h-1zM39 6h1v1h-1zM43 8h1v1h-1zM46 11h1v1h-1zM48 14h1v1h-1zM16 18h1v1h-1zM15 19h1v1h-1zM53 21h1v1h-1zM13 26h1v1h-1zM56 26h1v1h-1zM57 28h1v1h-1zM7 29h3v1h-3zM3 31h1v1h-1zM66 36h1v1h-1zM2 37h1v1h-1zM66 37h1v1h-1zM1 39h1v1h-1zM1 45h1v1h-1zM65 48h1v1h-1zM30 50h1v1h-1zM7 51h1v1h-1zM24 51h1v1h-1zM50 52h1v1h-1z"/>
<path fill="#222222" d="M25 8h1v1h-1zM19 16h1v1h-1zM51 18h1v1h-1zM52 20h1v1h-1zM55 24h1v1h-1zM12 28h1v1h-1zM10 29h1v1h-1zM4 30h1v1h-1zM59 31h1v1h-1zM65 33h1v1h-1zM3 34h1v1h-1zM66 38h1v1h-1zM66 45h1v1h-1zM2 47h1v1h-1zM64 49h1v1h-1zM5 50h1v1h-1zM42 50h1v1h-1zM63 50h1v1h-1zM18 51h1v1h-1zM25 51h3v1h-3zM61 51h1v1h-1zM46 52h1v1h-1zM49 52h1v1h-1z"/>
<path fill="#232323" d="M31 5h1v1h-1zM34 5h1v1h-1zM41 7h1v1h-1zM44 9h1v1h-1zM45 10h1v1h-1zM20 15h1v1h-1zM18 17h1v1h-1zM14 21h1v1h-1zM54 23h1v1h-1zM55 25h1v1h-1zM13 27h1v1h-1zM56 27h1v1h-1zM11 29h1v1h-1zM58 30h1v1h-1zM3 32h1v1h-1zM60 32h3v1h-3zM64 32h1v1h-1zM3 33h1v1h-1zM3 35h1v1h-1zM33 49h2v1h-2zM29 50h1v1h-1zM8 51h1v1h-1zM44 51h1v1h-1zM60 51h1v1h-1zM47 52h2v1h-2z"/>
<path fill="#242424" d="M32 5h2v1h-2zM22 11h1v1h-1zM21 13h1v1h-1zM47 13h1v1h-1zM50 17h1v1h-1zM51 19h1v1h-1zM53 22h1v1h-1zM57 29h1v1h-1zM5 30h1v1h-1zM63 32h1v1h-1zM66 39h1v1h-1zM1 40h1v1h-1zM1 44h1v1h-1zM66 44h1v1h-1zM65 47h1v1h-1zM3 48h1v1h-1zM4 49h1v1h-1zM32 49h1v1h-1zM35 49h6v1h-6zM20 50h3v1h-3zM9 51h2v1h-2zM17 51h1v1h-1zM53 51h4v1h-4zM58 51h2v1h-2z"/>
<path fill="#252525" d="M38 6h1v1h-1zM24 9h1v1h-1zM49 16h1v1h-1zM52 21h1v1h-1zM14 22h1v1h-1zM54 24h1v1h-1zM55 26h1v1h-1zM13 28h1v1h-1zM12 29h1v1h-1zM6 30h1v1h-1zM8 30h3v1h-3zM59 32h1v1h-1zM65 34h1v1h-1zM3 36h1v1h-1zM66 40h1v1h-1zM31 49h1v1h-1zM41 49h1v1h-1zM6 50h1v1h-1zM23 50h1v1h-1zM28 50h1v1h-1zM43 50h1v1h-1zM62 50h1v1h-1zM11 51h6v1h-6zM45 51h1v1h-1zM51 51h2v1h-2zM57 51h1v1h-1z"/>
<path fill="#262626" d="M27 7h1v1h-1zM23 10h1v1h-1zM48 15h1v1h-1zM17 18h1v1h-1zM15 20h1v1h-1zM14 23h1v1h-1zM14 24h1v1h-1zM14 25h1v1h-1zM56 28h1v1h-1zM7 30h1v1h-1zM4 31h1v1h-1zM58 31h1v1h-1zM60 33h1v1h-1zM64 33h1v1h-1zM2 38h1v1h-1zM1 41h1v1h-1zM66 41h1v1h-1zM66 42h1v1h-1zM1 43h1v1h-1zM66 43h1v1h-1zM2 46h1v1h-1zM30 49h1v1h-1zM19 50h1v1h-1zM24 50h1v1h-1z"/>
<path fill="#272727" d="M29 6h1v1h-1zM21 14h1v1h-1zM50 18h1v1h-1zM16 19h1v1h-1zM51 20h1v1h-1zM53 23h1v1h-1zM54 25h1v1h-1zM14 26h1v1h-1zM55 27h1v1h-1zM11 30h1v1h-1zM61 33h2v1h-2zM65 35h1v1h-1zM1 42h1v1h-1zM64 48h1v1h-1zM5 49h1v1h-1zM42 49h1v1h-1zM63 49h1v1h-1zM7 50h1v1h-1zM18 50h1v1h-1zM25 50h1v1h-1zM27 50h1v1h-1zM61 50h1v1h-1zM50 51h1v1h-1z"/>
<path fill="#282828" d="M37 6h1v1h-1zM40 7h1v1h-1zM42 8h1v1h-1zM46 12h1v1h-1zM20 16h1v1h-1zM52 22h1v1h-1zM54 26h1v1h-1zM14 27h1v1h-1zM13 29h1v1h-1zM12 30h1v1h-1zM57 30h1v1h-1zM5 31h1v1h-1zM4 32h1v1h-1zM58 32h1v1h-1zM4 33h1v1h-1zM59 33h1v1h-1zM63 33h1v1h-1zM4 34h1v1h-1zM4 35h1v1h-1zM65 36h1v1h-1zM3 37h1v1h-1zM65 46h1v1h-1zM29 49h1v1h-1zM8 50h1v1h-1zM26 50h1v1h-1zM44 50h1v1h-1zM60 50h1v1h-1zM46 51h1v1h-1zM49 51h1v1h-1z"/>
<path fill="#292929" d="M22 12h1v1h-1zM47 14h1v1h-1zM19 17h1v1h-1zM49 17h1v1h-1zM53 24h1v1h-1zM56 29h1v1h-1zM6 31h5v1h-5zM64 34h1v1h-1zM3 47h1v1h-1zM4 48h1v1h-1zM38 48h3v1h-3zM20 49h3v1h-3zM9 50h4v1h-4zM17 50h1v1h-1zM59 50h1v1h-1zM47 51h2v1h-2z"/>
<path fill="#2a2a2a" d="M26 8h1v1h-1zM50 19h1v1h-1zM15 21h1v1h-1zM51 21h1v1h-1zM52 23h1v1h-1zM53 25h1v1h-1zM54 27h1v1h-1zM14 28h1v1h-1zM55 28h1v1h-1zM11 31h1v1h-1zM58 33h1v1h-1zM59 34h3v1h-3zM65 37h1v1h-1zM2 45h1v1h-1zM33 48h5v1h-5zM41 48h1v1h-1zM6 49h1v1h-1zM19 49h1v1h-1zM23 49h1v1h-1zM28 49h1v1h-1zM43 49h1v1h-1zM62 49h1v1h-1zM13 50h4v1h-4zM52 50h7v1h-7z"/>
<path fill="#2b2b2b" d="M36 6h1v1h-1zM21 15h1v1h-1zM48 16h1v1h-1zM18 18h1v1h-1zM53 26h1v1h-1zM13 30h1v1h-1zM12 31h1v1h-1zM57 31h1v1h-1zM5 32h1v1h-1zM5 33h1v1h-1zM5 34h1v1h-1zM62 34h2v1h-2zM4 36h1v1h-1zM65 38h1v1h-1zM2 39h1v1h-1zM65 45h1v1h-1zM64 47h1v1h-1zM32 48h1v1h-1zM63 48h1v1h-1zM7 49h1v1h-1zM24 49h1v1h-1zM45 50h1v1h-1zM51 50h1v1h-1z"/>
<path fill="#2c2c2c" d="M43 9h1v1h-1zM45 11h1v1h-1zM49 18h1v1h-1zM50 20h1v1h-1zM15 22h1v1h-1zM52 24h1v1h-1zM53 27h1v1h-1zM14 29h1v1h-1zM6 32h5v1h-5zM58 34h1v1h-1zM5 35h1v1h-1zM64 35h1v1h-1zM5 48h1v1h-1zM31 48h1v1h-1zM42 48h1v1h-1zM8 49h1v1h-1zM18 49h1v1h-1zM25 49h1v1h-1zM27 49h1v1h-1zM61 49h1v1h-1z"/>
<path fill="#2d2d2d" d="M30 6h1v1h-1zM28 7h1v1h-1zM39 7h1v1h-1zM25 9h1v1h-1zM22 13h1v1h-1zM47 15h1v1h-1zM17 19h1v1h-1zM16 20h1v1h-1zM51 22h1v1h-1zM15 23h1v1h-1zM15 25h1v1h-1zM52 25h1v1h-1zM15 26h1v1h-1zM52 26h1v1h-1zM15 27h1v1h-1zM54 28h1v1h-1zM55 29h1v1h-1zM56 30h1v1h-1zM11 32h1v1h-1zM57 32h1v1h-1zM6 33h1v1h-1zM59 35h2v1h-2zM65 39h1v1h-1zM3 46h1v1h-1zM39 47h2v1h-2zM21 48h1v1h-1zM30 48h1v1h-1zM9 49h5v1h-5zM17 49h1v1h-1zM26 49h1v1h-1zM44 49h1v1h-1zM60 49h1v1h-1zM46 50h1v1h-1zM50 50h1v1h-1z"/>
<path fill="#2e2e2e" d="M44 10h1v1h-1zM23 11h1v1h-1zM46 13h1v1h-1zM15 24h1v1h-1zM52 27h1v1h-1zM15 28h1v1h-1zM14 30h1v1h-1zM13 31h1v1h-1zM12 32h1v1h-1zM7 33h3v1h-3zM57 33h1v1h-1zM6 34h1v1h-1zM58 35h1v1h-1zM61 35h1v1h-1zM63 35h1v1h-1zM64 36h1v1h-1zM3 38h1v1h-1zM2 44h1v1h-1zM65 44h1v1h-1zM4 47h1v1h-1zM38 47h1v1h-1zM41 47h1v1h-1zM6 48h1v1h-1zM20 48h1v1h-1zM22 48h1v1h-1zM62 48h1v1h-1zM14 49h3v1h-3zM54 49h1v1h-1zM59 49h1v1h-1zM49 50h1v1h-1z"/>
<path fill="#2f2f2f" d="M35 6h1v1h-1zM24 10h1v1h-1zM21 16h1v1h-1zM20 17h1v1h-1zM48 17h1v1h-1zM49 19h1v1h-1zM50 21h1v1h-1zM51 23h1v1h-1zM53 28h1v1h-1zM56 31h1v1h-1zM10 33h1v1h-1zM7 34h1v1h-1zM57 34h1v1h-1zM6 35h1v1h-1zM62 35h1v1h-1zM5 36h1v1h-1zM4 37h1v1h-1zM2 40h1v1h-1zM65 40h1v1h-1zM64 46h1v1h-1zM37 47h1v1h-1zM19 48h1v1h-1zM23 48h1v1h-1zM29 48h1v1h-1zM43 48h1v1h-1zM52 49h2v1h-2zM55 49h4v1h-4zM47 50h2v1h-2z"/>
<path fill="#303030" d="M31 6h1v1h-1zM41 8h1v1h-1zM22 14h1v1h-1zM51 24h1v1h-1zM51 26h1v1h-1zM52 28h1v1h-1zM15 29h1v1h-1zM54 29h1v1h-1zM11 33h1v1h-1zM8 34h1v1h-1zM57 35h1v1h-1zM64 37h1v1h-1zM65 41h1v1h-1zM65 43h1v1h-1zM42 47h1v1h-1zM63 47h1v1h-1zM7 48h7v1h-7zM18 48h1v1h-1zM24 48h1v1h-1zM28 48h1v1h-1zM61 48h1v1h-1z"/>
<path fill="#313131" d="M34 6h1v1h-1zM19 18h1v1h-1zM16 21h1v1h-1zM51 25h1v1h-1zM51 27h1v1h-1zM55 30h1v1h-1zM14 31h1v1h-1zM13 32h1v1h-1zM56 32h1v1h-1zM12 33h1v1h-1zM56 33h1v1h-1zM9 34h1v1h-1zM56 34h1v1h-1zM7 35h1v1h-1zM58 36h3v1h-3zM63 36h1v1h-1zM2 41h1v1h-1zM65 42h1v1h-1zM2 43h1v1h-1zM40 46h1v1h-1zM5 47h1v1h-1zM35 47h2v1h-2zM14 48h4v1h-4zM25 48h1v1h-1zM27 48h1v1h-1zM60 48h1v1h-1zM45 49h1v1h-1zM51 49h1v1h-1z"/>
<path fill="#323232" d="M38 7h1v1h-1zM27 8h1v1h-1zM46 14h1v1h-1zM47 16h1v1h-1zM48 18h1v1h-1zM49 20h1v1h-1zM50 22h1v1h-1zM51 28h1v1h-1zM53 29h1v1h-1zM15 30h1v1h-1zM10 34h1v1h-1zM56 35h1v1h-1zM57 36h1v1h-1zM61 36h2v1h-2zM2 42h1v1h-1zM3 45h1v1h-1zM39 46h1v1h-1zM41 46h1v1h-1zM20 47h3v1h-3zM33 47h2v1h-2zM26 48h1v1h-1zM59 48h1v1h-1zM50 49h1v1h-1z"/>
<path fill="#333333" d="M32 6h2v1h-2zM23 12h1v1h-1zM45 12h1v1h-1zM22 15h1v1h-1zM18 19h1v1h-1zM16 26h1v1h-1zM16 27h1v1h-1zM16 28h1v1h-1zM52 29h1v1h-1zM54 30h1v1h-1zM55 31h1v1h-1zM14 32h1v1h-1zM13 33h1v1h-1zM11 34h1v1h-1zM8 35h1v1h-1zM55 35h1v1h-1zM6 36h1v1h-1zM55 36h2v1h-2zM64 38h1v1h-1zM64 45h1v1h-1zM4 46h1v1h-1zM38 46h1v1h-1zM6 47h1v1h-1zM10 47h4v1h-4zM19 47h1v1h-1zM23 47h1v1h-1zM31 47h2v1h-2zM62 47h1v1h-1zM44 48h1v1h-1zM53 48h6v1h-6zM46 49h1v1h-1z"/>
<path fill="#343434" d="M17 20h1v1h-1zM50 23h1v1h-1zM50 26h1v1h-1zM50 27h1v1h-1zM50 28h1v1h-1zM16 29h1v1h-1zM51 29h1v1h-1zM15 31h1v1h-1zM55 32h1v1h-1zM55 33h1v1h-1zM12 34h1v1h-1zM55 34h1v1h-1zM9 35h1v1h-1zM54 35h1v1h-1zM54 36h1v1h-1zM5 37h1v1h-1zM63 37h1v1h-1zM3 39h1v1h-1zM42 46h1v1h-1zM63 46h1v1h-1zM7 47h3v1h-3zM14 47h2v1h-2zM18 47h1v1h-1zM30 47h1v1h-1zM43 47h1v1h-1zM61 47h1v1h-1zM52 48h1v1h-1zM49 49h1v1h-1z"/>
<path fill="#353535" d="M29 7h1v1h-1zM42 9h1v1h-1zM49 21h1v1h-1zM16 22h1v1h-1zM50 24h1v1h-1zM16 25h1v1h-1zM50 25h1v1h-1zM50 29h1v1h-1zM16 30h1v1h-1zM53 30h1v1h-1zM54 34h1v1h-1zM10 35h1v1h-1zM53 35h1v1h-1zM7 36h1v1h-1zM53 36h1v1h-1zM54 37h7v1h-7zM4 38h1v1h-1zM64 39h1v1h-1zM40 45h1v1h-1zM37 46h1v1h-1zM16 47h2v1h-2zM24 47h1v1h-1zM29 47h1v1h-1zM60 47h1v1h-1zM47 49h2v1h-2z"/>
<path fill="#363636" d="M37 7h1v1h-1zM40 8h1v1h-1zM26 9h1v1h-1zM46 15h1v1h-1zM21 17h1v1h-1zM47 17h1v1h-1zM48 19h1v1h-1zM16 23h1v1h-1zM16 24h1v1h-1zM51 30h2v1h-2zM54 31h1v1h-1zM15 32h1v1h-1zM14 33h1v1h-1zM54 33h1v1h-1zM13 34h1v1h-1zM53 34h1v1h-1zM52 35h1v1h-1zM52 36h1v1h-1zM53 37h1v1h-1zM61 37h2v1h-2zM39 45h1v1h-1zM41 45h1v1h-1zM12 46h2v1h-2zM20 46h3v1h-3zM25 47h1v1h-1zM28 47h1v1h-1zM54 47h6v1h-6zM45 48h1v1h-1zM51 48h1v1h-1z"/>
<path fill="#373737" d="M24 11h1v1h-1zM23 13h1v1h-1zM22 16h1v1h-1zM20 18h1v1h-1zM49 28h1v1h-1zM16 31h1v1h-1zM53 31h1v1h-1zM54 32h1v1h-1zM52 34h1v1h-1zM11 35h1v1h-1zM51 35h1v1h-1zM8 36h1v1h-1zM51 36h1v1h-1zM52 37h1v1h-1zM63 38h1v1h-1zM64 40h1v1h-1zM3 44h1v1h-1zM64 44h1v1h-1zM5 46h1v1h-1zM10 46h2v1h-2zM14 46h2v1h-2zM19 46h1v1h-1zM23 46h1v1h-1zM36 46h1v1h-1zM62 46h1v1h-1zM26 47h2v1h-2zM53 47h1v1h-1z"/>
<path fill="#383838" d="M25 10h1v1h-1zM43 10h1v1h-1zM44 11h1v1h-1zM49 22h1v1h-1zM17 27h1v1h-1zM49 27h1v1h-1zM17 28h1v1h-1zM17 29h1v1h-1zM49 29h1v1h-1zM50 30h1v1h-1zM51 31h2v1h-2zM53 32h1v1h-1zM15 33h1v1h-1zM52 33h2v1h-2zM14 34h1v1h-1zM51 34h1v1h-1zM12 35h1v1h-1zM9 36h1v1h-1zM6 37h1v1h-1zM53 38h4v1h-4zM3 40h1v1h-1zM40 44h1v1h-1zM4 45h1v1h-1zM38 45h1v1h-1zM42 45h1v1h-1zM9 46h1v1h-1zM16 46h3v1h-3zM43 46h1v1h-1zM44 47h1v1h-1zM52 47h1v1h-1zM50 48h1v1h-1z"/>
<path fill="#393939" d="M45 13h1v1h-1zM23 14h1v1h-1zM47 18h1v1h-1zM48 20h1v1h-1zM17 21h1v1h-1zM49 26h1v1h-1zM17 30h1v1h-1zM50 31h1v1h-1zM16 32h1v1h-1zM51 32h2v1h-2zM51 33h1v1h-1zM50 34h1v1h-1zM13 35h1v1h-1zM50 35h1v1h-1zM50 36h1v1h-1zM51 37h1v1h-1zM52 38h1v1h-1zM57 38h3v1h-3zM64 41h1v1h-1zM64 43h1v1h-1zM41 44h1v1h-1zM13 45h1v1h-1zM63 45h1v1h-1zM6 46h3v1h-3zM24 46h1v1h-1zM35 46h1v1h-1zM54 46h4v1h-4zM60 46h2v1h-2zM46 48h1v1h-1z"/>
<path fill="#3a3a3a" d="M46 16h1v1h-1zM19 19h1v1h-1zM49 23h1v1h-1zM49 25h1v1h-1zM17 26h1v1h-1zM49 30h1v1h-1zM17 31h1v1h-1zM50 32h1v1h-1zM16 33h1v1h-1zM50 33h1v1h-1zM15 34h1v1h-1zM49 34h1v1h-1zM49 35h1v1h-1zM10 36h1v1h-1zM49 36h1v1h-1zM7 37h1v1h-1zM5 38h1v1h-1zM60 38h3v1h-3zM63 39h1v1h-1zM64 42h1v1h-1zM3 43h1v1h-1zM39 44h1v1h-1zM11 45h2v1h-2zM14 45h2v1h-2zM19 45h4v1h-4zM25 46h1v1h-1zM34 46h1v1h-1zM53 46h1v1h-1zM58 46h2v1h-2zM51 47h1v1h-1zM49 48h1v1h-1z"/>
<path fill="#3b3b3b" d="M30 7h1v1h-1zM36 7h1v1h-1zM28 8h1v1h-1zM39 8h1v1h-1zM18 20h1v1h-1zM49 24h1v1h-1zM49 31h1v1h-1zM17 32h1v1h-1zM49 33h1v1h-1zM14 35h1v1h-1zM48 35h1v1h-1zM11 36h1v1h-1zM50 37h1v1h-1zM51 38h1v1h-1zM4 39h1v1h-1zM53 39h3v1h-3zM3 41h1v1h-1zM40 43h2v1h-2zM42 44h1v1h-1zM10 45h1v1h-1zM16 45h3v1h-3zM23 45h1v1h-1zM37 45h1v1h-1zM55 45h1v1h-1zM26 46h1v1h-1zM30 46h4v1h-4zM47 48h2v1h-2z"/>
<path fill="#3c3c3c" d="M23 15h1v1h-1zM48 21h1v1h-1zM17 25h1v1h-1zM18 28h1v1h-1zM48 28h1v1h-1zM18 29h1v1h-1zM48 29h1v1h-1zM18 30h1v1h-1zM49 32h1v1h-1zM17 33h1v1h-1zM16 34h1v1h-1zM48 34h1v1h-1zM15 35h1v1h-1zM47 35h1v1h-1zM12 36h2v1h-2zM47 36h2v1h-2zM8 37h1v1h-1zM49 37h1v1h-1zM56 39h1v1h-1zM3 42h1v1h-1zM38 44h1v1h-1zM63 44h1v1h-1zM5 45h1v1h-1zM24 45h1v1h-1zM43 45h1v1h-1zM54 45h1v1h-1zM56 45h2v1h-2zM62 45h1v1h-1zM27 46h3v1h-3zM44 46h1v1h-1zM52 46h1v1h-1zM45 47h1v1h-1z"/>
<path fill="#3d3d3d" d="M24 12h1v1h-1zM45 14h1v1h-1zM22 17h1v1h-1zM21 18h1v1h-1zM47 19h1v1h-1zM17 22h1v1h-1zM48 27h1v1h-1zM48 30h1v1h-1zM18 31h1v1h-1zM48 33h1v1h-1zM17 34h1v1h-1zM47 34h1v1h-1zM16 35h1v1h-1zM46 35h1v1h-1zM14 36h2v1h-2zM46 36h1v1h-1zM9 37h1v1h-1zM52 39h1v1h-1zM57 39h2v1h-2zM62 39h1v1h-1zM63 40h1v1h-1zM39 43h1v1h-1zM42 43h1v1h-1zM4 44h1v1h-1zM12 44h5v1h-5zM19 44h4v1h-4zM9 45h1v1h-1zM53 45h1v1h-1zM58 45h1v1h-1zM61 45h1v1h-1zM50 47h1v1h-1z"/>
<path fill="#3e3e3e" d="M41 9h1v1h-1zM46 17h1v1h-1zM48 22h1v1h-1zM17 23h1v1h-1zM17 24h1v1h-1zM48 26h1v1h-1zM18 27h1v1h-1zM48 31h1v1h-1zM18 32h1v1h-1zM48 32h1v1h-1zM18 33h1v1h-1zM17 35h1v1h-1zM16 36h2v1h-2zM45 36h1v1h-1zM10 37h1v1h-1zM45 37h4v1h-4zM6 38h1v1h-1zM50 38h1v1h-1zM59 39h3v1h-3zM53 40h3v1h-3zM40 42h2v1h-2zM11 44h1v1h-1zM17 44h2v1h-2zM23 44h1v1h-1zM43 44h1v1h-1zM54 44h3v1h-3zM6 45h3v1h-3zM25 45h1v1h-1zM36 45h1v1h-1zM59 45h2v1h-2z"/>
<path fill="#3f3f3f" d="M35 7h1v1h-1zM27 9h1v1h-1zM44 12h1v1h-1zM23 16h1v1h-1zM19 30h1v1h-1zM47 33h1v1h-1zM18 34h1v1h-1zM46 34h1v1h-1zM18 35h1v1h-1zM45 35h1v1h-1zM18 36h1v1h-1zM44 36h1v1h-1zM11 37h7v1h-7zM44 37h1v1h-1zM16 38h1v1h-1zM51 39h1v1h-1zM56 40h1v1h-1zM41 41h1v1h-1zM63 41h1v1h-1zM42 42h1v1h-1zM14 43h8v1h-8zM63 43h1v1h-1zM24 44h1v1h-1zM53 44h1v1h-1zM57 44h1v1h-1zM26 45h1v1h-1zM52 45h1v1h-1zM51 46h1v1h-1zM46 47h1v1h-1zM49 47h1v1h-1z"/>
<path fill="#404040" d="M31 7h1v1h-1zM45 15h1v1h-1zM20 19h1v1h-1zM47 20h1v1h-1zM48 23h1v1h-1zM48 25h1v1h-1zM18 26h1v1h-1zM19 29h1v1h-1zM19 31h1v1h-1zM19 32h1v1h-1zM19 33h1v1h-1zM19 34h1v1h-1zM19 35h1v1h-1zM19 36h1v1h-1zM18 37h1v1h-1zM43 37h1v1h-1zM7 38h1v1h-1zM14 38h2v1h-2zM17 38h2v1h-2zM43 38h2v1h-2zM49 38h1v1h-1zM5 39h1v1h-1zM16 39h2v1h-2zM42 39h1v1h-1zM4 40h1v1h-1zM41 40h2v1h-2zM52 40h1v1h-1zM57 40h1v1h-1zM62 40h1v1h-1zM40 41h1v1h-1zM42 41h1v1h-1zM53 41h3v1h-3zM15 42h2v1h-2zM39 42h1v1h-1zM54 42h2v1h-2zM63 42h1v1h-1zM13 43h1v1h-1zM22 43h1v1h-1zM38 43h1v1h-1zM54 43h3v1h-3zM10 44h1v1h-1zM37 44h1v1h-1zM58 44h1v1h-1zM62 44h1v1h-1zM27 45h1v1h-1zM35 45h1v1h-1zM44 45h1v1h-1zM45 46h1v1h-1z"/>
<path fill="#414141" d="M38 8h1v1h-1zM26 10h1v1h-1zM25 11h1v1h-1zM24 13h1v1h-1zM46 18h1v1h-1zM18 21h1v1h-1zM48 24h1v1h-1zM19 28h1v1h-1zM47 29h1v1h-1zM47 30h1v1h-1zM47 31h1v1h-1zM47 32h1v1h-1zM19 37h1v1h-1zM8 38h1v1h-1zM13 38h1v1h-1zM19 38h1v1h-1zM42 38h1v1h-1zM45 38h2v1h-2zM48 38h1v1h-1zM14 39h2v1h-2zM18 39h2v1h-2zM41 39h1v1h-1zM43 39h1v1h-1zM15 40h4v1h-4zM40 40h1v1h-1zM58 40h2v1h-2zM15 41h4v1h-4zM56 41h1v1h-1zM14 42h1v1h-1zM17 42h5v1h-5zM53 42h1v1h-1zM56 42h1v1h-1zM4 43h1v1h-1zM12 43h1v1h-1zM23 43h1v1h-1zM43 43h1v1h-1zM53 43h1v1h-1zM57 43h1v1h-1zM5 44h1v1h-1zM9 44h1v1h-1zM25 44h1v1h-1zM59 44h3v1h-3zM28 45h1v1h-1zM47 47h2v1h-2z"/>
<path fill="#424242" d="M34 7h1v1h-1zM19 20h1v1h-1zM47 28h1v1h-1zM46 33h1v1h-1zM20 34h1v1h-1zM45 34h1v1h-1zM20 35h1v1h-1zM44 35h1v1h-1zM20 36h1v1h-1zM43 36h1v1h-1zM20 37h1v1h-1zM42 37h1v1h-1zM9 38h4v1h-4zM20 38h1v1h-1zM41 38h1v1h-1zM47 38h1v1h-1zM44 39h1v1h-1zM50 39h1v1h-1zM14 40h1v1h-1zM19 40h1v1h-1zM43 40h1v1h-1zM60 40h2v1h-2zM14 41h1v1h-1zM19 41h2v1h-2zM39 41h1v1h-1zM43 41h1v1h-1zM57 41h1v1h-1zM13 42h1v1h-1zM22 42h1v1h-1zM43 42h1v1h-1zM57 42h1v1h-1zM11 43h1v1h-1zM24 43h1v1h-1zM58 43h1v1h-1zM62 43h1v1h-1zM52 44h1v1h-1zM29 45h1v1h-1zM34 45h1v1h-1zM50 46h1v1h-1z"/>
<path fill="#434343" d="M32 7h2v1h-2zM29 8h1v1h-1zM42 10h1v1h-1zM43 11h1v1h-1zM24 14h1v1h-1zM47 21h1v1h-1zM18 25h1v1h-1zM19 27h1v1h-1zM47 27h1v1h-1zM20 30h1v1h-1zM20 31h1v1h-1zM20 32h1v1h-1zM20 33h1v1h-1zM21 36h1v1h-1zM21 37h1v1h-1zM13 39h1v1h-1zM20 39h1v1h-1zM40 39h1v1h-1zM13 40h1v1h-1zM20 40h1v1h-1zM51 40h1v1h-1zM4 41h1v1h-1zM13 41h1v1h-1zM21 41h1v1h-1zM52 41h1v1h-1zM58 41h1v1h-1zM62 41h1v1h-1zM4 42h1v1h-1zM12 42h1v1h-1zM23 42h1v1h-1zM38 42h1v1h-1zM58 42h1v1h-1zM62 42h1v1h-1zM59 43h1v1h-1zM6 44h1v1h-1zM8 44h1v1h-1zM26 44h1v1h-1zM36 44h1v1h-1zM44 44h1v1h-1zM30 45h4v1h-4zM51 45h1v1h-1z"/>
<path fill="#444444" d="M45 16h1v1h-1zM23 17h1v1h-1zM22 18h1v1h-1zM46 19h1v1h-1zM20 29h1v1h-1zM46 32h1v1h-1zM21 35h1v1h-1zM21 38h1v1h-1zM6 39h1v1h-1zM12 39h1v1h-1zM21 39h1v1h-1zM45 39h1v1h-1zM49 39h1v1h-1zM21 40h1v1h-1zM39 40h1v1h-1zM44 40h1v1h-1zM12 41h1v1h-1zM22 41h1v1h-1zM59 41h3v1h-3zM52 42h1v1h-1zM59 42h1v1h-1zM10 43h1v1h-1zM25 43h1v1h-1zM37 43h1v1h-1zM52 43h1v1h-1zM60 43h2v1h-2zM7 44h1v1h-1zM46 46h1v1h-1z"/>
<path fill="#454545" d="M40 9h1v1h-1zM44 13h1v1h-1zM24 15h1v1h-1zM21 19h1v1h-1zM18 22h1v1h-1zM47 22h1v1h-1zM18 24h1v1h-1zM47 26h1v1h-1zM20 28h1v1h-1zM21 33h1v1h-1zM21 34h1v1h-1zM43 35h1v1h-1zM22 36h1v1h-1zM42 36h1v1h-1zM22 37h1v1h-1zM41 37h1v1h-1zM22 38h1v1h-1zM40 38h1v1h-1zM7 39h1v1h-1zM11 39h1v1h-1zM22 39h1v1h-1zM46 39h1v1h-1zM5 40h1v1h-1zM12 40h1v1h-1zM22 40h1v1h-1zM23 41h1v1h-1zM38 41h1v1h-1zM44 41h1v1h-1zM11 42h1v1h-1zM24 42h1v1h-1zM60 42h2v1h-2zM9 43h1v1h-1zM44 43h1v1h-1zM27 44h1v1h-1zM45 45h1v1h-1zM49 46h1v1h-1z"/>
<path fill="#464646" d="M37 8h1v1h-1zM18 23h1v1h-1zM47 25h1v1h-1zM19 26h1v1h-1zM21 31h1v1h-1zM46 31h1v1h-1zM21 32h1v1h-1zM45 33h1v1h-1zM44 34h1v1h-1zM22 35h1v1h-1zM8 39h3v1h-3zM39 39h1v1h-1zM47 39h2v1h-2zM11 40h1v1h-1zM23 40h1v1h-1zM50 40h1v1h-1zM11 41h1v1h-1zM51 41h1v1h-1zM44 42h1v1h-1zM5 43h1v1h-1zM26 43h1v1h-1zM28 44h1v1h-1zM35 44h1v1h-1zM51 44h1v1h-1zM50 45h1v1h-1zM47 46h2v1h-2z"/>
<path fill="#474747" d="M25 12h1v1h-1zM45 17h1v1h-1zM46 20h1v1h-1zM47 23h1v1h-1zM47 24h1v1h-1zM46 29h1v1h-1zM21 30h1v1h-1zM46 30h1v1h-1zM22 34h1v1h-1zM23 37h1v1h-1zM23 38h1v1h-1zM23 39h1v1h-1zM38 40h1v1h-1zM45 40h1v1h-1zM24 41h1v1h-1zM10 42h1v1h-1zM25 42h1v1h-1zM37 42h1v1h-1zM51 42h1v1h-1zM8 43h1v1h-1zM51 43h1v1h-1z"/>
<path fill="#484848" d="M28 9h1v1h-1zM20 20h1v1h-1zM19 21h1v1h-1zM20 27h1v1h-1zM46 28h1v1h-1zM21 29h1v1h-1zM23 36h1v1h-1zM40 37h1v1h-1zM39 38h1v1h-1zM6 40h1v1h-1zM10 40h1v1h-1zM24 40h1v1h-1zM5 41h1v1h-1zM10 41h1v1h-1zM5 42h1v1h-1zM9 42h1v1h-1zM6 43h2v1h-2zM27 43h1v1h-1zM36 43h1v1h-1zM29 44h1v1h-1zM45 44h1v1h-1zM46 45h1v1h-1z"/>
<path fill="#494949" d="M44 14h1v1h-1zM24 16h1v1h-1zM19 25h1v1h-1zM46 27h1v1h-1zM45 32h1v1h-1zM22 33h1v1h-1zM23 35h1v1h-1zM41 36h1v1h-1zM24 38h1v1h-1zM24 39h1v1h-1zM38 39h1v1h-1zM7 40h3v1h-3zM46 40h1v1h-1zM49 40h1v1h-1zM25 41h1v1h-1zM37 41h1v1h-1zM45 41h1v1h-1zM50 41h1v1h-1zM26 42h1v1h-1zM30 44h1v1h-1zM34 44h1v1h-1zM50 44h1v1h-1zM49 45h1v1h-1z"/>
<path fill="#4a4a4a" d="M26 11h1v1h-1zM23 18h1v1h-1zM45 18h1v1h-1zM46 21h1v1h-1zM21 28h1v1h-1zM22 31h1v1h-1zM22 32h1v1h-1zM42 35h1v1h-1zM24 37h1v1h-1zM25 40h1v1h-1zM47 40h2v1h-2zM6 41h1v1h-1zM9 41h1v1h-1zM6 42h1v1h-1zM8 42h1v1h-1zM45 42h1v1h-1zM28 43h1v1h-1zM45 43h1v1h-1zM31 44h3v1h-3z"/>
<path fill="#4b4b4b" d="M30 8h1v1h-1zM39 9h1v1h-1zM27 10h1v1h-1zM41 10h1v1h-1zM25 13h1v1h-1zM44 15h1v1h-1zM22 19h1v1h-1zM20 26h1v1h-1zM46 26h1v1h-1zM22 30h1v1h-1zM44 33h1v1h-1zM23 34h1v1h-1zM43 34h1v1h-1zM24 36h1v1h-1zM25 38h1v1h-1zM25 39h1v1h-1zM37 40h1v1h-1zM7 41h2v1h-2zM26 41h1v1h-1zM7 42h1v1h-1zM27 42h1v1h-1zM36 42h1v1h-1zM50 42h1v1h-1zM35 43h1v1h-1zM50 43h1v1h-1zM47 45h2v1h-2z"/>
<path fill="#4c4c4c" d="M36 8h1v1h-1zM43 12h1v1h-1zM19 22h1v1h-1zM46 22h1v1h-1zM19 24h1v1h-1zM21 27h1v1h-1zM22 29h1v1h-1zM45 31h1v1h-1zM23 33h1v1h-1zM24 35h1v1h-1zM25 37h1v1h-1zM39 37h1v1h-1zM38 38h1v1h-1zM26 40h1v1h-1zM46 41h1v1h-1zM49 41h1v1h-1zM29 43h1v1h-1zM46 44h1v1h-1z"/>
<path fill="#4d4d4d" d="M25 14h1v1h-1zM24 17h1v1h-1zM45 19h1v1h-1zM21 20h1v1h-1zM19 23h1v1h-1zM46 25h1v1h-1zM45 30h1v1h-1zM40 36h1v1h-1zM26 39h1v1h-1zM37 39h1v1h-1zM27 41h1v1h-1zM28 42h1v1h-1zM49 44h1v1h-1z"/>
<path fill="#4e4e4e" d="M42 11h1v1h-1zM44 16h1v1h-1zM20 21h1v1h-1zM46 23h1v1h-1zM46 24h1v1h-1zM22 28h1v1h-1zM45 29h1v1h-1zM23 32h1v1h-1zM41 35h1v1h-1zM25 36h1v1h-1zM26 38h1v1h-1zM27 40h1v1h-1zM36 41h1v1h-1zM47 41h2v1h-2zM46 42h1v1h-1zM49 42h1v1h-1zM30 43h1v1h-1zM34 43h1v1h-1zM46 43h1v1h-1zM49 43h1v1h-1zM47 44h2v1h-2z"/>
<path fill="#4f4f4f" d="M45 20h1v1h-1zM20 25h1v1h-1zM45 28h1v1h-1zM23 31h1v1h-1zM44 32h1v1h-1zM24 34h1v1h-1zM26 37h1v1h-1zM27 39h1v1h-1zM36 40h1v1h-1zM28 41h1v1h-1zM29 42h1v1h-1zM35 42h1v1h-1zM31 43h1v1h-1z"/>
<path fill="#505050" d="M25 15h1v1h-1zM21 26h1v1h-1zM23 30h1v1h-1zM43 33h1v1h-1zM42 34h1v1h-1zM25 35h1v1h-1zM38 37h1v1h-1zM27 38h1v1h-1zM37 38h1v1h-1zM28 40h1v1h-1zM47 42h2v1h-2zM32 43h2v1h-2zM47 43h2v1h-2z"/>
<path fill="#515151" d="M31 8h1v1h-1zM35 8h1v1h-1zM38 9h1v1h-1zM26 12h1v1h-1zM43 13h1v1h-1zM44 17h1v1h-1zM23 19h1v1h-1zM22 27h1v1h-1zM45 27h1v1h-1zM23 29h1v1h-1zM24 33h1v1h-1zM26 36h1v1h-1zM39 36h1v1h-1zM28 39h1v1h-1zM36 39h1v1h-1zM29 41h1v1h-1zM35 41h1v1h-1zM30 42h1v1h-1z"/>
<path fill="#525252" d="M29 9h1v1h-1zM22 20h1v1h-1zM45 21h1v1h-1zM20 22h1v1h-1zM20 24h1v1h-1zM45 26h1v1h-1zM44 31h1v1h-1zM27 37h1v1h-1zM28 38h1v1h-1zM29 40h1v1h-1zM34 42h1v1h-1z"/>
<path fill="#535353" d="M40 10h1v1h-1zM24 18h1v1h-1zM44 18h1v1h-1zM21 21h1v1h-1zM20 23h1v1h-1zM21 25h1v1h-1zM23 28h1v1h-1zM24 32h1v1h-1zM25 34h1v1h-1zM40 35h1v1h-1zM37 37h1v1h-1zM36 38h1v1h-1zM29 39h1v1h-1zM35 40h1v1h-1zM30 41h1v1h-1zM31 42h1v1h-1zM33 42h1v1h-1z"/>
<path fill="#545454" d="M34 8h1v1h-1zM27 11h1v1h-1zM43 14h1v1h-1zM25 16h1v1h-1zM45 22h1v1h-1zM45 25h1v1h-1zM22 26h1v1h-1zM44 30h1v1h-1zM24 31h1v1h-1zM26 35h1v1h-1zM35 39h1v1h-1zM30 40h1v1h-1zM34 41h1v1h-1zM32 42h1v1h-1z"/>
<path fill="#555555" d="M32 8h1v1h-1zM28 10h1v1h-1zM26 13h1v1h-1zM45 23h1v1h-1zM45 24h1v1h-1zM23 27h1v1h-1zM44 29h1v1h-1zM24 30h1v1h-1zM43 32h1v1h-1zM41 34h1v1h-1zM27 36h1v1h-1zM38 36h1v1h-1zM28 37h1v1h-1zM29 38h1v1h-1zM30 39h1v1h-1zM34 40h1v1h-1zM31 41h1v1h-1z"/>
<path fill="#565656" d="M33 8h1v1h-1zM44 19h1v1h-1zM21 24h1v1h-1zM24 29h1v1h-1zM25 33h1v1h-1zM42 33h1v1h-1zM35 38h1v1h-1zM31 40h1v1h-1zM32 41h2v1h-2z"/>
<path fill="#575757" d="M37 9h1v1h-1zM41 11h1v1h-1zM42 12h1v1h-1zM43 15h1v1h-1zM23 20h1v1h-1zM22 21h1v1h-1zM21 22h1v1h-1zM44 28h1v1h-1zM39 35h1v1h-1zM36 37h1v1h-1zM30 38h1v1h-1zM31 39h1v1h-1zM34 39h1v1h-1zM32 40h2v1h-2z"/>
<path fill="#585858" d="M25 17h1v1h-1zM24 19h1v1h-1zM44 20h1v1h-1zM21 23h1v1h-1zM22 25h1v1h-1zM44 27h1v1h-1zM24 28h1v1h-1zM25 32h1v1h-1zM26 34h1v1h-1zM28 36h1v1h-1zM29 37h1v1h-1zM32 39h2v1h-2z"/>
<path fill="#595959" d="M26 14h1v1h-1zM43 16h1v1h-1zM23 26h1v1h-1zM25 31h1v1h-1zM43 31h1v1h-1zM27 35h1v1h-1zM37 36h1v1h-1zM31 38h1v1h-1zM34 38h1v1h-1z"/>
<path fill="#5a5a5a" d="M39 10h1v1h-1zM44 21h1v1h-1zM22 24h1v1h-1zM44 26h1v1h-1zM40 34h1v1h-1zM30 37h1v1h-1zM35 37h1v1h-1zM32 38h2v1h-2z"/>
<path fill="#5b5b5b" d="M30 9h1v1h-1zM27 12h1v1h-1zM22 22h1v1h-1zM24 27h1v1h-1zM25 30h1v1h-1zM26 33h1v1h-1zM38 35h1v1h-1z"/>
<path fill="#5c5c5c" d="M42 13h1v1h-1zM26 15h1v1h-1zM43 17h1v1h-1zM23 21h1v1h-1zM44 22h1v1h-1zM22 23h1v1h-1zM23 25h1v1h-1zM44 25h1v1h-1zM25 29h1v1h-1zM43 30h1v1h-1zM42 32h1v1h-1zM41 33h1v1h-1zM29 36h1v1h-1zM36 36h1v1h-1zM31 37h1v1h-1zM34 37h1v1h-1z"/>
<path fill="#5d5d5d" d="M36 9h1v1h-1zM24 20h1v1h-1zM44 23h1v1h-1zM44 24h1v1h-1zM43 29h1v1h-1zM26 32h1v1h-1zM27 34h1v1h-1zM28 35h1v1h-1zM32 37h2v1h-2z"/>
<path fill="#5e5e5e" d="M25 18h1v1h-1zM43 18h1v1h-1zM23 24h1v1h-1zM24 26h1v1h-1zM25 28h1v1h-1zM43 28h1v1h-1zM39 34h1v1h-1z"/>
<path fill="#5f5f5f" d="M29 10h1v1h-1zM28 11h1v1h-1zM42 14h1v1h-1zM23 22h1v1h-1zM23 23h1v1h-1zM26 31h1v1h-1zM37 35h1v1h-1zM30 36h1v1h-1zM35 36h1v1h-1z"/>
<path fill="#606060" d="M40 11h1v1h-1zM41 12h1v1h-1zM43 27h1v1h-1zM42 31h1v1h-1zM27 33h1v1h-1z"/>
<path fill="#616161" d="M38 10h1v1h-1zM27 13h1v1h-1zM26 16h1v1h-1zM43 19h1v1h-1zM24 21h1v1h-1zM24 25h1v1h-1zM25 27h1v1h-1zM26 30h1v1h-1zM40 33h1v1h-1zM29 35h1v1h-1zM31 36h1v1h-1zM34 36h1v1h-1z"/>
<path fill="#626262" d="M31 9h1v1h-1zM42 15h1v1h-1zM43 26h1v1h-1zM41 32h1v1h-1zM28 34h1v1h-1zM38 34h1v1h-1zM36 35h1v1h-1zM32 36h2v1h-2z"/>
<path fill="#636363" d="M35 9h1v1h-1zM25 19h1v1h-1zM43 20h1v1h-1zM24 22h1v1h-1zM24 24h1v1h-1zM26 29h1v1h-1zM42 30h1v1h-1zM27 32h1v1h-1z"/>
<path fill="#646464" d="M43 21h1v1h-1zM24 23h1v1h-1zM43 25h1v1h-1z"/>
<path fill="#656565" d="M42 16h1v1h-1zM43 22h1v1h-1zM43 24h1v1h-1zM25 26h1v1h-1zM42 29h1v1h-1zM30 35h1v1h-1zM35 35h1v1h-1z"/>
<path fill="#666666" d="M41 13h1v1h-1zM27 14h1v1h-1zM25 20h1v1h-1zM43 23h1v1h-1zM27 31h1v1h-1zM28 33h1v1h-1zM39 33h1v1h-1zM29 34h1v1h-1zM37 34h1v1h-1z"/>
<path fill="#676767" d="M32 9h1v1h-1zM34 9h1v1h-1zM39 11h1v1h-1zM28 12h1v1h-1zM26 17h1v1h-1zM26 28h1v1h-1zM42 28h1v1h-1zM41 31h1v1h-1zM31 35h1v1h-1z"/>
<path fill="#686868" d="M37 10h1v1h-1zM42 17h1v1h-1zM25 25h1v1h-1zM40 32h1v1h-1zM34 35h1v1h-1z"/>
<path fill="#696969" d="M33 9h1v1h-1zM30 10h1v1h-1zM40 12h1v1h-1zM25 21h1v1h-1zM42 27h1v1h-1zM27 30h1v1h-1zM28 32h1v1h-1zM36 34h1v1h-1zM32 35h2v1h-2z"/>
<path fill="#6a6a6a" d="M29 11h1v1h-1zM25 24h1v1h-1zM26 27h1v1h-1zM38 33h1v1h-1zM30 34h1v1h-1z"/>
<path fill="#6b6b6b" d="M41 14h1v1h-1zM42 18h1v1h-1zM25 22h1v1h-1zM25 23h1v1h-1zM41 30h1v1h-1zM29 33h1v1h-1z"/>
<path fill="#6c6c6c" d="M27 15h1v1h-1zM26 18h1v1h-1zM42 26h1v1h-1zM27 29h1v1h-1zM35 34h1v1h-1z"/>
<path fill="#6d6d6d" d="M28 31h1v1h-1zM39 32h1v1h-1zM31 34h1v1h-1z"/>
<path fill="#6e6e6e" d="M28 13h1v1h-1zM41 15h1v1h-1zM42 19h1v1h-1zM42 25h1v1h-1zM26 26h1v1h-1zM41 29h1v1h-1zM40 31h1v1h-1zM37 33h1v1h-1z"/>
<path fill="#6f6f6f" d="M36 10h1v1h-1zM38 11h1v1h-1zM32 34h1v1h-1zM34 34h1v1h-1z"/>
<path fill="#707070" d="M40 13h1v1h-1zM26 19h1v1h-1zM42 20h1v1h-1zM42 24h1v1h-1zM29 32h1v1h-1zM30 33h1v1h-1zM33 34h1v1h-1z"/>
<path fill="#717171" d="M42 21h1v1h-1zM42 22h1v1h-1zM42 23h1v1h-1zM27 28h1v1h-1zM41 28h1v1h-1zM28 30h1v1h-1zM36 33h1v1h-1z"/>
<path fill="#727272" d="M31 10h1v1h-1zM39 12h1v1h-1zM27 16h1v1h-1zM41 16h1v1h-1zM26 25h1v1h-1zM38 32h1v1h-1z"/>
<path fill="#737373" d="M26 20h1v1h-1zM40 30h1v1h-1z"/>
<path fill="#747474" d="M29 12h1v1h-1zM26 24h1v1h-1zM41 27h1v1h-1zM39 31h1v1h-1zM31 33h1v1h-1zM35 33h1v1h-1z"/>
<path fill="#757575" d="M26 21h1v1h-1zM29 31h1v1h-1z"/>
<path fill="#767676" d="M35 10h1v1h-1zM30 11h1v1h-1zM28 14h1v1h-1zM40 14h1v1h-1zM26 22h1v1h-1zM26 23h1v1h-1zM27 27h1v1h-1zM30 32h1v1h-1zM32 33h1v1h-1z"/>
<path fill="#777777" d="M41 17h1v1h-1zM41 26h1v1h-1zM28 29h1v1h-1zM37 32h1v1h-1zM33 33h2v1h-2z"/>
<path fill="#787878" d="M37 11h1v1h-1zM40 29h1v1h-1z"/>
<path fill="#797979" d="M32 10h1v1h-1zM27 17h1v1h-1z"/>
<path fill="#7a7a7a" d="M34 10h1v1h-1z"/>
<path fill="#7b7b7b" d="M39 13h1v1h-1zM41 18h1v1h-1zM41 25h1v1h-1zM29 30h1v1h-1zM39 30h1v1h-1zM38 31h1v1h-1zM31 32h1v1h-1zM36 32h1v1h-1z"/>
<path fill="#7c7c7c" d="M33 10h1v1h-1zM38 12h1v1h-1zM40 15h1v1h-1zM27 26h1v1h-1zM40 28h1v1h-1z"/>
<path fill="#7d7d7d" d="M30 31h1v1h-1z"/>
<path fill="#7e7e7e" d="M29 13h1v1h-1zM28 15h1v1h-1zM41 19h1v1h-1zM41 24h1v1h-1zM28 28h1v1h-1zM35 32h1v1h-1z"/>
<path fill="#7f7f7f" d="M27 18h1v1h-1zM32 32h1v1h-1z"/>
<path fill="#808080" d="M41 20h1v1h-1zM41 23h1v1h-1zM27 25h1v1h-1zM33 32h2v1h-2z"/>
<path fill="#818181" d="M31 11h1v1h-1zM36 11h1v1h-1zM41 21h1v1h-1zM41 22h1v1h-1zM40 27h1v1h-1zM37 31h1v1h-1z"/>
<path fill="#828282" d="M30 12h1v1h-1zM40 16h1v1h-1zM39 29h1v1h-1z"/>
<path fill="#838383" d="M39 14h1v1h-1zM27 19h1v1h-1zM27 24h1v1h-1zM29 29h1v1h-1z"/>
<path fill="#848484" d="M38 30h1v1h-1zM31 31h1v1h-1z"/>
<path fill="#858585" d="M27 20h1v1h-1zM27 23h1v1h-1zM28 27h1v1h-1zM30 30h1v1h-1z"/>
<path fill="#868686" d="M37 12h1v1h-1zM27 21h1v1h-1zM27 22h1v1h-1zM40 26h1v1h-1zM36 31h1v1h-1z"/>
<path fill="#878787" d="M38 13h1v1h-1zM28 16h1v1h-1z"/>
<path fill="#888888" d="M35 11h1v1h-1zM29 14h1v1h-1zM40 17h1v1h-1z"/>
<path fill="#898989" d="M32 11h1v1h-1zM39 28h1v1h-1zM32 31h1v1h-1z"/>
<path fill="#8a8a8a" d="M40 25h1v1h-1z"/>
<path fill="#8b8b8b" d="M39 15h1v1h-1zM35 31h1v1h-1z"/>
<path fill="#8c8c8c" d="M28 26h1v1h-1zM37 30h1v1h-1zM33 31h1v1h-1z"/>
<path fill="#8d8d8d" d="M34 11h1v1h-1zM40 18h1v1h-1zM29 28h1v1h-1zM34 31h1v1h-1z"/>
<path fill="#8e8e8e" d="M33 11h1v1h-1zM30 13h1v1h-1zM40 24h1v1h-1zM38 29h1v1h-1z"/>
<path fill="#8f8f8f" d="M31 12h1v1h-1zM28 17h1v1h-1zM31 30h1v1h-1z"/>
<path fill="#909090" d="M39 27h1v1h-1zM30 29h1v1h-1z"/>
<path fill="#919191" d="M36 12h1v1h-1zM40 19h1v1h-1zM40 23h1v1h-1z"/>
<path fill="#929292" d="M38 14h1v1h-1zM28 25h1v1h-1z"/>
<path fill="#939393" d="M29 15h1v1h-1zM39 16h1v1h-1zM40 22h1v1h-1z"/>
<path fill="#949494" d="M37 13h1v1h-1zM40 20h1v1h-1zM40 21h1v1h-1zM36 30h1v1h-1z"/>
<path fill="#959595" d="M28 18h1v1h-1z"/>
<path fill="#969696" d="M28 24h1v1h-1zM39 26h1v1h-1z"/>
<path fill="#979797" d="M29 27h1v1h-1zM38 28h1v1h-1zM32 30h1v1h-1z"/>
<path fill="#989898" d="M28 23h1v1h-1z"/>
<path fill="#999999" d="M28 19h1v1h-1zM37 29h1v1h-1z"/>
<path fill="#9a9a9a" d="M32 12h1v1h-1zM35 12h1v1h-1zM28 22h1v1h-1zM35 30h1v1h-1z"/>
<path fill="#9b9b9b" d="M30 14h1v1h-1zM28 20h1v1h-1zM28 21h1v1h-1zM33 30h1v1h-1z"/>
<path fill="#9c9c9c" d="M39 17h1v1h-1zM39 25h1v1h-1zM34 30h1v1h-1z"/>
<path fill="#9d9d9d" d="M38 15h1v1h-1zM30 28h1v1h-1zM31 29h1v1h-1z"/>
<path fill="#9e9e9e" d="M31 13h1v1h-1zM29 16h1v1h-1z"/>
<path fill="#a0a0a0" d="M33 12h2v1h-2zM29 26h1v1h-1zM38 27h1v1h-1z"/>
<path fill="#a1a1a1" d="M39 24h1v1h-1z"/>
<path fill="#a2a2a2" d="M36 13h1v1h-1zM37 14h1v1h-1z"/>
<path fill="#a3a3a3" d="M39 18h1v1h-1zM36 29h1v1h-1z"/>
<path fill="#a5a5a5" d="M39 23h1v1h-1zM37 28h1v1h-1z"/>
<path fill="#a7a7a7" d="M39 19h1v1h-1zM29 25h1v1h-1zM32 29h1v1h-1z"/>
<path fill="#a8a8a8" d="M38 16h1v1h-1zM29 17h1v1h-1zM39 22h1v1h-1z"/>
<path fill="#a9a9a9" d="M30 15h1v1h-1zM38 26h1v1h-1zM30 27h1v1h-1z"/>
<path fill="#aaaaaa" d="M39 20h1v1h-1zM39 21h1v1h-1zM35 29h1v1h-1z"/>
<path fill="#ababab" d="M32 13h1v1h-1z"/>
<path fill="#acacac" d="M35 13h1v1h-1zM29 24h1v1h-1zM31 28h1v1h-1z"/>
<path fill="#adadad" d="M33 29h1v1h-1z"/>
<path fill="#aeaeae" d="M31 14h1v1h-1zM34 29h1v1h-1z"/>
<path fill="#afafaf" d="M29 18h1v1h-1zM29 23h1v1h-1z"/>
<path fill="#b0b0b0" d="M37 15h1v1h-1zM38 25h1v1h-1z"/>
<path fill="#b1b1b1" d="M29 22h1v1h-1zM37 27h1v1h-1z"/>
<path fill="#b2b2b2" d="M33 13h2v1h-2zM36 14h1v1h-1zM38 17h1v1h-1zM29 19h1v1h-1zM29 21h1v1h-1zM36 28h1v1h-1z"/>
<path fill="#b3b3b3" d="M29 20h1v1h-1z"/>
<path fill="#b4b4b4" d="M30 26h1v1h-1z"/>
<path fill="#b6b6b6" d="M30 16h1v1h-1zM38 24h1v1h-1z"/>
<path fill="#b8b8b8" d="M32 28h1v1h-1z"/>
<path fill="#bababa" d="M38 18h1v1h-1zM31 27h1v1h-1z"/>
<path fill="#bbbbbb" d="M38 23h1v1h-1zM37 26h1v1h-1zM35 28h1v1h-1z"/>
<path fill="#bcbcbc" d="M32 14h1v1h-1zM30 25h1v1h-1z"/>
<path fill="#bdbdbd" d="M37 16h1v1h-1z"/>
<path fill="#bebebe" d="M31 15h1v1h-1zM38 22h1v1h-1z"/>
<path fill="#bfbfbf" d="M35 14h1v1h-1zM38 19h1v1h-1zM33 28h1v1h-1z"/>
<path fill="#c0c0c0" d="M36 27h1v1h-1zM34 28h1v1h-1z"/>
<path fill="#c1c1c1" d="M30 17h1v1h-1zM38 20h1v1h-1zM38 21h1v1h-1zM30 24h1v1h-1z"/>
<path fill="#c2c2c2" d="M36 15h1v1h-1z"/>
<path fill="#c3c3c3" d="M37 25h1v1h-1z"/>
<path fill="#c5c5c5" d="M33 14h2v1h-2zM30 23h1v1h-1z"/>
<path fill="#c6c6c6" d="M31 26h1v1h-1z"/>
<path fill="#c7c7c7" d="M32 27h1v1h-1z"/>
<path fill="#c8c8c8" d="M37 17h1v1h-1zM30 18h1v1h-1zM30 22h1v1h-1z"/>
<path fill="#cacaca" d="M30 21h1v1h-1zM37 24h1v1h-1z"/>
<path fill="#cbcbcb" d="M30 19h1v1h-1zM36 26h1v1h-1zM35 27h1v1h-1z"/>
<path fill="#cccccc" d="M31 16h1v1h-1zM30 20h1v1h-1z"/>
<path fill="#cecece" d="M32 15h1v1h-1z"/>
<path fill="#cfcfcf" d="M37 23h1v1h-1zM31 25h1v1h-1zM33 27h1v1h-1z"/>
<path fill="#d0d0d0" d="M35 15h1v1h-1zM34 27h1v1h-1z"/>
<path fill="#d1d1d1" d="M36 16h1v1h-1zM37 18h1v1h-1z"/>
<path fill="#d3d3d3" d="M37 22h1v1h-1z"/>
<path fill="#d4d4d4" d="M36 25h1v1h-1zM32 26h1v1h-1z"/>
<path fill="#d5d5d5" d="M31 24h1v1h-1z"/>
<path fill="#d6d6d6" d="M37 19h1v1h-1zM37 21h1v1h-1z"/>
<path fill="#d7d7d7" d="M33 15h1v1h-1zM35 26h1v1h-1z"/>
<path fill="#d8d8d8" d="M34 15h1v1h-1zM31 17h1v1h-1zM37 20h1v1h-1z"/>
<path fill="#d9d9d9" d="M31 23h1v1h-1z"/>
<path fill="#dbdbdb" d="M36 24h1v1h-1z"/>
<path fill="#dcdcdc" d="M33 26h1v1h-1z"/>
<path fill="#dddddd" d="M36 17h1v1h-1zM31 22h1v1h-1zM34 26h1v1h-1z"/>
<path fill="#dedede" d="M32 16h1v1h-1zM32 25h1v1h-1z"/>
<path fill="#dfdfdf" d="M31 18h1v1h-1z"/>
<path fill="#e0e0e0" d="M35 16h1v1h-1zM31 21h1v1h-1zM36 23h1v1h-1zM35 25h1v1h-1z"/>
<path fill="#e2e2e2" d="M31 19h1v1h-1zM31 20h1v1h-1z"/>
<path fill="#e4e4e4" d="M32 24h1v1h-1z"/>
<path fill="#e5e5e5" d="M36 18h1v1h-1zM36 22h1v1h-1z"/>
<path fill="#e6e6e6" d="M33 25h1v1h-1z"/>
<path fill="#e7e7e7" d="M33 16h1v1h-1zM35 24h1v1h-1zM34 25h1v1h-1z"/>
<path fill="#e8e8e8" d="M34 16h1v1h-1z"/>
<path fill="#e9e9e9" d="M36 21h1v1h-1zM32 23h1v1h-1z"/>
<path fill="#eaeaea" d="M32 17h1v1h-1zM36 19h1v1h-1z"/>
<path fill="#ebebeb" d="M36 20h1v1h-1z"/>
<path fill="#ececec" d="M35 17h1v1h-1z"/>
<path fill="#ededed" d="M32 22h1v1h-1zM35 23h1v1h-1zM33 24h1v1h-1z"/>
<path fill="#eeeeee" d="M34 24h1v1h-1z"/>
<path fill="#f0f0f0" d="M32 21h1v1h-1z"/>
<path fill="#f1f1f1" d="M32 18h1v1h-1z"/>
<path fill="#f2f2f2" d="M35 22h1v1h-1zM33 23h1v1h-1z"/>
<path fill="#f3f3f3" d="M33 17h1v1h-1zM32 20h1v1h-1zM34 23h1v1h-1z"/>
<path fill="#f4f4f4" d="M34 17h1v1h-1zM35 18h1v1h-1zM32 19h1v1h-1z"/>
<path fill="#f6f6f6" d="M35 21h1v1h-1zM33 22h1v1h-1z"/>
<path fill="#f8f8f8" d="M35 19h1v1h-1zM35 20h1v1h-1zM34 22h1v1h-1z"/>
<path fill="#fafafa" d="M33 21h1v1h-1z"/>
<path fill="#fbfbfb" d="M33 18h1v1h-1z"/>
<path fill="#fcfcfc" d="M34 18h1v1h-1zM34 21h1v1h-1z"/>
<path fill="#fdfdfd" d="M33 20h1v1h-1z"/>
<path fill="#fefefe" d="M33 19h1v1h-1zM34 20h1v1h-1z"/>
<path fill="#ffffff" d="M34 19h1v1h-1z"/>
</g></g>
<path d="M851.5 47.81V580.24M1048.5 47.81V580.24" stroke="#fff" stroke-width="1" fill="none"/>
<path d="M699.76 370.77H1232.19" stroke="#CD2626" stroke-width="1.5" stroke-dasharray="6 6" stroke-linecap="round" fill="none"/>
<path d="M922.76 580.24V47.81" stroke="#006400" stroke-width="1.5" stroke-dasharray="6 6" stroke-linecap="round" fill="none"/>
<path d="M1008.04 580.24V47.81" stroke="#006400" stroke-width="1.5" stroke-dasharray="6 6" stroke-linecap="round" fill="none"/>
</g>
<rect x="699.76" y="47.81" width="532.43" height="532.43" fill="none" stroke="#000" stroke-width="0.75"/>
<path d="M749.52 580.24v5.98M857.46 580.24v5.98M965.40 580.24v5.98M1073.34 580.24v5.98M1181.28 580.24v5.98M749.52 580.24H1181.28" stroke="#000" stroke-width="0.75" fill="none"/>
<text x="749.52" y="601.80" font-size="10" text-anchor="middle">-400</text>
<text x="857.46" y="601.80" font-size="10" text-anchor="middle">-200</text>
<text x="965.40" y="601.80" font-size="10" text-anchor="middle">0</text>
<text x="1073.34" y="601.80" font-size="10" text-anchor="middle">200</text>
<text x="1181.28" y="601.80" font-size="10" text-anchor="middle">400</text>
<path d="M699.76 500.80h-5.98M699.76 384.70h-5.98M699.76 268.60h-5.98M699.76 152.50h-5.98M699.76 500.80V152.50" stroke="#000" stroke-width="0.75" fill="none"/>
<text transform="translate(684.60 500.80) rotate(-90)" font-size="10" text-anchor="middle">80</text>
<text transform="translate(684.60 384.70) rotate(-90)" font-size="10" text-anchor="middle">85</text>
<text transform="translate(684.60 268.60) rotate(-90)" font-size="10" text-anchor="middle">90</text>
<text transform="translate(684.60 152.50) rotate(-90)" font-size="10" text-anchor="middle">95</text>
<text x="965.98" y="31.70" font-size="21.5" font-weight="bold" text-anchor="middle">Density heat map for the top hits</text>
<text x="965.98" y="625.90" font-size="15.95" text-anchor="middle">Distance to peak summit</text>
<text transform="translate(662.00 314.02) rotate(-90)" font-size="15.95" text-anchor="middle">Motif score</text>
<path d="M79.0 1200.52 80.0 1200.00 81.0 1199.91 82.0 1199.84 83.0 1199.78 84.0 1199.72 85.0 1199.67 86.0 1199.63 87.0 1199.59 88.0 1199.56 89.0 1199.54 90.0 1199.52 91.0 1199.50 92.0 1199.49 93.0 1199.48 94.0 1199.47 95.0 1199.47 96.0 1199.47 97.0 1199.46 98.0 1199.46 99.0 1199.46 100.0 1199.46 101.0 1199.45 102.0 1199.45 103.0 1199.44 104.0 1199.43 105.0 1199.42 106.0 1199.40 107.0 1199.38 108.0 1199.35 109.0 1199.32 110.0 1199.28 111.0 1199.23 112.0 1199.18 113.0 1199.12 114.0 1199.05 115.0 1198.98 116.0 1198.89 117.0 1198.79 118.0 1198.69 119.0 1198.57 120.0 1198.44 121.0 1198.30 122.0 1198.15 123.0 1197.98 124.0 1197.80 125.0 1197.61 126.0 1197.40 127.0 1197.18 128.0 1196.94 129.0 1196.68 130.0 1196.41 131.0 1196.12 132.0 1195.81 133.0 1195.49 134.0 1195.14 135.0 1194.78 136.0 1194.40 137.0 1193.99 138.0 1193.57 139.0 1193.12 140.0 1192.65 141.0 1192.16 142.0 1191.64 143.0 1191.10 144.0 1190.54 145.0 1189.95 146.0 1189.33 147.0 1188.69 148.0 1188.02 149.0 1187.31 150.0 1186.58 151.0 1185.80 152.0 1184.99 153.0 1184.14 154.0 1183.25 155.0 1182.31 156.0 1181.33 157.0 1180.30 158.0 1179.23 159.0 1178.10 160.0 1176.92 161.0 1175.69 162.0 1174.40 163.0 1173.05 164.0 1171.64 165.0 1170.17 166.0 1168.63 167.0 1167.03 168.0 1165.36 169.0 1163.62 170.0 1161.81 171.0 1159.93 172.0 1157.97 173.0 1155.93 174.0 1153.82 175.0 1151.62 176.0 1149.34 177.0 1146.98 178.0 1144.53 179.0 1141.99 180.0 1139.36 181.0 1136.64 182.0 1133.82 183.0 1130.90 184.0 1127.88 185.0 1124.75 186.0 1121.50 187.0 1118.14 188.0 1114.65 189.0 1111.04 190.0 1107.29 191.0 1103.41 192.0 1099.39 193.0 1095.23 194.0 1090.91 195.0 1086.45 196.0 1081.83 197.0 1077.07 198.0 1072.20 199.0 1067.23 200.0 1062.19 201.0 1057.09 202.0 1051.95 203.0 1046.80 204.0 1041.63 205.0 1036.47 206.0 1031.31 207.0 1026.18 208.0 1021.08 209.0 1016.02 210.0 1011.01 211.0 1006.07 212.0 1001.20 213.0 996.42 214.0 991.73 215.0 987.14 216.0 982.65 217.0 978.25 218.0 973.92 219.0 969.67 220.0 965.47 221.0 961.32 222.0 957.21 223.0 953.13 224.0 949.07 225.0 945.02 226.0 940.97 227.0 936.92 228.0 932.85 229.0 928.75 230.0 924.62 231.0 920.44 232.0 916.21 233.0 911.92 234.0 907.55 235.0 903.10 236.0 898.56 237.0 893.94 238.0 889.25 239.0 884.51 240.0 879.74 241.0 874.94 242.0 870.14 243.0 865.34 244.0 860.57 245.0 855.83 246.0 851.14 247.0 846.51 248.0 841.97 249.0 837.51 250.0 833.12 251.0 828.79 252.0 824.52 253.0 820.28 254.0 816.06 255.0 811.86 256.0 807.65 257.0 803.49 258.0 799.44 259.0 795.62 260.0 792.11 261.0 788.95 262.0 786.13 263.0 783.62 264.0 781.40 265.0 779.46 266.0 777.77 267.0 776.31 268.0 775.06 269.0 774.02 270.0 773.17 271.0 772.51 272.0 772.04 273.0 771.74 274.0 771.61 275.0 771.64 276.0 771.83 277.0 772.17 278.0 772.65 279.0 773.27 280.0 774.02 281.0 774.89 282.0 775.88 283.0 776.98 284.0 778.18 285.0 779.48 286.0 780.87 287.0 782.34 288.0 783.89 289.0 785.51 290.0 787.19 291.0 788.92 292.0 790.69 293.0 792.48 294.0 794.29 295.0 796.10 296.0 797.90 297.0 799.68 298.0 801.42 299.0 803.12 300.0 804.77 301.0 806.34 302.0 807.84 303.0 809.24 304.0 810.54 305.0 811.72 306.0 812.78 307.0 813.70 308.0 814.48 309.0 815.11 310.0 815.61 311.0 815.96 312.0 816.18 313.0 816.26 314.0 816.21 315.0 816.02 316.0 815.70 317.0 815.25 318.0 814.67 319.0 813.96 320.0 813.14 321.0 812.20 322.0 811.16 323.0 810.04 324.0 808.83 325.0 807.56 326.0 806.23 327.0 804.85 328.0 803.43 329.0 801.98 330.0 800.51 331.0 799.04 332.0 797.57 333.0 796.11 334.0 794.68 335.0 793.27 336.0 791.91 337.0 790.60 338.0 789.36 339.0 788.19 340.0 787.10 341.0 786.10 342.0 785.19 343.0 784.35 344.0 783.57 345.0 782.84 346.0 782.16 347.0 781.51 348.0 780.88 349.0 780.27 350.0 779.66 351.0 779.04 352.0 778.40 353.0 777.73 354.0 777.03 355.0 776.28 356.0 775.49 357.0 774.66 358.0 773.77 359.0 772.83 360.0 771.84 361.0 770.80 362.0 769.71 363.0 768.55 364.0 767.34 365.0 766.06 366.0 764.73 367.0 763.33 368.0 761.86 369.0 760.33 370.0 758.72 371.0 757.05 372.0 755.30 373.0 753.48 374.0 751.58 375.0 749.60 376.0 747.55 377.0 745.43 378.0 743.25 379.0 741.02 380.0 738.76 381.0 736.48 382.0 734.19 383.0 731.90 384.0 729.63 385.0 727.37 386.0 725.16 387.0 722.99 388.0 720.89 389.0 718.87 390.0 716.95 391.0 715.16 392.0 713.51 393.0 712.01 394.0 710.70 395.0 709.59 396.0 708.69 397.0 708.04 398.0 707.63 399.0 707.50 400.0 707.63 401.0 708.00 402.0 708.59 403.0 709.37 404.0 710.34 405.0 711.46 406.0 712.73 407.0 714.11 408.0 715.60 409.0 717.16 410.0 718.79 411.0 720.47 412.0 722.21 413.0 724.02 414.0 725.89 415.0 727.83 416.0 729.84 417.0 731.92 418.0 734.09 419.0 736.33 420.0 738.67 421.0 741.09 422.0 743.60 423.0 746.24 424.0 749.00 425.0 751.91 426.0 755.00 427.0 758.26 428.0 761.71 429.0 765.35 430.0 769.17 431.0 773.19 432.0 777.39 433.0 781.77 434.0 786.34 435.0 791.10 436.0 796.05 437.0 801.15 438.0 806.32 439.0 811.47 440.0 816.48 441.0 821.28 442.0 825.76 443.0 829.87 444.0 833.73 445.0 837.49 446.0 841.28 447.0 845.21 448.0 849.36 449.0 853.79 450.0 858.55 451.0 863.60 452.0 868.77 453.0 873.92 454.0 879.02 455.0 884.08 456.0 889.11 457.0 894.11 458.0 899.10 459.0 904.08 460.0 909.08 461.0 914.09 462.0 919.13 463.0 924.21 464.0 929.33 465.0 934.52 466.0 939.77 467.0 945.10 468.0 950.47 469.0 955.86 470.0 961.24 471.0 966.54 472.0 971.69 473.0 976.71 474.0 981.71 475.0 986.77 476.0 991.95 477.0 997.22 478.0 1002.59 479.0 1008.02 480.0 1013.50 481.0 1019.02 482.0 1024.56 483.0 1030.10 484.0 1035.63 485.0 1041.13 486.0 1046.58 487.0 1051.97 488.0 1057.29 489.0 1062.51 490.0 1067.62 491.0 1072.61 492.0 1077.46 493.0 1082.16 494.0 1086.74 495.0 1091.20 496.0 1095.56 497.0 1099.82 498.0 1104.01 499.0 1108.14 500.0 1112.21 501.0 1116.20 502.0 1120.11 503.0 1123.93 504.0 1127.65 505.0 1131.26 506.0 1134.75 507.0 1138.11 508.0 1141.32 509.0 1144.39 510.0 1147.31 511.0 1150.09 512.0 1152.73 513.0 1155.24 514.0 1157.64 515.0 1159.91 516.0 1162.08 517.0 1164.15 518.0 1166.13 519.0 1168.02 520.0 1169.83 521.0 1171.57 522.0 1173.24 523.0 1174.84 524.0 1176.39 525.0 1177.87 526.0 1179.29 527.0 1180.65 528.0 1181.95 529.0 1183.20 530.0 1184.39 531.0 1185.53 532.0 1186.62 533.0 1187.65 534.0 1188.63 535.0 1189.56 536.0 1190.44 537.0 1191.28 538.0 1192.07 539.0 1192.82 540.0 1193.52 541.0 1194.18 542.0 1194.80 543.0 1195.37 544.0 1195.91 545.0 1196.42 546.0 1196.88 547.0 1197.31 548.0 1197.71 549.0 1198.07 550.0 1198.40 551.0 1198.70 552.0 1198.98 553.0 1199.22 554.0 1199.44 555.0 1199.63 556.0 1199.80 557.0 1199.94 558.0 1200.06 559.0 1200.17 560.0 1200.25 561.0 1200.31 562.0 1200.36 563.0 1200.39 564.0 1200.40 565.0 1200.41 566.0 1200.40 567.0 1200.38 568.0 1200.34 569.0 1200.30 570.0 1200.26 571.0 1200.20 572.0 1200.52Z" fill="#F5DEB3" stroke="#000" stroke-width="1.1"/>
<g clip-path="url(#c2)"><path d="M281.23 1220.24V687.81" stroke="#CD2626" stroke-width="1.5" stroke-dasharray="6 6" stroke-linecap="round" fill="none"/></g>
<rect x="59.76" y="687.81" width="532.43" height="532.43" fill="none" stroke="#000" stroke-width="0.75"/>
<path d="M88.10 1220.24v5.98M179.20 1220.24v5.98M270.30 1220.24v5.98M361.40 1220.24v5.98M452.50 1220.24v5.98M543.60 1220.24v5.98M88.10 1220.24H543.60" stroke="#000" stroke-width="0.75" fill="none"/>
<text x="88.10" y="1241.80" font-size="10" text-anchor="middle">75</text>
<text x="179.20" y="1241.80" font-size="10" text-anchor="middle">80</text>
<text x="270.30" y="1241.80" font-size="10" text-anchor="middle">85</text>
<text x="361.40" y="1241.80" font-size="10" text-anchor="middle">90</text>
<text x="452.50" y="1241.80" font-size="10" text-anchor="middle">95</text>
<text x="543.60" y="1241.80" font-size="10" text-anchor="middle">100</text>
<path d="M59.76 1200.52h-5.98M59.76 1076.81h-5.98M59.76 953.10h-5.98M59.76 829.38h-5.98M59.76 705.67h-5.98M59.76 1200.52V705.67" stroke="#000" stroke-width="0.75" fill="none"/>
<text transform="translate(44.60 1200.52) rotate(-90)" font-size="10" text-anchor="middle">0.00</text>
<text transform="translate(44.60 1076.81) rotate(-90)" font-size="10" text-anchor="middle">0.02</text>
<text transform="translate(44.60 953.10) rotate(-90)" font-size="10" text-anchor="middle">0.04</text>
<text transform="translate(44.60 829.38) rotate(-90)" font-size="10" text-anchor="middle">0.06</text>
<text transform="translate(44.60 705.67) rotate(-90)" font-size="10" text-anchor="middle">0.08</text>
<text x="325.98" y="671.70" font-size="21.5" font-weight="bold" text-anchor="middle">Motif score threshold: 85.600</text>
<text x="325.98" y="1265.90" font-size="15.95" text-anchor="middle">Motif score</text>
<text transform="translate(22.00 954.02) rotate(-90)" font-size="15.95" text-anchor="middle">Density</text>
<path d="M719.0 1200.52 720.0 1200.00 721.0 1199.79 722.0 1199.59 723.0 1199.41 724.0 1199.24 725.0 1199.06 726.0 1198.88 727.0 1198.68 728.0 1198.46 729.0 1198.21 730.0 1197.92 731.0 1197.58 732.0 1197.19 733.0 1196.74 734.0 1196.22 735.0 1195.62 736.0 1194.93 737.0 1194.15 738.0 1193.27 739.0 1192.28 740.0 1191.18 741.0 1189.95 742.0 1188.59 743.0 1187.09 744.0 1185.44 745.0 1183.64 746.0 1181.68 747.0 1179.54 748.0 1177.23 749.0 1174.73 750.0 1172.04 751.0 1169.16 752.0 1166.13 753.0 1162.97 754.0 1159.71 755.0 1156.38 756.0 1153.00 757.0 1149.61 758.0 1146.22 759.0 1142.88 760.0 1139.60 761.0 1136.41 762.0 1133.35 763.0 1130.43 764.0 1127.67 765.0 1125.04 766.0 1122.55 767.0 1120.18 768.0 1117.93 769.0 1115.80 770.0 1113.77 771.0 1111.83 772.0 1109.99 773.0 1108.22 774.0 1106.53 775.0 1104.90 776.0 1103.34 777.0 1101.82 778.0 1100.35 779.0 1098.92 780.0 1097.51 781.0 1096.14 782.0 1094.80 783.0 1093.49 784.0 1092.21 785.0 1090.97 786.0 1089.77 787.0 1088.62 788.0 1087.50 789.0 1086.43 790.0 1085.41 791.0 1084.43 792.0 1083.51 793.0 1082.64 794.0 1081.82 795.0 1081.06 796.0 1080.36 797.0 1079.71 798.0 1079.13 799.0 1078.61 800.0 1078.16 801.0 1077.77 802.0 1077.46 803.0 1077.21 804.0 1077.02 805.0 1076.90 806.0 1076.83 807.0 1076.82 808.0 1076.85 809.0 1076.93 810.0 1077.05 811.0 1077.20 812.0 1077.39 813.0 1077.60 814.0 1077.84 815.0 1078.10 816.0 1078.37 817.0 1078.66 818.0 1078.96 819.0 1079.25 820.0 1079.55 821.0 1079.83 822.0 1080.09 823.0 1080.32 824.0 1080.52 825.0 1080.68 826.0 1080.79 827.0 1080.85 828.0 1080.85 829.0 1080.78 830.0 1080.64 831.0 1080.41 832.0 1080.10 833.0 1079.69 834.0 1079.19 835.0 1078.61 836.0 1077.95 837.0 1077.21 838.0 1076.40 839.0 1075.51 840.0 1074.57 841.0 1073.56 842.0 1072.50 843.0 1071.38 844.0 1070.21 845.0 1069.00 846.0 1067.75 847.0 1066.47 848.0 1065.15 849.0 1063.80 850.0 1062.43 851.0 1061.04 852.0 1059.63 853.0 1058.21 854.0 1056.78 855.0 1055.35 856.0 1053.92 857.0 1052.49 858.0 1051.07 859.0 1049.65 860.0 1048.24 861.0 1046.83 862.0 1045.41 863.0 1044.00 864.0 1042.59 865.0 1041.18 866.0 1039.76 867.0 1038.34 868.0 1036.92 869.0 1035.49 870.0 1034.05 871.0 1032.60 872.0 1031.14 873.0 1029.68 874.0 1028.20 875.0 1026.71 876.0 1025.21 877.0 1023.69 878.0 1022.16 879.0 1020.61 880.0 1019.05 881.0 1017.46 882.0 1015.86 883.0 1014.23 884.0 1012.58 885.0 1010.91 886.0 1009.20 887.0 1007.46 888.0 1005.69 889.0 1003.88 890.0 1002.04 891.0 1000.15 892.0 998.21 893.0 996.23 894.0 994.20 895.0 992.12 896.0 989.98 897.0 987.79 898.0 985.53 899.0 983.21 900.0 980.83 901.0 978.38 902.0 975.87 903.0 973.27 904.0 970.61 905.0 967.87 906.0 965.04 907.0 962.14 908.0 959.15 909.0 956.07 910.0 952.90 911.0 949.64 912.0 946.28 913.0 942.83 914.0 939.27 915.0 935.61 916.0 931.85 917.0 927.98 918.0 924.00 919.0 919.90 920.0 915.69 921.0 911.37 922.0 906.92 923.0 902.35 924.0 897.65 925.0 892.82 926.0 887.87 927.0 882.78 928.0 877.55 929.0 872.19 930.0 866.69 931.0 861.07 932.0 855.33 933.0 849.51 934.0 843.67 935.0 837.86 936.0 832.10 937.0 826.34 938.0 820.53 939.0 814.65 940.0 808.67 941.0 802.64 942.0 796.56 943.0 790.47 944.0 784.37 945.0 778.30 946.0 772.28 947.0 766.32 948.0 760.45 949.0 754.69 950.0 749.07 951.0 743.66 952.0 738.51 953.0 733.70 954.0 729.27 955.0 725.30 956.0 721.85 957.0 718.93 958.0 716.48 959.0 714.39 960.0 712.58 961.0 710.98 962.0 709.62 963.0 708.53 964.0 707.75 965.0 707.33 966.0 707.31 967.0 707.73 968.0 708.63 969.0 710.02 970.0 711.90 971.0 714.22 972.0 716.98 973.0 720.16 974.0 723.73 975.0 727.68 976.0 731.98 977.0 736.62 978.0 741.57 979.0 746.79 980.0 752.18 981.0 757.66 982.0 763.12 983.0 768.46 984.0 773.61 985.0 778.58 986.0 783.43 987.0 788.23 988.0 793.04 989.0 797.87 990.0 802.72 991.0 807.59 992.0 812.47 993.0 817.36 994.0 822.24 995.0 827.13 996.0 832.01 997.0 836.87 998.0 841.72 999.0 846.54 1000.0 851.34 1001.0 856.11 1002.0 860.84 1003.0 865.53 1004.0 870.18 1005.0 874.77 1006.0 879.31 1007.0 883.79 1008.0 888.20 1009.0 892.55 1010.0 896.82 1011.0 901.01 1012.0 905.12 1013.0 909.14 1014.0 913.07 1015.0 916.90 1016.0 920.62 1017.0 924.24 1018.0 927.75 1019.0 931.14 1020.0 934.41 1021.0 937.55 1022.0 940.57 1023.0 943.48 1024.0 946.27 1025.0 948.94 1026.0 951.51 1027.0 953.98 1028.0 956.35 1029.0 958.63 1030.0 960.81 1031.0 962.91 1032.0 964.92 1033.0 966.85 1034.0 968.71 1035.0 970.50 1036.0 972.22 1037.0 973.87 1038.0 975.47 1039.0 977.01 1040.0 978.49 1041.0 979.93 1042.0 981.33 1043.0 982.70 1044.0 984.05 1045.0 985.39 1046.0 986.72 1047.0 988.05 1048.0 989.39 1049.0 990.76 1050.0 992.16 1051.0 993.59 1052.0 995.07 1053.0 996.60 1054.0 998.20 1055.0 999.87 1056.0 1001.61 1057.0 1003.41 1058.0 1005.27 1059.0 1007.19 1060.0 1009.16 1061.0 1011.16 1062.0 1013.21 1063.0 1015.30 1064.0 1017.41 1065.0 1019.55 1066.0 1021.70 1067.0 1023.87 1068.0 1026.06 1069.0 1028.24 1070.0 1030.43 1071.0 1032.61 1072.0 1034.78 1073.0 1036.94 1074.0 1039.08 1075.0 1041.19 1076.0 1043.28 1077.0 1045.33 1078.0 1047.34 1079.0 1049.30 1080.0 1051.22 1081.0 1053.08 1082.0 1054.89 1083.0 1056.63 1084.0 1058.30 1085.0 1059.90 1086.0 1061.43 1087.0 1062.90 1088.0 1064.29 1089.0 1065.63 1090.0 1066.90 1091.0 1068.12 1092.0 1069.28 1093.0 1070.38 1094.0 1071.43 1095.0 1072.43 1096.0 1073.39 1097.0 1074.30 1098.0 1075.16 1099.0 1075.99 1100.0 1076.77 1101.0 1077.52 1102.0 1078.23 1103.0 1078.91 1104.0 1079.56 1105.0 1080.18 1106.0 1080.78 1107.0 1081.35 1108.0 1081.90 1109.0 1082.43 1110.0 1082.94 1111.0 1083.44 1112.0 1083.91 1113.0 1084.38 1114.0 1084.82 1115.0 1085.25 1116.0 1085.67 1117.0 1086.06 1118.0 1086.44 1119.0 1086.81 1120.0 1087.15 1121.0 1087.48 1122.0 1087.79 1123.0 1088.09 1124.0 1088.37 1125.0 1088.63 1126.0 1088.88 1127.0 1089.10 1128.0 1089.31 1129.0 1089.51 1130.0 1089.68 1131.0 1089.84 1132.0 1089.99 1133.0 1090.11 1134.0 1090.22 1135.0 1090.31 1136.0 1090.38 1137.0 1090.44 1138.0 1090.48 1139.0 1090.51 1140.0 1090.53 1141.0 1090.56 1142.0 1090.61 1143.0 1090.68 1144.0 1090.79 1145.0 1090.94 1146.0 1091.15 1147.0 1091.42 1148.0 1091.76 1149.0 1092.19 1150.0 1092.71 1151.0 1093.34 1152.0 1094.07 1153.0 1094.93 1154.0 1095.91 1155.0 1097.04 1156.0 1098.32 1157.0 1099.76 1158.0 1101.36 1159.0 1103.15 1160.0 1105.12 1161.0 1107.29 1162.0 1109.63 1163.0 1112.14 1164.0 1114.80 1165.0 1117.59 1166.0 1120.50 1167.0 1123.51 1168.0 1126.61 1169.0 1129.78 1170.0 1133.00 1171.0 1136.26 1172.0 1139.54 1173.0 1142.83 1174.0 1146.12 1175.0 1149.38 1176.0 1152.60 1177.0 1155.76 1178.0 1158.86 1179.0 1161.87 1180.0 1164.78 1181.0 1167.57 1182.0 1170.23 1183.0 1172.75 1184.0 1175.14 1185.0 1177.39 1186.0 1179.52 1187.0 1181.52 1188.0 1183.40 1189.0 1185.16 1190.0 1186.81 1191.0 1188.34 1192.0 1189.77 1193.0 1191.08 1194.0 1192.30 1195.0 1193.41 1196.0 1194.42 1197.0 1195.34 1198.0 1196.17 1199.0 1196.92 1200.0 1197.57 1201.0 1198.15 1202.0 1198.64 1203.0 1199.06 1204.0 1199.41 1205.0 1199.69 1206.0 1199.90 1207.0 1200.04 1208.0 1200.13 1209.0 1200.16 1210.0 1200.13 1211.0 1200.06 1212.0 1200.52Z" fill="#F5DEB3" stroke="#000" stroke-width="1.1"/>
<g clip-path="url(#c3)">
<path d="M932.34 1220.24V687.81" stroke="#006400" stroke-width="1.5" stroke-dasharray="6 6" stroke-linecap="round" fill="none"/>
<path d="M998.46 1220.24V687.81" stroke="#006400" stroke-width="1.5" stroke-dasharray="6 6" stroke-linecap="round" fill="none"/>
</g>
<rect x="699.76" y="687.81" width="532.43" height="532.43" fill="none" stroke="#000" stroke-width="0.75"/>
<path d="M714.30 1220.24v5.98M798.00 1220.24v5.98M881.70 1220.24v5.98M965.40 1220.24v5.98M1049.10 1220.24v5.98M1132.80 1220.24v5.98M1216.50 1220.24v5.98M714.30 1220.24H1216.50" stroke="#000" stroke-width="0.75" fill="none"/>
<text x="714.30" y="1241.80" font-size="10" text-anchor="middle">-600</text>
<text x="798.00" y="1241.80" font-size="10" text-anchor="middle">-400</text>
<text x="881.70" y="1241.80" font-size="10" text-anchor="middle">-200</text>
<text x="965.40" y="1241.80" font-size="10" text-anchor="middle">0</text>
<text x="1049.10" y="1241.80" font-size="10" text-anchor="middle">200</text>
<text x="1132.80" y="1241.80" font-size="10" text-anchor="middle">400</text>
<text x="1216.50" y="1241.80" font-size="10" text-anchor="middle">600</text>
<path d="M699.76 1200.30h-5.98M699.76 1096.30h-5.98M699.76 992.30h-5.98M699.76 888.30h-5.98M699.76 784.30h-5.98M699.76 1200.30V784.30" stroke="#000" stroke-width="0.75" fill="none"/>
<text transform="translate(684.60 1200.30) rotate(-90)" font-size="10" text-anchor="middle">0.0000</text>
<text transform="translate(684.60 1096.30) rotate(-90)" font-size="10" text-anchor="middle">0.0005</text>
<text transform="translate(684.60 992.30) rotate(-90)" font-size="10" text-anchor="middle">0.0010</text>
<text transform="translate(684.60 888.30) rotate(-90)" font-size="10" text-anchor="middle">0.0015</text>
<text transform="translate(684.60 784.30) rotate(-90)" font-size="10" text-anchor="middle">0.0020</text>
<text x="965.98" y="671.70" font-size="21.5" font-weight="bold" text-anchor="middle">Enrichment zone: 79.00</text>
<text x="965.98" y="1265.90" font-size="15.95" text-anchor="middle">Distance to peak summit</text>
<text transform="translate(662.00 954.02) rotate(-90)" font-size="15.95" text-anchor="middle">Density</text>
<path d="M1017 703.7h24.2" stroke="#006400" stroke-width="1" stroke-dasharray="2 2.4" fill="none"/>
<path d="M1017 718.9h24.2" stroke="#FF0000" stroke-width="1" stroke-dasharray="2 2.4" fill="none" opacity=".8"/>
<ellipse cx="1029" cy="734.4" rx="3" ry="2.6" fill="#0000FF"/>
<text x="1052.4" y="708.20" font-size="12.8">enrichment zone = 79</text>
<text x="1052.4" y="723.40" font-size="12.8">motif score threshold = 85.600</text>
<text x="1052.4" y="738.60" font-size="12.8">centrality p-val = -2.2626</text>
</svg></body></html>
